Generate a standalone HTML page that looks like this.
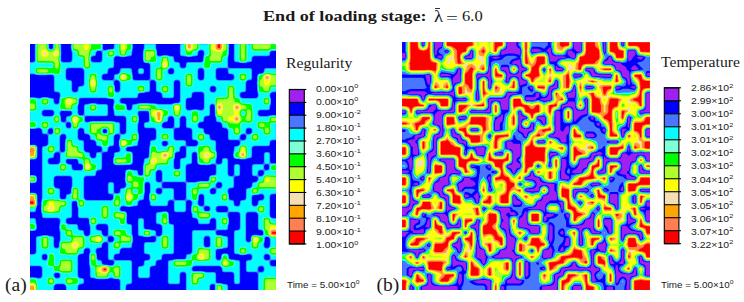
<!DOCTYPE html>
<html><head><meta charset="utf-8">
<style>
html,body{margin:0;padding:0;background:#fff;width:744px;height:302px;overflow:hidden;position:relative}
.t{position:absolute;white-space:nowrap;line-height:1}
.serif{font-family:"Liberation Serif",serif;color:#1a1a1a}
.sans{font-family:"Liberation Sans",sans-serif;color:#1a1a1a}
.lab{position:absolute;font-family:"Liberation Sans",sans-serif;font-size:8.7px;color:#1a1a1a;white-space:nowrap;line-height:1;transform:scaleX(1.2);transform-origin:0 0}
.lab sup{font-size:6px;vertical-align:0;position:relative;top:-3.5px;margin-left:0.3px}
</style></head><body>
<div class="t serif" id="title" style="left:263px;top:9px;font-size:15px;font-weight:bold;transform:scaleX(1.207);transform-origin:0 0">End of loading stage:</div>
<div class="t serif" id="lam" style="left:433.8px;top:7.6px;font-size:17px;transform:scaleX(1.1);transform-origin:0 0">λ</div>
<div style="position:absolute;left:435px;top:8px;width:5.4px;height:0.9px;background:#333"></div>
<div class="t serif" id="eq" style="left:445.5px;top:10.5px;font-size:15px;transform:scaleX(1.4);transform-origin:0 0">=</div>
<div class="t serif" id="six" style="left:461.5px;top:9px;font-size:15px;transform:scaleX(1.1);transform-origin:0 0">6.0</div>
<div class="t serif" id="reg" style="left:286px;top:57px;font-size:13.7px;transform:scaleX(1.147);transform-origin:0 0">Regularity</div>
<div class="t serif" id="tmp" style="left:661px;top:55.5px;font-size:13.7px;transform:scaleX(1.144);transform-origin:0 0">Temperature</div>
<div class="t serif" style="left:5px;top:275px;font-size:19.5px">(a)</div>
<div class="t serif" style="left:376.5px;top:274.5px;font-size:19.5px">(b)</div>
<div class="t sans" style="left:286.5px;top:279px;font-size:8.8px;transform:scaleX(1.12);transform-origin:0 0">Time = 5.00×10<sup style="font-size:6px">0</sup></div>
<div class="t sans" style="left:660.5px;top:279px;font-size:8.8px;transform:scaleX(1.12);transform-origin:0 0">Time = 5.00×10<sup style="font-size:6px">0</sup></div>
<svg style="position:absolute;left:0;top:0" width="744" height="302" viewBox="0 0 744 302">
<rect x="289.3" y="89.50" width="15" height="12.87" fill="#a020f0"/>
<rect x="289.3" y="102.37" width="15" height="12.87" fill="#0000ff"/>
<rect x="289.3" y="115.24" width="15" height="12.87" fill="#4876ff"/>
<rect x="289.3" y="128.11" width="15" height="12.87" fill="#00ffff"/>
<rect x="289.3" y="140.98" width="15" height="12.87" fill="#7fffd4"/>
<rect x="289.3" y="153.85" width="15" height="12.87" fill="#00ff00"/>
<rect x="289.3" y="166.72" width="15" height="12.87" fill="#adff2f"/>
<rect x="289.3" y="179.59" width="15" height="12.87" fill="#ffff00"/>
<rect x="289.3" y="192.46" width="15" height="12.87" fill="#f5deb3"/>
<rect x="289.3" y="205.33" width="15" height="12.87" fill="#ffa500"/>
<rect x="289.3" y="218.20" width="15" height="12.87" fill="#ff7f50"/>
<rect x="289.3" y="231.07" width="15" height="12.87" fill="#ff0000"/>
<line x1="289.3" x2="306.3" y1="89.50" y2="89.50" stroke="#000" stroke-width="1.1"/>
<line x1="289.3" x2="306.3" y1="102.37" y2="102.37" stroke="#000" stroke-width="1.1"/>
<line x1="289.3" x2="306.3" y1="115.24" y2="115.24" stroke="#000" stroke-width="1.1"/>
<line x1="289.3" x2="306.3" y1="128.11" y2="128.11" stroke="#000" stroke-width="1.1"/>
<line x1="289.3" x2="306.3" y1="140.98" y2="140.98" stroke="#000" stroke-width="1.1"/>
<line x1="289.3" x2="306.3" y1="153.85" y2="153.85" stroke="#000" stroke-width="1.1"/>
<line x1="289.3" x2="306.3" y1="166.72" y2="166.72" stroke="#000" stroke-width="1.1"/>
<line x1="289.3" x2="306.3" y1="179.59" y2="179.59" stroke="#000" stroke-width="1.1"/>
<line x1="289.3" x2="306.3" y1="192.46" y2="192.46" stroke="#000" stroke-width="1.1"/>
<line x1="289.3" x2="306.3" y1="205.33" y2="205.33" stroke="#000" stroke-width="1.1"/>
<line x1="289.3" x2="306.3" y1="218.20" y2="218.20" stroke="#000" stroke-width="1.1"/>
<line x1="289.3" x2="306.3" y1="231.07" y2="231.07" stroke="#000" stroke-width="1.1"/>
<line x1="289.3" x2="306.3" y1="243.94" y2="243.94" stroke="#000" stroke-width="1.1"/>
<rect x="289.3" y="89.5" width="15" height="154.44" fill="none" stroke="#000" stroke-width="1.1"/>
</svg>
<div class="lab" style="left:316px;top:84.80px">0.00×10<sup>0</sup></div>
<div class="lab" style="left:316px;top:97.82px">0.00×10<sup>0</sup></div>
<div class="lab" style="left:316px;top:110.84px">9.00×10<sup>&#8209;2</sup></div>
<div class="lab" style="left:316px;top:123.86px">1.80×10<sup>&#8209;1</sup></div>
<div class="lab" style="left:316px;top:136.88px">2.70×10<sup>&#8209;1</sup></div>
<div class="lab" style="left:316px;top:149.90px">3.60×10<sup>&#8209;1</sup></div>
<div class="lab" style="left:316px;top:162.92px">4.50×10<sup>&#8209;1</sup></div>
<div class="lab" style="left:316px;top:175.94px">5.40×10<sup>&#8209;1</sup></div>
<div class="lab" style="left:316px;top:188.96px">6.30×10<sup>&#8209;1</sup></div>
<div class="lab" style="left:316px;top:201.98px">7.20×10<sup>&#8209;1</sup></div>
<div class="lab" style="left:316px;top:215.00px">8.10×10<sup>&#8209;1</sup></div>
<div class="lab" style="left:316px;top:228.02px">9.00×10<sup>&#8209;1</sup></div>
<div class="lab" style="left:316px;top:241.04px">1.00×10<sup>0</sup></div>
<svg style="position:absolute;left:0;top:0" width="744" height="302" viewBox="0 0 744 302">
<rect x="664.3" y="87.80" width="14.6" height="12.99" fill="#a020f0"/>
<rect x="664.3" y="100.79" width="14.6" height="12.99" fill="#0000ff"/>
<rect x="664.3" y="113.78" width="14.6" height="12.99" fill="#4876ff"/>
<rect x="664.3" y="126.77" width="14.6" height="12.99" fill="#00ffff"/>
<rect x="664.3" y="139.76" width="14.6" height="12.99" fill="#7fffd4"/>
<rect x="664.3" y="152.75" width="14.6" height="12.99" fill="#00ff00"/>
<rect x="664.3" y="165.74" width="14.6" height="12.99" fill="#adff2f"/>
<rect x="664.3" y="178.73" width="14.6" height="12.99" fill="#ffff00"/>
<rect x="664.3" y="191.72" width="14.6" height="12.99" fill="#f5deb3"/>
<rect x="664.3" y="204.71" width="14.6" height="12.99" fill="#ffa500"/>
<rect x="664.3" y="217.70" width="14.6" height="12.99" fill="#ff7f50"/>
<rect x="664.3" y="230.69" width="14.6" height="12.99" fill="#ff0000"/>
<line x1="664.3" x2="680.9" y1="87.80" y2="87.80" stroke="#000" stroke-width="1.1"/>
<line x1="664.3" x2="680.9" y1="100.79" y2="100.79" stroke="#000" stroke-width="1.1"/>
<line x1="664.3" x2="680.9" y1="113.78" y2="113.78" stroke="#000" stroke-width="1.1"/>
<line x1="664.3" x2="680.9" y1="126.77" y2="126.77" stroke="#000" stroke-width="1.1"/>
<line x1="664.3" x2="680.9" y1="139.76" y2="139.76" stroke="#000" stroke-width="1.1"/>
<line x1="664.3" x2="680.9" y1="152.75" y2="152.75" stroke="#000" stroke-width="1.1"/>
<line x1="664.3" x2="680.9" y1="165.74" y2="165.74" stroke="#000" stroke-width="1.1"/>
<line x1="664.3" x2="680.9" y1="178.73" y2="178.73" stroke="#000" stroke-width="1.1"/>
<line x1="664.3" x2="680.9" y1="191.72" y2="191.72" stroke="#000" stroke-width="1.1"/>
<line x1="664.3" x2="680.9" y1="204.71" y2="204.71" stroke="#000" stroke-width="1.1"/>
<line x1="664.3" x2="680.9" y1="217.70" y2="217.70" stroke="#000" stroke-width="1.1"/>
<line x1="664.3" x2="680.9" y1="230.69" y2="230.69" stroke="#000" stroke-width="1.1"/>
<line x1="664.3" x2="680.9" y1="243.68" y2="243.68" stroke="#000" stroke-width="1.1"/>
<rect x="664.3" y="87.8" width="14.6" height="155.88" fill="none" stroke="#000" stroke-width="1.1"/>
</svg>
<div class="lab" style="left:690.5px;top:84.00px">2.86×10<sup>2</sup></div>
<div class="lab" style="left:690.5px;top:97.08px">2.99×10<sup>2</sup></div>
<div class="lab" style="left:690.5px;top:110.16px">3.00×10<sup>2</sup></div>
<div class="lab" style="left:690.5px;top:123.24px">3.01×10<sup>2</sup></div>
<div class="lab" style="left:690.5px;top:136.32px">3.01×10<sup>2</sup></div>
<div class="lab" style="left:690.5px;top:149.40px">3.02×10<sup>2</sup></div>
<div class="lab" style="left:690.5px;top:162.48px">3.03×10<sup>2</sup></div>
<div class="lab" style="left:690.5px;top:175.56px">3.04×10<sup>2</sup></div>
<div class="lab" style="left:690.5px;top:188.64px">3.05×10<sup>2</sup></div>
<div class="lab" style="left:690.5px;top:201.72px">3.05×10<sup>2</sup></div>
<div class="lab" style="left:690.5px;top:214.80px">3.06×10<sup>2</sup></div>
<div class="lab" style="left:690.5px;top:227.88px">3.07×10<sup>2</sup></div>
<div class="lab" style="left:690.5px;top:240.96px">3.22×10<sup>2</sup></div>
<svg style="position:absolute;left:30px;top:44px" width="246" height="246" viewBox="30 44 246 246" shape-rendering="geometricPrecision">
<rect x="30" y="44" width="246" height="246" fill="#0000ff"/>
<g transform="translate(30.125 44.125) scale(0.25)">
<path fill="#4876ff" fill-rule="evenodd" d="M0 695l0 52 15 0 1-1 4 0 5-4 1-2 0-4 1-1 0-10-1-1 0-6-1-1 0-5-1-1 0-9-1-1 0-2-3-3-2 0-1-1zM548 669l-4 0-1-1-10 0-1 1-6 0-1 1-5 0-1 1-9 0-1 1-2 0-3 3 0 2-1 1 0 35 1 1 0 2 3 3 2 0 1 1 6 0 1 1 5 1 3 3 1 2 0 4 1 1 0 23-1 1 0 4-1 2-5 4-8 1-1-1-3 0-3-3 0-3-1-1 0-9-1-1 0-2-3-3-2 0-1-1-8 0-1-1-4 0-5-2-17-1-5-4 0-3-1-1 0-29-1-1 0-2-3-3-2 0-1-1-11 0-1 1-2 0-3 3 0 2-1 1 0 59 1 1 0 2 3 3 2 0 1 1 8 0 1 1 4 0 5 2 8 0 1 1 14-1 5-2 11-1 1 1 3 0 3 3 0 3 1 1-1 9-1 2-4 3-3 0-1 1-31 0-1 1-2 0-3 3 0 2-1 1 0 35 1 1 0 2 3 3 2 0 1 1 7 0 1 1 5 1 3 4 0 4 1 2-1 1 0 4-3 4-5 1-1 1-7 0-1 1-2 0-3 3-2 14-3 4-5 1-1 1-7 0-1 1-2 0-3 3 0 2-1 1 0 35 1 1 0 2 3 3 2 0 1 1 35 0 1-1 2 0 3-3 0-2 1-1 0-31 1-1 1-5 4-3 14-2 3-3 0-2 1-1 0-7 1-1 1-5 4-3 14-2 3-3 2-14 3-4 5-1 1-1 31 0 1-1 2 0 3-3 0-2 1-1 0-107-1-1 0-2-3-3-12-2-4-5 0-11-1-1 0-21-1-1 0-4-1-2zM0 594l0 78 17 0 1-1 2 0 3-3 2-13 2-3 0-2 2-4 0-5 1-1-1-35-3-7-5-3-2 0-1-1zM0 523l0 33 13 0 1-1 5 0 1-1 2 0 4-4 0-2 1-1 0-6 1-2-1-1 0-6-1-1 0-2-4-4-2 0-1-1-5 0-1-1zM0 402l0 59 18 0 7-3 4-8 0-39-2-4-3-3-4-2zM435 96l-3 3 0 2-1 1 0 11 1 1 0 2 3 3 2 0 1 1 11 0 1-1 2 0 3-3 0-2 1-1 0-11-1-1 0-2-3-3-2 0-1-1-11 0-1 1zM815 65l1 1 0 2 3 3 2 0 1 1 8 0 1 1 4 0 5 2 8 0 1 1 14-1 1-1 8-1 1-1 8 0 1-1 2 0 3-3 0-2 1-1 0-7 1-1 0-3 1-2 4-3 3 0 1-1 55 0 1-1 2 0 3-3 2-12 4-4 2-1 16 0 0-27-168 0zM19 0l0 65-4 5-3 0-1 1-11 0 0 49 13 0 1 1 5 0 5 2 8 0 1 1 32 0 1-1 22 0 2 1 4 4 0 3 1 1 0 53 1 1 0 2 3 3 2 0 1 1 7 0 1 1 5 1 3 4 0 4 1 1-1 10-1 1 0 6-1 1 0 11-5 6-9 0-4-3-1-5-1-1 0-7-1-1 0-2-3-3-2 0-1-1-8 0-1-1-4 0-5-2-8 0-1-1-14 1-1 1-9 1-1 1-11-1-1-1-6 0-1-1-18 0 0 127 18 0 1-1 6 0 1-1 6 0 1-1 7 1 2 1 4 5 2 13 3 3 2 0 1 1 9 0 1 1 3 0 3 3 0 3 1 1 0 27-1 1 0 4-1 2-5 4-13 2-3 3 0 2-1 1 0 200-1 1 0 6-1 1 0 6-1 1 0 24-1 1 1 17 1 1 1 8 1 1 0 8 1 1 0 2 3 3 2 0 1 1 55 0 1 1 3 0 4 3 2 10-1 1 0 6-1 1 0 6-1 1 0 13 1 1 0 6 1 1 0 6 1 1 0 28-1 1 0 5-2 5 0 8-1 1 0 8-1 2-4 3-8 0-4-3-1-5-1-1 0-31-1-1 0-2-3-3-2 0-1-1-8 0-1-1-4 0-5-2-14-1-1 1-8 0-1 1-8 1-1 1-8 0-1 1-2 0-3 3 0 2-1 1 0 55-1 1-1 5-4 3-3 0-1 1-13 0 0 49 37 0 1 1 5 1 2 2 1 5 1 1 0 27-1 1 0 3-3 4-2 1-4 0-1 1-10-1-1-1-6 0-1-1-18 0 0 51 96 0 0-11 1-1 0-4 1-2 3-3 2-1 4 0 1-1 23 0 1 1 4 0 2 1 4 5 0 4 1 1 0 11 49 0 0-12 1-1 1-5 5-4 13-2 3-3 0-2 1-1 0-11-1-1 0-2-3-3-2 0-1-1-6 0-1-1-5-1-3-3-1-5-1-1 0-72 1-1 0-4 4-5 5-1 1-1 6 0 1-1 2 0 3-3 2-13 1-2 5-4 10 0 2 1 3 4 0 4 1 1 0 2-1 1 0 5-2 5-1 17 1 1 0 24 1 1 0 6 1 1 0 6 1 1 0 32 1 1 0 2 3 3 2 0 1 1 8 0 1 1 4 0 5 2 8 0 1 1 29 0 1-1 8 0 1-1 9-1 1-1 9 1 5 2 17 1 5 4 0 3 1 1 0 35 25 0 0-13 1-1 1-5 4-3 14-2 3-3 0-2 1-1 0-83-1-1 0-2-3-3-2 0-1-1-57 0-1-1-3 0-3-3-1-8 1-1 0-4 3-4 5-1 1-1 7 0 1-1 2 0 3-3 2-13 4-5 2-1 4 0 1-1 29 0 1-1 2 0 3-3 0-2 1-1 0-8 1-1 0-4 2-5 1-14-1-1 0-8-1-1-1-9-1-1 0-31-1-1 0-2-3-3-2 0-1-1-6 0-5-2-2-2 0-2-1-1 0-22 1-1 0-7-1-1 0-5-1-1 0-2-4-4-2 0-1-1-13-1-2-1-3-4 0-7 4-5 2-1 4 0 1-1 2 0 1 1 6 0 1 1 6 0 1 1 13 0 1-1 6 0 1-1 5 0 1-1 9 0 1-1 2 0 3-3 0-2 1-1 0-6 1-1 1-5 5-4 10-1 1-1 2 0 3-3 0-2 1-1 0-9 1-1 1-12 1-1 0-35 5-6 9 0 4 3 1 5 1 1 0 27-1 1 0 5-2 5-1 14 1 1 0 8 1 1 1 8 1 1 0 8 1 1 0 2 3 3 2 0 1 1 59 0 1-1 2 0 3-3 0-2 1-1 0-7 1-1 1-5 4-3 9-1 1 1 3 0 3 3 0 3 1 1 0 33 1 1 0 2 3 3 2 0 1 1 35 0 1-1 2 0 3-3 0-2 1-1 0-33 1-1 0-3 3-3 3 0 1-1 8 1 5 4 1 2 0 4 1 1-1 2 0 5-2 5-1 14 1 1 0 8 1 1 1 8 1 1 0 8 1 1 0 2 3 3 2 0 1 1 6 0 1 1 5 1 4 5 1 10 1 1 0 2 3 3 2 0 1 1 35 0 1-1 2 0 3-3 0-2 1-1 1-10 1-2 5-4 10 0 4 3 1 5 1 1 0 29-1 1 0 3-3 3-3 0-1 1-81 0-1 1-2 0-3 3 0 2-1 1 0 78-1 1 0 3-1 2-5 4-13 2-3 3-2 12-3 3-2 1-32 0-1 1-8 0-1 1-8 1-1 1-8 0-1 1-2 0-3 3 0 2-1 1 0 83 1 1 0 2 3 3 2 0 1 1 35 0 1-1 2 0 3-3 0-2 1-1 0-31 1-1 0-3 3-4 8-2 1 1 4 0 4 3 1 5 1 1 0 61 97 0 0-13 1-1 0-3 1-2 4-3 9 0 3 2 1 2 0 18 53 0 0-17-1-1 0-2-3-3-2 0-1-1-8 0-1-1-4 0-5-2-18-1-4-3 0-3-1-1 0-30-1-1 0-2-3-3-2 0-1-1-31 0-1-1-5 0-5-2-8 0-1-1-32 0-5-4 0-8 4-5 5-1 1-1 96 0 1 1 3 0 6 5 2 5 0 6 1 1 0 2 3 3 2 0 1 1 31 0 1 1 3 0 4 3 1 5 1 1 0 31 1 1 0 2 3 3 2 0 1 1 11 0 1-1 2 0 3-3 0-2 1-1 0-83-1-1 0-2-3-3-2 0-1-1-9 0-1-1-5 0-1-1-16-1-2-1-4-5 0-6-1-1 0-4-1-2-3-3-2-1-4 0-1-1-12 1-5 4-1 2 0 4-1 1 0 7-1 1 0 2-5 4-8 0-4-3-1-5-1-1 0-25 1-1 0-3 3-3 2-1 8 0 1-1 8 0 1-1 8-1 1-1 8 0 1-1 2 0 3-3 0-2 1-1 0-35-1-1 0-2-3-3-2 0-1-1-8 0-1-1-4 0-5-2-17-1-5-4 0-3-1-1 1-7 3-3 3 0 1-1 33 0 1-1 2 0 3-3 0-2 1-1 0-8 1-1 0-4 2-5 0-8 1-1-1-14-1-1-1-9-1-1 1-9 3-3 3 0 1-1 29 0 1 1 5 1 2 2 1 5 1 1 0 51-1 1 0 3-3 4-5 1-1 1-7 0-1 1-2 0-3 3 0 2-1 1 0 83 1 1 0 2 3 3 2 0 1 1 8 0 1 1 4 0 5 2 14 1 1-1 8 0 5-2 5 0 1-1 2 0 1 1 4 0 4 3 1 2 0 4 1 1-2 8-4 3-14 2-3 3 0 2-1 1 0 35 1 1 0 2 3 3 2 0 1 1 33 0 1 1 3 0 3 3 0 3 1 1 0 63 72 0 0-96-13 0-1-1-3 0-4-3-1-2 0-4-1-1 1-8 3-3 3 0 1-1 15 0 0-169-11 0-1-1-4 0-2-1-3-3-1-2 0-4-1-1 0-73 1-1 0-3 1-2 4-3 3 0 1-1 13 0 0-124-17 0-5-4 0-3-1-1 0-30-1-1 0-2-3-3-2 0-1-1-11 0-1 1-2 0-3 3 0 2-1 1 0 33-1 1 0 3-3 3-3 0-1 1-33 0-1 1-2 0-3 3 0 2-1 1 0 35 1 1 0 2 3 3 2 0 1 1 9 0 1 1 3 0 3 3 0 3 1 1-1 8-4 5-5 1-1 1-6 0-1 1-2 0-3 3-2 13-4 5-5 1-1 1-6 0-1 1-2 0-3 3 0 2-1 1 0 31-1 1-1 5-4 3-14 2-3 3-2 14-3 4-2 1-4 0-1 1-2-1-4 0-2-1-3-4-2-14-3-3-12-2-3-3-1-2 0-8-1-1 0-8-2-5 0-5-1-1 0-2 1-1 0-4 3-4 5-1 1-1 7 0 1-1 2 0 3-3 0-2 1-1 0-33 1-1 0-3 3-3 3 0 1-1 9 0 1-1 2 0 3-3 0-2 1-1 0-35-1-1 0-2-3-3-2 0-1-1-11 0-1 1-2 0-3 3 0 2-1 1 0 33-1 1 0 3-3 3-3 0-1 1-4 0-1-1-4 0-4-3-1-5-1-1 0-55-1-1 0-2-3-3-2 0-1-1-11 0-1 1-2 0-3 3-2 14-3 4-2 1-4 0-1 1-4 0-1-1-3 0-3-3-1-9 1-1 0-5 2-5 1-14-1-1 0-8-1-1-1-9-1-1 0-31-1-1 0-2-3-3-2 0-1-1-7 0-1-1-5-1-3-4-2-14-3-3-2 0-1-1-6 0-1-1-5-1-4-5-2-13-3-3-2 0-1-1-7 0-1-1-3 0-2-1-3-4 0-10 4-5 5-1 1-1 6 0 1-1 2 0 3-3 2-14 3-4 5-1 1-1 7 0 1-1 2 0 3-3 0-2 1-1 0-31 1-1 0-3 1-2 4-3 7 0 3 2 2 5 1 36 1 1 0 3 2 5 2 15 3 3 2 0 1 1 6 0 1 1 5 1 4 5 2 13 3 3 2 0 1 1 10 1 5 4 1 5 1 1 0 30 1 1 0 2 3 3 2 0 1 1 33 0 1 1 3 0 3 3 1 7-1 1-1 5-6 5-12 2-3 3 0 2-1 1 0 9-1 1-1 12-1 1 0 10 1 1 0 4 4 5 2 1 4 0 1 1 11 0 1 1 5 0 1 1 17 0 11-4 14-2 3-3 0-2 1-1 0-31 1-1 0-3 3-4 5-1 1-1 55 0 1-1 2 0 3-3 2-14 3-4 5-1 1-1 13 0 0-101-14 0-1 1-8 0-1 1-9 1-1 1-27 0-1-1-3 0-4-3-2-8 1-1 0-4 1-2 4-3 3 0 1-1 31 0 1-1 2 0 3-3 0-2 1-1 0-8 1-1 0-4 2-5 0-8 1-1-1-14-2-5 0-12 1-2 5-4 4 0 1-1 11 0 0-97-41 0-1 1-2 0-3 3 0 2-1 1 0 5-2 5-2 2-4 2-12 1-5 4-1 2 0 4-1 1 0 21-1 1 0 11 1 1 0 24 1 1 0 6 1 1 1 10-1 1 0 4-3 4-5 1-1 1-50 0-1-1-5-1-3-3-1-2 0-10 1-2 4-3 3 0 1-1 7 0 1-1 2 0 3-3 0-2 1-1 0-29 1-1 0-4 4-5 5-1 1-1 6 0 1-1 2 0 3-3 0-2 1-1 0-35-1-1 0-2-3-3-2 0-1-1-81 0-1-1-3 0-3-3 0-3-1-1 0-30 1-1 0-6 1-1 0-6 1-1 1-42-197 0 0 41 1 1 0 2 3 3 2 0 1 1 9 0 1 1 12 1 1 1 13 0 1-1 6 0 1-1 5 0 1-1 9 0 1-1 2 0 3-3 2-13 1-2 5-4 10 0 2 1 3 4 0 4 1 1-1 10-1 1 0 6-1 1 0 11-5 6-3 0-1 1-53 0-1 1-2 0-3 3 0 2-1 1 0 7-1 1-1 5-4 3-4 0-1 1-2-1-4 0-4-3-1-5-1-1 0-7-1-1 0-2-3-3-14-2-4-3-1-5-1-1 0-7-1-1 0-2-3-3-2 0-1-1-8 0-1-1-4 0-5-2-8 0-1-1-14 1-5 2-10 0-2-1-3-4-1-17-1-1-1-9-1-1 0-13-49 0 0 13-1 1 0 5-2 5 0 8-1 1 0 28 1 1 0 5 1 1 0 2 4 4 2 0 1 1 5 0 1 1 7 0 4 3 2 5 0 51-1 1 0 3-3 3-3 0-1 1-51 0-1-1-5-1-2-2 0-2-1-1 0-11-1-1 0-6-1-1 0-5-1-1 0-9-1-1 0-2-3-3-2 0-1-1-35 0-1 1-2 0-3 3 0 2-1 1 0 5-1 1-1 5-6 5-9 1-1 1-2 0-3 3 0 2-1 1 0 9-1 1 0 3-3 3-3 0-1 1-29 0-1-1-5-1-3-4 0-4-1-2 1-1 0-4 1-2 4-3 14-2 3-3 2-14 3-4 5-1 1-1 7 0 1-1 2 0 3-3 0-2 1-1 0-29 1-1 0-4 4-5 2-1 12 0 5 2 14 1 1-1 8 0 1-1 8-1 1-1 8 0 1-1 2 0 3-3 0-2 1-1 0-9 1-1 1-12 1-1 0-18-76 0 0 11-1 1 0 3-3 3-2 1-8 0-1 1-8 0-1 1-9 1-1 1-6-1-4-5 0-17-128 0 0 14 1 1 0 8 1 1 1 9 1 1 0 27-1 1-1 5-2 2-5 1-1 1-24 0-1-1-5-1-3-4 0-21 1-1 0-15-1-1 0-27-33 0 0 14-1 2-4 3-5 0-4-3-1-2 0-14zM100 916l2 0 1-1 9 0 2 1 4 4 0 9-1 2-4 3-10 0-2-1-4-5 0-8zM916 890l8-2 1 1 4 0 4 3 2 8-1 1 0 4-3 4-2 1-4 0-1 1-4 0-1-1-3 0-3-3-1-8 1-1 0-4zM940 842l2-1 10 0 5 4 2 10-1 1 0 3-3 3-8 1-1-1-4 0-4-3-2-8 1-1 0-4zM54 841l9 0 4 3 0 2 1 1 0 9-5 6-9 0-2-1-3-4 0-4-1-1 1-2 0-4 1-2zM296 793l7-1 1 1 3 0 3 3 0 3 1 1 0 57 1 1 0 2 3 3 2 0 1 1 9 0 1 1 3 0 3 3 0 3 1 1-1 7-6 5-11 0-1-1-10-1-1-1-11 0-5-4-2-10-3-3-12-2-4-5-1-17-1-1-1-9-1-1 1-7 1-2 4-3 14-2 3-3 0-2 1-1 0-5 1-1 1-5zM944 771l7 0 2 1 5 5 0 3 1 1 0 22-1 1 0 4-1 2-5 4-10 0-2-1-3-4 0-4-1-1 1-10 1-1 0-6 1-1 0-10 1-2zM702 769l4 0 1-1 2 1 4 0 2 1 3 4 0 3 1 1 0 25-1 1 0 3-5 4-11 0-2-1-3-4 0-3-1-1 0-24 1-1 1-5zM316 769l3 0 1-1 8 1 5 4 1 2 0 9-4 5-10 2-1-1-3 0-3-3 0-3-1-1 0-7 1-1 0-3zM269 722l2-1 4 0 1-1 25 0 1 1 3 0 4 3 1 5 1 1 0 29-1 1 0 3-3 3-6 1-1-1-4 0-2-1-5-6-1-9-1-1 0-2-3-3-14-2-4-3-1-2 0-10zM899 672l1 1 4 0 2 1 3 3 1 2 0 4 1 1 0 53 1 1 0 2 3 3 12 2 5 6 0 8-1 2-4 3-12 0-1-1-8 0-1-1-9 0-1 1-4 0-4 2-4 6 0 4-1 1 0 9-1 2-3 3-8 0-4-3-1-5-1-1 0-99 1-1 1-5 4-3 3 0 1-1zM745 654l3-4 5-1 1-1 27 0 1 1 3 0 4 3 1 2 0 4 1 1 0 4-1 1 0 3-3 3-3 0-1 1-29 0-1-1-3 0-4-3-1-2 0-4-1-1 1-2zM697 652l3-3 3 0 1-1 4 0 1 1 4 0 2 1 3 4 0 9-5 4-11 0-4-3-1-5-1-1 1-2zM174 628l9 0 4 4 1 15 1 1 1 9 1 1 0 31 1 1 0 2 3 3 2 0 1 1 29 0 1 1 3 0 4 5 1 17 1 1 1 9 1 1 0 25-1 1 0 4-1 2-5 4-9 0-5-4-1-5-1-1 0-6-1-1 0-2-3-3-14-2-4-3-1-5-1-1 0-7-1-1 0-2-3-3-2 0-1-1-30 0-1-1-5-1-4-5 0-10 3-4 5-1 1-1 7 0 1-1 2 0 3-3 0-2 1-1 0-53 1-1 0-3zM680 601l9 0 4 3 1 5 1 1 0 29-1 1 0 3-3 3-3 0-1 1-10-2-3-3-1-2 0-4-1-1 0-2 1-1 0-6 1-1 0-6 1-1 0-11zM931 602l3 4 0 4 1 1-2 8-4 3-14 2-3 3 0 2-1 1-1 10-4 5-2 1-10 0-4-3-1-5-1-1 0-25 1-1 0-3 5-4 17-1 1-1 9-1 1-1zM735 576l1 1 3 0 3 3 0 3 1 1-1 9-1 2-4 3-4 0-1 1-2-1-4 0-2-1-3-4 0-10 4-5zM508 578l2-1 4 0 1-1 4 0 1 1 3 0 3 3 1 8-1 1 0 4-3 4-2 1-10 0-5-4-1-2 0-10zM749 554l2-1 10 0 4 3 2 8-1 1 0 4-3 4-2 1-4 0-1 1-4 0-1-1-3 0-3-3 0-3-1-1 1-8zM529 556l3-3 3 0 1-1 79 0 1 1 3 0 3 3 0 3 1 1 0 55-1 1 0 3-3 3-3 0-1 1-31 0-1-1-3 0-3-3 0-3-1-1 0-33-1-1 0-2-3-3-2 0-1-1-33 0-1-1-3 0-3-3 0-3-1-1 0-7 1-1zM102 529l3 0 1-1 51 0 1 1 5 1 3 4 0 3 1 1 0 27-1 1 0 5-2 5-1 17-1 2-4 3-11 2-3 3-2 12-5 4-11 0-2-1-3-4 0-3-1-1 0-28-1-1 0-2-3-3-2 0-1-1-10-1-2-1-4-5 0-4-1-1 0-25 1-1 1-5zM511 505l10 0 4 3 1 5 1 1 0 29-1 1 0 3-3 3-3 0-1 1-4 0-1-1-4 0-4-3-1-5-1-1 0-25 1-1 0-4 1-2zM931 505l3 3 0 3 1 1 0 3-1 1-1 5-6 5-3 0-1 1-7-1-3-3 0-3-1-1 0-4 1-1 0-4 1-2 4-3 4 0 1-1zM940 481l8-1 1 1 3 0 3 3 1 2 0 10-1 1 0 2-2 2-5 1-1 1-3 0-1-1-3 0-3-3 0-3-1-1 0-7 1-1 0-3zM145 464l5-4 35 0 2 1 3 4 2 11 3 3 11 2 3 3 1 2 0 11-1 2-3 3-3 0-1 1-24 0-1-1-5-1-3-4-2-14-3-3-2 0-1-1-6 0-1-1-5-1-4-5zM652 434l2-1 8 0 2 1 3 4 0 11 1 1 0 21 1 1 0 4 4 5 2 1 4 0 1 1 21 0 1 1 8 0 1-1 8 0 5-2 11-1 1 1 3 0 3 3 0 3 1 1 0 27-1 1 0 3-5 4-7 0-1 1-5 0-1 1-2 0-4 4 0 2-1 1 0 5-1 1 0 5-4 4-30 0-1 1-8 0-1 1-9 1-1 1-29 0-1-1-3 0-3-3 0-3-1-1 0-53 1-1 0-3 3-4 5-1 1-1 7 0 1-1 2 0 3-3 0-2 1-1 0-31 1-1 0-3zM115 433l3 3 0 3 1 1 0 27-1 1 0 4-1 2-3 3-2 1-4 0-1 1-25 0-1-1-5-1-3-4 0-4-1-1 2-8 4-3 14-2 3-3 0-2 1-1 1-10 4-5 2-1 4 0 1-1zM619 409l3 3 0 3 1 1 0 29-1 1 0 3-1 2-4 3-3 0-1 1-7 0-1 1-2 0-3 3 0 2-1 1 0 29-1 1 0 3-5 4-11 0-5-4 0-3-1-1 0-25 1-1 0-5 2-5 1-17 3-4 5-2 5 0 1-1 2 0 3-3 2-14 3-4 2-1 4 0 1-1zM529 392l5-4 11 0 5 4 0 8-1 2-5 4-10 0-2-1-3-4zM137 361l4 3 1 2 0 4 1 1 0 2-1 1 0 5-2 5 0 8-1 1 0 32-3 4-7 2-1-1-4 0-3-3 0-3-1-1 0-51 1-1 0-4 4-5 2-1zM859 361l3 3 0 3 1 1 0 4-1 1 0 4-1 2-4 3-4 0-1 1-8-1-3-3 0-3-1-1 2-10 5-4 4 0 1-1zM294 341l2-1 6 0 4 3 1 2 0 6-4 4-7 0-4-3-1-2 0-5zM197 338l2-1 10 0 2 1 3 4 2 14 3 3 2 0 1 1 6 0 1 1 5 1 4 5 2 13 3 3 2 0 1 1 6 0 1 1 5 1 4 5 2 13 3 3 2 0 1 1 10 1 5 4 1 2 0 4 1 1-1 7-3 3-3 0-1 1-9 0-1 1-2 0-3 3-2 14-3 4-2 1-10 0-2-1-4-5-2-13-3-3-2 0-1-1-10-1-5-4-1-2 0-4-1-1 0-29-1-1 0-2-3-3-2 0-1-1-7 0-1-1-5-1-2-2-1-5-1-1 0-25 1-1 0-4zM79 337l8 0 4 5 0 11-4 5-7 1-1-1-3 0-3-3 0-3-1-1 1-8 1-2zM881 337l2 1 3 4 0 10-1 2-5 4-4 0-1 1-7-1-3-3 0-3-1-1 0-4 1-1 0-4 1-2 4-3 4 0 1-1 2 1zM148 313l4 0 1-1 1 1 4 0 4 4 1 2 0 10-4 5-9 0-4-3-1-2 0-4-1-1 0-4 1-1 0-3zM605 290l2-1 10 0 4 3 1 5 1 1 0 31 1 1 0 2 3 3 14 2 4 3 1 5 1 1 0 31 1 1 0 2 3 3 13 2 5 4 1 2 0 9-4 5-5 1-1 1-28 0-1-1-3 0-3-3 0-3-1-1 0-9-1-1 0-2-3-3-2 0-1-1-31 0-1-1-3 0-4-3-1-5-1-1 0-29 1-1 0-3 3-3 3 0 1-1 9 0 1-1 2 0 3-3 0-2 1-1 0-29 1-1 0-4zM570 290l3 3 1 2 0 4 1 1 0 27-1 1 0 3-3 3-3 0-1 1-29 0-1-1-5-1-3-4 0-9 1-2 6-5 9-1 1-1 2 0 3-3 2-13 4-5 2-1 9 0zM474 271l0 3 1 1 1 29-1 1 0 2-2 2-5 2-6 0-1 1-2 0-3 3 0 2-1 1 0 11 1 1 0 2 3 3 2 0 1 1 31 0 1 1 5 1 2 2 1 5 1 1 0 27-1 1 0 3-3 4-5 1-1 1-7 0-1 1-2 0-3 3 0 2-1 1 0 9-1 1-1 12-1 1 0 24-1 1 0 10-5 6-11 2-3 3 0 2-1 1 0 8-1 1 0 4-2 5 0 8-1 1 0 30-1 2-4 3-7 0-2-1-4-4-2-12-3-3-2 0-1-1-9 0-1-1-12-1-1-1-10 0-1 1-4 0-5 4-1 2 0 4-1 1 0 21-1 1 0 8 1 1 0 8 2 5 0 12-1 2-5 4-13 2-3 3 0 2-1 1 0 6-2 5-2 2-2 0-1 1-10 0-5-4 0-3-1-1 0-30-1-1 0-2-3-3-2 0-1-1-11 0-1 1-2 0-3 3 0 2-1 1 0 35 1 1 0 2 3 3 2 0 1 1 7 0 1 1 2 0 3 3 1 2 0 10-5 6-3 0-1 1-95 0-1-1-4 0-2-1-3-3-1-2 0-4-1-1 0-73 1-1 0-3 3-4 5-1 1-1 31 0 1-1 2 0 3-3 0-2 1-1 0-6 1-1 1-5 5-4 10-1 1-1 2 0 3-3 0-2 1-1 0-57 1-1 0-3 3-3 3 0 1-1 9 0 1-1 2 0 3-3 0-2 1-1 0-6 1-1 1-5 5-4 10-1 1-1 2 0 3-3 0-2 1-1 0-29 1-1 0-4 4-5 10-2 1 1 3 0 3 3 1 8-1 1 0 4-2 4-1 9-1 1 1 15 3 8 0 11-1 2-4 3-3 0-1 1-7 0-1 1-2 0-3 3 0 2-1 1 0 8-1 1 0 4-2 5 0 8-1 1 2 13 4 4 2 0 1 1 5 0 1 1 53-1 1-1 4 0 5-4 1-2 0-4 1-1 0-31-1-1 0-4-1-2-5-4-4 0-1-1-8 0-1-1-2 0-3-4 0-6 4-5 2 0 1-1 10 0 1-1 6 0 1-1 5 0 1-1 9 0 1-1 2 0 3-3 0-2 1-1 0-8 1-1 0-4 2-5 0-8 1-1-1-14-1-1-1-9-1-1 0-27 1-1 0-5 2-5 0-8 1-1-1-14-2-5 0-11 5-4 32 0zM163 269l3 3 0 7-1 2-6 5-9 1-1 1-2 0-3 3 0 2-1 1 0 9-1 1 0 3-3 3-3 0-1 1-7-1-4-5-1-17-2-5 0-11 3-4 2 0 1-1 22 0 1 1 11 0zM48 275l1-1 0-4 3-4 5-1 1-1 27 0 1 1 5 1 3 4 0 10-1 2-3 3-2 1-4 0-1 1-25 0-1-1-3 0-4-3zM197 220l3-3 3 0 1-1 98 0 1 1 6 0 1 1 6 0 1 1 11 0 1 1 2 0 2 2 1 5 1 1 0 2-1 1 0 6-1 1 0 6-1 1 0 13 1 1 0 6 1 1 0 5 1 1 0 9 1 1 0 2 3 3 2 0 1 1 31 0 1 1 5 1 3 4 0 3 1 1 0 51-1 1-1 5-4 3-4 0-1 1-8-1-3-3 0-3-1-1 0-33-1-1 0-2-3-3-2 0-1-1-8 0-1-1-4 0-5-2-8 0-1-1-77 0-1 1-8 0-5 2-11 0-4-3 0-2-1-1 0-10 4-5 3 0 1-1 78 0 1-1 2 0 3-3 0-2 1-1 0-35-1-1 0-2-3-3-2 0-1-1-31 0-1-1-5 0-5-2-8 0-1-1-14 1-1 1-8 1-1 1-8 0-1 1-2 0-3 3 0 2-1 1 0 30-1 1 0 3-5 4-9 0-1-1-2 0-3-3-1-5-1-1 0-24 1-1 0-5 2-5 0-8 1-1 0-8zM652 194l5-1 1-1 27 0 1 1 3 0 4 3 1 5 1 1 0 51-1 1 0 3-3 4-10 2-1-1-6 0-1-1-6 0-1-1-13 0-1 1-6 0-1 1-10 1-1-1-4 0-4-3-1-5-1-1 0-27 1-1 0-3 1-2 4-3 3 0 1-1 7 0 1-1 2 0 3-3 2-14zM724 170l8-2 1 1 4 0 4 3 2 8-1 1 0 4-3 4-8 2-1-1-4 0-4-3-2-8 1-1 0-4zM598 150l0 3 1 1 0 72-1 1 0 3-5 4-10 0-1 1-5 0-1 1-3 0-1 1-7 1-1 1-51 0-1-1-6 0-1-1-6 0-1-1-24 0-1-1-32 0-1 1-8 0-1 1-8 1-1 1-8 0-1 1-2 0-3 3 0 2-1 1 0 7-1 1-1 5-4 3-9 0-4-3 0-2-1-1 0-8-1-1 0-4-1-2-5-4-4 0-1-1-8 0-6-5 0-9 1-2 4-3 3 0 1-1 55 0 1-1 2 0 3-3 2-12 5-4 17-1 1-1 8-1 1-1 8 0 1-1 2 0 3-3 0-2 1-1 0-33 1-1 0-3 3-3 3 0 1-1 8 1 2 1 4 5 0 4 1 1 0 29 1 1 0 2 3 3 2 0 1 1 6 0 1 1 5 1 4 5 1 10 1 1 0 2 3 3 2 0 1 1 35 0 1-1 2 0 3-3 0-2 1-1 0-55 1-1 0-3 3-4 2-1 4 0 1-1 8 2zM344 144l9 2 4 4 1 5 1 1 0 25-1 1-1 5-4 3-8 0-2-1-3-4-1-17-2-5-1-11 1-1 0-3 3-3 3 0zM678 97l10 0 2 1 3 3 1 5 1 1 0 26-1 1 0 3-3 4-2 1-4 0-1 1-8-2-2-2-1-5-1-1 0-27 1-1 1-5zM558 98l2-1 9 0 4 3 2 8-1 1 0 4-3 4-8 2-1-1-4 0-4-3-1-2 0-9zM746 100l2-2 5-1 1-1 29 0 1 1 3 0 3 3 0 3 1 1 0 9 1 1 0 2 3 3 14 2 4 3 1 2 0 4 1 1-2 8-2 2-5 1-1 1-51 0-1-1-5-1-2-2-1-5-1-1 0-27 1-1zM150 97l3 0 1-1 49 0 1 1 4 0 2 1 4 5 0 4 1 1 0 49-1 1 0 3-1 2-4 3-14 2-3 3 0 2-1 1 0 7-1 1 0 3-1 2-4 3-4 0-1 1-2-1-4 0-2-1-3-4 0-3-1-1 0-31-1-1 0-2-3-3-2 0-1-1-7 0-1-1-3 0-2-1-3-4 0-3-1-1 0-27 1-1 1-5zM283 28l3 3 0 3 1 1 0 26-1 1-1 5-2 2-5 1-1 1-24 0-1-1-5-1-3-4 0-11 1-2 4-3 11-2 3-3 2-12 4-4 2-1 10 0z"/>
<path fill="#00ffff" fill-rule="evenodd" d="M554 872l0 79 1 1 0 2 2 2 2 0 1 1 31 0 1-1 2 0 2-2 0-2 1-1 0-31 1-1 1-5 3-3 5-1 1-1 7 0 1 1 3 0 5 4 1 5 1 1 0 63 91 0 0-15 1-1 0-3 4-5 5-1 1-1 9 0 4 3 0 23 48 0 0-15-1-1 0-2-2-2-2 0-1-1-6 0-11-4-5 0-1-1-16 0-3-4 0-33-1-1 0-2-2-2-2 0-1-1-30 0-11-4-5 0-1-1-36 0-1-1-2 0-2-2-2-5 1-7 6-7 5-1 1-1 98 0 1 1 3 0 3 2 6 7 0 2 1 1 0 5 1 1 0 2 2 2 2 0 1 1 31 0 1 1 5 1 3 3 1 5 1 1 0 31 1 1 0 2 2 2 2 0 1 1 7 0 1-1 2 0 2-2 0-2 1-1 0-79-1-1 0-2-2-2-15-2-4-2-15-1-4-2-3-5-1-11-2-3-3-2-4 0-1-1-10 1-3 2-2 3-2 15-4 5-5 2-8-1-2-1-4-5 0-3-1-1 0-29 2-5 2-2 2 0 1-1 12 0 1-1 5 0 11-4 6 0 1-1 2 0 2-2 0-2 1-1 0-31-1-1 0-2-2-2-2 0-1-1-6 0-11-4-5 0-1-1-12 0-1-1-2 0-2-2-2-5 0-7-1-2-3-2-81 0-1 1-2 0-2 2 0 2-1 1 0 77-1 1-1 5-7 6-12 2-2 2 0 2-1 1 0 5-1 1 0 2-4 4-2 0-1 1-35 0-1 1-5 0-7 3-13 2-2 2 0 2zM700 766l3 0 1-1 7 0 1 1 3 0 2 1 4 5 0 3 1 1 0 29-2 5-2 2-2 0-1 1-14 0-4-2-3-4 0-2-1-1 0-28 1-1 1-5zM437 699l-2 2 0 2-1 1 0 55 1 1 0 2 2 2 2 0 1 1 6 0 11 4 5 0 1 1 9 0 1-1 5 0 11-4 8 0 2-1 2-3 0-9-1-1 0-2-2-2-2 0-1-1-6 0-11-4-5 0-1-1-12 0-1-1-2 0-2-2-2-5 0-29-1-1 0-2-2-2-2 0-1-1-7 0-1 1zM0 698l0 47 14 0 1-1 4 0 3-2 2-3 0-4 1-1-1-14-2-4-2-15-2-2-2 0-1-1zM547 671l-4 0-1-1-14 1-1 1-7 1-1 1-7 0-1 1-2 0-2 2 0 2-1 1 0 31 1 1 0 2 2 2 11 2 8 7 2 5 0 27-2 5-6 6-5 2-7 0-3 2-1 2 0 9-1 1 0 3-4 5-5 1-1 1-31 0-1 1-2 0-2 2 0 2-1 1 0 31 1 1 0 2 2 2 2 0 1 1 7 0 1 1 5 1 4 5 0 3 1 1 0 7-1 1-1 5-3 3-5 1-1 1-7 0-1 1-2 0-2 2-2 14-4 5-5 1-1 1-7 0-1 1-2 0-2 2 0 2-1 1 0 31 1 1 0 2 2 2 2 0 1 1 31 0 1-1 2 0 2-2 0-2 1-1 0-31 1-1 1-5 5-4 14-2 2-2 0-2 1-1 0-7 1-1 1-5 5-4 14-2 2-2 0-2 1-1 0-7 1-1 0-3 4-5 5-1 1-1 31 0 1-1 2 0 2-2 0-2 1-1 0-103-1-1 0-2-2-2-2 0-1-1-6 0-6-4 0-2-1-1 0-15-1-1 0-18-1-1 0-4-2-3zM580 627l-2 3 0 33 1 1 0 2 2 2 2 0 1 1 31 0 1-1 2 0 2-2 0-2 1-1 0-33-1-2-3-2-35 0zM0 595l0 74 15 0 1-1 2 0 2-2 2-10 6-12 0-31-1-1 0-8-1-1 0-2-4-4-2 0-1-1zM320 554l-1 1-2 0-2 2 0 2-1 1 0 31 1 1 0 2 2 2 2 0 1 1 12 0 1-1 0-36-1-1 0-2-2-2-2 0-1-1zM0 525l0 29 14 0 1-1 4 0 2-1 3-3 1-2 0-4 1-1 0-5-1-1 0-4-1-2-5-4-4 0-1-1zM931 483l-2-1-33 0-1 1-2 0-2 2 0 2-1 1 0 31 1 1 0 2 2 2 2 0 1 1 9 0 2-1 2-3 0-9 1-1 1-5 5-4 3 0 1-1 9 0 3-2 1-2 0-11zM824 482l-1 1-2 0-2 2 0 2-1 1 0 33 1 2 3 2 9 0 1-1 2 0 2-2 0-2 1-1 0-31-1-1 0-2-2-2-2 0-1-1zM773 459l-2 2 0 2-1 1 0 7-1 1-1 5-5 4-3 0-1 1-9 0-2 1-2 3 0 31-2 5-2 2-2 0-1 1-10 0-1 1-4 0-2 1-4 5-1 12-3 4-2 1-33 0-1 1-5 0-11 4-32 0-3 2-1 2 0 59 1 2 3 2 7 0 1 1 5 1 6 7 1 8-4 11-1 15 1 1 0 5 4 11 0 6 1 1 0 2 2 2 2 0 1 1 5 0 5 2 7 8 2 11 2 2 2 0 1 1 31 0 1-1 2 0 2-2 0-2 1-1 0-5 2-5 6-6 5-2 9 1 5 4 1 5 1 1 0 33 1 2 3 2 33 0 1-1 2 0 2-2 0-2 1-1 0-6 4-11 0-5 1-1 0-9-1-1 0-5-4-11 0-8-1-2-3-2-33 0-1-1-5-1-3-3-1-5-1-1 0-7 1-1 1-5 3-3 5-1 1-1 31 0 1 1 5 1 3 3 1 5 1 1 0 9 1 2 3 2 33 0 1 1 5 1 3 3 1 5 1 1 0 55-1 1-1 5-3 3-5 1-1 1-7 0-1 1-2 0-2 2 0 2-1 1 0 79 1 1 0 2 2 2 2 0 1 1 6 0 11 4 5 0 1 1 15-1 11-4 10 1 5 4 1 5 1 1 0 7-1 1-1 5-5 4-14 2-2 2 0 2-1 1 0 31 1 1 0 2 2 2 2 0 1 1 33 0 2-1 2-3 0-9 1-1 0-3 4-5 5-1 1-1 7 0 1 1 5 1 3 3 1 5 1 1 0 7-1 1-1 5-5 4-3 0-1 1-9 0-2 1-2 3 0 65 69 0 0-93-15 0-1-1-5-1-4-5 0-3-1-1 0-9-1-2-3-2-9 0-1-1-5-1-3-3-1-5-1-1 0-7 1-1 1-5 5-4 9-1 5 2 6 6 2 5 0 7 2 3 2 1 17 0 0-163-13 0-1-1-2 0-8-7-2-5 0-77 1-1 0-3 1-2 5-4 3 0 1-1 15 0 0-119-23 0-2 2 0 19-1 2-4 4-2 0-1 1-8 0-2 1-2 3 0 6-1 1 0 3-2 3-7 6-10 1-2 1-2 3 0 7-2 5-8 7-11 2-2 2 0 2-1 1 0 5-2 5-6 6-5 2-5 0-1 1-2 0-2 2 0 2-1 1 0 31-1 1-1 5-5 4-14 2-2 2 0 2-1 1 0 7-1 1-1 5-5 4-3 0-1 1-7 0-1-1-5-1-3-3-1-5-1-1 0-7-1-1 0-2-2-2-2 0-1-1-6 0-4-2-2-2 0-2-1-1 0-12-1-1 0-5-4-11 0-6 1-1 1-5 3-3 5-1 1-1 7 0 1-1 2 0 2-2 0-2 1-1 0-33-1-2-3-2-9 0-1-1-3 0-5-4-1-5-1-1 0-55-1-1 0-2-2-2-2 0-1-1-7 0-1 1zM941 769l10 0 1 1 2 0 6 5 2 5 0 25-1 1 0 2-7 8-5 2-5 0-1-1-5-1-3-3-1-5-1-1 0-7 1-1 0-4 2-4 0-6 1-1 0-11zM901 669l5 2 6 6 2 5 0 53 1 1 0 2 2 2 2 0 1 1 5 0 4 2 3 3 2 4 0 12-4 4-15 0-1-1-5 0-1-1-14 0-5 2-3 3-2 5 0 11-2 5-3 3-7 1-1-1-5-1-3-3-1-5-1-1 0-103 1-1 1-5 5-4 3 0 1-1zM933 599l3 3 1 5 1 1 0 7-1 1-1 5-5 4-14 2-2 2 0 2-1 1 0 5-2 5-6 6-5 2-5 0-1-1-5-1-3-3-1-5-1-1 0-29 2-5 2-2 2 0 1-1 12 0 1-1 5 0 11-4 6 0 1 1zM678 599l5-2 4 0 1 1 5 1 3 3 1 5 1 1 0 33 1 2 3 2 9 0 1 1 3 0 5 4 1 5 1 1 0 5-2 5-2 2-2 0-1 1-14 0-4-2-3-4 0-2-1-1 0-6-2-3-2-1-7 0-1-1-2 0-8-7-2-5 0-5 1-1 0-4 2-4 1-17 2-4zM765 551l3 3 1 5 1 1 0 7-1 1-1 5-5 4-3 0-1 1-9 0-2 1-2 3 0 9-1 1 0 3-4 5-5 1-1 1-7 0-1-1-5-1-3-3-1-5-1-1 0-5 2-5 8-7 2 0 1-1 7 0 2-1 2-3 0-7 1-1 0-2 7-8 5-2 5 0 1 1zM944 434l-1 1-2 0-2 2 0 2-1 1 0 33 1 2 3 2 14 0 1-1 0-36-1-1 0-2-2-2-2 0-1-1zM0 403l0 57 19-1 1-1 2 0 4-4 0-2 1-1 0-9 1-1 0-27-1-1 0-2-3-5-7-3zM219 245l0 2-1 1 0 36 1 1 84 0 1-1 2 0 2-2 0-2 1-1 0-31-1-1 0-2-2-2-2 0-1-1-30 0-11-4-15-1-1 1-5 0-11 4-6 0-1 1-2 0zM437 99l-2 2 0 2-1 1 0 7 1 1 0 2 2 2 2 0 1 1 7 0 1-1 2 0 2-2 0-2 1-1 0-7-1-1 0-2-2-2-2 0-1-1-7 0-1 1zM818 63l1 1 0 2 2 2 2 0 1 1 6 0 11 4 5 0 1 1 9 0 1-1 5 0 11-4 6 0 1-1 2 0 2-2 0-2 1-1 0-7 1-1 0-3 1-2 5-4 3 0 1-1 55 0 1-1 2 0 2-2 0-2 1-1 0-5 2-4 3-3 4-2 17 0 0-25-165 0zM983 98l-39 0-1 1-2 0-2 2-1 7-2 4-4 4-4 2-12 1-3 2-2 3 0 4-1 1 0 18-1 1 0 15 1 1 0 20 1 1 0 6 1 1 1 7 1 1 0 7-1 1-1 5-3 3-5 1-1 1-53 0-1-1-5-1-5-5-1-5-1-1 1-9 1-2 5-4 3 0 1-1 7 0 1-1 2 0 2-2 0-2 1-1 0-29 1-1 0-2 7-8 5-2 5 0 1-1 2 0 2-2 0-2 1-1 0-31-1-1 0-2-2-2-2 0-1-1-81 0-2 1-2 3 0 9 1 1 0 2 2 2 2 0 1 1 7 0 1 1 3 0 2 1 4 5 0 3 1 1 0 7-1 1 0 3-1 2-5 4-3 0-1 1-55 0-1-1-5-1-4-5 0-3-1-1 0-31 1-1 1-5 3-3 5-1 1-1 33 0 2-1 2-3 0-33 1-1 0-4 2-4 0-6 1-1 1-40-192 0 0 39 1 1 0 2 2 2 2 0 1 1 7 0 1 1 4 0 4 2 6 0 1 1 9 0 1-1 6 0 1-1 7-1 1-1 7 0 1-1 2 0 2-2 0-2 1-1 0-5 2-5 6-6 5-2 5 0 1 1 5 1 3 3 1 5 1 1 0 7-1 1 0 4-2 4 0 6-1 1 0 10-1 1 0 2-5 5-2 0-1 1-53 0-1 1-2 0-2 2 0 2-1 1 0 7-1 1-1 5-3 3-5 1-1 1-7 0-1-1-3 0-5-4-1-5-1-1 0-7-1-1 0-2-2-2-14-2-5-4-1-5-1-1 0-7-1-1 0-2-2-2-2 0-1-1-6 0-11-4-5 0-1-1-15 1-1 1-2 0-4 2-4 0-1 1-7-2-3-3 0-2-1-1 0-11-1-1 0-5-4-11 0-14-43 0 0 14-4 11 0 5-1 1 0 31 1 1 0 4 1 2 5 4 4 0 1 1 9 0 1 1 2 0 4 4 0 3 1 1 0 54 1 2 3 2 7 0 5 2 6 6 2 5 0 29 1 1 0 2 2 2 2 0 1 1 5 0 5 2 6 6 2 5 0 5 1 1 0 2 2 2 2 0 1 1 31 0 1-1 2 0 2-2 0-2 1-1 0-55 1-1 0-3 1-2 5-4 3 0 1-1 7 0 1 1 3 0 5 4 1 5 1 1 0 77-1 1 0 2-4 3-2 0-1 1-13 0-1 1-4 0-5 3-2 0-4 2-53 0-1-1-4 0-4-2-6 0-1-1-20 0-1-1-36 0-1 1-5 0-7 3-13 2-2 2 0 2-1 1 0 7-1 1-1 5-5 4-10 1-1-1-2 0-5-6 0-10-1-1 0-4-2-3-3-2-4 0-1-1-8 0-1-1-2 0-5-5 0-2-1-1 0-5 1-1 1-5 3-3 5-1 1-1 55 0 1-1 2 0 2-2 0-2 1-1 0-6 4-6 2 0 1-1 12 0 1-1 5 0 7-3 13-2 2-2 0-2 1-1 0-33-1-2-3-2-56 0-1-1-2 0-5-6 0-12-1-1 0-6-1-1-1-7-1-1 0-7-1-1 0-2-2-2-2 0-1-1-31 0-1 1-2 0-2 2-1 7-4 8-7 5-10 2-2 2 0 2-1 1 0 9 1 2 3 2 6 0 1 1 2 0 5 3 4 5 2 5 0 28-1 1 0 3-4 5-5 1-1 1-4 0-5-2-3-3 0-2-1-1 0-11-1-1 0-5-4-11 0-8-1-2-3-2-33 0-1-1-3 0-2-1-4-5 0-3-1-1 0-7 1-1 1-5 3-3 5-1 1-1 7 0 1-1 2 0 2-2 2-14 4-5 5-1 1-1 7 0 1-1 2 0 2-2 0-2 1-1 0-29 2-5 6-6 5-1 1-1 3 0 11 4 15 1 1-1 5 0 11-4 6 0 1-1 2 0 2-2 0-2 1-1 0-7 1-1 0-4 2-4 0-6 1-1 0-16-71 0 0 13-2 5-2 2-2 0-1 1-12 0-1 1-5 0-11 4-11 0-1 1 0 36-1 1-1 5-3 3-5 1-1 1-28 0-5-2-4-6 0-13 4-6 5-2 7-1 2-2 2-11 5-5 2 0 1-1 17 0 2-2 0-23-124 0 0 16 1 1 0 5 4 11 0 30-1 1-1 5-3 3-5 1-1 1-28 0-5-2-2-2-2-4 0-19 1-1-1-46-29 0 0 15-1 2-5 4-7 0-5-4-1-2 0-15-53 0 0 67-1 1 0 2-4 3-2 0-1 1-13 0 0 43 14 0 11 4 5 0 1 1 36 0 1-1 21 0 1 1 2 0 5 5 0 2 1 1 0 53 1 1 0 2 2 2 2 0 1 1 7 0 1 1 5 1 3 3 1 5 1 1 0 7-1 1 0 4-2 4 0 6-1 1 0 10-1 1 0 2-5 5-2 0-1 1-9-1-5-4-1-5-1-1 0-7-1-1 0-2-2-2-2 0-1-1-6 0-11-4-5 0-1-1-15 1-11 4-6 0-1-1-4 0-4-2-6 0-1-1-16 0 0 123 16 0 1-1 6 0 1-1 7-1 1-1 5 0 1 1 2 0 8 7 2 5 0 5 1 1 0 2 2 2 2 0 1 1 9 0 2-1 2-3 0-7 2-5 8-7 3 0 1-1 5 1 4 3 0 2 1 1 0 15-1 1 0 2-2 2-5 2-7 0-2 1-2 3 0 31-2 5-8 7-11 2-2 2 0 2-1 1 0 199-1 1 0 4-2 4 0 6-1 1 0 20-1 1 0 12 1 1 0 5 4 11 0 6 1 1 0 2 2 2 2 0 1 1 55 0 1 1 5 1 3 3 1 5 1 1 0 7-1 1 0 4-2 4-1 16 1 1 0 6 1 1 1 7 1 1 0 30-4 11 0 5-1 1 0 11-1 1 0 2-5 4-7 1-1-1-5-1-4-5 0-3-1-1 0-31-1-1 0-2-2-2-2 0-1-1-6 0-11-4-15-1-1 1-5 0-11 4-6 0-1 1-2 0-2 2 0 2-1 1 0 55-1 1-1 5-5 4-3 0-1 1-15 0 0 43 39 0 1 1 5 1 3 3 1 5 1 1 0 31-1 1-1 5-3 3-5 1-1 1-7 0-1-1-4 0-4-2-6 0-1-1-16 0 0 49 93 0 0-13 1-1 0-2 7-8 5-2 27 0 5 2 7 8 0 2 1 1 0 13 43 0 0-13 1-1 1-5 7-6 12-2 2-2 0-2 1-1 0-7-1-1 0-2-2-2-2 0-1-1-6 0-5-2-5-5-1-5-1-1 0-75 2-5 6-6 5-2 5 0 1-1 2 0 2-2 0-2 1-1 0-5 2-5 6-6 5-2 5 0 1 1 5 1 3 3 1 5 1 1 0 6-4 11 0 5-1 1 0 12 1 1 0 20 1 1 0 6 1 1 1 7 1 1 0 31 1 1 0 2 2 2 2 0 1 1 6 0 11 4 5 0 1 1 33 0 1-1 5 0 11-4 5 0 11 4 5 0 1 1 12 0 1 1 2 0 2 2 2 5 0 37 19 0 0-15 1-1 1-5 5-4 14-2 2-2 0-2 1-1 0-79-1-1 0-2-2-2-2 0-1-1-57 0-3 2-1 2 0 6-1 1 0 2-4 5-4 2-11 0-1-1-3 0-5-2-13 0-1-1-4 0-5-4-2-9-2-2-11-2-4-4 0-2-1-1 0-11-1-1 0-5-4-11 1-10 1-2 5-4 14-2 2-2 2-10 5-7 8-4 6 0 2-1 2-3 0-11-1-2-3-2-6 0-8-4-5-7-1-7-1-1 0-2-2-2-14-2-5-4-1-5-1-1 0-5 2-5 6-6 5-2 29 0 1 1 5 1 3 3 1 5 1 1 0 33 1 2 3 2 7 0 5 2 6 6 1 5 1 1-2 7-6 6-5 2-7 0-2 1-2 3 0 57 1 1 0 2 2 2 2 0 1 1 9 0 2-1 2-3 0-9 1-1 1-5 5-4 14-2 2-2 0-2 1-1 0-5 2-5 6-6 5-2 29 0 1-1 2 0 2-2 0-2 1-1 0-6 4-11 0-5 1-1-1-15-4-11 0-30-1-1 0-2-2-2-2 0-1-1-6 0-1-1-2 0-5-6 0-23 1-1 0-10-1-1 0-4-1-2-5-4-4 0-1-1-9 0-4-2-3-4 0-8 1-2 6-6 5-2 5 0 1 1 4 0 4 2 6 0 1 1 9 0 1-1 6 0 1-1 7-1 1-1 7 0 1-1 2 0 2-2 0-2 1-1 0-6 2-5 7-6 2 0 1-1 6 0 1-1 2 0 2-2 0-2 1-1 0-7 1-1 0-4 2-4 0-6 1-1 0-34 1-1 0-2 5-5 2 0 1-1 5 0 1 1 5 1 3 3 1 5 1 1 0 30-4 11-1 15 1 1 0 5 4 11 0 6 1 1 0 2 2 2 2 0 1 1 55 0 1-1 2 0 2-2 2-14 4-5 5-1 1-1 9 0 2-1 2-3 0-33-1-1 0-2-2-2-2 0-1-1-33 0-2 1-2 3 0 9-1 1 0 3-1 2-5 4-3 0-1 1-5 0-1-1-2 0-8-7-2-5 0-5 1-1 1-5 5-4 3 0 1-1 9 0 2-1 2-3 0-11-1-2-3-2-9 0-1-1-5-1-3-3-1-5-1-1 0-29 2-5 6-6 5-2 5 0 1 1 5 1 3 3 1 5 1 1 0 33 1 2 3 2 83 0 2-1 2-3 0-57 1-1 0-3 1-2 5-4 3 0 1-1 7 0 1-1 2 0 2-2 0-2 1-1 0-31 1-1 1-5 3-3 5-1 1-1 4 0 5 2 3 3 0 2 1 1 0 14 1 1 0 18 1 1 0 4 2 3 3 2 4 0 1 1 31 1 1-1 5 0 11-4 8 0 3-2 1-2 0-8 4-11 0-5 1-1-1-15-4-11 0-30-1-1 0-2-2-2-2 0-1-1-7 0-1-1-5-1-4-5-2-14-2-2-2 0-1-1-5 0-5-2-7-8-2-11-2-2-2 0-1-1-7 0-1-1-5-1-3-3-1-5-1-1 0-5 1-1 0-2 7-8 5-2 5 0 1-1 2 0 2-2 2-14 4-5 5-1 1-1 7 0 1-1 2 0 2-2 0-2 1-1 0-31 1-1 1-5 5-4 3 0 1-1 6 1 3 2 2 4 0 9 1 1 0 17 1 1 0 13 4 9 2 12 2 2 2 0 1 1 5 0 5 2 6 6 2 5 0 5 1 1 0 2 2 2 12 2 7 6 1 5 1 1 0 29 1 1 0 2 2 2 2 0 1 1 33 0 2-1 2-3 0-7 2-5 6-6 5-2 7 0 3-2 1-2 0-9 1-1 0-3 4-5 5-1 1-1 7 0 1 1 5 1 4 5 1 9-2 5-8 7-2 0-1 1-7 0-3 2-1 2 0 9-1 1-1 5-5 4-3 0-1 1-9 0-2 1-2 3 0 6-1 1 0 3-2 3-7 6-2 0-1 1-5 0-1 1-2 0-2 2-2 15-2 4-1 14 1 1 0 4 2 3 3 2 4 0 1 1 10 0 5 2 21 0 10-5 11-2 2-2 0-2 1-1 0-31 1-1 1-5 3-3 5-1 1-1 55 0 1-1 2 0 2-2 2-14 4-5 5-1 1-1 15 0 0-96-16 0-1 1-5 0-11 4-30 0-1-1-5-1-3-3-1-5-1-1 0-7 1-1 0-3 1-2 5-4 3 0 1-1 31 0 1-1 2 0 2-2 0-2 1-1 0-6 4-11 0-5 1-1-1-15-4-11 1-7 1-2 8-7 2 0 1-1 13 0zM94 918l6-5 13 0 4 2 3 3 2 5 0 4-1 1-1 5-3 3-5 1-1 1-5 0-5-2-7-8 0-2-1-1zM56 837l6 0 1 1 2 0 5 6 0 13-1 1 0 2-5 5-2 0-1 1-5 0-1-1-5-1-3-3-1-5-1-1 0-7 1-1 1-5 3-3 5-1zM169 627l2 0 1-1 12 0 2 1 3 4 1 15 4 11 0 30 1 1 0 2 2 2 2 0 1 1 29 0 5 2 2 2 0 2 1 1 0 12 1 1 0 5 4 11 0 28-2 5-8 7-5 1-1-1-5-1-6-6-2-5 0-5-1-1 0-2-2-2-2 0-1-1-7 0-1-1-5-1-4-5 0-3-1-1 0-7-1-1 0-2-2-2-2 0-1-1-29 0-1-1-5-1-6-7-1-9 1-1 1-5 5-4 14-2 2-2 0-2 1-1 0-53 2-5zM100 526l3 0 1-1 55 0 1 1 5 1 4 5 0 3 1 1 0 30-4 11 0 5-1 1 0 11-4 6-5 2-7 1-2 2 0 2-1 1 0 6-4 6-2 0-1 1-14 0-6-4-2-5 0-28-1-1 0-2-2-2-2 0-1-1-5 0-5-2-7-8 0-2-1-1 0-29 1-1 1-5zM143 461l2-2 2 0 1-1 38 0 4 2 3 4 2 10 2 2 10 2 4 5 0 2 1 1 0 12-2 5-2 2-2 0-1 1-29 0-1-1-5-1-4-5-2-14-2-2-2 0-1-1-5 0-5-2-6-6-1-5-1-1zM526 391l3-4 2 0 1-1 15 0 1 1 2 0 3 4 0 2 1 1-1 6-1 2-8 7-2 0-1 1-9-1-2-1-4-5 0-3-1-1 0-5 1-1zM141 359l3 3 1 5 1 1 0 6-4 11 0 5-1 1 0 35-4 6-5 2-6 0-2 1-2 3 0 31-2 5-6 6-5 2-29 0-1-1-5-1-3-3-1-5-1-1 0-7 1-1 1-5 5-4 14-2 2-2 0-2 1-1 0-5 2-5 6-6 5-2 7 0 2-1 2-3 0-55 2-5 6-6 5-2 5 0 1 1zM293 339l2-1 8 0 5 4 1 2 0 8-3 4-2 1-9 0-5-4-1-2 0-7zM562 285l8 2 7 8 0 2 1 1 0 31 1 2 3 2 9 0 1-1 2 0 2-2 0-2 1-1 0-29 2-5 6-6 5-2 5 0 1 1 5 1 3 3 1 5 1 1 0 31 1 1 0 2 2 2 2 0 1 1 7 0 1 1 3 0 5 4 1 5 1 1 0 31 1 1 0 2 2 2 2 0 1 1 5 0 5 2 6 6 1 5 1 1-2 8-7 6-3 0-1 1-31 0-3 2-1 2 0 33-1 1 0 3-1 2-5 4-3 0-1 1-7 0-1 1-2 0-2 2 0 2-1 1 0 29-2 5-2 2-2 0-1 1-15 0-1-1-2 0-2-2-2-5 0-28 4-11 0-5 1-1 0-11 4-6 5-2 7-1 2-2 2-14 4-5 5-1 1-1 9 0 3-2 1-2 0-9-1-1 0-2-2-2-2 0-1-1-31 0-1-1-5-1-3-3-1-5-1-1 0-33-1-2-3-2-33 0-1-1-3 0-5-4-1-5-1-1 0-3 1-1 1-5 7-7 5-2 7-1 2-2 0-2 1-1 0-6 2-5 5-5 5-1zM122 266l2-1 39 1 1 1 2 0 2 2 2 6-1 1 0 3-3 5-7 5-10 2-2 2 0 2-1 1 0 9 1 2 3 2 6 0 4 2 3 3 2 4 0 13-1 1 0 2-2 2-5 2-5 0-1-1-5-1-4-5 0-3-1-1 0-9-1-2-3-2-7 0-1-1-2 0-4-3 0-2-1-1 0-12-1-1 0-5-4-11 0-5 1-1 0-2zM45 272l1-1 1-5 5-4 3 0 1-1 31 0 1 1 5 1 3 3 1 5 1 1 0 5-2 5-6 6-5 2-29 0-1-1-5-1-3-3-1-5-1-1zM202 213l101 0 1 1 4 0 4 2 6 0 1 1 12 0 6 5 0 2 1 1 0 6-1 1 0 4-2 4 0 6-1 1 0 9 1 1 0 6 1 1 1 7 1 1 0 7 1 1 0 2 2 2 2 0 1 1 31 0 1 1 5 1 3 3 1 5 1 1 0 55-1 1-1 5-3 3-5 1-1 1-9 0-2 1-2 3 0 7-1 1-1 5-3 5 0 4-1 1 0 13 1 1 0 4 4 8 1 8-1 1-1 5-3 3-5 1-1 1-7 0-1 1-2 0-2 2 0 2-1 1 0 6-4 11-1 13 1 1 0 4 1 2 5 4 4 0 1 1 34 0 1-1 18 0 1-1 4 0 3-2 2-3 0-4 1-1 0-29-1-1 0-4-2-3-3-2-4 0-1-1-10 0-2-1-4-4-1-5 1-1 0-3 6-6 2 0 1-1 16-1 1-1 7-1 1-1 7 0 1-1 2 0 2-2 0-2 1-1 0-6 4-11 0-5 1-1-1-15-4-11 0-29 4-11 0-5 1-1 0-9-1-1 0-5-4-11 0-4 2-5 2-2 2 0 1-1 35 0 4 3 1 2 0 4 1 1 1 31-5 6-2 0-1 1-6 0-1 1-2 0-2 2 0 2-1 1 0 7 1 1 0 2 2 2 2 0 1 1 31 0 1 1 5 1 4 5 0 3 1 1 0 31-1 1 0 3-1 2-5 4-3 0-1 1-7 0-1 1-2 0-2 2 0 2-1 1 0 7-1 1 0 4-2 4 0 6-1 1-1 34-2 4-4 4-7 1-1 1-2 0-2 2 0 2-1 1 0 6-4 11 0 5-1 1 0 34-1 2-4 3-10 0-1-1-2 0-5-5-2-11-2-2-2 0-1-1-7 0-1-1-4 0-4-2-6 0-1-1-7 0-1 1-4 0-3 2-2 3 0 4-1 1 0 18-1 1 0 12 1 1 0 5 4 11 0 3-1 1-1 5-8 7-11 2-2 2 0 2-1 1 0 6-1 1 0 2-4 4-2 1-19 0-2 2 0 17-2 4-3 3-5 2-98 0-5-2-7-8 0-2-1-1 0-77 1-1 0-3 4-5 5-1 1-1 31 0 1-1 2 0 2-2 0-2 1-1 0-6 2-5 7-6 2 0 1-1 6 0 1-1 2 0 2-2 0-2 1-1 0-57-1-2-3-2-9 0-1 1-2 0-2 2 0 2-1 1 0 7-1 1 0 3-4 5-5 1-1 1-5 0-5-2-7-8-2-11-2-2-2 0-1-1-5 0-5-2-7-8 0-2-1-1 0-29-1-1 0-2-2-2-2 0-1-1-7 0-1-1-3 0-5-4-1-5-1-1 0-29 2-5 8-7 2 0 1-1 5 0 1 1 5 1 4 5 2 14 2 2 2 0 1 1 5 0 5 2 7 8 2 11 2 2 2 0 1 1 5 0 5 2 6 6 2 5 0 5 1 1 0 2 2 2 12 2 7 6 1 5 1 1 0 7 2 3 2 1 9 0 1-1 2 0 2-2 2-12 6-7 5-2 6 0 1-1 2 0 2-2 0-2 1-1 0-29 2-5 6-6 5-2 7 0 2-1 2-3 0-33-1-1 0-2-2-2-2 0-1-1-6 0-11-4-5 0-1-1-81 0-1 1-5 0-11 4-5 0-1-1-2 0-5-6 0-19-2-2-16 0-1-1-2 0-6-6 0-2-1-1 0-27 4-11 0-5 1-1 0-12 1-1 0-2 2-2zM650 191l5-1 1-1 31 0 1 1 5 1 3 3 1 5 1 1 0 55-1 1-1 5-3 3-5 1-1 1-7 0-1-1-4 0-4-2-16-1-1 1-6 0-1 1-7 1-1 1-7 0-1-1-5-1-3-3-1-5-1-1 0-31 1-1 0-3 1-2 5-4 3 0 1-1 7 0 1-1 2 0 2-2 2-14zM722 167l5-1 1-1 7 0 1 1 5 1 3 3 1 5 1 1 0 7-1 1-1 5-3 3-5 1-1 1-7 0-1-1-5-1-3-3-1-5-1-1 0-7 1-1 1-5zM680 93l5 0 1 1 5 1 5 5 1 5 1 1 0 29-1 1 0 3-4 5-5 1-1 1-7 0-1-1-5-1-3-3-1-5-1-1 0-31 1-1 0-3 4-5 5-1zM560 94l2 0 1-1 8 1 2 1 4 5 0 3 1 1 0 7-1 1 0 3-1 2-5 4-3 0-1 1-7 0-1-1-3 0-2-1-4-5 0-3-1-1 1-7 3-5zM148 94l3 0 1-1 53 0 5 2 7 8 0 2 1 1 0 53-1 1 0 3-1 2-5 4-14 2-2 2 0 2-1 1 0 7-1 1 0 3-1 2-5 4-3 0-1 1-7 0-1-1-5-1-3-3-1-5-1-1 0-31-1-1 0-2-2-2-2 0-1-1-7 0-1-1-3 0-2-1-4-5 0-3-1-1 0-31 1-1 1-5z"/>
<path fill="#7fffd4" fill-rule="evenodd" d="M746 963l-1 2 0 18 28 0-1-14-5-6-4-2-14 0zM0 938l0 45 31 0 0-16-1-1 0-6-1-1-3-15-4-4-2 0-1-1-4 0-1-1zM75 931l-4 2-4 6 0 17 2 4 6 4 12 0 5-3 7-8 1-2 0-7-3-5-8-7-2-1zM935 933l-4 6 0 8-1 1 0 35 53 0 0-53-35 0-1 1-8 0zM139 939l0 12 1 2 7 8 5 3 18 0 1-1 10 0 6-3 5-5 3-7-3-8-5-5-6-3-23-1-1-1-2 1-8 0-4 2zM643 956l2 4 6 4 17 0 4-2 4-6 1-11 4-4 11-1 6-4 2-4 0-11-1-2-4-4-4-2-43 0-2 1-3 4 0 6-1 1 0 22 1 1zM773 844l-2 3-2 13-7 12 0 7 2 4 8 8 4 2 15 0 1-1 5 0 1-1 11 0 5-2 3-3 2-5 0-6-1-1 0-2-4-4-7-1-1-1-7 0-4-2-4-4-2-4 0-5-1-1 0-3-2-3-2-1-9 0zM75 841l0 5-1 1 0 13-6 14 0 7 2 5 3 3 5 2 8 0 1 1 2 0 2 2 0 2 1 1 0 5 1 1 0 2 4 3 5 0 1 1 11 0 14 7 6 0 1 1 21 0 1-1 7 0 6-4 2-4 0-8 1-1 0-23-1-1 0-8-4-6-4-2-7 0-1-1-25 0-1 1-7 0-4 2-4 6 0 6-1 1 0 5-3 4-6 1-1-1-2 0-2-2 0-2-1-1 0-32-2-5-3-3-5-2-8 0-1 1-2 0zM243 840l-2 4 0 20 1 1 0 13 1 1 0 4 1 1 0 2 4 4 5 1 4 4 0 6 1 1 0 19 1 1 0 4 1 2 4 4 4 2 39 0 4-2 4-4 2-7 4-5 6 0 3 4 0 3 2 5 4 4 4 2 19 0 4-3 1-2 0-6 1-1 0-22-1-1 0-8-4-6-4-2-12 0-14 7-10 0-1-1-5-1-3-2-4 0-1-1-16 0-1-1-4 0-5-2-9-1-4-4 0-4-4-10 0-6-1-1 0-12-2-4-6-5-5 0zM837 815l-2 4 0 11 5 6 4 2 15 0 4-2 4-4 1-2 0-11-4-6-4-2-17 0zM724 822l-1-2-4-3-14 0-1-1-6 0-11-5-12 0-4 2-4 6 0 6-1 1 0 5-1 2-4 3-3 0-6 3-5 5-3 6-1 7-2 2-11 2-7 3-6 0-1 1-36 0-4 2-5 6 0 11 4 6 4 2 8 0 1 1 25 0 1-1 23-1 6-3 5-5 3-6 1-7 2-2 2 0 1-1 7 0 1 1 4 0 5 2 21 0 1-1 20-1 4-2 4-6 0-8 1-1 0-22-1-1zM968 811l-5 3-7 8-1 2 0 7 3 5 8 7 2 1 6 0 1 1 8 0 0-35zM744 769l-4 3-1 2 0 6-1 1 0 21 1 1 0 6 1 2 4 3 19 0 4-2 5-6 0-5 1-1 0-17-1-1 0-5-5-6-4-2zM52 769l-4 2-5 6 0 5-1 1 0 20 1 1 0 8 2 4 6 4 17 0 4-2 4-6 0-8 1-1 0-20-1-1 0-5-5-6-4-2zM894 767l-1 1-2 0-3 3 0 2-1 1 0 11-1 1 0 6-3 7 0 13 2 4 6 4 17 0 4-2 4-6 0-6 1-1 0-5 1-2 4-3 5-1 4-4 0-2 1-1 0-5 1-1-1-8-2-2-12-1-1-1-3 0-5-2zM536 763l-5 3-5 5-3 5 0 6-1 1 0 20 1 1 0 8 2 4 6 4 17 0 4-2 4-6 0-8 1-1 0-23-1-1 0-8-2-4-6-4zM294 777l-3-6-7-7-6-3-14 0-1 1-15 1-5 3-7 8-1 2 0 12 2 4 6 4 20 1 1 1 14 0 6-3 7-7 3-6zM451 750l0 8 1 2 4 4 4 2 15 0 4-2 5-6 0-5-1-2-4-4-4-2-19 0-2 1zM382 742l-5-2-14 0-1-1-12 0-2-1-1 1-8 0-6 4-2 4 0 12 1 2 7 8 5 3 3 0 5 2 2 3 0 5-1 2-3 2-6 1-5 3-5 5-3 5 0 12 4 6 4 2 12 0 5-3 5-5 3-5 0-3 3-6 2-1 23 0 1-1 5 0 6-5 2-4 0-15-2-4-4-4-5-2-3 0-4-3-1-2 0-7-1-1 0-2zM128 717l-4 4-1 7-1 1 0 5 1 1 1 7 4 4 5 1 5 4 1 13 2 4 6 4 6 0 1 1 4 0 2 1 2 3 0 5-4 4-23 0-1 1-5 0-6 5-2 4 0 12-1 1 0 6-4 11 0 7 1 1 0 2 4 5 5 2 14 0 1 1 11 0 1 1 23 0 1-1 6 0 5-3 5-5 3-5 1-6 4-4 8-2 3-2 7-8 1-2 0-6 1-1 0-17-1-1 0-6-3-5-5-5-5-3-6 0-1-1-23 0-2-1-2-3-1-11-4-6-4-2-13-1-3-3-1-5-3-6-5-5-4-2zM0 716l0 25 12 0 1-1 5-1 2-3 0-4 1-1-2-10-4-4-2 0-1-1zM935 693l-4 6 0 8-1 1 0 20 1 1 0 6 7 14 0 8 1 1 0 4 2 2 10 1 6 3 8 6 2 0 1 1 15 0 0-61-14-1-2-1-3-5 0-3-3-5-5-5-5-3-12 0zM771 691l-4 2-4 6 0 17 2 4 6 4 11 0 6-5 2-4 0-15-2-4-6-5zM246 691l-2 1-3 4 0 19 2 4 4 4 2 1 6 0 5-3 7-8 1-2 0-12-2-4-6-4zM532 675l-1 1-2 0-4 4 0 2-1 1 0 9-1 1 0 18 3 5 8 7 2 1 9 0 2-1 3-4 0-24-1-1 0-11-1-1 0-3-1-2-3-2-4 0-1-1-2 1zM335 669l-4 6 0 17 2 4 6 4 6 0 1 1 5 0 2 1 3 4 0 7 1 1 0 2 4 5 5 2 8 0 1-1 2 0 3-4 0-5 1-1 0-15 1-1 0-18-1-2-4-3-15-1-11-5-12 0zM920 643l-5 3-7 8-1 2 0 7 3 5 8 7 2 1 12 0 4-2 4-6 0-17-2-4-6-4zM651 648l-2 4 0 15 2 4 4 4 7 2 3 2 3 10 2 3 8 7 2 1 6 0 1 1 17 0 1-1 6 0 5-3 7-8 1-2 0-9-3-4-2-1-14 0-1-1-6 0-8-4-6-1-5-2-2-3-1-6-3-5-5-5-5-3-6 0zM291 643l-4 2-4 6 0 8-1 1 0 23 1 1 0 8 2 4 6 4 17 0 4-2 4-6 0-7 1-1 0-24-1-1 0-8-2-4-6-4zM49 667l2 4 4 4 2 1 4 0 1 1 9 0 1 1 23 0 1-1 20-1 6-4 2-4 1-11 4-4 11-1 6-4 2-4 0-14-1-2-4-3-14 0-1-1-6 0-8-4-2 0-1-1-5 0-1-1-33 0-1 1-5 0-1 1-6 0-1 1-2 0-4 4-1 7-1 1zM358 603l-11-1-1 1-4 0-3 3 0 3-1 1 0 8-7 14 0 12 2 4 6 4 12 0 2-1 8-7 3-5-1-30-1-1 0-2zM0 598l0 57 15 0 4-2 4-4 3-8-1-34-2-5-4-3-2 0-1-1zM771 595l-4 2-4 6 0 17 2 4 6 4 14 0 2-1 3-4 0-19-2-4-6-5zM489 595l-6 5-2 4 0 15 2 4 6 5 11 0 4-2 4-6 0-12-3-5-5-5-5-3zM177 571l-6 5-2 4-1 17-5 11 0 9 1 2 4 3 14 0 1 1 5 0 2 1 2 3 0 4 1 1 0 11 2 4 6 5 11 0 4-2 4-6 0-12-3-5-5-5-5-3-7-1-3-3 0-27-1-1 0-8-2-4-6-4zM71 573l-4 6 0 17 2 4 6 4 17 0 4-2 4-6 0-12-3-5-5-5-5-3-12 0zM747 532l-4-3-17 0-2 1-3 4 0 9-1 1 0 4-2 3-2 1-5 0-1 1-34 0-4 2-4 4-2 7-2 3-2 1-4 0-1 1-6 0-4 2-4 6 0 23 1 1 0 10 3 6 5 5 4 2 7 0 4-4 1-7 1-1 0-9 7-14 0-3 2-5 3-2 23 0 1-1 6 0 5-3 7-8 1-5 1-1 0-3 3-3 3 0 1-1 5-1 8-7 3-5 0-9zM0 529l0 21 17 0 4-3 1-2 0-11-3-4-2-1zM983 522l-39 0-4 2-8 8-2 4 0 3-2 5-5 3-5 1-8 7-3 5 0 3-2 5-3 2-8 2-8 7-3 5 0 9 1 2 4 3 19 0 4-2 4-4 3-9 3-2 62 0zM572 508l-1 2 0 14 4 6 4 2 17 0 6-4 2-4 0-14-3-4-2-1-23 0zM966 483l-3 3 0 4-1 1 0 5 1 1 0 5 3 4 2 0 1 1 14 0 0-25-12 0-1 1zM128 475l-5 3-7 8-1 2 0 12 2 4 6 4 17 0 4-2 4-6 0-12-3-5-8-7-2-1zM403 437l-3-2-3 0-1-1-11 1-4 3-1 7-1 2-4 3-24 0-1 1-5 0-2 1-4 4-2 4 0 13 1 2 4 3 42 0 1-1 11 0 1-1 5-1 2-3 0-3 1-1 0-25-1-1zM0 405l0 52 16 0 1-1 2 0 4-3 2-5 0-23 1-1 0-4-1-1 0-6-1-1 0-2-3-3-2 0-1-1-6 0-1-1zM576 405l-4-2-12 0-5 3-5 5-3 5-1 5-4 3-16 1-1 1-13 0-2-1-3-4 0-7-1-1 0-2-1-2-5-4-2 0-1-1-6 0-1 1-2 0-4 4-1 7-1 1 0 13-1 1 0 14-1 1 0 5-6 11-2 9-3 3-6 2-4 4-2 4 0 36-1 1 0 5-2 3-2 1-17 0-11-5-9-2-4-5-1-6-4-4-10-2-1 1-4 0-3 2-1 5-1 1 0 11-1 1 0 20 2 4 4 4 7 2 3 2 1 2 0 5-2 3-5 2-3 0-5 3-5 5-3 5-1 15-1 1 0 21 2 5 0 4 1 1 0 5 1 1 0 2 4 4 7 1 1 1 5 0 1-1 7-1 4-4 1-5 3-5 4-2 3 0 6-3 5-5 3-6 1-7 4-3 7-1 4-4 1-7 1-1 0-35 5-11 1-7 2-3 2-1 5 0 1-1 7 0 4-2 4-6 0-6 1-1 0-4 1-2 3-2 6-1 5-3 7-8 2-8 4-4 26 0 1-1 8 0 6-4 2-4 1-11 4-4 7-2 4-4 2-4 1-17 5-11 0-12zM415 582l2-1 6 0 4 3 1 6-1 1 0 2-2 2-6 1-6-5 0-6zM80 403l-5 3-7 8-1 2 0 12 2 4 6 4 12 0 5-3 7-8 1-2 0-12-2-4-6-4zM864 404l-4-2-12 0-4 2-8 8-2 4 0 3-1 1-1 5-2 2-6 2-4 4-2 10 1 1 0 4 2 3 5 1 1 1 6 0 11 4 13 0 8-3 3-3 3-8 0-7-1-1 0-14-1-1 0-9-2-4zM720 405l-4-2-8 0-1-1-2 1-23 1-6 3-5 5-2 4-1 5 4 11 0 6 1 1 1 29 1 1 0 3 2 3 5 1 1 1 11 0 1 1 20 0 4-2 4-4 2-7 4-4 7-2 4-4 2-4 0-15-2-4-4-4-7-2-4-4-1-11zM151 380l-4 4-2 4 0 34-1 1 0 6-5 11 0 9 1 2 4 3 38 0 1 1 6 0 8 4 6 1 5 2 2 3 1 7 3 7 0 7 1 1 0 17 4 5 2 0 1 1 15 0 1-1 8-1 1-1 6 0 6-3 5-5 3-7 0-6-2-5-5-4-2 0-1-1-6 0-4-2-2-3-1-7-3-5-8-7-10-3-2-3-2-8-7-8-5-3-3 0-6-3-1-2 0-4-1-1 0-6-2-4-6-4-11-1-4-4-1-11-4-6-4-2-11 0zM896 355l-5 3-7 8-1 2 0 12 2 4 6 4 17 0 4-2 4-6 0-17-2-4-6-4zM671 357l-4 6 0 12 3 5 5 5 5 3 12 0 4-2 4-6 0-12-3-5-5-5-5-3-12 0zM525 359l-2 4 0 14 3 4 2 1 23 0 4-3 1-2 0-14-4-6-4-2-17 0zM428 360l-6-5-11 0-4 2-4 6-1 13-5 4-6 0-1-1-4 0-5-2-12 0-4 2-3 3-3 6 0 15 3 6 5 4 7 1 5-2 9-6 2 0 1-1 7 0 1-1 7-1 4-4 1-5 4-5 7-1 6-5 2-4 0-15zM102 331l-2 1-3 4 0 23 1 2 4 3 9 0 5-3 7-8 1-2 0-12-2-4-6-4zM240 315l-4 4-1 2 0 5-1 1 0 17 1 1 0 6 3 5 8 7 10 3 2 3 2 8 7 8 5 3 3 0 1 1 5 1 3 4 0 3 3 6 5 5 7 3 8-3 5-5 3-6 0-10 1-1 0-11 1-1 0-6 3-3 7-1 5-3 5-5 3-5 0-6 1-1 0-17-1-1 0-5-1-2-4-4-4-2-87 0zM290 336l2-1 6 0 1-1 1 1 6 0 5 4 1 2 1 9-1 1 0 5-2 3-2 1-5 0-1 1-10-1-6-5 0-2-1-1 0-9 1-1 0-2zM0 308l0 25 14 0 1-1 4 0 1-1 2 0 4-4 0-2 1-1 0-6-2-5-3-3-5-2zM51 307l-4 2-4 6 0 12 3 5 8 7 2 1 7 0 5-3 7-8 1-2 0-12-2-4-6-4zM983 289l-19 0-4 2-5 6-1 7-5 4-10 0-1-1-23 0-4 2-4 6 0 17 2 4 6 4 6 0 1 1 4 0 2 1 2 3 1 11 4 6 4 2 17 0 4-2 4-6 0-8 1-1-1-2-1-23 4-5 16 0zM411 283l-4 2-4 6 0 17 2 4 6 4 11 0 6-5 2-4 0-15-2-4-6-5zM104 283l-5 3-7 8-1 2 0 12 2 4 6 4 14 0 2-1 3-4 0-19-2-4-4-4-2-1zM177 281l-6 3-7 7-3 6 0 5 7 14 0 5 1 1 0 13 1 2 4 3 9 0 5-3 5-5 3-5 0-3 1-1 1-5 5-3 6-1 3-4 0-5 1-1 0-5-1-1 0-4-3-3-10-1-5-2-9-6-2 0-1-1zM670 268l-7-1-1-1-5 0-1 1-7 1-4 4 0 2-1 1 0 9-1 1 0 23 2 4 6 4 12 0 2-1 8-7 3-5 0-18-1-1 0-9-1-1 0-2zM427 249l0 8 1 2 4 3 36 0 1 1 5 0 4 4 1 2 0 7 1 1 0 9 1 1 0 4 1 1 0 12 1 1 0 5 3 4 2 0 1 1 6 0 1 1 3 0 5 2 6 0 1 1 4 0 1-1 6-1 3-2 8-9 3-12 2-2 4-2 2 0 3-2 5-5 3-7 0-6-1-1 0-2-4-5-5-2-9 0-1-1-3 0-5-2-15-1-5-4-1-4-4-4-2 0-1-1-4 0-1-1-13 0-1-1-44 0-4 2zM236 247l-1 2 0 11 2 4 6 4 17 0 4-2 4-6 0-11-5-6-4-2-15 0-4 2zM580 239l-6 3-3 3-2 4 0 14 1 1 1 15 3 5 8 7 2 1 7 0 5-3 5-5 3-5 1-15 1-1 0-17-1-1 0-2-5-4zM340 241l-1 7-1 1 0 5 1 1 1 7 4 4 2 0 1 1 27 0 1-1 2 0 3-4 0-5 1-1 0-5-1-1 0-3-2-3-5-1-1-1-9 0-15-6-1 1-3 0zM0 218l0 51 20-1 4-2 4-6 0-8 1-2-1-1 0-12-1-1 0-9-1-1 0-2-4-4-2 0-1-1-4 0-1-1zM44 223l-1 2 0 11 2 4 6 4 17 0 4-2 4-6 0-11-5-6-4-2-15 0-4 2zM939 211l-4 2-4 6 0 17 2 4 6 4 11 0 6-5 2-4 0-15-2-4-6-5zM128 213l-4 4 0 2-1 1 0 4-1 1 0 11-6 14 1 7 4 3 5 0 1 1 15 0 1 1 24 0 2-1 3-4 1-8 4-4 7-2 4-4 2-4 0-19-1-2-4-3-5 0-1-1-11 0-1-1-21 0-5 2-4 0-1 1-5 0-1 1zM795 163l-4 2-4 6 0 8-1 1 0 26-4 4-26 0-1 1-8 0-4 2-4 6 0 13 1 1 1 8 1 1 0 20 1 1 1 20 2 5 3 3 4 2 5 1 3 2 2 4 1 5 7 8 5 3 7 1 4 3 1 5 3 6 5 5 6 3 3 0 4 3 1 2 0 5 1 1 0 6 4 6 4 2 12 0 5-3 5-5 3-5 0-18-1-1 0-10 5-6 2-1 10 0 1 1 23 0 6-4 2-4 0-8 1-1 0-25-1-1 0-12-1-1 0-14-2-5-3-3-5-2-14 0-1-1-18-1-4-4-2-7-2-3-5-5-6-3-5-1-3-4 0-27-1-1 0-8-2-4-6-4zM850 269l4 0 2 1 2 3 0 6-3 4-6 0-3-4 0-6zM527 165l-4 6 0 12 3 5 5 5 5 3 12 0 4-2 4-6 0-17-2-4-6-4-17 0zM429 167l-2 4 0 14 3 4 2 1 19 0 4-2 4-4 1-2 0-11-4-6-4-2-17 0zM315 163l-4 2-4 6 0 8-1 2 1 1 0 12 1 1 0 9 1 1 0 2 4 4 2 0 1 1 4 0 1 1 13-1 4-3 0-2 1-1-1-8-3-7 0-6-1-1 0-12-2-4-6-5zM843 115l-4 2-4 6 0 17 2 4 6 4 12 0 5-3 7-8 1-2 0-12-2-4-6-4zM627 115l-4 2-4 6 0 8-1 1 0 23 1 1 0 8 2 4 6 4 17 0 4-2 4-6 0-8 1-1 0-23-1-1 0-8-2-4-6-4zM243 115l-6 4-2 4 0 7-1 1 0 12-1 1 0 23 1 1 1 20 2 4 6 4 17 0 6-4 2-4 0-7 1-1 0-12 1-1 0-23-1-1-1-20-2-4-6-4zM353 129l0 5 3 6 7 7 6 3 12 0 1-1 8-1 1-1 7 0 1-1 2 0 3-4 0-5 1-1-1-12-1-1 0-2-4-4-2 0-1-1-5 0-1-1-4 0-5-2-12 0-6 3-7 7zM983 114l-21 0-1-1-13-1-1 1-4 0-15 9-5 0-1 1-3 0-3 2-1 5-1 1 0 11-1 1 0 25 1 1 0 13 1 1 0 4 1 1 0 2 4 4 2 0 1 1 9 0 1 1 18 0 5-3 5-5 3-5 1-6 4-4 14 0zM547 49l-15 0-4 2-4 4-1 2 0 4-1 1-1 22-1 1 0 2-3 3-10 1-4 2-4 6 0 8-1 1 0 20 1 1 0 6 3 5 5 5 5 3 12 0 6-4 2-4 0-8 1-1 0-25 5-4 4 0 6-3 7-7 3-6 0-14-1-1 0-9-1-1 0-4-5-6zM316 25l-4 2-5 6 0 11 2 4 6 4 12 0 5-3 7-8 1-2 0-9-1-2-4-3zM463 20l-4 4-2 4 0 37 1 2 4 3 17 1 11 4 7 0 5-2 4-5 0-2 1-1 0-7-4-11 0-6-1-1 0-12-2-4-4-4-2-1-5 0-1-1-17 0-1 1-5 0zM882 0l1 20 2 4 6 4 8 0 1 1 44 0 1-1 6 0 14-7 18 0 0-21zM834 0l0 56 1 1 0 5 5 6 4 2 15 0 4-2 4-4 1-2 0-5 1-1 0-56zM790 0l-77 0 0 7 1 1 0 31-3 4-7 2-4 4-1 7-1 1 0 11-6 15 3 8 5 5 7 3 6 0 5-2 4-5 0-2 1-1 0-7 1-2 4-3 27 0 1-1 8 0 6-4 2-4 0-6 1-1 0-5 1-2 4-3 5-1 4-4 0-2 1-1 0-4 1-1 0-13 1-1zM616 0l0 16 1 1 0 6 1 1 0 3 2 5 0 4 1 1 0 2 4 4 2 0 1 1 10 1 1-1 7-1 4-4 1-5 5-5 7-1 5-3 5-5 3-5 1-15zM354 0l0 33 1 1 0 4 5 6 4 2 15 0 4-2 4-4 3-10 4-3 5-1 4-4 1-7 1-1 0-14zM169 0l0 19 2 4 4 4 7 2 3 2 1 2 0 4 1 1 0 6 4 6 4 2 11 1 4 4 0 23 1 1 0 6 3 5 5 5 5 3 12 0 4-2 4-6 0-12-5-11-1-12 1-1 0-6 4-8 2-10 3-4 8-2 8-4 2 0 1-1 10 0 1-1 3 0 3-3 0-4 1-1 0-12zM25 0l0 71 1 2 4 3 6 0 1 1 49 0 4 4 0 6-1 2-4 3-22-1-1-1-27 0-1 1-7 0-4 2-4 6 0 11 1 2 4 4 4 2 44 0 1-1 19 0 14 6 7 0 5-2 3-3 2-5 0-14 1-1 0-18-4-8 0-2-1-1 0-6-1-1 1-14 1-1 0-23-1-1 0-8-1-1 0-14-21 0 0 11-1 1 0 5-1 2-6 5-11 0-6-5-1-2 0-5-1-1 0-11z"/>
<path fill="#00ff00" fill-rule="evenodd" d="M747 964l-1 2 0 17 24 0 0-13-1-1 0-2-4-4-2 0-1-1-12 0zM0 940l0 43 29 0 0-15-1-1 0-6-1-1 0-2-3-7 0-4-2-4-5-3zM936 936l-2 3 0 3-1 1 0 40 50 0 0-50-40 0-1 1-3 0zM142 939l0 3-1 1 1 10 2 3 6 5 3 0 1 1 10 0 1-1 5 0 1-1 9 0 1-1 5-1 5-6 0-9-1-2-6-5-3 0-1-1-9 0-1-1-5 0-1-1-13 0-1 1-3 0-3 2zM75 934l-3 2-2 3 0 3-1 1 0 9 1 1 0 3 2 3 3 2 3 0 1 1 10-1 3-2 5-6 0-3 1-1-1-7-2-3-6-5-3 0-1-1zM693 915l-2 0-1-1-39 0-4 2-2 5 0 31 1 1 0 3 2 3 3 2 3 0 1 1 9 0 1-1 3 0 3-2 2-3 0-3 1-1 0-7 1-1 0-2 3-3 2 0 1-1 7 0 1-1 3 0 3-2 2-3 1-10-1-1 0-2zM775 845l-3 4-1 9-7 14 0 7 4 7 8 5 12 0 1-1 4 0 5-2 8 0 1-1 5-1 3-4 0-9-1-2-5-3-7 0-8-3-4-4-2-4-2-10-4-3-5 0zM77 842l0 2-1 1 0 12-1 1 0 4-3 7 0 5-1 1 1 7 1 2 4 3 3 0 1 1 11 0 3 3 0 9 3 6 2 0 1 1 10 0 1 1 3 0 10 5 3 0 1 1 31 0 1-1 3 0 3-2 2-3 0-3 1-1 0-33-1-1 0-3-2-3-3-2-3 0-1-1-33 0-1 1-3 0-3 2-2 3 0 3-1 1 0 8-2 5-5 3-11 0-3-3 0-35-1-1 0-3-3-4-2-1-4 0-1-1-5 1zM243 842l0 2-1 1 0 18 1 1 0 6 1 1 0 10 3 5 5 2 3 0 4 3 0 3 1 1 1 30 1 1 0 2 4 4 2 0 1 1 37 0 1-1 2 0 4-4 2-10 7-6 4 0 5 3 2 4 0 6 1 1 0 2 4 4 2 0 1 1 15 0 4-2 2-5 0-31-1-1 0-3-2-3-3-2-3 0-1-1-7 0-1 1-3 0-10 5-8 1-15-6-14 0-1-1-10 0-1-1-11 0-1-1-3 0-3-4 0-6-1-1 0-5-1-1 0-8-1-1 0-12-1-1 0-2-4-4-3 0-1-1-5 1zM963 816l-5 6 0 3-1 1 1 7 2 3 6 5 3 0 1 1 13 0 0-29-13 0-1 1-3 0zM840 816l-2 3 0 3-1 1 0 6 1 1 0 2 4 4 2 0 1 1 13 0 1-1 2 0 4-4 0-2 1-1-1-10-2-3-3-2-3 0-1-1-9 0-1 1-3 0zM721 822l-1-2-4-2-19-1-11-4-7 0-1 1-3 0-3 2-2 3 0 3-1 1 0 8-2 4-5 4-3 0-1 1-5 1-4 4-1 5-1 1 0 9-3 3-11 0-1 1-14 1-1 1-36 0-1 1-2 0-4 4 0 2-1 1 1 10 2 3 3 2 3 0 1 1 37 0 1-1 5 0 1-1 9 0 1-1 5-1 4-4 1-5 1-1 0-9 3-3 13 0 1 1 10 2 1 1 17 0 1-1 5 0 1-1 12 0 1-1 3 0 3-2 2-3 0-3 1-1 0-31-1-1zM747 770l-4 2-2 5 0 29 1 1 0 2 1 2 4 2 15 0 1-1 2 0 4-4 0-2 1-1 0-27-1-1 0-2-4-4-2 0-1-1zM50 771l-4 4 0 2-1 1 0 30 1 1 0 3 2 3 3 2 3 0 1 1 9 0 1-1 3 0 3-2 2-3 0-3 1-1 0-30-1-1 0-2-4-4-2 0-1-1-13 0-1 1zM929 773l-2-1-6 0-11-4-7 0-1-1-9 1-4 3-1 2 0 5-1 1 0 14-1 1 0 4-1 1 0 9 1 1 0 3 2 3 3 2 3 0 1 1 9 0 1-1 3 0 3-2 2-3 0-3 1-1 0-8 2-4 3-3 5-1 4-2 3-5 0-9zM538 765l-1 1-3 0-3 2-5 6 0 3-1 1 0 30 1 1 0 3 2 3 3 2 3 0 1 1 9 0 1-1 3 0 3-2 2-3 0-3 1-1 0-33-1-1 0-3-2-3-3-2zM292 777l-4-8-5-4-5-2-12 0-1 1-5 0-1 1-9 0-1 1-3 0-6 5-2 3 0 3-1 1 0 6 1 1 0 3 2 3 3 2 3 0 1 1 12 0 1 1 5 0 1 1 12 0 5-2 5-4 4-8zM453 753l1 7 4 4 2 0 1 1 13 0 1-1 2 0 4-4 0-3 1-1-1-5-4-4-2 0-1-1-15 0-4 2zM334 747l-1 10 1 1 0 3 2 3 6 5 9 1 2 1 4 5 0 7-1 1 0 2-2 2-12 2-3 2-5 6 0 3-1 1 1 10 2 3 3 2 10 1 1-1 3 0 3-2 5-6 1-9 1-1 0-2 2-2 2 0 1-1 29 0 1-1 2 0 4-4 0-2 1-1 0-13-1-1 0-2-4-4-2 0-1-1-6 0-5-3-2-4-1-9-3-4-5-1-1-1-11 0-1-1-5 0-1-1-13 0-1 1-3 0-3 2zM129 720l-3 2-2 4 0 11 2 4 6 3 4 0 4 3 1 2 0 11 1 1 0 3 2 3 3 2 3 0 1 1 8 0 1 1 2 0 2 2 0 2 1 1 0 6-2 4-5 3-28 0-1 1-2 0-4 4 0 2-1 1-1 21-1 1 0 6-1 1 1 8 1 2 4 3 3 0 1 1 11 0 1 1 5 0 1 1 34 0 1-1 3 0 3-2 5-6 0-2 1-1 0-5 2-4 5-3 5 0 1-1 2 0 3-2 5-6 0-3 1-1 0-27-1-1 0-3-5-6-3-2-3 0-1-1-29 0-1-1-2 0-2-2 0-2-1-1 0-8-1-1 0-3-2-3-3-2-3 0-1-1-11 0-2-1-3-4 0-5-1-1-1-5-6-5zM0 719l0 20 14 0 2-1 3-4 0-8-2-4-6-3zM939 694l-3 2-2 3 0 3-1 1 0 31 1 1 0 3 5 10 0 3 1 1 0 7 1 2 3 2 7 1 15 9 17 1 0-58-13 0-1-1-3 0-4-5 0-5-1-1 0-2-5-6-3-2-3 0-1-1zM771 694l-3 2-2 3 0 3-1 1 0 9 1 1 0 3 2 3 3 2 3 0 1 1 6 0 1-1 2 0 4-4 0-2 1-1 0-13-1-1 0-2-4-4-2 0-1-1zM249 693l-5 2-2 4 0 15 1 1 0 2 4 4 6 1 1-1 3 0 6-5 2-3 0-3 1-1 0-6-1-1 0-3-2-3-3-2-3 0-1-1zM534 676l-5 3-2 5 0 8-1 1 0 5-1 1 0 10 1 1 0 3 5 6 3 2 8 1 5-2 2-4 0-20-1-1 0-6-1-1 0-7-1-2-4-3zM336 672l-2 3 0 3-1 1 0 9 1 1 0 3 2 3 3 2 3 0 1 1 8 0 5 2 3 5 1 9 3 4 2 1 4 0 1 1 7-2 2-4 0-11 1-1 0-6 1-1 0-16-1-2-4-3-15-1-11-4-7 0-1 1-3 0zM918 646l-3 2-5 6 0 3-1 1 1 7 2 3 6 5 3 0 1 1 10-1 3-2 2-3 0-3 1-1 0-9-1-1 0-3-2-3-3-2-3 0-1-1zM651 650l0 2-1 1 0 13 1 1 0 2 4 4 2 0 1 1 5 0 1 1 2 0 2 2 2 12 2 3 6 5 3 0 1 1 27 0 1-1 3 0 3-2 5-6 1-8-2-5-4-2-19-1-7-3-13-2-2-2 0-2-1-1-1-9-2-3-6-5-3 0-1-1-6 1zM295 645l-1 1-3 0-3 2-2 3 0 3-1 1 0 33 1 1 0 3 2 3 3 2 3 0 1 1 9 0 1-1 3 0 3-2 2-3 0-3 1-1 0-33-1-1 0-3-2-3-3-2-3 0-1-1zM50 666l1 1 0 2 4 4 2 0 1 1 9 0 1 1 5 0 1 1 19 0 1-1 5 0 1-1 12 0 1-1 3 0 3-2 2-3 0-3 1-1 0-7 1-1 0-2 3-3 2 0 1-1 7 0 1-1 3 0 3-2 2-3 0-3 1-1 0-7-1-1 0-2-1-2-4-2-19-1-11-4-13 0-1-1-21 0-1 1-4 0-5 2-5 0-1 1-2 0-3 2-2 4 0 10-1 1 0 6-1 1zM354 604l-10 0-2 1-2 3 0 7-1 1 0 3-5 10 0 3-1 1 0 7 1 1 0 3 2 3 3 2 3 0 1 1 10-1 3-2 5-6 0-3 1-1 0-10-1-1 0-5-1-1 0-9-2-5zM0 599l0 55 10 0 1-1 5 0 6-4 3-6 0-25-1-1 0-11-1-1 0-2-3-3-2 0-1-1zM771 598l-3 2-2 3 0 3-1 1 0 9 1 1 0 3 2 3 3 2 3 0 1 1 7 0 5-2 2-4 0-15-1-1 0-2-4-4-2 0-1-1zM491 597l-1 1-3 0-4 4 0 2-1 1 0 13 1 1 0 2 4 4 2 0 1 1 6 0 1-1 3 0 3-2 2-3 1-10-1-1 0-3-5-6-3-2zM175 574l-4 4 0 2-1 1-1 17-4 11 0 5 1 1 0 2 1 2 4 2 14 0 1 1 5 0 2 2 0 4 1 1 0 13 1 1 0 2 4 4 2 0 1 1 10-1 3-2 2-3 0-3 1-1-1-10-2-3-6-5-3 0-1-1-7 0-2-1-2-3 0-34-1-1 0-3-2-3-3-2-3 0-1-1-6 0-1 1zM72 576l-2 3 0 3-1 1 0 9 1 1 0 3 2 3 3 2 3 0 1 1 9 0 1-1 3 0 3-2 2-3 0-3 1-1 0-6-1-1 0-3-2-3-6-5-3 0-1-1-6 0-1 1-3 0zM744 532l-4-2-13 0-2 1-3 4 0 11-1 1 0 4-2 2-5 0-1 1-36 0-1 1-2 0-4 4 0 2-1 1 0 5-1 1 0 2-2 2-2 0-1 1-8 0-1 1-3 0-3 2-2 3 0 3-1 1 0 13 1 1 0 5 1 1 0 9 1 1 1 5 6 5 7 0 3-2 2-4 0-9 1-1 0-3 5-10 1-10 1-1 0-2 2-2 2 0 1-1 29 0 1-1 3 0 3-2 5-6 0-3 1-1 0-7 1-2 3-2 7 0 1-1 3 0 3-2 5-6 1-8zM0 530l0 19 16 0 4-3 1-2 0-9-3-4-2-1zM983 525l-39-1-7 4-5 8 0 6-1 1 0 2-5 4-5 0-1 1-2 0-6 5-2 3-2 12-2 2-2 0-1 1-9 1-6 5-2 3 0 3-1 1 0 4 2 5 4 2 15 0 1-1 2 0 4-4 2-11 2-2 2 0 1-1 63 0zM393 508l-2 1-3 4 0 7-1 1 0 6-1 1 0 18 1 1 0 2 4 4 2 0 1 1 5 0 5 4 1 2 0 7-1 1 0 2-2 2-12 2-3 2-5 6 0 3-1 1 0 9-1 1 0 5-1 1 0 17 1 1 0 3 1 1 0 3 2 4 0 4 2 5 5 3 11 0 5-3 2-4 1-6 5-5 10-2 6-5 1-5 1-1 0-9 3-3 8 0 6-3 2-4 0-35 1-1 0-4 3-7 1-10-2-4-16 0-1-1-4 0-7-3-4 0-1-1-5 0-1-1-2 0-4-4-1-6-3-6-4-2zM413 579l2 0 1-1 8 0 1 1 2 0 3 3 1 2 0 12-3 3-11 0-5-4-2-4 0-7 1-1 0-2zM575 508l-2 5 0 7 1 1 0 3 2 3 3 2 3 0 1 1 9 0 1-1 3 0 3-2 2-3 0-3 1-1 0-7-2-5-4-2-17 0zM966 485l-2 3 0 10 1 1 0 2 6 3 12 0 0-20-15 0zM126 478l-3 2-5 6 0 3-1 1 1 10 2 3 3 2 3 0 1 1 9 0 1-1 3 0 3-2 2-3 0-3 1-1-1-10-2-3-6-5-3 0-1-1zM402 439l-4-3-9 0-1 1-2 0-2 3-2 9-3 3-2 0-1 1-30 0-1 1-2 0-4 4 0 2-1 1 0 11 1 2 4 3 40 0 1-1 6 0 1-1 7 0 2-1 3-4 0-29zM0 406l0 50 17 0 1-1 2 0 3-3 0-2 1-1 0-13 1-1 0-20-1-1 0-2-3-4-5-2zM677 409l-4 4-1 2 0 4-1 1 1 2 0 6 1 1 0 8 1 1 0 17 1 1 0 6 1 1 0 7 1 2 4 3 7 0 1 1 6 0 1 1 18 0 1-1 2 0 4-4 1-7 2-4 5-3 7-1 4-4 0-2 1-1 0-13-1-1 0-2-4-4-7-1-5-3-2-4 0-7-1-1 0-3-2-3-3-2-3 0-1-1-13 0-1 1-5 0-1 1-9 0-1 1zM575 408l-3-2-3 0-1-1-10 1-3 2-5 6-1 7-3 4-2 1-17 1-1 1-4 0-1 1-9 0-5-2-3-5-1-9-3-4-2-1-9 0-3 2-2 4 0 10-1 1 0 6-1 1 0 13-1 1 0 5-6 13 0 7-4 5-8 2-4 4 0 2-1 1 0 43 3 2 11 0 1-1 3 0 3-2 2-3 0-3 1-1 0-7 1-1 0-2 3-3 11-2 3-2 5-6 0-2 1-1 0-5 3-5 4-2 31 0 1-1 3 0 3-2 2-3 0-3 1-1 0-7 1-2 4-4 9-2 4-4 0-2 1-1 1-17 4-11 0-7-1-1 0-3zM92 406l-10-1-1 1-3 0-6 5-2 3 0 3-1 1 0 6 1 1 0 3 2 3 3 2 3 0 1 1 6 0 1-1 3 0 6-5 2-3 0-3 1-1 0-6-1-1 0-3-2-3zM848 404l-7 4-5 8 0 6-2 5-3 3-4 1-5 3-2 4 0 8 1 2 4 3 8 1 6 3 3 0 1 1 16 0 4-2 4-4 1-2 0-4 1-1 0-5-1-1 0-10-1-1 0-13-3-6-3-2-2 0-1-1zM151 382l-4 4 0 2-1 1 0 33-1 1 0 7-4 11 0 5 2 5 4 2 35 0 1 1 7 0 11 4 6 0 1 1 2 0 2 2 0 2 1 1 0 8 1 1 0 4 1 1 0 18 1 1 0 5 4 5 2 0 1 1 12 0 1-1 7-1 4-2 5 0 1-1 5-1 5-6 0-4 1-2-1-1 0-4-1-2-4-3-9-1-2-1-3-3-2-4 0-5-1-1 0-3-2-3-6-5-12-2-2-2-2-12-2-3-6-5-11-2-3-3 0-2-1-1 0-7-1-1 0-3-2-3-3-2-3 0-1-1-7 0-1-1-2 0-3-3 0-2-1-1 0-7-1-1 0-3-2-3-3-2-3 0-1-1-6 0-1 1zM894 358l-3 2-5 6 0 3-1 1 1 10 2 3 3 2 3 0 1 1 9 0 1-1 3 0 3-2 2-3 0-3 1-1 0-9-1-1 0-3-2-3-3-2-3 0-1-1zM672 360l-2 3 0 3-1 1 0 6 1 1 0 3 2 3 6 5 3 0 1 1 6 0 1-1 3 0 3-2 2-3 0-3 1-1 0-6-1-1 0-3-2-3-6-5-3 0-1-1-6 0-1 1-3 0zM528 360l-2 3 0 3-1 1 0 7 2 5 4 2 17 0 4-2 2-5 0-7-1-1 0-3-2-3-3-2-3 0-1-1-9 0-1 1-3 0zM428 362l-4-4-2 0-1-1-6 0-1 1-3 0-3 2-2 3 0 3-1 1 0 11-1 2-4 3-9 0-1-1-10-2-1-1-10 0-1 1-2 0-5 5 0 2-1 1-1 9 1 1 0 5 1 1 0 2 5 5 2 0 1 1 5 0 1-1 3 0 12-7 3 0 1-1 7 0 4-2 3-6 0-4 3-4 2-1 8 0 1-1 2 0 4-4 0-2 1-1 0-13-1-1zM105 333l-5 2-2 4 0 17 2 4 5 2 4 0 1-1 3 0 6-5 2-3 0-3 1-1 0-6-1-1 0-3-2-3-3-2-3 0-1-1zM242 315l-4 4 0 2-1 1 0 27 1 1 0 3 2 3 6 5 9 1 2 1 4 5 1 9 5 6 3 2 10 1 4 2 3 4 1 8 5 6 2 1 9 0 2-1 4-4 1-5 1-1 0-9 1-1 0-5 1-1 0-14 1-2 3-2 7 0 1-1 3 0 3-2 5-6 0-3 1-1 0-27-1-1 0-2-4-4-2 0-1-1-85 0-1 1zM286 338l6-4 5 0 1-1 10 2 5 6 0 4 1 1-1 13-2 2-5 0-1 1-13-1-4-2-4-5 0-3-1-1 0-5 1-1 0-3zM0 311l0 20 17 0 5-3 1-2 0-9-3-4-5-1-1-1zM51 310l-3 2-2 3 0 3-1 1 1 10 2 3 6 5 3 0 1 1 7-1 3-2 5-6 0-3 1-1-1-10-2-3-3-2-3 0-1-1-9 0-1 1zM983 290l-18 0-1 1-2 0-4 4 0 2-1 1 0 8-1 2-4 3-13 0-1-1-5 0-1-1-13 0-1 1-3 0-3 2-2 3 0 3-1 1 0 9 1 1 0 3 2 3 3 2 3 0 1 1 8 0 2 1 4 5 0 8 1 1 0 3 2 3 3 2 3 0 1 1 9 0 1-1 3 0 3-2 2-3 0-3 1-1 0-13-1-1 0-5-1-1 0-13 1-2 4-3 18 0zM411 286l-3 2-2 3 0 3-1 1 0 9 1 1 0 3 2 3 3 2 3 0 1 1 6 0 1-1 2 0 4-4 0-2 1-1 0-13-1-1 0-2-4-4-2 0-1-1zM106 285l-1 1-3 0-6 5-2 3 0 3-1 1 0 6 1 1 0 3 2 3 3 2 3 0 1 1 7 0 5-2 2-4 0-15-1-1 0-2-4-4zM177 283l-5 2-5 4-4 8 0 6 6 13 0 5 1 1 0 10 2 4 5 2 4 0 1-1 3 0 6-5 2-3 1-9 2-4 3-3 2-1 4 0 5-3 0-2 1-1 0-10-1-2-3-2-9-1-12-7zM654 268l-5 3-2 5 0 8-1 1 0 5-1 1 0 13 1 1 0 3 2 3 3 2 10 1 1-1 3 0 3-2 5-6 0-3 1-1 0-10-1-1 0-5-1-1 0-8-2-5-5-3zM429 250l0 4 2 5 4 2 34 0 1 1 4 0 2 1 4 5 0 12 1 1 0 5 1 1 1 8 1 1 0 10 1 1 0 2 3 2 7 1 10 4 10 1 1-1 7-1 4-3 4-5 3-15 4-4 3 0 5-2 5-6 0-4 1-2-1-1 0-4-3-4-5-1-1-1-6 0-10-4-16-1-5-3-3-8-5-3-10 0-1-1-6 0-1-1-42 0-1 1-2 0-4 4 0 2zM238 247l0 2-1 1 1 10 2 3 3 2 3 0 1 1 9 0 1-1 3 0 3-2 2-3 1-10-1-1 0-2-4-4-2 0-1-1-13 0-1 1-2 0zM340 246l0 11 2 4 3 2 2 0 1 1 24 0 6-3 0-2 1-1 0-9-1-2-4-3-8 0-1-1-4 0-7-3-9 0-3 2zM592 239l-6 0-1 1-5 0-1 1-2 0-5 5 0 2-1 1 0 12 1 1 0 5 1 1 0 9 1 1 0 3 5 6 3 2 3 0 1 1 7-1 3-2 5-6 0-3 1-1 0-9 1-1 0-5 1-1 0-14-1-1 0-2-5-4-5 0zM0 220l0 46 16 0 1-1 3 0 3-2 2-3 0-3 1-1 0-13-1-1-1-14-1-1 0-2-2-3-4-2zM46 223l0 2-1 1 1 10 2 3 3 2 3 0 1 1 9 0 1-1 3 0 3-2 2-3 1-10-1-1 0-2-4-4-2 0-1-1-13 0-1 1-2 0zM939 214l-3 2-2 3 0 3-1 1 0 9 1 1 0 3 2 3 3 2 3 0 1 1 6 0 1-1 2 0 4-4 0-2 1-1 0-13-1-1 0-2-4-4-2 0-1-1zM187 215l-5-2-10 0-1-1-5 0-1-1-17 0-1 1-3 0-1 1-3 0-4 2-4 0-5 2-3 5 0 11-1 1 0 4-3 7 0 10 1 2 4 2 11 0 1 1 6 0 1 1 20 0 4-2 2-4 0-6 2-4 5-3 7-1 4-4 0-2 1-1 0-15zM799 165l-1 1-3 0-3 2-2 3 0 3-1 1 0 31-1 1 0 2-3 3-2 0-1 1-31 0-1 1-3 0-3 2-2 3 0 3-1 1 0 10 1 1 0 9 1 1 1 34 1 1 1 7 4 4 11 2 3 3 2 10 5 6 3 2 12 2 4 4 1 5 1 1 0 3 5 6 5 1 1 1 4 0 5 4 0 2 1 1 0 9 1 1 0 3 2 3 3 2 3 0 1 1 6 0 1-1 3 0 3-2 5-6 0-3 1-1 0-10-1-1 0-5-1-1 0-11 2-4 3-3 4-2 11 0 1 1 5 0 1 1 13 0 1-1 3 0 3-2 2-3 0-3 1-1 0-37-1-1 0-5-1-1 0-11-1-1-1-5-4-3-3 0-1-1-11 0-1-1-5 0-1-1-11 0-5-2-4-5 0-3-1-1-1-5-6-5-8-1-3-2-2-3 0-2-1-1 0-32-1-1 0-3-2-3-3-2-3 0-1-1zM850 266l5 0 2 1 4 5 0 7-1 1 0 2-2 3-4 2-4 0-2-1-3-3-1-5-1-1 0-3 2-5zM528 168l-2 3 0 3-1 1 0 6 1 1 0 3 2 3 6 5 3 0 1 1 6 0 1-1 3 0 3-2 2-3 0-3 1-1 0-9-1-1 0-3-2-3-3-2-3 0-1-1-9 0-1 1-3 0zM432 168l-2 3 0 3-1 1 0 7 2 5 4 2 15 0 1-1 2 0 4-4 0-2 1-1-1-10-2-3-3-2-3 0-1-1-9 0-1 1-3 0zM315 166l-3 2-2 3 0 3-1 1 0 13 1 1 1 14 1 1 0 2 2 3 4 2 12 0 1-1 2 0 2-3 1-5-1-1 0-6-1-1-1-21-1-1 0-2-4-4-2 0-1-1zM843 118l-3 2-2 3 0 3-1 1 0 9 1 1 0 3 2 3 3 2 3 0 1 1 10-1 3-2 5-6 0-3 1-1-1-10-2-3-3-2-3 0-1-1-9 0-1 1zM631 117l-1 1-3 0-3 2-2 3 0 3-1 1 0 33 1 1 0 3 2 3 3 2 3 0 1 1 9 0 1-1 3 0 3-2 2-3 0-3 1-1 0-33-1-1 0-3-2-3-3-2-3 0-1-1zM247 117l-1 1-3 0-3 2-2 3 0 3-1 1 0 12-1 1 0 5-1 1 0 19 1 1 0 5 1 1 0 12 1 1 0 3 2 3 3 2 3 0 1 1 9 0 1-1 3 0 3-2 2-3 0-3 1-1 0-12 1-1 0-5 1-1 0-19-1-1 0-5-1-1 0-12-1-1 0-3-2-3-3-2-3 0-1-1zM355 129l0 5 4 8 5 4 5 2 10 0 1-1 7-1 4-2 5 0 5-2 2-4 0-12-3-5-5-2-4 0-4-2-7-1-1-1-10 0-5 2-5 4zM983 117l-17 0-1-1-4 0-1-1-12-1-1 1-5 0-6 3-5 4-2 0-4 2-4 0-4 3-1 2-1 14-1 1 0 23 1 1 0 6 1 1 0 10 3 5 5 2 8 0 1 1 5 0 1 1 10 0 1-1 3 0 3-2 5-6 2-11 3-3 2 0 1-1 14 0zM549 51l-2 0-1-1-13 0-1 1-2 0-4 4 0 2-1 1 0 9-1 1 0 5-1 1 0 13-1 1 0 2-4 3-7 0-1 1-3 0-3 2-2 3 0 3-1 1 0 30 1 1 0 3 2 3 6 5 10 1 1-1 3 0 3-2 2-3 0-3 1-1 0-31 3-4 2 0 1-1 6 0 5-2 5-4 3-5 0-2 1-1 0-12-1-1 0-5-1-1 0-9-1-1 0-2zM314 27l-4 4 0 2-1 1 0 6 1 1 0 3 2 3 3 2 3 0 1 1 6 0 1-1 3 0 6-5 2-3 0-3 1-1 0-4-2-5-4-2-15 0-1 1zM463 22l-4 4 0 2-1 1 0 35 1 2 4 3 10 0 1 1 8 0 1 1 6 0 1 1 4 0 1-1 5-1 2-2 1-5 1-1-1-11-1-1-1-21-1-1 0-2-4-4-2 0-1-1-27 0-1 1zM885 0l0 16 1 1 0 3 2 3 3 2 3 0 1 1 55 0 1-1 3 0 7-4 6-1 1-1 15 0 0-19zM837 0l0 61 1 1 0 2 4 4 2 0 1 1 13 0 1-1 2 0 4-4 0-2 1-1 0-61zM789 0l-73 0 0 24 1 1 0 14-3 6-3 2-4 0-5 3-2 4 0 11-1 1 0 4-3 7 0 11 5 6 2 1 4 0 1 1 8-2 3-4 1-10 4-5 2 0 1-1 33 0 1-1 3 0 3-2 2-3 0-3 1-1 0-8 2-5 4-3 4 0 4-2 3-5 0-10 1-1 0-6 1-1zM618 0l0 15 1 1 0 6 1 1 0 2 3 7 0 4 2 4 5 3 11 0 4-2 3-5 0-3 4-5 5-2 5 0 1-1 2 0 3-2 5-6 0-3 1-1 0-13zM356 0l0 24 1 1 0 12 1 1 0 2 4 4 2 0 1 1 13 0 1-1 2 0 4-4 2-11 4-4 5-1 5-3 2-4 0-17zM170 0l0 18 1 1 0 2 4 4 10 2 3 3 0 2 1 1 0 7 1 1 0 3 2 3 3 2 3 0 1 1 7 0 1 1 2 0 3 3 0 2 1 1 0 28 1 1 0 3 2 3 6 5 3 0 1 1 6 0 1-1 3 0 3-2 2-3 0-3 1-1 0-7-4-11-1-13 1-1 0-7 4-11 0-6 1-1 0-2 6-5 9-1 1-1 2 0 4-2 4 0 1-1 9 0 2-1 2-3 0-15zM26 0l0 68 2 4 5 2 53 0 1 1 2 0 3 3 0 2 1 1 0 7-1 1 0 2-5 4-12 0-1-1-5 0-1-1-37 0-1 1-3 0-3 2-2 3 0 3-1 1 0 6 1 1 0 2 4 4 2 0 1 1 42 0 1-1 6 0 1-1 10 0 1 1 4 0 7 3 5 0 1 1 9-2 2-2 1-5 1-1 0-11 1-1 0-5 1-1 0-11-4-11 0-7-1-1 1-13 1-1 0-7 1-1 0-9-1-1 0-7-1-1 0-7-1-1 0-14-19 0 0 12-1 1 0 4-1 2-7 6-11 0-7-6-1-2 0-4-1-1 0-12z"/>
<path fill="#adff2f" fill-rule="evenodd" d="M752 967l-2 3 0 13 13 0 0-13-1-2-3-2-5 0zM0 953l0 30 25 0 0-16-1-1-1-6-8-7zM942 941l-2 3 0 39 43 0 0-43-39 0zM148 944l0 7 1 2 3 2 11 0 6-5 0-5-6-5-11 0-2 1zM78 941l-2 3 0 7 1 2 3 2 7 0 2-1 2-3 0-7-1-2-3-2-7 0zM689 919l-2-1-31 0-4 3 0 30 1 2 3 2 7 0 2-1 2-3 1-11 1-2 7-6 11-1 3-2 1-2 0-5zM342 892l-4 2-4 4 0 6 5 10 1 12 4 3 7 0 4-3 0-30-1-2-3-2zM317 894l-6-5-7-1-1-1-12 0-1 1-10 0-1 1-9 0-2 1-3 4 0 15 1 1 0 4 1 1 1 11 4 3 31 0 4-3 0-2 3-7 8-11 0-2 1-1 0-5zM580 874l0 5 1 2 3 2 35 0 6-5 0-4-3-3-2 0-1-1-35 0-2 1zM126 869l-2 3-1 13-5 10 0 6 4 4 4 2 33 0 2-1 2-3 0-31-1-2-3-2-31 0zM780 859l-5 2-4 5-2 5 0 8 1 1 0 2 3 3 2 0 1 1 10 0 5-2 4-4 1-5-1-1 0-2-4-4 0-1-8-7-2 0zM250 844l-2 1-2 3 0 10 1 1 0 2 5 4 4-3 0-2 1-1 0-11-2-3zM965 822l-1 2 0 7 2 3 2 1 15 0 0-15-15 0zM845 822l-1 2 0 5 2 3 2 1 7 0 3-2 1-2 0-5-2-3-2-1-7 0zM678 821l-2 3-2 11-7 10 0 2-1 1 0 7 1 2 4 4 8 3 10 0 1-1 4 0 8-3 5 0 1-1 5-1 2-3 0-30-4-3-10 0-1-1-6 0-1-1-13 0zM342 797l-2 3 0 7 1 2 3 2 7 0 2-1 2-3 0-8-1-2-2-1-8 0zM752 774l-4 3 0 29 4 3 7 0 2-1 2-3 0-27-1-2-3-2zM56 774l-2 1-2 3 0 29 1 2 3 2 7 0 2-1 2-3 0-29-1-2-3-2zM536 772l-2 1-2 3 0 31 1 2 3 2 7 0 2-1 2-3 0-31-1-2-3-2zM210 774l-3-2-32 0-2 1-1 2-1 9-2 4-5 5-4 2-30 1-2 1-2 3 0 11 1 1 0 2 3 3 7 2 4 5 1 6 6 5 35 0 2-1 2-3 1-8 2-4 5-5 4-2 8-1 2-1 2-3 0-31zM895 770l-2 1-3 4 0 19 1 1 0 7 1 1 0 4 2 3 2 1 7 0 3-2 3-13 7-10 0-2 1-1 0-5-1-2-6-5-2 0-1-1zM288 778l-1-1-1-5-3-3-5-1-1-1-7 0-1 1-4 0-8 3-4 0-1 1-4 0-2 1-2 3 0 7 1 2 3 2 9 1 4 2 8 1 1 1 7 0 1-1 5-1 3-3 1-5 1-1zM364 767l0 17 1 2 2 1 30 0 2-1 2-3 0-7-3-4-12-1-10-5-4 0-1-1-3 0zM460 753l0 4 1 2 3 2 7 0 2-1 2-3-1-5-3-2-7 0zM341 750l-1 2 0 7 2 3 2 1 16 0 1-1 0-2 1-1-1-6-4-4-2-1-11 0zM151 748l-3 3 0 8 1 2 3 2 8 0 2-1 1-2 0-8-1-2-3-2zM942 701l-2 3 0 33 2 4 8 7 1 5 1 1 0 3 2 4 6 6 7 3 16 0 0-49-15 0-1-1-5 0-2-1-4-5-1-10-2-3-2-1-7 0zM776 700l-2 1-2 3 0 7 1 2 3 2 5 0 2-1 2-3 0-7-1-2-3-2zM249 700l-3 4 0 7 1 2 3 2 5 0 2-1 2-3 0-7-1-2-3-2zM537 694l-5 6 0 11 1 2 3 2 6 0 3-4 0-10-1-1 0-2-4-4zM676 679l0 8 1 2 3 2 31 0 2-1 2-3 0-6-4-3-10 0-1-1-6 0-1-1-14 0-2 1zM340 680l0 7 1 2 3 2 13 1 10 5 5 0 4-4 0-2 1-1 0-8-1-2-3-2-8 0-1-1-6 0-1-1-13 0-2 1zM918 653l-2 3 0 7 1 2 3 2 7 0 2-1 2-3 0-7-1-2-3-2-7 0zM658 652l-2 1-2 3 0 7 1 2 3 2 6 0 2-1 1-2 0-8-1-2-3-2zM296 652l-2 1-2 3 0 31 1 2 3 2 7 0 2-1 2-3 0-31-1-2-3-2zM201 628l-3 4 0 7 1 2 3 2 5 0 2-1 2-3 0-7-1-2-3-2zM54 663l3 4 8 1 4 2 8 1 1 1 11 0 1-1 8-1 4-2 9-1 2-1 2-3 1-11 1-2 7-6 6 0 1-1 4 0 2-1 2-3 0-6-4-3-10 0-1-1-6 0-1-1-18-1-1-1-4 0-1-1-16 0-1 1-2 0-6 5-3 11-2 2-6 3-2 3 0 2-1 1zM347 622l-5 4-2 4 0 9 1 2 3 2 7 0 2-1 2-3 0-11-5-6zM776 604l-2 1-2 3 0 7 1 2 3 2 6 0 3-4 0-7-1-2-3-2zM490 604l-2 1-2 3 0 7 1 2 3 2 5 0 2-1 2-3 0-7-1-2-3-2zM0 601l0 49 15 0 1-1 2 0 4-4 1-2 0-4 1-1-1-20-1-1 0-10-2-4-4-2zM893 582l-1 2 0 6 4 3 7 0 3-2 1-2 0-6-1-2-2-1-8 0zM664 580l-8 0-2 1-2 3 0 11 5 6 5-1 3-3 2-4 0-10-1-2zM392 580l-2 1-2 3-1 9-2 4-1 8-1 1 0 10 3 8 4 4 2 1 7 0 4-2 8-8 2-4 0-7-1-1 0-2-7-10-3-14-2-1zM178 580l-2 1-2 3 0 10-1 1 0 6-1 1 0 12 4 3 7 0 4-3 0-30-1-2-3-2zM78 581l-2 3 0 7 1 2 3 2 7 0 2-1 2-3 0-7-1-2-3-2-7 0zM676 562l0 6 1 2 2 1 32 0 2-1 2-3 0-6-4-3-31 0-2 1zM412 551l0 17 1 2 2 1 14 0 4-3 0-3 1-1-2-10-5-4-4 0-1-1-7 0zM730 534l-2 1-2 3 0 5 3 4 6 0 2-1 2-3 0-6-4-3zM0 534l0 11 13 0 2-1 2-3-1-5-3-2zM916 560l0 8 1 2 2 1 64 0 0-39-6 0-1-1-13 0-1-1-4 0-1-1-13 0-1 1-2 0-3 3 0 2-1 1 0 8-1 1 0 4-1 2-5 4-10 1-2 1zM395 526l-4 4 0 2-1 1 0 10 1 2 3 2 14 0 2-4 0-3-1-1-1-5-7-7-2-1zM580 513l0 6 1 2 3 2 7 0 2-1 2-3 0-6-4-3-7 0zM126 485l-2 3 0 7 1 2 3 2 7 0 2-1 2-3 0-7-1-2-3-2-7 0zM342 464l0 5 1 2 3 2 32 0 1-1 2 0 4-4 0-5-4-3-35 0-2 1zM223 460l-2 1-1 2 0 4-1 1 0 8-1 1 0 21 4 5 3 0 1 1 10-1 4-2 4-4 1-2 0-7-1-1 0-2-7-10-3-13-3-2zM700 412l-6 5-2 7-4 4-6 2-3 3 0 2-1 1 0 14 3 6 7 3 4 4 3 7 6 3 10 0 4-3 1-7 2-4 5-5 4-2 7-1 3-4 0-7-3-4-7-1-4-2-5-5-2-4-1-8-2-3-2-1zM569 413l-2-1-7 0-2 1-2 3 0 4-1 1-1 5-3 3-2 0-1 1-14 0-1 1-7 1-6 3-14 0-10-5-5 0-4 4 0 2-1 1 0 8-1 1 0 4-3 5 0 2-2 3 0 3-1 1 0 12-4 6-10 2-3 4 0 31 3 4 6 0 3-2 1-2 0-4 1-1 0-6 6-7 2-1 11-1 3-2 1-5 1-1 0-4 2-4 5-5 4-2 11 0 1-1 20 0 3-2 1-5 1-1 0-3 2-4 6-6 4-2 6-1 3-4 0-10 1-1 0-6 1-1 0-13zM78 413l-2 3 0 7 1 2 3 2 7 0 2-1 2-3 0-7-1-2-3-2-7 0zM848 409l-1 1-2 0-3 3 0 2-1 1 0 5-1 1 0 4-3 7-3 4 0 2-1 1 0 5 1 2 7 6 2 0 1 1 13 0 1-1 2 0 4-4 0-3 1-1 0-8-1-1 0-6-1-1 0-5-1-1 0-8-1-1 0-2-2-2-2 0-1-1zM0 408l0 46 16 0 4-2 2-4 0-12 1-1 0-20-1-1 0-2-3-3-2 0-1-1zM152 389l-2 3 0 34-1 1 0 6-1 1 0 12 4 3 34 0 1 1 6 0 1 1 14 0 2-1 1-2 0-8-1-2-3-2-11-1-2-1-6-7 0-6-1-1 0-4-1-2-3-2-11-1-2-1-6-7 0-6-1-1 0-4-1-2-3-2-5 0zM370 383l-5 2-3 5 0 11 3 5 5 2 4 0 8-3 6-6 1-2 0-5-5-6-4-2zM894 365l-2 3 0 7 1 2 3 2 7 0 2-1 2-3 0-7-1-2-3-2-7 0zM678 365l-2 3 0 7 1 2 3 2 7 0 2-1 2-3 0-7-1-2-3-2-7 0zM533 366l-1 2 0 6 4 3 7 0 4-3 0-6-2-3-2-1-7 0zM416 364l-2 1-2 3 0 8 3 3 6 0 2-1 2-3 0-7-1-2-3-2zM268 359l0 16 2 3 2 1 5 0 1 1 7 0 10 5 7 0 4-4 1-2 0-10-4-3-9 0-1-1-4 0-6-3-2-2-8-3zM105 340l-3 4 0 7 3 4 6 0 2-1 2-3 0-7-1-2-3-2zM823 334l-3 4 0 13 1 2 3 2 7 0 2-1 2-3 0-11-5-6zM941 334l-1 1 0 16 1 2 3 2 7 0 2-1 2-3 0-11-1-2-4-4-3 0-1-1zM244 322l0 29 1 2 3 2 16 0 2-3 0-8 4-5 5-1 14-8 4 0 1-1 10 0 1 1 4 0 2 1 6 7 0 4 1 1 0 8 3 4 6 0 2-1 2-3 0-29-1-2-3-2-79 0-2 1zM917 318l-1 2 0 7 2 3 2 1 16 0 1-1 0-2 1-1-1-6-4-4-2-1-11 0zM54 317l-2 3 0 7 1 2 3 2 7 0 2-1 2-3 0-7-1-2-3-2-7 0zM965 296l-1 2 0 6 3 3 16 0 0-13-15 0zM416 292l-2 1-2 3 0 7 1 2 3 2 5 0 2-1 2-3 0-7-1-2-3-2zM104 292l-2 1-2 3 0 7 1 2 3 2 6 0 3-4 0-7-1-2-3-2zM178 287l-1 1-5 1-3 3-1 5-1 1 0 4 1 1 0 4 5 10 1 10 3 4 6 0 3-2 3-13 7-10 0-2 1-1 0-5-7-8-4-2zM657 286l-5 6 0 11 1 2 3 2 7 0 2-1 2-3 0-11-5-6zM872 261l-4 2-1 22-5 10 0 7 6 5 11 0 2-1 2-3 0-35-5-6zM484 259l-1 2 0 19 1 1 0 3 2 4 4 4 3 1 3 3 0 3 1 1 1 5 6 6 6 1 1 1 7 0 7-3 4-8 0-10 5-13 0-7-1-2-6-6-6-1-1-1-15 0-1-1-4 0-4-2zM436 250l0 4 4 3 40 0 1-1 0-5-4-4-2 0-1-1-34 0-2 1zM245 248l-1 2 0 5 2 3 2 1 7 0 3-2 1-2 0-5-2-3-2-1-7 0zM582 242l-5 3-2 5 1 12 3 8 0 4 1 1 0 4 1 2 3 2 7 0 2-1 2-3 1-9 2-4 1-8 1-1 0-8-1-1 0-2-5-4zM0 237l0 22 15 0 2-1 2-3 0-11-1-2-4-4-3 0-1-1zM53 224l-1 2 0 5 2 3 2 1 7 0 3-2 1-2 0-5-2-3-2-1-7 0zM944 220l-2 1-2 3 0 7 1 2 3 2 5 0 2-1 2-3 0-7-1-2-3-2zM182 220l-8-1-4-2-8-1-1-1-10 0-8 3-4 4-1 2 0 5-1 1 1 2 0 7 1 1 2 10 2 4 6 3 10 0 4-3 1-7 2-4 5-5 4-2 7-1 3-4 0-7zM800 172l-2 1-2 3 0 22-1 1 0 12-6 7-2 1-12 0-1 1-22 0-3 2-1 5-1 1-1 10-1 1 0 23 1 1 0 4 1 1 0 10 1 1 0 3 3 3 2 1 7 0 1 1 4 0 2 1 4 5 1 10 1 2 3 2 10 1 14 8 14 1 1 1 16 0 8-5 5-6 2-4 0-7-2-5-4-6-1-7-1-1 2-10 8-7 16-1 1-1 1-5-1-1 0-3-6-5-6 0-1-1-7-1-8-6-6-3-9-1-3-2-2-7-5-10 0-13-1-1 0-23-1-2-3-2zM534 173l-2 3 0 7 1 2 3 2 7 0 2-1 2-3 0-7-1-2-3-2-7 0zM437 174l-1 2 0 6 4 3 7 0 3-2 1-2 0-5-2-3-2-1-7 0zM320 172l-2 1-2 3 0 11 5 6 4 0 3-3 0-2 1-1 0-11-1-2-3-2zM846 125l-2 3 0 7 1 2 3 2 7 0 2-1 2-3 0-7-1-2-3-2-7 0zM632 124l-2 1-2 3 0 31 1 2 3 2 7 0 2-1 2-3 0-31-1-2-3-2zM248 124l-3 2-1 5-1 1 0 5-2 4-1 8-1 1 0 11 1 1 0 4 3 8 0 5 1 1 1 5 3 2 7 0 3-2 1-5 1-1 0-5 2-4 1-8 1-1 0-11-1-1 0-4-3-8 0-5-1-1-1-5-3-2zM361 124l-1 5-1 1 1 7 1 2 5 4 3 0 1 1 10-1 4-2 5-6 0-7-1-2-4-4-4-2-10-1-1 1-5 1zM983 124l-4 0-1-1-11 0-9-4-4 0-1-1-8 0-8 3-5 4-3 5 0 3-1 1-1 5-6 4-2 3 0 2-1 1 0 13 3 6 8 3 3 3 2 8 4 4 2 1 11 0 2-1 2-3 1-9 2-4 4-4 4-2 11 0 1-1 5 0zM512 100l-2 1-2 3 0 31 1 2 3 2 7 0 2-1 2-3 0-33-2-2zM28 104l0 5 1 2 3 2 34 0 1-1 2 0 4-4 0-3-6-5-35 0-2 1zM536 54l-4 3-1 8-2 4-1 8-1 1 0 12 1 1 0 2 2 2 2 0 1 1 8 0 1-1 5-1 3-3 1-5 1-1 0-7-1-1-1-8-2-4-1-8-4-3zM317 32l-1 2 0 5 2 3 2 1 7 0 3-2 1-2 0-6-4-3-7 0zM495 29l-2-1-27 0-3 2-1 2 0 29 2 3 2 1 9 0 1-1 2 0 3-3 2-7 3-3 5-1 5-4 0-2 1-1 0-11zM892 0l0 15 1 2 3 2 57 0 4-2 4-4 0-3 1-1 0-9zM844 0l0 61 1 2 3 2 7 0 2-1 2-3 0-61zM721 0l0 21 1 1 0 4 1 1 0 18-5 10 0 9 4 3 37 0 2-1 2-3 1-13 5-10 0-3 2-5 5-5 6-3 2-3 0-2 1-1 0-18zM622 0l0 16 1 1 0 3 1 1 0 2 8 7 7 0 6-3 8-6 12-3 2-3 0-15zM361 0l0 21 1 1 0 4 1 1 1 11 4 3 7 0 4-3 1-9 8-14 0-15zM174 0l0 15 3 4 10 1 7 6 1 2 1 11 2 3 2 1 4 0 1 1 6 0 7 6 1 2 0 12 1 1 0 22 1 2 3 2 7 0 2-1 2-3 0-13-1-1 0-6-1-1 0-13 1-1 0-6 1-1 1-16 8-14 0-15zM30 0l0 63 3 4 45 0 1 1 12 0 2 1 6 7 0 8 1 1 0 8 3 4 7 0 5-6 0-17-1-1 0-6-1-1 0-9 1-1 0-4 3-8 0-17-1-1 0-3-1-1-1-7-1-1 0-14-11 0 0 13-3 8-6 6-8 3-7-1-4-2-6-6-3-8 0-13z"/>
<path fill="#ffff00" fill-rule="evenodd" d="M0 958l0 25 22 0 0-17-2-4-2-2-5-1-1-1zM270 898l0 7 3 5 7 2 4 3 2 0 4 2 6 0 1 1 2-1 4 0 4-2 5-5 2-5 0-9-1-2-3-3-5-2-15 0-1 1-3 0-6 3-7 1zM778 868l-3 2-1 7 1 2 3 2 5 0 3-2 1-2 0-4-3-4-2-1zM677 839l-3 4-2 5 0 5 1 1 0 2 3 3 2 1 13 0 6-4 1-2 0-10-5-6-2-1-10 0zM189 790l-2-1-10 0-1 1-2 0-8 8 0 2-1 1 0 10 5 6 2 1 10 0 1-1 2 0 8-8 0-2 1-1 0-10zM906 773l-4 0-2-1-1 1-5 1-1 2 0 2-1 1 1 10 1 2 4 3 4 0 4-2 4-6 1-7-1-1 0-2zM262 775l-1 2 0 5 3 4 4 2 11 0 2-1 3-4 0-7-1-2-4-3-11 0zM965 726l-5 4 0 3-1 1 0 3-2 5 0 17 2 4 5 4 3 0 1 1 15 0 0-42zM80 630l-4 3-1 8-6 13 0 8 3 4 4 2 15 0 4-2 3-4 0-13-1-1 0-3-2-5 0-4-1-1 0-2-5-3zM0 603l0 45 14 0 1-1 2 0 3-2 2-4 0-16-1-1 0-7-1-1 0-8-1-2-4-3zM393 597l-4 3-2 4 0 13 4 5 7 1 5-2 2-2 2-5 0-6-2-5-3-4-4-2zM944 535l-2 3 0 8 1 2 4 3 4 0 5-2 3-6 0-3-2-4-4-2-7 0zM226 477l-2 1-3 4 0 4-1 1 1 10 3 3 9 0 5-4 0-2 1-1 0-5-2-5-3-4-4-2zM499 453l-9 0-2 1-4 5 0 2-1 1 0 15 2 4 2 1 7 0 1-1 2 0 8-8 0-2 1-1 0-10-1-2zM552 434l-2 0-1-1-15 0-1 1-5 1-3 3-2 4 0 7 1 1 1 5 3 3 5 1 1 1 7 0 5-2 8-8 2-5 0-5-1-1 0-2zM703 429l-1 1-2 0-6 6 0 2-1 1 0 9 1 1 0 2 6 6 2 0 1 1 7 0 1-1 2 0 8-8 0-2 1-1 0-5-1-1 0-2-8-8-2 0-1-1zM850 414l-3 2-1 5-1 1 0 3-5 9 0 2-1 1 0 10 4 4 2 0 1 1 10 0 4-2 2-4 0-10-1-1-1-6-2-3-2-10-3-2zM0 410l0 42 15 0 2-1 3-4 0-10 1-1 0-21-1-2-4-3zM365 390l0 4-1 1 1 2 0 4 4 3 7 0 1-1 2 0 4-6-1-6-5-4-8 0zM176 291l-2 1-3 4 0 9 2 5 3 3 2 1 4 0 4-2 3-4 2-5 0-5-4-6-2 0-1-1zM490 268l-2 2 0 10 1 2 4 2 2 0 3 2 3 4 0 2 1 1 0 7 1 1 1 5 2 2 5 2 8 0 4-2 3-5 0-11 1-1 1-13 1-1-2-8-6-4-17 0-1 1-4 0-1 1-5 0-1 1zM582 245l-3 4 0 10 4 6 2 1 5 0 4-3 2-4 0-11-3-3-4 0-1-1-2 1zM823 238l-1 1-5 0-2 1-3 3 0 3-1 1 0 12 1 1 0 3 4 10-1 7-2 3-5 4-2 0-1 1-5 0-5 2-3 6 0 4 2 4 5 3 9 1 10 4 10 1 1-1 4 0 2-1 5-6 0-12-6-12 0-4-1-2 1-1 0-4 9-14 1-6-3-6-7-5-5 0-1-1zM755 235l-1 1-2 0-4 4 0 2-1 1 0 17 1 1 0 3 3 7 0 4 2 5 2 1 7 0 4-3 1-5 1-1 0-3 3-6 0-3 1-1 0-13-1-1-1-5-3-3-5-1-1-1zM148 220l-3 3 0 2-1 1 0 7 2 5 5 4 7 0 1-1 2 0 8-8 0-2 1-1 0-5-1-2-6-4-13 0zM249 141l-4 3-2 4 0 15 4 6 2 1 5 0 4-3 2-4 0-15-4-6-2-1zM366 124l-3 4 0 7 3 4 2 1 9 0 5-4 1-6-1-1 0-2-3-3-2-1-9 0zM953 121l-10 0-4 2-3 3-1 5-1 1 1 18 1 1 0 7 1 1 0 2 5 5 3 0 1 1 7-2 4-4 2-4 1-8 2-3 1-6 1-1 0-9-2-4-3-3-5-1zM537 69l-4 3-2 4 0 12 1 2 3 2 8 0 2-1 3-4 0-11-4-6-2-1zM108 21l-2 0-4 2-7 7-2 4 0 9 1 2 6 5 8 0 2-1 4-5 0-4 1-1-1-12-1-2zM50 22l-5 6 0 15 1 2 6 5 15 0 2-1 5-6 0-9-2-4-7-7-4-2-9 0zM726 0l0 17 2 4 3 2 5 1 4 3 2 0 4 2 5 0 1 1 9-1 6-3 5-6 1-7 1-1 0-12zM625 0l0 17 4 6 2 1 11 0 7-5 3-6 0-13zM366 0l0 17 2 4 2 1 4 0 3-2 2-4 0-16zM216 0l0 15 2 5 6 3 4 0 4-2 3-5 0-16z"/>
<path fill="#f5deb3" fill-rule="evenodd" d="M0 962l0 21 20 0 0-12-1-1 0-4-1-2-3-2zM283 896l0 2-1 1 1 7 4 5 4 2 4 0 1 1 9-1 3-2 3-4 0-2 1-1 0-7-2-4-3-2-3 0-1-1-9 0-1 1-4 0zM681 844l-3 3 0 2-1 1 1 4 3 2 7 0 3-3 0-5-1-2-3-2zM176 796l-4 4 0 7 1 2 3 2 7 0 4-4 0-7-1-2-3-2zM899 776l-2 1-1 2 0 4 3 4 2 0 4-3 0-6-3-2zM268 779l1 3 3 2 5 0 2-1 1-2 0-3-1-2-2-1-5 0-2 1zM964 740l-3 3-2 5 0 10 1 1 0 2 4 4 2 0 1 1 16 0 0-28-14 0zM89 650l-5-2-1 1-3 0-3 3-1 2 0 7 3 3 9 0 3-3 0-7zM0 605l0 41 15 0 5-4 0-3 1-1 0-9-1-1 0-6-1-1 0-5-1-1 0-6-1-2-3-2zM394 604l-3 3 0 7 2 3 6 0 2-2 0-2 1-1-1-5-3-3zM227 484l-3 4 0 5 1 2 5 1 3-2 1-4-1-1 0-2-2-2zM490 460l-3 4 0 8 3 3 4 0 5-4 0-7-1-2-3-2zM702 437l-2 3 0 7 1 2 3 2 7 0 4-4 0-7-4-4-7 0zM547 436l-5 0-1-1-2 0-1 1-5 0-2 1-3 5 0 5 2 5 6 3 6 0 6-3 3-6 0-5zM850 429l-4 2-3 4 0 2-1 1 0 7 1 2 4 3 8 0 4-3 0-11-4-6zM0 411l0 39 14 0 2-1 2-3 1-18 1-1 0-9-1-1 0-2-1-2-5-2zM371 391l-2 1-1 5 1 2 5 1 3-2 0-5-3-2zM178 295l-2 1-1 2 0 5 2 3 5 1 3-3 1-4-2-4-2-1zM820 286l-6 6 0 2-1 1 0 7 1 2 4 4 2 0 1 1 10 0 1-1 2 0 3-5 0-9-1-1 0-2-3-4-4-2-6 0-1 1zM507 268l-4 2-2 3 0 7 4 10 1 13 4 4 9 0 3-2 1-5 1-1 1-27-2-3-2-1-4 0-1-1zM586 248l-2 1-1 2 0 4 2 3 3 1 3-2 1-2 0-4-1-2zM822 242l-4 2-2 4 0 9 2 5 3 3 2 1 7 0 2-1 6-7 1-8-2-5-5-3zM755 240l-1 1-2 0-2 2 0 2-1 1 0 12 2 5 4 3 5 0 2-1 4-5 0-2 1-1 0-9-3-6-5-2zM151 224l-2 4 2 6 2 1 6 0 4-5 0-4-3-3-7 0zM251 148l-4 3 0 9 2 2 3 1 4-3 0-9-2-2zM368 128l-1 2 1 5 2 1 4 0 3-2 0-5-3-2-4 0zM943 124l-2 1-3 4 0 10 1 1 0 2 5 4 8 0 2-1 4-5 0-2 1-1 0-7-2-4-3-2zM539 76l-2 1-2 3 0 5 1 2 5 1 2-1 1-2 0-5-2-3zM105 28l-2 1-3 4 0 6 2 3 2 1 4 0 3-4 0-7-3-4zM54 29l-2 3 0 7 1 2 3 2 7 0 2-1 2-3 0-6-1-2-4-3-6 0zM738 0l0 14 1 1 1 5 3 3 4 2 10 1 1-1 4 0 2-1 4-4 1-2 0-4 1-1 0-13zM627 0l0 12 1 1 0 4 4 4 8 0 4-2 3-6 0-13z"/>
<path fill="#ffa500" fill-rule="evenodd" d="M0 966l0 17 16 0 0-12-1-1 0-2-3-2zM290 893l-3 4 0 8 3 4 5 2 7 0 1-1 2 0 4-4 1-7-3-6-2-1-12 0-1 1zM965 744l-3 3 0 3-1 1 0 6 1 1 0 2 4 4 5 0 1 1 11 0 0-23-12 0-1 1zM0 608l0 37 10 0 1-1 4 0 2-1 2-3 0-14-3-7-1-7-1-2-3-2zM539 439l-1 1-2 0-2 2 0 5 2 2 4 1 1-1 2 0 2-2 0-6zM850 436l-3 3 0 6 1 1 6 0 1-1 0-6-1-2zM0 413l0 34 11 0 2-1 2-3 0-5 1-1 1-10 1-1 0-7-1-1 0-2-2-2-2 0-1-1zM822 293l-2 3 0 5 1 2 4 2 6-1 2-4 0-3-2-4-2-1-5 0zM513 271l-1 1-2 0-2 2 0 10 1 1 0 5 1 1 0 9 2 3 6 0 2-4 1-24-2-3zM826 246l-4 3-1 4 2 5 2 1 5 0 3-3 1-4-1-1 0-2-2-2zM754 246l-2 4 0 4 2 4 4 1 2-1 2-4 0-4-3-4zM943 129l0 2-1 1 1 5 3 2 4 0 2-1 2-5-1-1 0-2-2-2-6 0zM742 0l0 12 1 1 0 4 3 4 5 2 8 0 1-1 2 0 4-4 0-2 1-1 0-15zM631 0l0 12 1 1 0 2 1 1 6 0 3-4 0-12z"/>
<path fill="#ff7f50" fill-rule="evenodd" d="M291 896l-1 2 0 5 3 4 2 1 7 0 5-4 0-7-3-3-10 0zM964 750l0 8 2 3 2 1 15 0 0-16-15 0zM0 620l0 22 14 0 3-3 0-11-1-1 0-2-4-4-9 0-1-1zM0 416l0 15 9 0 2-1 3-3 0-8-2-2-2 0-1-1zM746 0l0 15 1 2 4 3 8 0 2-1 3-4 0-15z"/>
<path fill="#ff0000" fill-rule="evenodd" d="M298 897l-3 2 0 3 3 2 2 0 3-2 0-3-3-2zM968 753l0 4 3 2 12 0 0-9-12 0-2 1zM0 628l0 11 11 0 2-1 1-2 0-5-3-3zM750 0l0 12 2 3 5 1 3-3 0-13z"/>
</g>
</svg>
<svg style="position:absolute;left:402px;top:42px" width="248" height="248" viewBox="402 42 248 248" shape-rendering="geometricPrecision">
<rect x="402" y="42" width="248" height="248" fill="#a020f0"/>
<g transform="translate(402.125 42.125) scale(0.25)">
<path fill="#0000ff" fill-rule="evenodd" d="M0 0l0 43 11 0 1 1 0 2 1 1 0 5 1 1 0 6 1 1-3 5-12 0 0 210 12 0 2 2 0 3-3 3-11 0 0 230 22 0 1 1 2 0 3 4-2 3-2 0-1 1-23 1 0 139 15 0 1-1 4 0 7-3 2-2 3-7 0-5 1-1 0-33 1-1 0-5 2-3 1 1 0 5 1 1 1 14 1 1 0 3 2 5 3 3 4 2 11 2 3 3-3 3-10 1-1 1-2 0-4 3-3 6-1 10-2 4-3 2-3 0-3 2-2 0-6 6-4 11-4 2-12 0 0 67 22 0 1 1 3 0 2 2-8 5-6 7-2 4-12 0 0 213 33 0 0-12 3-5 5 5 0 12 38 0 0-11 6-4 6 0 8-3 3-3 2-4 0-3 1-1 0-20-1-1 0-7-1-1 0-2 5-3 6 3 0 27 1 1 1 5 5 6 6 3 3 0 5 2 7 0 1 1 51 0 1-1 7 0 1-1 9 0 1 1 4 0 5 4 0 12 119 0 0-12-4-7-4-4-6-3-25 0-11-5-5-4 2-2 5 0 1-1 6 0 1-1 12 0 1-1 8 0 1-1 15 1 1 1 11 0 4 3-1 36 43 0 0-13 3-4 6 2 3 3 0 12 151 0 0-12 3-2 2 0 1-1 6 0 1-1 15 0 1-1 6 0 10-4 3-3 4-9 0-27 6-4 8-1 7-4 3-5 2-10 3-3 18-1 1-1 5 0 1-1 3 0 1-1 5-1 5-4 3-5 1-6 5-4 2 0 3 3 1 8 4 7 8 4 3 0 1 1 13 0 1 1 16 0 1-1 5 0 7-3 4-6 1-9 1-1 0-9-1-1 0-23-1-1 0-13-1-2 6-4 3 0 1 1 8 0 4 2-6 3-4 4-2 5 0 4-1 1 0 38 1 1 0 3 2 4 4 4 5 2 9 1 4 3-4 7-2 0-7 3-5 5-3 7 0 6 1 1 0 4 1 1 1 5 6 9-4 2-6 0-1 1-6 0-2-2 0-27-1-1 0-5-3-7-5-4-6-1-1-1-28 0-1 1-2-1-52 0-1 1-4 0-6 3-3 4-1 6-1 1 0 6-3 3-4 0-1 1-7 1-4 2-4 6-1 10-1 1 0 36 65 0 0-12 5-5 24 0 3 4 0 13 102 0 0-11 2-2 3 0 1-1 9 0 1-1 1 1 7 1 2 2 0 11 53 0 0-13 1-1 0-7 1-1 1-15-3-7-6-6-7-3-3 0-5 2-7 6-3 6-1 5-2 3-4 4-2-1 0-2-1-1 0-29-1-1 0-13-1-1 0-6-1-1 0-8 1-1 0-5 4-5 4 3 0 2 1 1 0 5 1 1 0 8 3 7 5 5 10 4 15 1 1 1 13 0 1-1 7-1 2-1 5-6 3-14 2-2 4 4 1 24-5 3-9 1-5 2-4 4-2 5 0 3-1 1 0 41 81 0 0-57-12 0-5-3 2-25-1-1 0-4-1-1-1-5-2-3-4-3-2 0-4-2-4 0-6-5 0-16-1-1 0-6 2-2 4-1 2 2 1 9 4 8 5 3 3 0 1 1 5 0 1 1 13 0 0-164-12 0-3-3 0-13-1-1 0-7-1-1 0-8 1-1 0-5 1-2 4-3 11 0 0-15-12 0-1-1 0-3-1-1 0-10-1-1 3-4 12 0 0-41-25 0-1-1-10 0-2-2 3-4 35 0 0-66-35 0-5-4 0-23 3-3 2 0 2 2 1 9 3 7 2 2 4 2 8 1 1 1 14 0 0-43-12 0-3-3 0-6-1-1-1-6-5-5-5-2-4 0-1-1-7 0-1 1-8 1-6 5-2 5-1 10-3 3-10 2-6 4-2 3 0 2-2 4 0 5-1 1 0 5-1 1-1 8-1 2-7 6-1 4 2 4 5 1 2 2 1 3 6 5 2 0 4 2 4 0 1 1 5 0 3 4-3 3-26 0-1-1-6-1-1-1 0-10-3-4-13-1-3-2-2 0-10-7 3-2 2 0 5-5 2-4 1-11 1-1-1-9-1-1-1-5-2-3-3-2-5-1-1-1-5 0-1-1-28 0-1 1-5 0-7 3-4 6-1 7-1 1 0 28-3 3-24 0-3-3 3-3 2 0 1-1 5 0 7-3 4-5 1-7 1-1 0-35 1-1 0-6 2-3 2 5 5 5 5 2 4 0 1 1 37 0 1-1 4 0 4-2 3-3 3-7 0-6 4-5 13 1 2 1 3 4 6 5 9-9 2-1 6 0 1-1 27 0 1-1 4 0 1 1 33 0 0-67-12 0-3-3 0-23 4-4 11 0 0-66-24 0-1 1-7 0-1 1-3 0-3-4 0-2 1-1 5-1 1-1 8-1 6-5 3-8 0-54 4-4 11 0 0-67-12 0-2-2 0-5 1-1 0-2 2-2 11 0 0-123-105 0 0 11-3 3-3-2 0-12-67 0 0 37-3 6-3-7-1-36-90 0 0 36-3 3-15-2-3-4-7-6-1-2 0-6-1-1 0-18-229 0 0 13 5 8 10 6 0 2 2 4-1 14-2 5-10-4-3 0-5-2-5 0-1-1-24 0-1 1-5 0-1 1-7 1-1 1-5 1-3 2-3-2 0-3-1-1 0-10 3-3 2 0 1-1 5 0 7-3 4-6 1-7 1-1 0-15-260 0 0 12-1 1 0 2-3 4-2 0-6 3-5 5-4 10 0 10-4 5-2 0-1-1 0-2-1-1 0-6-1-1 0-41-43 0 0 12-2 2-4-3 0-11zM230 924l5 2 4 5 0 25-6 12-4 4-4-5 0-4-1-1 0-9 1-1 0-7 1-1 0-13 2-5zM178 907l3-4 12 1 4 2-2 2-12 1-1 1zM559 906l4-3 5-1 2 2 1 3-4 3-1-1-6-1zM26 931l0-24 5-4 2 0 1-1 8 0 1 1 10 0 1 1 12 0 1-1 17-1 3 4 0 2-3 4-3 0-1-1-8 0-1-1-16 0-1 1-4 0-7 4-3 6-1 10-3 5zM495 878l2 0 6 3 2 2 0 48-8 9-3-2 0-2-1-1 0-54zM833 856l2 0 3 3 1 9 3 8 5 5 4 2-5 4-12 1-3-5 0-25zM205 853l5 4 1 5 3 7 5 5 4 2 7 1 1 1 23 2 2 2 0 28-1 1 0 3-2 2-4-3-5-14-6-6-6-3-7 0-1 1-7 1-3 2-2 0-7 5-2-2 0-2-1-1 0-9-1-1 0-25zM516 834l2-2 2 0 2 3-3 2zM883 829l3 4 0 39 1 1 0 7 1 1 0 2-5 5-7 0-1-1-4 0-5-4 8-6 3-6 1-9 1-1 0-27zM89 833l0 1-4 3-9 1-7 3-4 5-1 7-1 1 0 4-3 3-3-3 0-4-1-1-1-7-4-5-7-3-14-1-1-1-5 0-4-2 4-2 8 0 1-1 39 0 1-1 7 0 1-1 4 0zM640 818l2 0 3 4 0 4 1 1 0 7-4 3-8-1-3-2 5-11zM593 818l4 5 5 11-1 5-1 1 0 3-1 1-1 14-4 3-4 0-1 1-12 0-1 1-6 0-2 1-5-5 1-14 1-1 0-10 3-3 12-1 7-3zM107 807l2 0 2 2 0 2-3 4-2-1-3-4zM810 794l3 8 0 3 2 3 0 7-1 1-1 18-3 4-2 0-5-2-9-1-1-2-8-7-1-2 0-4-1-1 0-9 3-3 11-1 7-3 4-4zM302 794l1 1 1 8 1 1 1 11 3 8 4 4 4 2 9 1 3 4 0 5 1 1 1 10 3 7 2 2-1 1-1 7-1 1-1 14-6 6-5-5-2-8-3-5-8-5-6-1-5-5 0-11 1-1 0-19 1-1 0-20 1-1 0-6 1-1 0-4zM229 783l3 2 0 4 1 1 0 12 1 1 0 6 1 1 0 2-1 1-1 22-3 4-2 0-3-3-3-10-2-3-4-4-7-3-3 0-4-6 3-3 5 0 11-4 3-4 0-2 1-1 1-10zM665 781l4 5 0 24-4 5-10 0-1-1-2 0-4-4 4-8 0-3 1-1 0-3 2-5 0-4 3-3 4-2zM495 781l1 0 2 3 0 3-2 2-2 0-4-3zM251 761l3-2 2 3-3 2zM641 752l4 6 1 5-2 5-4 3-3-2-6-7 1-2zM879 737l3-3 10 0 1 1 3 0 2 1 13 14 5 3 2 0 4 2 4 0 1 1 11 1 1 1 12 0 1 1 4 0 2 2 2 25-4 3-4-3 0-6-1-1-1-6-2-3-4-3-6-1-1-1-36 0-1 1-6 1-5 4-3 8 0 6-1 1 0 2-3 2-3-4zM592 728l1 0 9 9 0 49-5 11-4 5-2-2-1-7-3-6 0-7 1-1 0-16 1-1 0-28zM302 710l5 3 0 4-1 1 0 9-1 1 0 36-1 1 0 6-1 1 0 5-1 1-1-1 0-5-1-1 0-5-1-1-1-12-3-7-6-4-10-1-4-3 0-1 4-3 9-1 1-1 2 0 4-3 3-7 1-9zM810 708l24 0 4 5 0 49-4 3-5-2-2-2-1-8-5-12-4-4 0-1-8-7 0-6-1-1-1-9zM36 708l3 0 1 1 7 0 1 1 12 0 5 2 2 2-2 4-5 5-8 4-5 6-2 5 0 3 1 1 0 7 2 2 2 0 1 1 12 0 1-1 8-1 1-1 8-2 3-2 3 4 0 5 1 1 0 6-4 4-24 0-1-1-8 0-1-1-4 0-3-2 0-4-2-2-5-1-1-1-1-5-1-1 0-35zM108 706l2 2 0 2 1 1 0 27-3 3-8 0-1-1-4 0-2-1-1-2 3-3 3-6 4-16 2-3zM906 686l4 3 1 10 4 7 6 3 10 1 3 3-3 6-5 0-1 1-3 0-1 1-5 1-5 3-4 5-3-4 0-5-1-1 0-31zM656 688l9-2 3 3 0 2-1 1 0 6-1 1 0 5-1 1-1 0-4-5-4-8 0-2-1-1zM84 686l7 3 0 1-6 6-2-1-2-5zM609 689l-6 5-8 4-2 0-1 1-10 0-2 1-2 3 0 10-8 4-2 0-2-2-1-4 1-1 1-12 3-2 3 0 2-2 0-3 3-4 15-2 1 1 4 0 1 1 4 0 1 1 4 0zM126 689l7-4 3 0 1 1 26 0 1 1 6 0 2 1 10 10 1 12 1 1 0 7 4 11 4 3 2 0 4 2 6 0 1 1 1-1 10-1 4-2 3-3 2-4 1-10 1-2 3-2 2 3 0 25-2 2-27 0-1 1-12 0-1 1-6 0-2 1-3-5-1-9-3-7-6-4-11-2-3-3-2-11-4-6-7-3-10-1-1-1-2 0zM762 684l2 1 3 4 0 2-1 1 0 7-1 1 0 44 1 1 0 3 2 4 3 3 7 3 10 1 1 1 2 0 1 2-6 3-24 0-4-3-2-10-2-4-3-3-4-2-7-1-1-1-8 1-7 3-3 3-3 6 0 4-1 1 0 12 1 1 0 12 1 1 0 25-6 3-3-3 0-54-1-1 0-3-2-5-3-3-4-2-9-1-1-1-14-1-2-2 5-2 10 0 1-1 13 0 1-1 7 0 1-1 7-1 6-3 3-3 3-6 0-3 2-4 5-3 5 0 1-1 5-1 5-4 3-7 1-7zM495 673l2 1 0 3 1 1 0 36 1 1 1 9 2 4 3 3 8 3 6 0 1 1 25 0 3 3 0 23-3 3-2 1-23 0-6-4-1-6-2-4-7-6-2 0-4-2-4 0-1-1-6 0-1-1-12 0-6-3 0-25 1-1 1-7 2-2 2 0 7-5 5-8 0-2 2-3 1-4zM952 665l3-3 9 0 1 1 4 0 3 2-4 4-3 0-1 1-9 0zM327 662l4 3-5 5-3-5zM785 660l2 1 2 4-3 5-1 0-4-4 0-2zM374 660l17 1 1 1 34 0 1 1 2 0 4 3 0 10 3 3 11 0 4 3 6 7-7 3-11 0-1-1-4 0-4-2 0-5-2-2-6 0-7 7 2 4 2 2 3 1 3 4 0 6 1 1 1 45 1 1 0 9 1 1 1 6 5 7 8 4 4 0 5 5-1 17-1 1 0 10-1 1-1 12-8 7 0 2 8 8 1 4 5 5 5 2 3 0 1 1 8 0 5 3 0 1-3 2-13 2-5 3-3 5-1 7-1 1 0 55 1 1 0 5 2 5 4 4 5 2 3 0 1 1 11 1 3 2 0 2-9 8-48 0-3-3-2-4 0-3 5-5 5-1 6-3 4-4 4-10 1-14 1-1 0-39-1-1-1-7-2-3-6-4-9-1-1-1-5 0-1 1-45 0-7-3 1-2 5-2 2-2 3 0 9-4 5-6 2-8 2-2 4-2 10-1 4-2 4-4 2-5 0-4 1-1 0-36-1-1 0-9-1-1-1-9-3-7-5-5-4-2-6-1-4-5 3-16 8-8 0-2-4-5-4-2-1-10-1-1-1-13-3-7-5-4-6-1-1-1-6 0-5-3zM712 638l2 0 3 3-4 5-5-5zM626 639l4 0 1-1 10 0 3 3 0 24-1 1 0 4-2 4-2-2-2-5 0-5-1-1-1-9-3-6-3-3-4-2zM930 614l2 0 2 2 0 25-3 3-5-3 0-24zM447 613l6 4 0 3 3 7 5 5 7 3 3 0 6 6-2 3 0 2-4 4-24 0-1-1-1-6-1-1 0-25zM760 612l2 0 2 3 0 2-2 2-2 0-3-2 0-2zM112 616l-3 3-25 0-2-2 0-1 4-3 12 0 1-1 7 0 1-1 1 0zM834 607l24 0 3 4 0 2 1 1 0 51-2 2-2 0-3-3-1-10-2-4-3-3-5-2-3 0-1-1-5 0-4-3 0-25 1-1 0-4zM251 612l1-1 0-2 3-2 10 5 5 4-2 2-2 0-4 2-3 0-1 1-3 0-1 1-3-4zM302 600l1 1 0 4 4 10-1 15-1 1 0 10-3 3-5-3-4-16-7-8 1-3zM807 592l3-5 7 3 2 2-2 2-3 0-1 1-3 0zM743 592l-1 2-5 4-1-1-5 0-1-1-11 0-1-1-7 0-1 1-5 0-1 1-2 0-6 4-3 7-1 9-3 5-3-5 0-25 3-3 36 0 1-1 8 0 1-1 3 0zM350 577l2 2 1 6 3 7-5 3-4-3 1-1 0-7 1-1 0-5zM882 576l2 3 1 12 1 1-3 4-6-1-4-3 5-11zM468 568l3-3 4 3-3 3zM791 568l-4 3-9 0-1 1-9 0-1 1-6 0-5-5 5-3 21 0 1-1 3 0zM65 567l0 1-4 3-8 0-1-1-5 0-4-2 7-5 7-1 1-1 2 0zM833 552l-1-7-1-1 3-3 7 1 3 2-7 8-2 1zM294 566l0 3-5 5-4 2-6 1-1 1-26 0-4 2-7 7-3 6-5 2-4 0-3-3 0-13-1-1 0-7-1-1 0-2 5-5 10-3 6-6 2-4 1-6 5-3 5 0 1 1 10 1 4 4 0 1 5 4 2 0 7 4 3 3zM83 539l1 0 3 4 0 2-3 4-3-1-4-4zM350 535l2 2 0 2 1 1 0 10-1 1 0 5-2 3-1-1-1-5-5-9 2-4zM519 517l4 3 0 6 3 8 6 5 15 3 3 4 0 2 3 7 4 4 10 4 14 1 1 1 13 0 1 1 7 0 1 1 4 0 1 1 0 25 8 8 0 2 1 1 0 6 1 1 0 17-1 1 0 2-2 2-24 0-9 9-3 1-4 4-3 8-2 22-3 4-2-5-5-5-2 0-4-2-4 0-1-1-36 0-1-1-6 0-4-2 4-2 20-3 8-4 3-5 2-10 4-4 7-1 8-4 4-7 1-8 5-4 6 0 8-3 3-3 2-5 0-3 1-1 0-12-3-8-4-4-5-2-4 0-1-1-8 0-1 1-4 0-5 2-5 6-1 6-1 1 0 5-3 4-23 1-1 1-1-1-6 0-1-1-11 0-1-1-5 0-2-2 0-2 4-3 16 0 1-1 7 0 1-1 3 0 6-3 4-4 2-4 1-6 1-1-1-1 0-3-2-5-5-6-11-4-8 0-1-1-15 0-3-3 0-2 2-2 9-1 7-3 2-2 3-7 1-9zM366 520l2-2 2 0 1-1 4 0 2 2-3 4-1-1-4 0zM541 495l2-2 2 0 2 3-2 2-2 0zM343 494l8-1 2 2-1 8-2 2-8-7-1-2zM275 495l2-2 7 0 1 1 5 0 3 2-3 2-12 1zM592 480l2 4 0 6 1 1 0 5-2 2-2 0-2-2 0-4 1-1 0-4 1-1 0-5zM157 468l48 0 3 3 0 28 1 1 0 4 3 7 6 4 12 2 2 2 0 2-3 4-5 0-1-1-16 0-2-1-1 1-8 1-4 2-4 4-2 5 0 3-1 1 0 18 1 1 0 9-4 3-5 0-1 1-4 0-5 2-4 4-2 4 0 4-1 1 0 11 1 1 0 3 2 5 3 3 4 2 10 1 4 4 0 28 1 1 0 4 2 5 6 5 8 1 1 1 4 0 4 3-5 3-6 0-1 1-4 0-1 1-5 1-5 5-2 5-2-3 0-5-1-1 0-35-1-1 0-4-3-7-6-4-10-1-2-1-3-3 0-3-1-1 0-3-2-5-5-5-5-2-8-1-5-4 0-2 1-1 0-13 1-1 0-7 1-2 4-4 6-1 7-5 2-3 0-2 2-4 0-3 5-3 4 0 1-1 4 0 1-1 5-1 4-4 2-5 0-4 1-1 0-32-1-1 0-4-3-7-2-2-7-3-5 0-1-1-5-1-2-2zM641 466l9 1 5 2 2 2 0 26-2 3 0 2-3 7-1 9-1 2 3 6 5 5 5 3 2 0 4 5 1 5-5 5-24-1-6-4 0-25 1-1 1-17 1-1 0-30zM36 455l2 2 0 3 1 1 0 9 1 1 0 24-1 1 0 5-1 1-1 8-3 2-4-3 0-3-1-1 0-11-1-1-1-8-7-14 1-1 5-1 6-5zM591 461l0-5-1-1 0-6-1-2 3-5 8 0 1 1 15 0 6 4-5 3-11 1-1 1-5 1-5 4-1 3-2 2zM402 447l-3 3-25 0-2-2 3-4 10 0 1-1 8 0 1-1 4 0zM802 446l-2 3-5 0-1 1-12 0-1 1-4 0-5 2-4 4-2 4-1 10-3 3-12 2-7 6 0 2-2 4 0 6-2 5-2 2-8 2-3 2-4 4-3 7 0 3-2 2-4 2-12 0-1 1-12 1-5-2-3-3 0-2 4-5 13-7 5-6 1-4 3-3 2-4 1-9 1-1 0-7 4-4 24 0 1-1 4 0 1-1 5-1 5-4 3-7 1-7 4-3 6 0 1-1 10-1 6-4 5 0 1 1 2 0 4 2zM254 432l2 5 0 11-3 2-2-2 0-7 1-1 0-5zM328 420l3 3 0 6-1 1-1 18-3 4-24-2-3-3-1-10-3-8-4-4-5-2 1-1 11-1 1-1 19 0 1-1 7 0zM907 418l3 5-1 13-2 3-2-2 0-4-1-1 0-10zM825 399l6-3 28 0 3 3-4 3-24 0-1-1-4 0zM422 396l15 1 2 1 7 8 25 0 2 4 0 5 1 1 0 34-1 1-1 5-6 3-5 4-4 7 0 3 2 4 6 6 5 2 2 2 1 5 1 1 0 4-3 4-10 3-5 5-3 7 0 3-6 6-5-5-3-10-6-6-4-2-6-1-3-5 0-1 4-3 6 0 8-3 4-5 1-7 1-1 0-34-1-1-1-6-5-6-5-2-3 0-1-1-5 0-1-1-2 0-2-2 0-24zM541 399l3-3 10 0 1-1 13 0 3 3-3 4-24 0zM350 371l3 3 0 2-2 3-4-3 0-2zM735 370l1-1 0-2 2-2 24 0 7 6 2 4-4 3-5 2-4 0-1-1-14 0-1-1-5 0-2-3zM86 348l3 2-1 24-5 4-7 0-11 4-2 2-2 4 0 2-1 1-5 1-2 2 0 3-1 1 1 1 0 2 4 4 4 2 0 6 1 1 0 5 1 1 0 12 1 1 0 9 1 1 0 4-5 4-12-1-5-3 0-26-3-4-3-1-2-2-3-8-6-5-5-1-1-2 8-6 4-1 3-2 10 0 1-1 2 0 2-3 0-10 1-1 5-2 4 0 1-1 6 0 8-3 4-5 1-6 1-1 0-5 3-3zM275 351l3-4 24 0 3 3-3 3-25 0zM205 347l3 3 1 9 4 8 3 2 2 0 4 2 6 0 4 3 2 12 3 5 5 3 12 2 2 2 0 11-2 5-2-1-1-4-3-3-7-3-11-1-2-1-3-4 0-4-1-1-1-5-2-3-6-4-8-1-6-5 0-15-1-1 0-8zM895 346l4 4-6 3-4 4-2 5 0 4-1 1 0 7-1 2-3 2-2-3 0-4-1-1 0-11-1-1 0-6-1-1 1-2 5-4zM809 345l2 1 2 4-1 6-2 4-2-1-7-8 3-4zM784 321l2 0 5 5-1 5-4 5-3-2-7-8 5-4 2 0zM752 302l3-2 7-1 4 2 1 2-2 5-4 3-2-1zM907 298l5 4 0 3-1 1-1 21-1 1-1 13-1 1-2 0-3-6 0-16 1-1 1-17zM256 301l0 2-3 3-14 0-1 1-9 0-3-5 3-3 17 0 1-1 6 0zM544 299l8 0 1-1 15-1 3 3 1 2 0 24-2 2-3 1-4-3-4-11-4-4-7-3-3 0-3-3-1-3zM399 286l2 2 2 5 1 11-2 4 0 3-1 1-1 5-2 2-3 1-4 6 0 24-5 2-12 1-3-3 0-28 1-1 0-4 1-1 1-6 4-2 3-3 2-4 7-2 6-6 1-4zM616 275l10 0 1 1 4 0 2 2 0 72 1 2 7 6 5-3 6-13 4-4 7-4 2 0 2 4 1 14-1 1-1 12-4 3-5 6 0 25-1 1-15 2-6-4-2-8-2-3-6-5-2 0-4-2-4 0-1-1-20-1-1-1-2 0-2-2 1-2 4-2 5 0 8-3 3-3 2-4 1-10 1-1-1-2 0-68 1-1 0-2zM471 275l3 2 1 9 3 7 2 2 7 3 9 1 2 2-3 4-9 1-5 2-3 3-2 4 0 2-1 1 0 5-1 1 1 10 1 1 1 5 4 4 8 3 13 0 1-1 3 0 4-2 4-4 0-2 2-4 0-5 1-1 0-2 3-3 5 3 0 6-1 1 0 15-1 1 0 2-3 3-10 2-4 2-3 3-3 7-1 7-4 5-7-6-1-5-3-5-5-4-8-3-5-6 0-3 1-1 0-7 1-1 0-62zM135 253l0 12-1 1 0 2-8 7-2 4-2 0-1 1-8 0-1 1-40 0-1 1-7 0-1 1-3 0-3-5 3-3 27 0 1-1 10-1 4-2 4-4 1-4 3-3 3-1 4-6 2 0 1-1 6 0 1-1 6 0zM205 238l2 2 0 4 1 1 0 33-3 3-30 0-1 1-6 1-3 2-3 4-1 6-1 1 0 42 1 1 0 7 1 1-1 27-5 4-6 0-8 3-3 3-2 4-1 10-1 1 0 50-3 4-3 0-7 3-5 5-2 4-1 7-1 1 0 6-1 1 0 11-1 1 0 28-2 2-3 0-3-2 0-5 1-1 0-15 1-1 0-29-1-1 0-15-1-1 0-5 5-5 8-2 6-4 4-7 0-2 1-1 0-30 1-1 0-13 1-1 0-7 5-3 6 0 1-1 5-1 5-5 1-5 1-1 0-4 1-1-1-11-3-7-6-4-7-1-1-1-4 0-5-3 1-2 0-6 1-1 0-12 1-1 0-13 1-1 0-3 4-3 6-7 5-1 1-1 36 0 1-1 5 0 7-3 3-3 2-5 0-3 1-1 0-7 1-1 0-6 1-1 0-5zM740 229l0 53-1 1 0 2-3 3-9 1-15 6-22 23-2-1 0-2-1-1 0-6-1-1 0-34-1-1 0-4-4-7-3-2-2 0-4-2-6 0-1-1-1 1-7 0-1 1-4 0-6 3-3 3-1 4-1 1-2-1 0-3-1-1 0-11 2-2 2 0 1-1 6 0 11-4 3-4 2-5 24 0 2 5 2 20 3 7 6 4 2 0 1 1 5 0 1 1 5 0 1-1 8-1 7-6 1-6 1-1 0-6 1-1-1-1 0-12-1-1 0-7-1-2 5-4 1 0zM213 229l4-2 10 0 1-1 26 0 3 4-3 2-35 0-1-1-3 0zM549 205l0 9-1 1 0 3-4 4-4 0-3 2 0 3-2 3-7 1-1 1-4 0-1 1-18 0-1-1-8 0-2-2 0-5 1-1 0-2 2-2 30 0 1-1 4 0 2-1 0-2 1-1 0-9 2-2 8-2zM463 205l-5 2-6 0-1 1-12 1-1 1-5 1-4 4-2 5 0 4-1 1 0 31-1 1 0 6-1 1 0 5-1 1-24 0-2-5 0-6-1-1-1-12-1-1 0-3-3-5-5-3-13-2-1 1-5 0-1 1-5 1-3 2-3 5-1 9-1 1 0 26-2 3-73 0-4-3 4-4 12 0 1 1 37 0 1-1 5 0 1-1 5-1 4-4 3-8 0-31 3-3 49 0 1-1 8-1 4-2 4-4 2-5 0-3 1-1 0-4 4-4 2 1 26 0 1 1 7 0zM19 205l8-6 7-3 54 0 7 3 6 6-7 3-3 3-3 8-1 11-2 2-4-3 0-5-1-1 0-3-2-5-6-5-8-1-1-1-31 0-1-1-6 0-1-1-4 0zM302 189l1 1 1 12 1 1 0 22 1 1 0 3-3 3-2 0-3-3 0-25 1-1 1-8 1-1 0-4zM208 214l-1 1 0 4-2 2-2-5-4-4-8-3-5 0-1-1-56 0-1-1-6 0-1-1-4 0-1-1 5-2 7 0 1-1 22 0 1-1 10 0 1 1 24 0 1-1 4 0 1-1 5-1 5-5 2-5 1 1 1 10 1 1zM856 184l0-4 2-2 12 1 5 2-7 4-2 0-7 3zM510 181l3-2 7-1 3 3-1 1-1 7-1 1-3-1zM735 182l0-2 3-3 5 0 1 1 18 0 3 3-3 3-20 0-1 1-3 0zM914 181l4-4 2 0 1-1 10 0 2 2 0 2 1 1-3 5-11-2zM689 176l3 4 0 18 1 1 0 8-1 1 0 5-1 1-1 7-1 1-24 0-1-1 0-3-1-1 0-3-1-1-2-8 5-3 5 0 1-1 3 0 5-2 5-6 1-6 1-1 0-5zM618 154l2 2 0 25-3 3-5 0-1 1-7 1-5 4-3 7 0 5-1 1 1 26-3 3-4 0-1 1-12 0-1 1-5 0-1 1-7-3-3 0-1-1-5-1-1-2 4-3 4 0 1-1 9 0 1-1 5-1 8-7 3-8 0-4 1-1 1-21 3-3 9-1 7-3 3-4 0-2 2-4 0-6 3-4zM96 131l13-1 3 3 0 26-1 1-1 9-2 4-8-12-3-15-2-4 0-3-3-5 1-2 2 0zM686 133l3-4 18 0 1 1 6 0 3 3-3 3-4 0-1 1-15 0-1 1-4 0zM153 132l4-6 11 0 1 1 13 0 4 2 3 0 1 1 5 1 2 2-3 2-3 0-1 1-30 0-1 1-2 0-4-4zM567 106l2 0 2 2-3 6-3-5zM230 106l3 2 0 16-1 1 0 32-3 3-6 0-1 1-4 0-1 1-5 1-4 4-3 6-1-1 0-5-1-1 0-4-2-5 1-2 0-9 1-1 0-2 1-2 2-1 6-6 0-1 6-5 4-8 2-11 2-2zM735 108l3-3 23 0 4 3 1 2 0 4 1 1 1 5 2 3 6 4 7 1 1 1 51 1 2 3-3 5-28 0-1-1-14 0-1-1-28 0-4-3-1-7-3-7-3-3-4-2-10-2zM615 94l2-1 3 5 6 4 15 3 3 4-3 3-25 0-2-3 0-11 1-1zM350 93l2 2 0 5 1 1 0 36 1 1 0 11 1 1 0 5 1 1-1 2 0 6-1 1 0 11-1 1 0 5-2 2-4-3 0-30-1-1-1-6-4-5-8-3-15 0-1 1-3 0-7 3-2 2-3 7-1-1 0-5-1-1 0-5-1-1 0-4 3-3 19 0 1 1 5 0 1-1 9-1 4-2 3-3 2-4 1-11 1-1 0-7 1-1 0-5zM915 106l6-9 8-5 2 0 2 1 13 13 1 2-4 2-6 0-1 1-15 0-1-1-3 0-2-2zM470 68l2 1 0 3 1 1 1 13 1 1 0 5 1 1 1 5 4 4 4 2 10 1 3 3-2 3-12 2-5 3-3 5-1 9-1 1 1 9 3 8 6 4 12 2 2 2 0 5-1 1 0 2-3 3-9 1-1 1-8 2-3 2-3-2-2-20-1-1-1-6-4-5-4-2-3 0-1-1-14 0-1 1-5 1-4 3-3 6-1 10-3 3-3-1-2-2 0-5 1-1 0-10 1-1 0-11-1-1-1-7-4-6-8-3-5 0-1-1-2 0-2-2 0-4 3-6 24 0 3 8 1 11 1 1 0 2 4 5 4 2 9 1 1 1 2 0 1-1 5 0 8-3 3-3 2-5 0-3 1-1 0-12-3-8-6-5-19-3-2-3 10-9 5 0 1-1 7-1 1-1 5-1zM939 61l0-1 3-2 5 0 1-1 8 0 1 1 3 0 5 2-2 3-8 7-11-4zM828 59l6-2 3 3 1 8 1 1 1 5 4 4 5 2 3 0 1 1 7 0 1 1 6 0 1 1 5 0 2 1 6 7 9 4 6 6 4 9 8 7 0 2 1 1 0 7 1 1 0 16 1 1 0 7 1 1 0 12-1 1 0 3-3 4-4-3-1-6-1-1 0-6-4-11-7-6-8-2-2-2-4-17-5-5-2 0-4-2-5 0-1-1-2 0-3-3 0-6-1-1-1-6-5-5-5-2-5 0-1-1-27 0-4-3 4-7 7-2 6-5 3-5 0-2zM358 60l5-2 7 0 1-1 11 0 1 1 5 0 3 2-2 2-6 3-6 1-1 1-4 0-1-1-6-1-4-2zM140 59l4-5 4 0 1-1 8 0 3 5 0 3-3 4-2 0-3-2-3 0-4-2-4 0zM931 33l3 3 0 7-1 1 0 5-1 2-9 9 0 2-4 7-3 3-9 5-1-1-1-7-1-1 0-32 3-3zM664 33l10 0 1 1 4 0 3 2 0 2 5 5 2 0 2 3 0 5 1 1 0 8-3 4-7-1-5-2-4 0-3-6-4-2-3-3-1-2 0-5-1-1 0-6zM281 35l0 26-4 3-23 0-3-4 3-3 9-1 6-3 4-6 2-11 3-3zM174 36l5-3 2 0 4 3-3 3-3 0zM517 37l0-4 3-7 24 0 11 5 5 4-2 2-5 0-1 1-6 0-1 1-12 0-1 1-8 0-1 1-3 0zM576 35l16-16 2 4 0 4 1 1 0 4 1 1 0 6 1 1 1 6 3 5 3 2 8 3 33 0 1 1 6 0 1 1 2 0 2 2-5 2-10 1-1 1-6 0-1 1-7 1-4 2-5 5-2 4-23 0-2-3-1-12-1-1 0-8-1-1-1-7-4-6-4-2-2 0z"/>
<path fill="#4876ff" fill-rule="evenodd" d="M622 952l0 39 57 0 0-11 10-10 24 0 2 2 3 6 0 13 89 0 0-12-1-1 0-5-1-1-1-5-3-4-3-2-6-1-1-1-30 1-4-4 0-25-1-1-1-6-2-4-4-4-3-2-6-1-1-1-11 0-1 1-64-1-1 1-3 0-6 3-3 3-3 6-1 6-5 5-8 2-4 2-5 6 0 2zM0 525l0 135 12 0 11-4 4-4 4-11 0-30-1-1 0-12-3-6 2-1 3-4 0-2 1-1 0-6 1-1 0-40-1-1-1-6-3-3-7-1-1-1zM667 505l-2 0-1 1-5 11 1 5 5 4 3-1 3-3 0-11-2-5zM0 476l0 31 12 0 6-3 4-5 0-2 1-1-4-11-8-9zM0 400l0 70 12 0 1-1 8-2 6-4 6-10 0-3 1-1 0-28-4-10-2-3-5-4-11-4zM661 259l-1 1-3 0-9 5-4 6-1 6-1 1 0 26 1 1 0 8 1 1 1 5 5 4 4 0 1 1 19 0 5-2 3-3 0-2 1-1 0-6 1-1 0-33-4-10-6-5-2 0-4-2zM0 142l0 54 12 0 2-2 8-4 3 0 5-2 4 0 1-1 53 0 8-3 3-3-4-6 0-2-3-7 0-3-1-1 0-5-3-6 0-2-4-7zM594 0l0 11 1 1 0 4 1 1 0 4 1 1 0 4 1 1 0 5 1 1 1 7 3 6 3 3 8 4 32 0 1-1 5-1 3-3 2-4 1-8 3-3 6-3 7 0 5-2 2-2 2-5 0-4 1-1 0-16zM13 0l0 37 1 1 1 12 1 1 0 7 1 2-4 8-2 2-11 0 0 59 15 0 1 1 10 0 1 1 59 0 1-1 13-1 1-1 6 0 1-1 7 6 0 26-1 1-1 8-1 1 0 4-1 1 0 4-1 1 1 13 3 5 5 2 5 0 1 1 15 0 1-1 11 0 1-1 19 1 1 1 10 0 1-1 3 0 8-3 5-5 3-7 0-8-1-1 0-4-1-1 0-4-2-5 0-4-1-1 0-5-1-1 0-2-4-6-5-2-4 0-1-1-26 1-7-7 5-11 2-2 12 1 1 1 7 0 1 1 6 0 1 1 4 0 1 1 3 0 4 2 3 0 1 1 5 1 8-7 4-8 1-5 5-4 2 0 3-2 7 5 0 7-1 1 0 16-1 1 0 24-3 4-14 4-6 5-3 6 0 2-1 1 0 5 1 1 0 6 1 1 0 6 1 1 1 15 2 5 3 3 2 0 1 1 3 0 1 1 19 0 1-1 11 0 6 6 0 1-5 4-25 0-1 1-8 0-7 3-2 3-1 10-1 1 0 26-1 2-4 3-26 0-10 4-3 3-4 10 0 31 1 1 1 11 2 5 0 8-1 1 0 7-1 1 0 8-1 2-6 5-7 1-4 2-5 5-2 4 0 3-1 1 0 52-4 8-8 4-5 5-3 6 0 2-2 4 0 3-1 1 0 6-1 1 0 31-4 5-3 1-5-2-3-3 1-12 1-1 0-9 1-1 0-27-1-1 0-9-1-1-1-12 10-10 5-2 6-6 3-6 0-28 1-1 2-20 5-4 8-2 7-4 3-4 0-2 2-3 0-4 1-1-4-11-4-4-7-3-3 0-1-1-5-1-5-4 1-5 1-1 0-3 1-1 0-5 1-1 0-16-1-1-1-5-2-2-4-2-4 0-1-1-35 0-1 1-6 0-1 1-8 1-3 2-4-6-1-5 4-4 25 0 1-1 8-1 6-3 4-4 2-4 1-5 2-3 2 0 1-1 6 0 1-1 6 0 1-1 6 0 1-1 6 6 0 6 1 1 0 4 1 2 5 4 2 0 1 1 7 0 1 1 25 0 1-1 6-1 4-2 4-4 3-6 1-9 1-1 0-6 1-1 0-6 1-1 0-9-1-1 0-2-6-8-6-3-3 0-5-2-55 0-1-1-20-2-7 3-6 6-3 8 0 4-1 2-4 4-1 0-4-3-4-12-5-5-10-4-31 0-1-1-6 0-1-1-6 0-1-1-15 0 0 66 12 0 5 5-3 7-3 3-11 0 0 61 13 0 2 2-3 8-12 0 0 31 11 0 2-2 8-4 10-2 1-1 4 0 10-9 6-1 1-1 6 0 1-1 3 0 8-3 4-4 3-6 1-6 5-5 10 5 0 2-1 1 0 6-1 1-1 14-7 6-4 0-10 4-5 5-3 7 0 7 1 1 0 6 1 1 0 6 1 1 1 15 1 1 1 9 2 4-6 5-4 2-5 0-1 1-5 1-5 6 0 2-1 1 0 6-1 1 0 29-1 1 0 5-1 1 0 4-1 1 0 4-1 1 0 10 1 1 0 9 1 1 0 3 3 7 3 3 5 2 10 1 5 2 3 4 1 7-9 5-14 1-5 2-2 2-2 5 0 8-1 1 1 1 0 5 1 1 2 20 1 1 1 5 6 7 4 2 8 2 4 4 0 1-5 5-6 1-6 3-3 3-3 6 0 3-4 10-3 3-6 3-5 5-2 5-4 4-4 2-14 0 0 63 20-1 5-2 3-3 2-5 0-6 1-1 0-28 2-5 2-2 3 0 5 2 4 0 1 1 6 0 1 1 12 1 6 4 0 6-1 1 0 5-1 2-4 3-7 1-6 6 1 3 5 4 14-6 6-5 5-1 7-9 4-10-1-1 0-8-3-2-8 0-4-6-1-7 5-5 2 0 3 2 7 2 1 1 0 7 1 1 0 2 2 1 8 0 4 5 0 2 1 1 0 5 1 1 0 23-5 7-8 1-6 3-3 5-1 9-7 5-32 0-1-1-12 0-1-1-3 0-9 6-5 5-6 9 0 4-1 1-1 23 1 1 0 6 3 6 4 2 5 0 1 1 38 0 1-1 11-1 5-2 5 0 5 4 2 5-5 4-2 0-4 2-3 0-7 3-4 4-3 6-1 6-5 5-5-5-1-6-3-6-4-4-4-2-6-1-1-1-36-1 0 153 31 0 0-13 3-6 2-2 10 10 0 11 28 0 0-11 2-2 8-4 3 0 8-3 6-7 0-2 2-4 0-9-1-1 0-5-1-1 0-4-1-1-1-6 3-3 4-2 6 1 6 4 0 25 5 8 7 5 2 0 7 3 10 1 1 1 37 0 1-1 11-1 1-1 2 0 4-2 3 0 4-2 4-4 2-4 0-3 1-1 2-10 1-1 0-6 1-1 1-12 2-4 3-3 5-1 3-2 3-8-1-2-6-7-3-2-4 0-9 4-9 8-3 0-1 1-6 0-1 1-17 2-5-5 2-4 3-3 4 0 1-1 6-1 4-4 1-5 1-1 0-29 4-7 3-3 2 0 6 4 5 12 5 5 12 5 10 1 1 1 7 0 6 6 0 24-1 1 0 4-2 4-1 6-2 3-4 2-2 4 0 28-1 1-2 10-4 8-2 2 0 11 94 0 0-12-1-2-5-4-27 0-1-1-4 0-13-5-7-5-5-6 2-2 6 0 1-1 6 0 1-1 13-1 1-1 15-1 1-1 4 0 7-3 8 3 17 2 6 5 0 6-1 1 0 16-1 1 0 12 39 0 0-13 2-5 5-4 6 0 4-2 1-5 1-1 0-6 2-3 5-5 10-5 4-4 3-5 0-2 2-4 0-3 1-1 0-4 1-1 0-6 1-1 0-30-4-10-4-4-4-2-3 0-1-1-16 0-1 1-9 0-1 1-2 0-1-1-24 0-1-1-3 0-1-1-5-1-5-3 2-2 11-5 5-4 2 0 5-3 5-6 2-5 4-3 16-5 6-6 2-5 0-3 1-1 0-27-1-1 0-7-1-1 0-5-1-1-1-6-4-8-5-5-5-2-4-4-4-6 1-7 2-5 0-4 1-1 0-4 1-1-1-12-1-1 0-6-1-1 0-7-1-1-1-6-2-4-4-4-6-3-6-1-9-5 10-10 4 2 4 0 1 1 4 0 1 1 7 0 1 1 37 0 1 1 3 0 2 2 1 3 5 5 2 0 7 3 7 7 3 7 0 2-3 3-3 0-1 1-14 0-1 1-5 0-5 2-2 2-2 4 0 5-1 1 1 27 1 1 0 9 1 1 1 13 3 7 7 7 5 2 10 10-1 1 0 3-2 5 0 4-1 1 0 7-1 1-1 15-1 1 0 5-1 1 0 6 1 1 1 5 6 7 7 3 10 2 4 2 3 3-6 4-3 0-1 1-3 0-1 1-5 1-5 4-3 5-1 6-1 1 0 50 1 1 0 3 3 6 5 5 8 3 11 0 1 1 4 0 4 3 0 3-4 8-4 4-8 4-51 0-1 1-2 0-2 3 0 14 133 0 0-11 4-4 4-2 4 0 1-1 17-1 1-1 11-1 6-3 6-6 3-6 0-24 6-5 4-2 2 0 3-2 2 0 3-2 4-5 3-8 4-4 5-2 13-1 1-1 3 0 10-4 7-7 2-5 2-2 6-3 5 1 4 4 0 2 4 8 3 3 6 3 2 0 1 1 5 0 1 1 15 0 1 1 4 0 1-1 3 0 5-2 5-4 2-3 0-2 2-4 0-20-1-1 0-11-1-1 0-8-1-1-1-10 4-3 5-2 6 0 1-1 7-1 4-5 2-12 5-5 6-1 9-4 5-6 0-2 2-3 1-7 1-1 2 4 0 4 1 1 0 3 1 1 0 3 1 1 1 5 4 7-1 1 0 3-2 5-1 12-1 1-1 5-4 4-10-2-1-1-4 0-1-1-5 0-1-1-7 1-6 3-3 3-3 5-1 6-1 1 0 30 1 1 0 3 2 4 6 6 2 0 3 2 6 1 5 4 0 5-3 6-3 3-3 1-8 9 1 6 4 8 4 4 0 1 5 1 9-4 3-3 3-6 1-6 3-2 2 0 2 2 0 32 1 1 1 5 3 3 2 1 4 0 1 1 16 0 1 1 7 0 2 1 2 3 0 12 37 0 0-13 1-1 0-3 2-5 2-14-3-5-8-6-3 1-7 7-2 3 0 3-1 1-1 5-6 7-4 2-4-2-1-2 0-7-1-1 0-37-1-1-1-10-3-7-1-6-2-3-7-4-3 0-4-5-2-5 0-11-1-1 0-13 6-5 7 6 2 8 6 9 7 4 5 0 4-2 7-7 1-4 2-3 0-3 1-1 0-27 3-5 4-3 6 8-1 32 1 1 0 5 1 1 0 4 1 1 1 6-10 10-6 1-4 3-3 5 0 3-1 1 3 7 5 5 5 3 2 0 4 2 3 0 1 1 4 0 1 1 12 1 1-1 3 0 5-2 6-6 2-5 1-6 5-6 2 1 5 6 0 8 1 1 0 7 1 1 0 5 1 2-9 5-6 1-5 2-6 6-3 8 0 38 79 0 0-55-13 0-6-3-2-2 1-12 1-1 0-8 1-1-1-6-6-9-7-4-5-1-5-5-1-2-1-17-1-1 0-6 9-5 5 5 2 8 5 7 3 2 2 0 4 2 15 0 0-159-12 0-5-5-1-13-1-1-1-7-2-4 0-3-2-4-4-4-7-2-3-3-3-7 3-4 5-1 1-1 5 0 1-1 2 0 5-4 1-2 0-4 1-1 0-6 5-7 12 0 0-35-34-1-1-1-2 0-4-5 5-5 36 0 0-62-36 0-6-5 0-25 6-5 5 5 2 8 5 7 8 4 4 0 1 1 11 0 0-39-12 0-2-1-3-4 0-3-3-7-3-4-5-3-9-2-10 4-4 4-3 6 0 3-2 5-4 4-10 4-4 4-4 10-1 11-1 1 0 4-1 1 0 4-1 1 0 3 3 6 6 6 10 4 3 0 4 4 1 3-5 5-31 0-1-1-7-1-8-9-2-1-5 0-1-1-3 0-1-1-5-1-6-3-3-3-1-2 0-7 1-1 8-2 3-2 4-4 4-10 0-8-4-9-5-4-2 0-4-2-3 0-1-1-24 0-11 4-4 4-4 10 0 26-5 5-24 1-4-4-1-3 4-4 5-1 7-3 4-4 3-6 0-3 1-1 0-30-1-1-1-7-3-4-5-2-10-1-1 1-6 1-6 4-4 7-1 6-6 6-6 1-7 4-4 7-1 6-3 7-4 4-3 1-6 5-5 9-8 4-13 1-1 1-8 1-4 2-7 0-1 1-2 0-3 5 0 8-10 10-9-1-1-1-5 0-1-1-8 0-5-2-5-5 0-25 1-1 0-3 2-5 1-14 1-1 0-27 4-6 15-3 5-5 1-6 1-1 0-9 1-1 0-21-1-1 0-4-4-5-7-1-1-1-10 0-8-4-5-9-8-6-2 0-3-2-7-1-1-1-14-1-6-5 0-1 5-4 5-1 7-3 5-5 3-7 0-16-1-1 0-9-1-1 0-8 1-1 0-25 1-1 0-14 7-6 7 0 5-2 4-5 0-2 1-1 0-7 1-2 5-5 4 0 1-1 5-1 4-2 5-5 3-7 0-5-1-1 0-4-1-1-3-11-3-5 9-5 3 0 1-1 5-1 5-3 4-6 2-9 5-9 4 6 0 2 1 1 0 6 1 1 0 15 1 1 0 5-1 1 0 9-1 1 0 5-1 1 0 12 1 1 0 17 1 1 1 5 2 4 4 4 11 4 1-1 6-1 7-4 5-10 0-10-1-1 0-6-1-1-2-10 8-6 2 0 5 7 0 50-1 1 0 10-3 4-4 1-3 2-2 0-8 4 0 1-8 8-1 0 0 1-14 14-2 1-4 0-1 1-10 0-1 1-6 1-4 6 0 6-1 1 0 11-1 1 0 6-1 1 0 6-1 1 0 23 1 1 0 11-1 1 0 78 1 1 1 7 5 5 2 4 2 1 5 0 1 1 5 0 14-13 3-6 0-3 2-5 0-4 5-5 24-1 10-4 6-7 1-5 4-5 3-2 12-2 9-5 4-6 7-1 6-3 10-11 2 1 0 5 1 1 0 29 1 1 0 2 2 4 5 5 11 4 30 0 8-3 5-5 3-7 0-3 5-6 11-1 6-4 2-5 1-11 3-6 2-2 5 9 0 6 1 1 1 7 4 4 7 1 1 1 28-1 1-1 2 1 13 0 1 1 20 0 0-62-11 0-2-1-4-5 0-23 1-2 5-4 11 0 0-62-17 0-1 1-6 0-1 1-4 0-4 2-3 0-4-4-2-4 0-2 5-4 5-1 7-3 5-5 2-4 0-3 1-1 0-51 5-5 12 0 0-62-11 0-2-1-4-5 1-10 2-5 2-2 12 0 0-115-103 0 0 12-4 4-2 0-5-5 0-11-62 0 0 40-3 7-2 2-5-12 0-8-1-1 0-14-1-1 0-13-85 0 0 36-5 5-10 1-1 1-2 0-3 3-2 5-1 10-5 6-25-5-1 1-4 0-1 1-4 0-1 1-11 1-1 1-7 1-8 4-3 3-4 7 0 4 3 6 5 5 6 3 8 2 6 6 0 1-6 6-25 0-5-7 0-10-1-1 0-4-1-2-5-4-12-1-2-3 0-5-1-1 0-6-1-1 0-7-1-1-1-9-3-7-5-5-10-4-1 1-12 1-1 1-6 0-1 1-15 1-1 1-4 0-5 2-2 0-3-3-2-4 0-6 1-1 2-10 2-3 27 0 1 1 4 0 1 1 8 2 4 2 3 3 1-2 12-12 2-1 0-12-118 0 0 12 7 7 2 5 1 7 1 1 0 11-1 1 0 6-1 1 0 5-1 1 0 6 1 1 0 5 1 1 0 6 1 1 0 7 1 1 0 3 3 7 5 5 4 2 6 1 5 4 0 2-5 5-6 1-6 3-4 5 0 2-2 4 0 8 2 5 4 5 5 3 8 2 5 5 0 4-1 1 0 8-3 4-4 1-3 2-2 0-8 4 0 24-1 1-36 5-7 3-6 7-1 6-1 1 0 32-1 1-1 14-3 6-2 0-7 3-4 6-3 21-1 1 0 3-4 11 0 24-2 2-10 1-1 1-6 0-1 1-9 0-5-4 0-19-1-1 0-5 1-1 1-10 2-5 1-8 3-2 2 0 10-4 7-8 3-8 0-5-1-1 0-6-1-1 0-6-1-1-1-11-2-3 0-2-4-5-3-2-2 0-4-2-7 0-9 4-4 5 0 2-2 4 0 3-1 1 0 25-4 5-13 0-1-1-60 0-6-5 7-7 5 0 1 1 15 0 1 1 26 0 11-4 5-5 2-4 0-3 1-1-1-27 6-6 49 0 1-1 5-1 8-7 2-4 1-5 7-7 1 1 13 0 1 1 17 0 1-1 5 0 1-1 2 0 4-4 0-3 1-1 0-7 1-2-1-1 0-6-1-1 0-5-1-1-1-13-1-1-1-5-2-3-6-5-2 0-4-2-6 0-1 1-2 0-6 3-3 3-2 4-2 8-5 6-5-2-5-4 2-5 0-3 1-1 1-12 1-1-2-10-2-4-6-5-2 0-4-2-3 0-5-5 1-12 4-7 23 0 5 4 2 20 3 6 6 5 5 1 1 1 7 0 7-3 6-7 0-2 2-4 0-5-3-8-5-5-10-4-13 0-1-1-2 0-3-4 4-9 5-5 6-3 13-4 5-3-5-3-2 0-6-3-28 0-10 4-3 2-7 8-6 3-4 0-1 1-9 0-1 1-10 0-1 1-3 0-5 2-4 4-2 4 0 48 1 1 1 14 1 1 2 10-1 1-1 7-1 1-1 13-2 4-3 3-1 0-5-6 0-27-1-1-1-5-6-7-8-3-7 0-10 4-5 5-3 7 0 32 1 1 0 6 1 1 0 6 1 1 0 12 1 1 0 13 1 2-6 5-4-1-4-4 0-24 1-1 0-4 1-1 1-8 1-1 0-4 1-1 0-32-1-1 0-6-1-1 0-6-1-1 0-6 5-7 1 1 9 0 1 1 17 0 7-3 5-5 3-8 1-16 1-1 0-6 1-1 0-27 3-4 8 0 1-1 18 0 1-1 5 0 5-2 3-4 0-3 1-1 0-7 1-2 4-4 8-2 4-2 4-4 4-11 0-12-256 0 0 14-1 1-1 6-4 4-4 2-6 7 0 4 2 4 5 4 4 1 5 5 0 2 1 1 0 6-6 9-10-5-10-2-1-1-3 0-2-2 0-2-1-1 0-5-1-1 0-6-1-1 0-7-1-1 0-36-38 0 0 12-5 5-5-5 0-12zM551 903l4-4 7-1 1-1 5 0 3 4 2 6-5 5-10-1-8-4zM18 931l0-25 6-6 2 0 3-2 8-1 8 3 5 0 1 1 7 0 1 1 2 0 1-1 13-1 1-1 3 0 5-2 2 2 3 6-1 7-4 5-7-3-11-1-1-1-7 0-8 3-3 2-5 8-1 7-3 6-2 2-2 0-7-5-4-2-2 0zM544 879l3 3 0 4-3 6-3-2-6-7 3-2 2 0zM495 873l6 3 2 2 8 3 2 2 0 50-2 5-6 7-10 4-4-5 0-8-1-1 0-52 1-1 0-3zM519 829l1 0 5 5-5 5-3-1-4-4zM107 804l2 0 4 5 0 3-3 6-2 2-5-2-4-6 0-2zM230 781l5 5 0 8 1 1 0 5 1 1 0 3 2 5 0 4-1 1 0 6-1 1-1 14-4 6-4 3-4-2-3-3-2-7-3-5-4-4-8-4-4-9 5-5 8-2 5-3 2-2 3-6 1-6 5-5zM495 777l4 3 1 5 1 1-5 6-2 0-8-6zM253 757l3 1 2 2 0 3-3 3-3 0-3-3 0-2zM639 744l4 0 2 1 4 5 0 2 1 1 1 17 1 2 3 3 10 1 7 10 0 24-7 10-3 0-6 3-3 3-2 7-3 3-6 3-7 0-1-1-3 0-1-1-5-1-2-2 1-8 5-13 13-14 2-4 0-2 2-3 1-6-2-3-7-2-6-3-6-6-3-7 0-3 4-8 4-4zM595 720l6 3 6 6 3 7 0 53-1 1 0 4-1 1-2 8-2 4-3 3 3 3 2 4 0 2 3 7 1 9-4 7 0 2-2 4 0 3-1 1 0 4-3 4-8 4-7 0-1 1-5 0-1 1-4 0-4 2-3 0-8-7 0-2-1-1 3-8 2-16 5-5 7-1 7-3 5-5 4-10-1-1 0-4-2-4-1-6-4-8 0-6 1-1 1-17 1-1 0-39 3-3zM302 708l7 3 2 2 0 3-2 5 0 5-1 1 0 6-1 1 0 34-1 1 0 8-1 1 0 5-1 1 1 8 1 1 0 4 1 1 0 4 1 1 1 10 3 6 5 5 6 3 2 0 5 5 2 4 0 5 5 12 7 6-4 7 0 2-2 4 0 3-1 1 0 3-1 1 0 3-9 9-1 0-10-10-2-5-6-6-5-2-11-11 1-2 0-5 1-1 0-7 1-1 2-37 1-1 0-6 1-1 0-6 1-1 0-8-1-1-2-20-1-1-1-6-5-7-3-2-2 0-4-2-3 0-5-5 0-1 5-5 6-1 6-3 2-2 3-5 2-8zM811 703l23 0 7 10 0 49-7 5-2-1-4 0-4-2-3-3-1-4-4-8-7-8 0-2-1-1 0-5-1-1 0-6-1-1 0-6-1-1 0-6 1-1 0-2zM906 683l1 0 4 4 2 5 0 3 3 6 3 3 6 3 6 1 5 5-1 4-4 6-11 4-3 2-7 8 2 4 5 5 7 4 2 0 7 3 7 1 1 1 14 1 5 5 0 2 1 1 1 13 1 1 0 3 2 5-9 6-1 0-4-4-2-5 0-3-3-6-3-3-9-4-30 0-1 1-5 1-3 2-5 6 0 2-2 4 0 3-5 9-4-3-3-5 0-50 6-6 2 0 1-1 5 0 6-3 2-3 1-6 1-1 0-28zM765 680l4 3 2 4 0 4-1 1-1 8-1 1 0 5-1 1 0 33 1 1 1 5 6 7 7 3 12 2 2 1 2 3-6 4-4 0-1 1-25 0-7-5 0-2-2-3-1-4-8-7-7-2-8 3-6 6-3 7 1 16 1 1 0 5 1 1 0 27-2 2-6 3-2 0-6-5 0-36 1-1 0-14-1-1-1-5-6-7-7-3-7 0-1-1-15 0-1-1-10-1-3-2 0-25-3-3-2-4 0-2-2-4 0-3-1-1 0-3-1-1 0-4 2-2 5-1 1-1 10 0 5 5-1 11-1 1 0 6-1 1 0 14 1 1 0 3 2 3 4 2 4 0 1 1 17 0 1-1 10-1 12-5 6-6 2-5 3-3 8-5 3 0 6-3 4-4 3-6 0-2 5-9 3-3 1 1zM326 660l4 1 6 4-9 9-3-2-3-6 1-3zM786 655l5 9 0 2-3 6-2 2-3 0-5-4-2-5zM710 636l4 0 6 5-6 9-1 0-9-9 2-3zM931 611l5 5 0 25-5 5-7-3-3-3 0-23 2-2zM447 610l7 4 4 4 0 2 2 3 5 5 5 2 11 11-1 10-1 1 0 2-3 3-5 2-24 0-4-4 0-4-1-1 0-34zM759 607l3 0 5 9-4 5-4 0-4-2-3-3 2-5zM115 615l0 2-7 5-23 0-6-5 0-1 5-5 13-1 1-1 4 0 5-2 2 0 5 5 0 2zM833 599l29 0 3 4 0 62-6 5-1 0-5-5 0-3-1-1-1-5-5-6-3-2-2 0-4-2-3 0-6-5 1-33 1-1 0-4zM805 590l2-4 3-3 5 0 9 4 4 6-3 3-2 0-1 1-13 0-4-4zM746 588l1 2 0 4-2 4-6 4-3 0-8-3-13-1-1-1-5 1-7 3-4 4-2 4 0 2-2 4 0 4-2 4-3 3-3-4-2-5 0-25 5-5 30 0 1-1 5 0 1-1 4 0 5-2 5 0zM471 563l3 1 4 4-6 5-1 0-5-5zM796 568l-5 4-2 0-1 1-18 2-8 3-4-1-6-7 0-2 9-5 23-1 1-1zM882 559l2 3 0 7 1 1 1 12 1 1 0 7 1 2-5 7-13 0-1-1-2 0-2-2 0-8 1-1 2-10 6-10zM849 541l3 3-3 8-7 7-7 3-4-6-1-9-1-1 1-4 4-3 8 0 1 1 4 0zM84 534l3 3 2 4 0 5-5 8-9-2-2-2-2-6zM351 526l4 5 0 24-1 1-1 15 1 1 0 2 2 4 0 3 4 10-3 4-5 2-2 0-5-5 3-26-1-1-1-5-2-3 0-2-4-8-2-2 0-5 3-7 5-5zM519 515l2 0 3 3 2 5 0 3 4 7 6 4 10 2 7 4 5 9 5 4 6 3 6 1 1 1 4 0 1 1 7 0 1 1 16 0 1 1 9 0 2 1 2 3 0 6-1 1 0 19 1 1 0 5 1 1 0 6 1 1 0 7 1 1 0 8 1 1 0 3 4 5 5 1 1 1 7 0 6 6 0 31-1 1 0 6-4 4-4-3-2-4-1-13-1-1-2-8-7-8-6-3-27 0-6 3-6 6-4 10 0 7 1 1 1 6 4 4 5 1 1 1 6 0 1 1 5 0 1 1 10 1 5 2 6 0 4 2-2 4-10 8-10 4-8 1-5 2-3 3-2 7-4 2-13 0-4-4-1-2 0-5 1-1 0-6 1-1 0-6 1-1 0-8-3-7-7-6-2 0-4-2-3 0-1-1-31 0-1 1-7 1-3 2-3 8 0 35 1 1 0 2 2 4 5 5 4 2 3 0 1 1 27 0 7 6 0 23-7 6-25 0-1-1-2 0-6-4-4-8-6-5-4-2-10-2-1-1-13-1-4-2-3-3 1-32 1-1 0-5 1-2 10-9 1-9 6-14 6-4 4 0 1-1 9-1 1-1 16-1 8-4 5-6 0-2 2-3 1-4 4-4 12-5 5-6 2-7 5-5 13-4 6-7 0-2 2-4-1-9-4-7-6-4-6-1-1-1-6 1-6 3-5 5-2 5-1 6-5 6-14 1-1 1-10 1-1-1-3 0-5-2-13-1-7-6 1-2 6-5 9 0 1-1 6 0 1-1 5 0 1-1 2 0 8-6 4-7 0-2-5-8-4-3-7-3-13-1-1-1-8 0-6-7 5-5 5-1 7-3 6-8 1-7zM357 518l5-3 13 0 4 4 0 2-5 4-7 0-1-1-5 0-4-3zM544 490l6 5 0 1-6 5-5-5 0-1zM333 495l6-3 10-1 1-1 5 5 0 13-1 1 0 2-2 2-4 0-6-3-7-7-2-5zM278 490l1 1 7 0 1 1 20 2 4 2 0 25-1 1-1 8-1 1 0 7-1 1 0 6-1 1 0 4-1 1 0 9-1 1 0 35 3 8 0 3 5 10-3 8-2 16-5 5-7-3-3-3-3-9-5-7-4-3-4-1-3 2-3 0-4 2-12 2-3-3-3-7 0-2 1-1 0-9 1-1 0-2 2-2 6 0 1 1 7 1 12 6 4-4 0-1 11-10-6-4-6-1-1-1-27 0-6 6 0 1-5 4-13 0-5-5-1-12-1-1 0-4-2-5 0-3 8-8 8-4 5-5 2-5 4-4 4-2 11 0 1 1 7 0 1 1 9 1 1-1 10-1 5-3 3-7 0-7 1-1 0-4-1-1 0-5-1-1 0-2-1-2-4-3-15-2-5-6 0-1zM156 466l49 0 5 5 0 25 4 11 8 6 7 1 5 5 0 4-4 6-6 0-1-1-6 0-1-1-9 0-2-1-1 1-5 1-3 2-5 5-3 6 0 11 1 1 0 7 1 1 0 5 1 2-9 5-6 1-5 2-6 6-3 8 0 5 4 9 6 5 2 0 4 2 3 0 5 5 0 26 4 10 4 4 4 2 6 1 3 2 2 0 6 4-9 5-3 0-1 1-3 0-1 1-5 1-6 5-3 5 0 2-1 1 0 8 1 1 2 20 1 1 1 5 2 4 3 3 9 4 6 0 8-3 5-5 3-8 0-3 2-3 4-3 4 5 0 26-5 5-31 0-1 1-5 0-1 1-4 0-1 1-5 1-2-2-3-6 0-3-4-10-4-4-4-2-8-2-4-4-2-8-2-4-4-4-10-4-6 0-1-1-2 0-5-4 13-7 2 1 13 0 1 1 12 0 1-1 5 0 6-4 2-5 0-5 1-1 0-28-4-11-6-5-11-3-5-5-1-4-5-8-7-4-6-1-4-2-4-4 3-25 4-7 3-3 5-2 7-7 2-5 2-2 6-3 3 0 10-4 4-4 3-6 0-3 1-1 0-27-4-10-4-4-7-3-6-1-6-3-2-2 2-2zM404 447l-5 5-25 0-5-5 5-5 12-1 1-1 4 0 5-2 3 0 3 3zM616 440l10 7-3 3-4 2-8 1-8 3-6 6-3 8 1 11 1 1 0 6 1 1 0 7-4 4-2 0-5-4 0-4 1-1 0-4 1-1 1-8 1-1 0-5 1-1-1-1-1-12-1-1 0-6-1-1 1-6 5-7 1 1 5 0 1 1zM817 398l5-3 4 0 1-1 33 0 3 2 2 3-6 5-29 0-1-1-6 0-1-1-2 0zM573 398l0 1-5 5-24 0-5-5 0-1 4-4 2 0 1-1 16 0 1-1 5 0zM447 371l5 3 1 6 3 6 4 4 7 3 3 0 3 2 2 4 0 5 1 1 0 46-1 1 0 3-1 1-2 8-7 7 1 2 6 5 0 2 2 4 0 3 1 1 0 3 1 1 0 5-3 6-3 3-6 3-4 4-3 7-9 9-1 0-10-10-3-6-5-5-5-2-3-3-3-6 0-2 5-5 3 0 1-1 5-1 6-5 3-6 0-3 1-1 0-28-3-8-6-6-8-3-7-1-5-4 0-24 2-2 6-3 3 0 1-1 10 0 1-1 5-1 3-4 0-3 1-1 0-8zM351 368l3 3 1 5-3 6-2 2-6-8 0-2 6-6zM733 365l4-8 27 0 6 3 6 6 3 6 0 4-5 5-8 3-8 0-1-1-6 0-1-1-9 0-1-1-3 0-3-3-2-4 1-2zM273 350l5-5 24 0 5 5 0 1-4 4-26 0-4-4zM196 350l9-5 5 5 2 8 3 5 2 2 6 3 6 1 6 6 0 3 1 1 1 5 2 3 5 4 2 0 3 2 4 0 6 6 0 10 1 1 0 4 4 5 5 1 1 1 12 0 1-1 13-1 1-1 25-1 1-1 3 0 6 3 4 4-3 9-2 16-5 9-1-1-3 0-5-2-12-1-5-2-4-6 0-4-4-9-6-5-2 0-3-2-12 0-7 3-2 4 0 4-1 1 0 10-5 5-1 0-5-5 1-1 0-7 1-1 0-6 1-1 0-5 1-1 0-3-3-8-2-3-4-3-7-3-7-1-3-2-4-4 0-3-3-6-4-4-10-4-7-7 0-9-1-1zM747 298l3 0 1-1 12 0 6 3 3 4 0 6 1 1 0 2 5 3 7 0 11 11 0 7 2 4 4 2 7 0 3 3 3 6 0 4-1 1-1 7-3 7-2 0-10-6-5-8-1-6-3-3-7-2-9-6-4-7-2-7-3-3-6-1-9-6-5-9 0-3zM907 295l10 7-3 7 0 5-1 1 0 6-1 1 0 7-1 1 0 7-1 1-1 12-2 2-5 1-6 3-3 3-4 8-1 8-2 3-4 3-3-3-2-4 0-7-1-1 0-5-1-1 0-4-1-1-1-5 7-8 3-2 6-1 5-4 2-4 1-6 3-8 1-13 1-1 0-2zM259 302l-6 7-16 1-1 1-5 0-1 1-2-2-4-8 5-5 6 0 1-1 14 0 1-1 4 1zM542 298l5-2 7 0 1-1 9-1 4-2 7 10 0 24-6 5-5-1-5-3-5-9-5-4-5-2-3-3-2-7zM470 273l2 0 4 4 2 8 2 4 4 4 4 2 8 2 5 5-5 5-6 1-6 3-4 4-2 4-1 6-1 1 1 1 0 3 3 7 5 5 8 3 5 0 8-3 5-5 3-7 0-3 5-6 5 1 5 4-1 13-1 1 0 8-1 1 0 2-6 6-2 0-3 2-4 1-5 5-2 3 0 2-3 7-5 7-3 0-5-2-4-4-3-7-6-6-7-3-4-4-2-4 0-6 1-1 1-8 1-1 0-5 1-1 0-42-1-1 0-12zM505 177l3 0 1-1 11 0 5 5-1 14-4 4-8-3-7-7-3-6 0-3zM732 181l6-7 2 0 1 1 14 0 1 1 6 0 6 5-6 5-22 1-1 1-1 0zM623 156l0 25-4 4-5 2-3 0-6 3-4 4-4 11 1 2 0 16 1 1 0 5-7 6-8 0-1 1-5 0-1 1-10 2-7-4-2 0-4-2-3 0-5-2-4 0-1 1-14 2-5 2-9 0-1-1-16 0-6-6 1-2 0-8 2-5 3-3 25 0 5-5 2-4 2-1 4 0 1-1 10 0 6 3 3 3 2 7 4 4 4 2 3 0 1 1 6-3 6-6 3-6 1-6 1-1 0-4 1-1 1-12 5-5 8-2 7-5 3-6 2-8 5-5zM684 132l5-6 8 0 1 1 15 0 5 3 2 3-6 6-25 3-2-2zM733 107l5-4 24 0 6 5 4 10 4 4 6 3 2 0 1 1 8 0 1 1 40 0 5 5 0 2-3 6-2 2-28 0-1-1-16-1-1-1-26-1-7-5 0-2-3-7-6-6-4-2-5-1-3-3zM568 103l5 5 0 2-3 6-2 2-5-9 0-1zM932 31l4 5 1 9 2 5 2 2 5 2 12 1 1 1 7 1 7 3-3 8-7 7-7 3-8 1-6 3-2 2 4 4 1 0 7 7 0 1 11 10 1 2-4 2-7 0-1 1-5 0-1 1-7 0-1 1-6 0-1 1-8 0-1 1-3 0-4 3-2 4 0 4-1 1 0 10 1 1 0 6 1 1 0 4 1 1 0 3 2 4 1 6 4 5 10 4 4 8 0 2-5 9-15-2-8-3-26 0-5 3-18 5-4-6-1-6-1-1 5-5 15 0 1 1 8 0 1 1 8-3 3-3 2-5 1-11-2-4-5-6-6-3-4-4-1-4-2-3-1-6-4-7-7-4-6-1-5-4-1-5-3-7-2-3-4-3-2 0-3-2-3 0-1-1-26 0-6-5 6-12 4-2 7-7 1-3 2-2 7-3 5 0 4 4 1 5 3 7 7 6 2 0 4 2 6 0 1 1 6 0 1 1 6 0 1 1 15 0 1-1 2 0 4-3 2-5 0-9 1-1 0-28 4-4zM284 35l0 26-7 6-23 0-6-7 5-5 6-1 6-3 4-4 3-7 0-3 5-6 2 0zM168 36l3-3 5-2 6 0 5 4 0 2-5 5-6 0-1-1-2 0z"/>
<path fill="#00ffff" fill-rule="evenodd" d="M883 953l-2 2 0 5 1 1 0 2 1 0 1-6 1-1zM787 929l-3 2 2 4 4-4zM625 954l0 37 47 0 0-11 17-17 24 0 3 3 6 13 0 12 75 0 0-12-8-9-8-4-10-1-1-1-8 0-8-7-1-2 0-25-3-6-6-6-7-3-1 1-10 0-1 1-7 0-1 1-16-1-1-1-9 0-1-1-25 0-1 1-2 0-5 3-4 4-3 5-1 4-7 7-9 4-5 5zM225 907l4 2 2-3-1-1-2 0zM810 758l-2 2 0 3 2 3 2-3 0-2zM802 773l-4-2-6 0-1-1-31 0-4-2-5-5-3-6-6-6-3-2-3 0-6 4-5 7 0 7 1 1 0 4 1 1 1 8 2 4 0 25-5 5-4 2-2 0-1 1-6 0-5-3-5-5 0-27 1-1 1-18 1-1-3-8-6-6-6-3-14 1-1 1-4 0-7 3-4 4-3 7 4 5 5 3 10 15 0 26-10 15-5 3-7 8-13 6-25-1-1 3-3 4 0 2-2 3-1 4-3 3-10 5-15 3-1 1-5 1-7 4-6 1-3 2-2 5 5 5 4 2 2 0 2 2 1 3 3 4 0 2 3 6-6 7-5 2-7 0-1 1-3 0-4 2-3 4 0 2-1 1 0 25 1 1 0 6 2 4 5 4 7 1 1 1 9 0 1-1 4 0 1-1 8-1 8-3 6-7 0-24 3-3 7-5 12-6 4-4 3-6 8-7 4-2 15-3 11-6 7-8 14-7 8 4 4 4 3 6 5 5 6 3 15 1 1 1 9 0 6-3 5-5 3-6 0-7-1-1 0-9-1-1-1-13-1-1 0-4-1-1 0-3-1-1 0-3-1-1-1-5 7-6 2 0 4-2 4 0 1-1 5-1 6-5 2-4 1-5 9-9 5-1 8-5 5-8 0-9zM84 711l-2 2 2 4 2-3zM544 673l-24 0-8 3-5 5-3 7 0 26 3 6 6 6 6 3 27 0 5 2 3 3 1 2 0 26-3 4-7 4-41 0-1-1 0-8-7-7-8-4-2 0-4-2-3 0-1-1-3 0-1-1-4 0-4-2-6-6 0-3 1-1 0-7 1-1 0-9 1-1 0-4-3-8-4-4-5-2-7 0-6 3-3 3-3 6 0 14 1 1 0 7 1 1 1 12 1 1 0 4 1 1 2 10 2 3 23 22-4 6 0 2-2 4 0 3-1 1 0 3-1 1-3 29 4 7 3 3 5 3 14 4 4 2 5 5 0 7-1 1-17 0-6 3-5 5-3 6 0 52 6 9 9 5 10-3 3-3 3-8 0-66 1-1 8 0 7 6 16 8 10-2 3-2 2 0 4-2 6-5 2 0 3-2 2-4 0-4 6-12 0-3 1-1 2-10 7-7 7-2 5-3 4-4 4-7-1-1-3-11-7-12 2-10 1-1 1-9 1-1 0-29-2-5-4-4-4-2-5-1-4-3-2-4 0-12 1-1 1-16-6-9zM518 826l4 1 6 7-1 3-7 6-8-4-3-4 0-2zM503 769l1 1 0 16-2 4-6 7-5-2-12-9 17-17zM579 665l3 6 7 6 2 0 1 1 6 0 1 1 6 0 1 1 6 0 1 1 5 0 5-2 3-3 3-7 0-6-3-6-8-8-27 0-6 5-3 4zM0 595l0 61 13 0 6-3 5-5 3-6 0-29-4-11-4-4-6-3zM0 528l0 62 11 0 10-4 5-5 2-4 1-6 1-1 0-28-3-6-4-4-4-2-6-1-1-1zM0 492l0 6 11 0 3-3-2-3zM0 404l0 62 11 0 10-5 5-5 4-8 0-26-4-8-8-7-7-3zM471 372l-2 1-1 2 4 3 1-4zM695 332l-8 0-6 3-4 4-4 11 0 9-1 1 0 7-1 1 0 12 1 1 0 4 1 1 1 6 4 6-1 3-2 2 0 2-3 7 0 4-1 1 0 58 1 1 1 5 3 5 5 4 7 3 5-2 7-7 6-15 5-5 5-1 1-1 17-1 8-3 6-6 2-5 5-5 7-4 3 0 9-4 5-4 4-6-1-16-1-1 0-3-2-5-4-4-7-3-4 0-8-3-8-1-1-1-4 0-1-1-5 0-6-6-2-4-1-12-3-7-5-3-7-1-3-4 0-5-3-7-4-3-7-1zM664 262l-9 4-6 6-3 6 0 24 4 10 5 5 7 3 5 0 5-2 5-5 3-7 0-30-3-6-5-5zM444 93l-1 1-5 1-4 4-2 5 0 7 3 5 5 5 6 3 2 0 6-3 6-6 3-7-3-6-4-5-7-4zM156 34l-1 2 2 2 2-2zM819 0l0 42 2 5 4 3 2 0 1 1 6 0 4 3 5 6 1 4 4 6 4 3 7 3 16 1 1 1 9 0 5-2 5-5 3-8 0-27 1-1 0-2 5-5 2 0 1-1 24 0 4 3 5 6 0 3 3 6 3 3 6 3 8 1 1 1 4 0 1 1 7 1 4 2 14 0 0-57-100 0 0 13-1 2-6 5-2 0-8-8 0-12zM600 0l0 13 1 1 0 5 1 1 1 15 3 6 5 5 5 3 25 0 6-3 4-4 3-7 7-6 4-2 5-1 5-3 2-2 3-6 0-15zM17 0l0 37 1 1 0 6 1 1 1 16-6 13-3 3-11 0 0 41 12 0 3 3 6 3 6 1 1 1 5 0 1 1 52 0 1-1 7 0 1-1 14-1 5 3 6 6 0 24-1 1 0 3-1 1 0 3-2 5 0 4-2 5 0 3 3 7 4 4 4 2 7 1 1 1 1-1 15-1 1-1 4 0 1-1 9 1 1 1 6 0 1 1 8 0 1 1 12-6 6-8 0-6-1-1 0-4-1-1-3-15-3-6-3-3-6-3-22 0-1 1-2 0-3-2-8-9 0-3 7-15 4-5 3 0 4 2 4 0 1 1 4 0 1 1 4 0 1 1 7 0 1 1 7 0 1 1 11 1 4-5 2-5 4-4 8-4 6-1 7 4 4 5-1 1-1 16-1 1 0 30-6 7-4 2-2 0-10 6-5 8 3 28 3 6 4 4 4 2 7 1 1-1 9 0 1-1 7 0 1-1 3 0 3 2 8 9-3 4-8 5-26 0-7 3-5 5-2 5 0 27-2 4-5 4-26 0-8 4-6 7-2 5 0 25 1 1 0 4 1 1 0 3 1 1 2 8 3 4 0 4-3 8-2 14-7 6-11 5-6 6-3 6 0 65-1 1-8 0-4 3-6 9 0 2-3 6-1 8-1 1 0 27-1 2-7 6-16 0-1-1 0-9 1-1 0-3 1-1 0-3 2-5 0-5 1-1 0-31-1-1 0-5-1-1 0-3-1-1-2-10 18-18 1 0 5-6 0-26 2-4 4-20 7-6 7-2 5-3 5-6 2-4 0-3-3-6-5-5-6-3-12-3-5-4-1-2 4-7 0-2 2-4 0-3 1-1 0-4 1-1-1-7-5-7-9-4-25 0-1 1-9 1-1 1-5 1-7 4-2 0-5-6 0-2-2-4 0-3-1-1 2-3 7-6 26 0 1-1 2 0 9-6 3-4 1-4 4-5 5-2 16-1 1-1 5 0 8 8 1 5 2 4 4 4 4 2 2 0 1 1 27 0 1-1 2 0 9-8 2-4 0-2 1-1 0-8 1-1 0-7 1-1 0-8-2-4-7-7-7-3-52 0-1-1-8 0-1-1-14-1-5 3-5 5-6 14-4 4-3 1-4-3-5-6 0-2-4-7-9-6-28 0-1-1-8 0-1-1-7 0-1-1-16 0 0 58 12 0 8 8 0 4-1 1-1 5-6 7-12 0 0 51 14 0 8 3 3 3 3 10 7 6 5 0 1-1 20 0 6-3 6-6 2-4 0-2 2-3 7-6 7 1 6 3 4 4-2 5-1 7-1 1-1 11-2 3-6 5-8 2-7 4-4 4-3 5 0 7 1 1 0 8 1 1 1 14 1 1 0 3 1 1 2 8 4 6-9 8-14 6-6 7 0 2-1 1 0 29-1 1 0 6-1 1 0 6-1 1 0 8 1 1 1 6 4 8 9 8 1 0 12-11 12-8 8 0 1 1 0 16-1 1 0 3-2 3-1 4-5 6-3 1-3 3-2 4-13 7-10 2-4 2-6 7 0 2-1 1 0 9 1 1 0 8 1 1 0 7 1 1 0 2 2 4 6 6 3 2 7 2 4 4 1 5-7 7-6 2-7 6-3 5-1 5-2 3 0 2-2 4-12 13 0 8-1 1-27 0 0 55 13 0 7-3 4-4 3-6 0-42 1-1 9 0 2 2 2 0 3 2 2 0 4 2 3 0 1 1 4 0 1 1 8-1 6-3 2-5 0-5 1-1 0-2 7-7 4 0 1 1 3 0 1 1 5 1 12 7 4-4 18-9 15 1 1 1 13 0 6-3 3-3 3-6 0-29-3-6-5-5-14-6-3-3-5-9-8-6-8 0-4 2-2 4 0 6-1 2-4 4-6 3-26 0-2-1-5-6 1-4 7-6 11-2 19-8 2-4 0-3 3-8 0-4 1-1 0-4 1-1 0-5 9-14 4-4 1 0 7-8 3-1 4-3 2 0 3-2 2 0 7-3 7-7 2-4 0-28-1-1 0-2-7-8-6-3-5-1-11-6-2-2 0-7 1-1 65 0 8 8 0 26 3 6 5 5 9 4 7 8 0 15-1 1-10 0-4-2-8-1-1-1-5 0-1-1-4 0-6 4-6 9 1 2 1 10 1 1 1 7 2 4-4 3-10 5-5 1-7 4-4 5-3 6 3 7 6 6 9 4 7 8 0 26 2 4 7 7 4 2 5 1 3 2 2 0 9 6-5 4-6 3-6 1-9 4-3 2-4 5-2 4 0 7 1 1 0 7 1 1 0 8 1 1 1 5 6 7 5 3 4 1 6-3 6-6 3-6 0-2 4-6 4-4 1 0 6 6 2 5 0 25-4 6-4 2-27 0-1 1-4 0-1 1-3 0-1 1-5 1-7 4-4-5-3-6-3-10-2-3-5-5-9-4-6-6-4-9-5-5-6-3-7 0-1 1-5 1-3 5 0 3-1 1 0 29-2 4-4 5-11 6-3 4-1 4-7 7-4 2-28 0-1 1-8 0-1 1-8 1-4 2-10 10-4 7 0 2-2 4 0 4-1 1 0 5-1 2 1 1 1 5 2 3 5 4 5 2 3 0 1 1 25 0 1-1 5 0 1-1 3 0 1-1 5-1 12-6 2-2 1-3 4-4 13-8 1 0 6 6 2 4 0 2-7 14-2 2-3 1-3 3-1 3-6 6-2 0-3 2-4 0-1 1-5 1-3 2-6 6-3 8-8 7-8-7-3-8-9-8-2 0-1-1-9 0-1 1-10 1-4 2-13 0 0 28 11 0 12 12 5 2 3 0 1 1 4 0 4 3 2 0 6 3 7 1 1 1 8 0 1-1 7-1 6-3 2 0 4-3 4 5 5 12 0 15-1 1-9 0-7-4-2 0-4-2-9-1-1-1-8 4-6 7-3 10-3 6-4 5-9-6-3-1-2-2-4-2-2 0-3-2-13 0 0 57 27 0 0-12 6-13 3-3 16 16 0 12 16 0 0-12 12-7 5-1 6-3 6-6 3-6-2-11-1-1-2-8-3-4 0-9 1-1 15 0 6 3 2 0 4 3 3 1 2 2 0 24 6 7 9 5 2 0 4 2 3 0 1 1 4 0 1 1 27 0 1-1 4 0 1-1 7-1 12-6 5-5 6-12 0-3 2-5 0-4 1-1 0-7-1-1 0-6-3-4-2 0-1-1-16 0-1 1-7 0-1 1-9 0-7-7 0-3 7-9 7-3 6-7 0-2 1-1 0-26 5-9 7-7 2 0 4-4 0-2 1-1-7-7-1 0-4-5-4-9 0-4 7-7 9-4 6-7 2-6 7-7 4 0 5 5 2 10 1 1 0 3 6 14-3 8 0 4-1 1 0 4-1 1 0 5-8 13-4 4-3 1-3 3-1 4 7 7 5 3 2 0 6 3 12 2 3 2 5 6 0 28-1 1 0 4-1 1-1 7-3 8 1 7 2 5 4 4 6 1 1 1 15 0 1-1 16-1 1-1 9-1 1-1 5-1 7-4 2 0 10 5 15 3 4 2 5 5 0 9-1 1 0 8-1 1 0 18 31 0 0-12 1-1 0-3 2-3 0-2 2-3 10-9 5-11 5-5 6-3 2 0 7-7 4-7 0-2 2-3 1-7 1-1 0-4 1-1 0-24-1-1 0-2-2-4-6-6-6-3-13 1-1 1-6 0-1 1-31 0-1-1-10 0-1-1-5 0-5-2-1 3-3 4 0 2-2 3-1 4-17 17-18-18 0-1-23-22 2-4 0-3 2-5 0-4 1-1 0-5 1-1 1-15 1-1 0-10 1-1 0-8 1-1 0-7 1-1 0-10-1-1 0-7-1-1 0-9-4-9-5-5-10-4-5-5-1-3 8-8 6-2 7-6 5-11 4-4 2-1 8 1 6 3 3 3 0 2-3 5 0 2-3 7 0 4-1 1-1 56 1 1 2 20 5 8 4 3 3 1 7 7 3 5 1 6 4 8 8 7 2 1 1-1 2 0 12-6 11-8 11-12 8-3 4 0 9-5 6-9 0-30-1-1 0-4-1-1-2-8-3-6-12-12-7-11 0-5 1-1 1-8 1-1 1-8 1-1-3-27-3-6-6-6-4-2-5-1-12-6-2-2 16-16 2 0 5 3 2 0 7 3 4 0 1 1 31 0 1-1 5-1 4-4 2-5 0-4 1-1 0-25 4-6 4-4 13 8 6 6 0 1 2 1 20 20 3 7 3 3 2 1 5 0 1 1 14 0 1 1 2 0 6-3 5-5 5-10 5-5 9-4 5-5 3-5 1-4 3-3 5-2 3 0 6-3 6-6 3-7-4-8-3-3-7-4-4 0-9 6-4 7-1 6-4 6-4 2-11 1-1 1-3 0-1 1-3 0-5 2-7-4-2 0-4-2-3 0-5-2-4 0-3-2-5-6 1-6 3-4 8-3 5 0 1-1 4 0 1-1 7-1 4-2 6-6 0-2-8-7-10-2-1-1-4 0-1-1-5 0-1-1-5-1-3-3-2-5 0-3 2-3 5-4 9-4 5-5 4-9 8-7 6 4 6 13 3 3 7 4 7 1 7 3 11 12 7 4 2 0 7 3 3 0 1 1 16 0 1-1 8-1 4-2 4 0 3 2 1 2 0 16-1 1 0 11-1 1 0 6 1 1 0 7 1 1 1 15 3 7 4 4 4 2 5 1 8 8 0 26 1 1 1 6 3 4 4 2 8 2 7 7 0 9-1 1 0 8-1 1 0 9 3 6 5 4 5 2 7 1 1-1 4 0 1-1 3 0 1-1 5-1 9-5 8-9 10-7 9-4 6-6 8-16 6-6 3-1 3-3 1-3 17-17 4 5 3 6 0 2 1 1 0 7-1 1-1 5-5 6-5 2-2 2-6 12 0 2-2 4 0 3-1 1 0 4-1 1 0 26 5 9 5 4 5 2 10 0 1-1 3 0 4-3 0-2 1-1 0-14-1-1 0-8-1-1 0-13 1-1 1-5 5-6 25 0 5 5 6 10 0 50-6 6-4 2-6 0-1 1-6 0-1 1-2 0-3 6 0 10 1 1 2 8 4 8 4 5-2 2-4 10-3 16-2 4-4 3-5 0-5-2-4 0-5-2-8-1-9 6-6 12 0 25 4 8 6 5 4 2 2 0 5 3 6 6 2 11 5 4 6 1 4 4 2 4 0 26 4 8 4 3 5 2 3 0 1 1 7-1 4-2 3-3 3-8 0-28-1-1-2-11-6-12-10-9-3-5 0-2-2-4 0-4-1-1 0-9-1-1-1-13 4-5 5-2 3 0 4 2 7 7 0 2 2 4 7 8 5 1 6-5 5-9 0-26 1-1 1-5 2-4 5-5 3-1 5 6 6 10 0 2-1 1 0 7-1 1-1 15 1 1 0 4 1 1 0 3 1 1 1 5 4 8-17 17-1 0-6 7 4 5 12 7 10 2 1 1 7 0 9-6 4-7 0-2 3-6 5-5 5 0 1 1 2 0 3 3 0 2 1 1 0 5 1 1 0 5 1 1 0 4 1 1 1 7 2 4-4 3-10 5-2 0-7 3-3 2-4 5-3 6 0 36 76 0 0-51-11 0-12-5-5-4 0-2 2-4 0-3 1-1 2-15-3-5-4-4-5-3-6-1-5-4 0-2-1-1 0-6-1-1 0-5-2-5 0-4-2-4 0-3 3-3 8-4 6-1 7 7 4 9 5 5 6 3 13 0 0-152-12 0-8-8-2-11-4-11-4-6-8-7-6-12 0-4 4-5 4-2 3 0 6-3 4-4 4-11 8-9 11 0 0-25-11 0-1-1-7 0-1-1-16-1-4-2-4-5 1-4 7-6 36 0 0-56-39 0-4-2-4-5 0-27 4-5 5-2 5 1 5 5 4 10 5 5 6 3 13 0 0-31-12 0-4-2-4-5-1-5-3-5-6-5-4-2-4 0-4 2-7 7-5 14-2 2-9 4-5 5-3 5-1 13-1 1 0 5-1 1 0 6 3 4 5 4 13 6 3 5 0 3 1 1-8 8-25 0-1 1-5 0-8 3-3 4-2 9 1 1 0 7 1 1 0 7 1 1 0 8-3 5-4 4-8 3-4 4-2 4 0 51-8 7-5 1-7-7 0-2-3-6-6-6-8-3-6-4-4-4 1-12 1-1 0-9 1-1-2-9-5-6-2 0-4-2-3 0-3-2-6-7 0-15 1-1 9 0 1-1 7-1 4-2 4-4-1-2 0-24 4-5 4-2 5 0 1-1 6-1 4-4 2-4 1-6 5-5 5-2 6-5 5-10 0-3-4-7-3-3-7-4-27 0-6 3-5 5-3 6 0 25-1 1 0 2-7 6-25 3-6-6-1-3-2-2 7-8 9-4 6-6 2-4 0-30-3-6-3-3-7-3-4 0-7 4-3 3-3 5-1 4-8 8-2 0-4 2-6 5-3 5-1 5-2 3 0 2-2 4-15 16-9 5-15 3-16 7-22 25-6-3-3 0-1-1-7-1-1-1-4 0-1-1-13 0-2-1-3-4 0-31 4-6 0-2 2-4 0-3 1-1 0-4 1-1 0-42 1-1 8 0 6-3 5-5 3-5 0-2 2-4 1-8 1-1 0-6-2-5-5-5-7-3-10-2-9-5-8-9-9-5-2 0-4-2-3 0-1-1-9-1-5-2-4-6 1-2 6-5 14-7 6-10-1-12-1-1 0-6-1-1 0-4-1-1 1-2 0-23 1-1 0-7 1-1 1-15 7-7 10-4 4-4 2-4 1-5 8-8 2 0 7-3 7-6 3-6-1-6-5-12-5-7 5-4 6-3 6-1 8-4 5-6 2-4 0-2 2-3 0-2 7-12 6 8 0 2 3 7 0 9 1 1 1 18 1 1 0 13 1 1 0 6-2 4-1 9-1 1 0 11 3 6 5 5 6 3 3 0 4-2 6-5 3-5 1-5-1-1 0-4-1-1 0-3-1-1-1-5-4-8 5-5 6-4 2 0 3-2 6 6 3 5 0 51 1 1 0 3 4 6 7 3 4 0 14 7 7 8 1 0 24 25 4 3 6 12 0 8-1 1 0 3-1 1 0 3-1 1 0 3-2 5 0 6 2 5 3 3 4 2 5 0 1 1 32 0 5 2 4 4 0 3-6 6-4 2-26 0-1 1-5 0-5 2-4 4-2 5 0 29 6 9 12 6 25 0 6-3 6-6 2-3 1-4 5-6 4-3 3 0 6-3 3-3 3-7 0-3 1-1 1-5 4-7 3-3 4 5 3 6 1 6 3 8 7 6 2 0 4 2 1-1 10 0 1-1 7 0 1-1 8 0 1 1 18 1 1 1 12 0 0-56-12 0-3-2-5-6 0-25 2-3 6-5 12 0 0-56-12 0-1 1-4 0-1 1-10 2-7 4-2 0-5-4-4-7 0-3-1-1 0-2 5-5 3-2 5-1 7-4 3-3 4-8 0-49 1-2 7-6 12 0 0-56-12 0-4-3-4-5-1-8-2-5-3-3-4-2-8-1-1 1-16 1-1 1-6 0-1 1-2 0-7 5-4 10 1 1 0 4 1 1 1 7 2 3 0 2 4 7 8 7 8 16-9 17-17 1-5 2-29 0-1 1-21 1-4-4-3-7-1-12 2-3 7-5 9 0 1-1 5 0 1-1 3 0 5-2 5-6 2-4 0-2-12-13-1-4-2-3 0-2-2-3 0-2-3-5-6-5-10-4-4-5-2-7-5-6-7-4-26 0-7-4-4-4 0-2 3-5 0-2 3-6 2-2 2-5 3-3 0-1-3-2-3-6-1-5-2-3-1-7-1-1 0-9-1-1 0-8-1-1 0-16-77 0 0 36-8 8-7 2-6 5-3 6 0 3-2 4-7 8-9-1-1-1-5 0-1-1-4 0-1-1-6 0-1 1-6 0-1 1-7 0-1 1-6 0-6 3-8 7-2 3 1 2 7 7 12 6 8 9-1 2-9 9-2 1-23 0-4-3-5-8-1-6-2-5-6-6-7-2-5-5-1-2 0-6-1-1-1-16-1-1-1-5-3-5-7-6-2-1-9 0-1 1-7 0-1 1-14 1-1 1-3 0-1 1-5 1-8 4-5-6-4-10 1-7 1-1 0-3 2-5 0-3 2-4 0-13-43 0 0 13 2 4 0 3 1 1 0 3 2 5 0 4 1 1-1 14-1 1 0 7-1 1 0 6 1 1 0 7 1 1 0 8 1 1 0 4 2 5 4 5 12 6 6 7 0 1-8 8-2 0-7 4-5 6-2 4 0 3 3 6 5 5 9 4 7 7 0 3 1 1 1 5 3 4 7 3 3 0 4 2 5 6 2 9 3 4 3 2 7 1 12 5 13 12 6-5 4-6 0-2 2-3 0-2 2-4 1-8 3-6 3-3 11-5 4-4 3-5 0-2 3-6 6-6 2 0 4 3 6 8 0 24-7 7-11 4-6 6-3 6 0 8 1 1 1 17-4 4-6 4-12 2-1 1-5 1-7 4-9-6-2 0-3-2-2 0-7-3-3 0-5 2-4 0-1 1-3 0-1 1-3 0-5 2-2-1-6 0-1-1-16-1-8-8 0-4-1-1 0-3-2-5-4-4-5-1-1-1-7 0-1 1-7 0-1 1-8 0-1 1-4 0-4 2-7 7-3 7 0 48-3 4-2 5-8 9-3 6 0 7-1 1 0 6-1 1 0 5-1 1 0 27-2 2-2 0-8 4-27 3-5-2-5-6 0-31 1-1 0-5 1-1 0-5 1-1 0-4 1-2 3-3 4-2 2 0 10-6 4-5 3-6-3-27-4-7-3-3-7-4-3 0-7 4-3 3-4 7 0 27-2 5-6 5-12-1-1-1-9 0-1-1-53 0-1-1-2 0-5-5 0-3 2-3 8-7 8 0 1 1 8 0 1 1 33 0 7-4 4-5 3-6-3-25 4-4 0-1 7-6 49 0 8-5 7-12 8-7 13 1 1 1 10 0 1 1 1-1 3 0 1-1 5-1 3-2 3-4 3-7-1-1 0-7-1-1-1-15-3-7-6-6-6-3-8 3-5 5-5 11-7 8-6-2-6-4-5-5 6-12 0-3 2-5 0-6-3-6-5-5-9-4-6-6-1-2 0-11-1-1 0-5-1-1 0-2-5-4-9-2-4 3-3 1-3 3-3 6-1 8-1 1 0 31 1 1 0 4 1 1 0 3 1 1 1 5 4 7-4 7 0 2-3 7-1 8-3 6-5 5-1 0-5-5-3-5 0-25-3-7-6-6-6-3-2 0-3 2-4 1-7 6-3 5 0 32 1 1 0 7 1 1 0 9 1 1 0 9 1 1 1 14-7 6-4 2-6-3-5-5 0-28 1-1 0-3 1-1 0-3 2-5 0-4 1-1 0-32-1-1-1-17-1-1 3-6 5-6 6 0 1 1 5 0 1 1 13 1 6-3 6-6 3-6 0-49 2-2 5-10 2-1 4 2 9 1 1 1 12 0 8-4 4-6 2-7 6-6 9-4 7-8 0-2 1-1 0-13-249 0 0 13 1 1 0 5 1 1 0 2 5 4 9 1 5 3 6 6 0 1-6 7-5 3-5 1-5 3-3 7 0 3-4 8-6 7-2 0-12-7-11-3-6-6 0-2-1-1 0-7-1-1 0-8-1-1 0-40-31 0 0 11-8 9-3-1-6-7 0-12zM253 753l5 2 4 6-2 4-6 5-4-1-5-6 0-2 2-4zM906 678l1 0 5 5 7 14 7 6 4 1 5 3 4 5 0 4-6 12-13 9 5 5 13 7 19 5 7 8 1 8 1 1 2 8 4 7-6 5-10 6-1 0-5-5-7-14-5-5-7-3-25 0-6 3-6 6-3 6-1 5-5 10-2 2-2 0-6-6-3-6 0-3-1-1 0-48 3-5 4-4 10-5 7-8 0-2 1-1 0-25 2-3zM326 656l10 4 7 5-16 16-1 0-4-5-4-9 0-4 1-2 3-3zM698 632l16 0 9 6 1 5-3 6-7 8-1 0-16-16 0-8zM930 608l4 1 5 5 0 2 1 1 0 23-1 1 0 2-7 6-3 0-1-1-5-1-5-3-4-4 0-23 3-3zM463 567l2-3 5-4 5 0 4 2 4 6-4 6-7 3-9-8zM802 568l0 8-1 1-19 0-1 1-4 0-1 1-8 2-10 5-2 2-2 4 1 3 4 4 4 2 7 14-1 4-7 6-10-3-8-7-2-4-5-2-2-2-10-4-8-1-1-1-4 0-6 3-7 8 0 2-1 1 0 17-1 1-8 0-6-9 0-2-3-6 0-23 3-5 5-4 26 0 1-1 4 0 1-1 7-1 3-2 2 0 4-2 2-2 2 0 4-4 2-4 16-8 10 0 1-1 14-1 2 2 9 5zM544 487l7 4 4 4 0 1-6 6-4 2-4-1-6-7 1-2zM351 487l8 8 1 7 3 5 5 3 7 1 8 8-2 4-3 3-5 3-4 0-4 2-4 4 0 2-2 4 0 29 8 22-1 2-5 4-5 2-3 0-1 1-2 0-7-6-1-2 0-27-7-14-7-8 0-3-1-1-1-5-3 6 0 2-7 7-4 8-1 6-1 1 0 5-1 1-1 24 1 1 1 5 2 3 0 2 6 10 0 2-5 10-3 15-5 5-5 1-1-1-5-1-5-3-5-5-1-3-5-6-11 1-1 1-6 0-1 1-5 0-3-3-4-7 0-2-2-4 0-3-1-1-1-5-2-3-5-3-7-1-8-8-2-11-1-1-1-5-4-7 0-2 11-12 11-8 2-3 0-8 1-1 41 1 10-6 5-9 0-2-2-4-5-5-4-2-5-1-6-6-1-3-2-2 8-9 15 1 1 1 6 0 1 1 24-1 1-1 5 0 1-1zM595 431l1 1 3 0 5 2 10 1 7 3 12 9 0 8-1 1-18 0-8 4-5 5-3 6 3 25-5 6-3 2-2 0-4-2-6-6 0-2 1-1 0-3 1-1 0-3 2-5 0-4 1-1 0-4 1-1-1-1 0-6-1-1-1-18 6-12 2-2zM407 431l0 17-9 8-23 0-2-1-7-8 1-2 8-7 9-1 1-1 8-2 6-4 7 0zM577 398l-2 4-6 5-26 0-7-7 0-3 8-7 16-1 1-1 6 0 1-1 6 4zM351 363l6 5 2 7-6 13-3 3-5-5-4-6-2-6 10-10zM269 350l3-4 5-4 25 0 8 7-1 4-7 6-24 0-2-1zM189 350l2-2 10-5 2 0 1-1 4 1 6 7 0 2 3 6 7 6 6 2 8 8 0 2 4 7 6 5 4 2 2 0 8 8 1 6 2 5 8 7 2 0 1 1 6 0 1-1 8 0 1-1 8 0 1-1 10 0 1-1 7 0 1-1 9 0 7 3 7 8-2 2-1 4-2 3-2 10-1 1 0 4-3 6 0 2-3 4-1 3-2 2-6-4-2 0-4-2-3 0-1-1-3 0-1-1-4 0-4-3-5-6 0-2-3-7-7-7-4-2-4 0-6 3-5 7-1 6-2 4-6 6-3 0-7-8 0-4 1-1 0-8 1-1 0-7 1-1-1-5-8-9-6-3-5-1-6-4-4-4-3-6-5-5-5-2-8-7-3-4zM908 291l5 2 6 4 4 4 0 2-4 7-2 10-1 1 0 4-1 1 0 8-1 1 0 7-1 1 0 7-6 6-5 2-4 3-6 10 0 2-3 7-6 6-3-1-5-6-3-16-3-6 0-2-3-4 0-2 3-6 6-6 9-4 6-6 1-3 2-2 0-2 3-6 0-3 2-5 0-4 6-9 2-2zM260 295l2 5 0 3-4 6-4 4-2 0-1 1-5 0-1 1-4 0-1 1-3 0-5 2-3 0-2-2-6-13 1-4 7-6 9 0 1-1 16-1zM568 285l9 12 2 4 0 6 1 1 0 18-5 5-7 4-1-1-3 0-3-2-2 0-6-4-8-9-9 0-1-1 0-16 3-4 6-5 9-1 1-1 8-2zM471 269l8 7 4 9 8 7 2 0 4 2 7 8-1 3-4 4-10 4-6 6-3 6 0 2 2 5 4 5 9 5 7-3 3-2 4-5 4-10 5-4 17 0 1 1 0 9-1 1 0 3-2 5 0 4-1 1 0 4-1 1-1 5-9 9-6 3-6 6-2 3 0 2-10 15-3 2-5 1-4 4-2 4-1 7-1 1 0 6-1 1 0 33-1 1 0 4-1 1-2 11-2 4 1 6 3 8 0 4 1 1 1 7-6 13-27 27-19-19 0-1-7-6-6-12 0-4 6-6 9-4 5-5 3-5 0-2 1-1 0-24-5-9-5-4-7-3-15 0-1-1 0-31 5-4 6-3 2 0 3-2 4 0 9-4 3-3 3-6 0-3 1-1 0-3 2-3 0-2 3-4 3-1 2-2 2-4 0-2 6-12 0-3 2-5 0-4 1-1 0-27-1-1 0-9-1-1 0-8-1-1 0-2 6-6zM729 182l0-2 2-4 6-6 14 1 1 1 9 0 6 3 6 6-4 5-5 3-2 0-1 1-9 0-1 1-8 0-1 1-5 0-5-5zM681 131l3-5 5-5 1 0 1 1 7 0 1 1 8 0 1 1 7 0 1 1 2 0 5 4 1 5-6 7-5 3-14 2-1 1-3 0-1 1-5 1-6-9 0-2-2-3zM729 108l3-4 5-4 26 0 5 3 5 5 2 5 6 6 4 2 2 0 1 1 6 0 1 1 9 0 1 1 30 0 7 6 1 3-6 13-3 3-26 0-4-2-8-1-1-1-4 0-1-1-6 0-1-1-7 0-1-1-9 0-1-1-4 0-8-5-3-4-1-3-8-8-4-2-2 0-5-5zM569 100l2 1 6 7-4 11-5 6-3-4-5-10 0-4 6-6zM284 30l5 5 0 25-3 5-7 6-26 0-6-7-2-4 1-2 5-5 10-5 5-5 4-9 6-6 2-1z"/>
<path fill="#7fffd4" fill-rule="evenodd" d="M626 955l0 36 44 0 0-12 19-19 24 0 4 5 6 13 0 13 70 0 0-12-5-6-6-4-2 0-4-2-9-1-1-1-5 0-9-9 0-25-3-6-6-6-4-2-10 0-1 1-7 0-1 1-5 0-1 1-2-1-6 0-1-1-7 0-1-1-34 0-5 3-4 4-4 8-5 6-4 3-2 0-5 3-5 5zM89 929l-2-2-13-7-2 0-4-2-3 0-1-1-6 0-5 3-4 4-3 5-3 10-3 6-4 5-9-7-13-7-2 0-1-1-11 0 0 56 26 0 0-13 6-13 3-4 1 0 19 19 0 11 10 0 0-11 4-4 10-5 5-1 6-3 6-6 3-6-1-1 0-3-1-1 0-3-1-1-1-5-4-8-2-2zM955 895l-1 1-8 0-2 3 0 11 1 1 0 4 1 1 1 7 3 8-5 4-8 4-5 1-9 5-6 9 0 37 74 0 0-50-12 0-12-5-7-5 4-10 1-8 1-1 0-4 1-1-4-6zM471 868l-6 3-5 5-3 6 0 50 6 9 7 4 4 0 5-2 4-4 3-8 0-50-1-1 0-5-2-4-4-2zM800 776l-4-3-2 0-1-1-6 0-1-1-27 0-4-2-6-6-2-5-6-6-2-1-5 1-8 9 3 16 3 7 0 27-3 4-5 3-11 2-8-5-5-5 0-24 1-1 1-14 1-1 0-10-2-4-6-6-6-3-14 2-9 4-4 4-2 3 0 2 1 2 7 6 7 10 3 6 0 24-3 6-7 10-13 12-13 6-12 0-1 1-8 0-1 1-2 0-3 3-4 10-4 3-10 5-20 5-6 3-3 3-4 1-3 3 3 4 3 1 4 4 1 3 3 4 0 2 2 3 1 4-3 5-5 4-14 3-5 4-3 7 0 5 1 1 0 12 1 1 0 6 2 4 4 4 4 2 7 1 1 1 1-1 4 0 1-1 8-1 11-4 4-4 0-25 12-9 3-1 2-2 5-2 4-3 4-5 1-3 10-8 5-1 1-1 3 0 1-1 3 0 11-5 11-10 9-5 2 0 4-2 4 1 8 6 5 8 3 3 5 3 10 1 1 1 8 0 1 1 5 0 6-3 5-5 3-6 0-4-1-1 0-7-1-1-1-13-1-1 0-4-1-1-2-11-2-4 0-3 5-5 4-2 9-1 10-5 3-4 3-8 7-7 10-4 7-7 2-4 0-2zM0 699l0 53 12 0 7-3 4-4 3-6 0-30-1-1-1-5-4-3-2 0-1-1zM546 675l-28 0-5 2-5 5-3 7 0 24 3 6 9 8 2 0 1 1 29 0 1 1 2 0 4 4 0 2 1 1 0 26-5 6-6 3-27 0-1 1-5 0-1 1-2 0-4 5 0 5-1 1-1 5-8 9-2 0-9-5-8-7 0-1 18-18 3-1 3-4-7-7-8-4-2 0-7-3-8-1-4-2-6-6 0-8 1-1 0-7 1-1 0-12-3-6-2-2-7-3-6 1-6 4-4 7 1 18 1 1 0 5 1 1 1 10 1 1 0 3 1 1 0 3 1 1 2 7 24 24-5 8 0 2-3 7 0 4-1 1-1 15-1 1 0 8-1 1 2 5 4 5 6 4 2 0 3 2 7 1 8 4 5 5 0 2 1 1 3 1 13 10 10 5 8-1 14-7 8-8 0-2 7-12 0-2 2-4 0-3 1-1 0-4 3-4 6-5 4-2 2 0 6-4 6-8 0-3-3-6 0-2-4-8-5-6 3-7 0-3 2-5 0-4 1-1 0-30-2-4-4-4-4-2-4 0-5-4-2-10 1-1 0-9 1-1 0-8 1-1 0-3-2-4-7-7zM518 825l3 0 8 8 0 3-5 6-4 2-2 0-6-3-5-6 1-3 3-3zM581 664l1 4 9 8 4 0 1 1 8 0 1 1 7 0 1 1 5 0 2-1 5-5 3-7-1-4-4-6-6-5-26 0-6 6zM0 597l0 58 13 0 5-3 5-5 3-6 0-27-4-10-5-5-4-2zM0 529l0 59 12 0 7-3 5-5 4-8 0-3 1-1 0-24-4-8-5-4-2 0-3-2-3 0-1-1zM133 466l-5 4-4 6-4 10 0 3-2 5 0 27-2 3-6 5-2 0-1 1-6 0-5 3-1 5-1 1-1 10-4 9-6 6-1 0-5 6-13 7-6 1-7 3-4 3-4 7 1 14 1 1 0 9 3 7 9 8 7 2 5 5 0 2 1 1-5 7-4 3-7 3-5 5-3 5-1 5-2 3 0 2-6 10-6 5 0 3 3 3 2 0 2 2 8 4 2 0 4 2 3 0 1 1 8 0 5-2 4-5 1-7 3-4 7-6 14 4 11 5 6-4 8-4 2 0 7-4 2 0 1 1 6 0 1 1 7 0 1 1 9 0 7-4 4-6 0-2 1-1 0-27-1-2-7-8-6-3-5-1-3-2-4-4-3-6-9-8-7 2-3 3-1 5-2 4-5 5-5 2-28 0-2-1-5-6 0-4 8-8 16-4 11-6 3-3 4-11 3-16 8-13 16-15 18-7 7-7 2-4 0-27-3-5-5-5-21-9-5-5 0-1zM956 457l-2 0-4 2-7 7-2 4 0 4-1 1-1 5-3 3-5 1-5 3-5 6-2 5 0 8-1 1-1 13 1 2 8 7 4 2 6 1 4 5 1 7-2 3-8 7-28 0-7 3-4 4-2 5 0 8 1 1 0 8 1 1 0 11-2 4-5 5-7 3-5 5-2 4 0 50-5 5-5 3-4 0-2-1-5-5-4-9-6-6-11-5-6-5-2-3 1-1 1-13 1-1 0-12-2-4-5-5-2 0-7-3-7-7-1-2-1-9-4-4-3 0-1-1-8 0-1 1-3 0-15 6-7 6 1 4 2 1 6 7 5 11 0 4-1 2-7 6-4 0-12-5-8-9-6-4-4-1-3-2-10-2-1-1-5 1-3 2-5 5-3 5 0 7 2 5 4 3 10 1 6 3 5 6 0 2-3 7-9 10-1 0-19-19 0-1-8-7-4-7 0-2-3-6 0-25 8-9 26 0 1-1 11-2 3-2 2 0 10-6 6-7 10-5 2 0 4-2 15-1 1-1 6 0 1-1 5 2 2 2 6 3 4 4 1 0 2 2 1 3 3 2 3 0 9-4 1-1 1-7 1-1 0-16 2-5 3-3 4-2 4 0 8-3 4-4 2-7 2-3 6-5 3-1 4-3 6-9 1-4-4-7-3-3-7-4-25 0-6 3-5 5-3 5 0 26-2 5-5 4-3 0-1 1-8 0-1 1-7 0-1 1-5 0-1 1-6-6-4-7 9-10 4-1 3-2 6-6 2-4 0-28-2-4-6-6-7-2-7 4-3 3-3 5 0 2-7 8-8 4-6 5-4 7-3 10-3 4-1 3-10 10-14 7-11 2-14 6-6 5 0 1-20 21-4-1-3-2-2 0-4-2-3 0-1-1-3 0-1-1-9 0-1 1-2 0-2 1-3 4-1 11-1 1 0 7-1 1 0 16 1 1 1 17 2 5 4 5 5 3 2 0 4 2 7 8 0 25 1 1 1 5 4 5 6 3 3 0 4 3 6 7-1 2 0 9-1 1 0 8-1 1 0 4 3 6 4 4 10 4 1-1 4 0 1-1 3 0 1-1 5-1 9-5 14-13 15-8 6-7 1-4 6-11 6-6 4-2 0-1 21-21 6 7 3 8 0 3 1 1-1 1-1 9-2 4-4 4-3 1-6 7-4 8 0 2-2 4 0 3-1 1 0 3-1 1 0 24 5 9 9 6 9-1 4-2 3-3 0-2 2-4 0-5-1-1 0-8-1-1 0-9-1-1 0-3 1-1 0-5 1-1 0-2 2-4 4-4 2-1 24 0 4 4 6 9 3 6 0 49-7 7-4 2-2 0-1 1-5 0-1 1-5 1-4 6 0 3-1 1 1 6 7 15 4 5-5 8 0 2-3 7-2 14-1 2-5 4-5 0-1-1-3 0-1-1-3 0-1-1-3 0-5-2-4 0-1-1-4 2-7 7-4 9 0 23 2 5 5 6 15 8 6 6 0 3 3 7 4 3 4 1 5 5 2 4 0 26 3 6 3 3 5 3 2 0 4 2 8-3 4-4 2-4 0-3 1-1 0-24-1-1-1-8-5-12-2-3-8-7-6-10 0-3-2-5-1-16-1-1 0-5-1-1 1-5 4-4 2 0 1-1 7 0 4 2 7 7 4 8 6 6 3 0 6-6 4-7 0-28 4-10 4-4 4-2 8 9 5 9 0 7-1 1 0 7-1 1 0 8-1 1 1 1 0 4 1 1 0 3 1 1 1 5 3 6 2 2 0 2-23 23 0 2 3 3 12 7 10 2 1 1 4 0 8-5 5-8 0-2 2-3 0-2 7-7 8 0 1-1 2 0 1-2 0-12-1-1 0-4-1-1-1-7-3-7 2-3 8-5 2 0 4-2 4 0 7 6 5 10 5 5 6 3 12 0 0-150-12 0-7-6-3-5-1-7-6-14-2-3-6-5-4-6-5-12 2-5 3-3 4-2 3 0 9-6 2-3 2-7 4-6 5-5 12 0 0-23-15 0-1-1-6 0-1-1-14-1-1-1-2 0-5-6 0-4 8-8 37 0 0-54-42 0-6-5 0-3-1-1 0-25 1-1 0-3 4-4 2 0 1-1 7 0 4 2 2 2 5 12 5 5 6 3 12 0 0-29-13 0-4-2-3-3-1-5-4-7-3-3zM907 676l5 5 4 6 1 4 3 5 7 6 6 2 8 9-1 4-3 5 0 2-2 2-1 3-4 4-4 2-2 3 10 7 6 3 2 0 7 3 7 1 9 9 0 3 1 1 0 3 1 1 2 8 5 9-7 6-12 7-7-8-6-12-5-5-6-3-24 0-6 3-6 6-3 6-1 5-5 10-4 4-4-2-6-7-1-6-1-1 0-52 2-4 6-6 10-5 6-8 0-26 9-10zM929 607l4 0 4 2 3 4 0 2 1 1 0 25-2 5-5 4-10-1-6-3-6-5 0-24 4-4zM0 406l0 58 13 0 8-5 3-3 5-9 0-24-6-10-10-7zM690 333l-6 2-6 6-2 4-1 6-1 1 0 9-1 1 0 8-1 1 1 11 1 1 2 8 5 7-6 11-1 6-1 1 0 4-1 1 0 52 6 12 5 4 5 2 2 0 3-2 5-5 4-7 2-7 8-8 2-1 8 0 1-1 7 0 1-1 6 0 2-1 7-6 4-7 4-4 5-3 2 0 10-4 3-2 7-8 0-8-1-1 0-4-1-1-1-5-4-6-9-5-3 0-1-1-2 0-7-3-3 0-1-1-4 0-1-1-7-1-6-6-2-4-2-13-3-5-7-4-4-1-3-3-1-6-2-4-4-4-4-2-7-1zM665 263l-10 5-5 5-2 4 0 27 6 10 10 5 2 0 7-4 2-2 4-9 0-28-3-5-5-5zM185 216l-2 0-1-1-53 0-1-1-9 0-1-1-8 0-2-1-5 3-5 5-6 14-4 4-4 1-9-8-5-10-9-6-29 0-1-1-9 0-1-1-7 0-1-1-13 0 0 56 12 0 3 2 6 7-1 10-3 6-5 4-12 0 0 46 12 0 1 1 3 0 1 1 5 1 6 4 3 7 5 5 5 1 1 1 10 0 1 1 7 0 6-3 6-6 3-7 8-8 7 0 1 1 3 0 4 2 5 5 0 3-3 7 0 3-1 1-1 8-1 1-1 5-7 6-8 2-7 4-7 9 0 3 1 1 0 8 1 1 1 15 1 1 0 3 1 1 2 8 5 8-5 6-10 6-5 1-5 3-5 7 0 27-1 1 0 8-1 1-1 15 5 12 2 3 7 6 11-10 9-6 7-3 3-5 0-2 2-4 0-3 1-1 0-3 1-1 1-9 1-1 0-23-1-1 0-5-1-1-2-11-3-7 19-19 1 0 5-6 0-25 1-1 0-3 3-8 1-9 2-4 5-5 7-2 7-4 5-6 2-5-3-6-8-7-14-3-4-2-3-3-1-4 2-2 3-6 0-2 2-4 0-3 1-1 0-3 1-1 0-2-3-6-5-5-4-2-31 0-1 1-3 0-1 1-5 1-8 4-2 2-6-5-3-7 0-5-1-2 1-2 9-8 25 0 1-1 2 0 5-3 6-6 2-3 0-2 4-5 4-2 16-1 1-1 7 0 2 1 6 6 5 11 7 5 2 0 1 1 26 0 4-2 7-7 2-4 0-2 1-1 0-9 1-1 0-8 1-1 0-4-2-4-6-6zM445 94l-5 2-5 5-2 5 0 4 2 4 6 6 6 3 6-3 6-6 2-4 0-4-6-8-7-4zM820 0l0 39 2 5 4 4 10 3 7 7 3 7 7 7 7 3 9 0 1 1 14 1 4-2 6-6 3-7 0-27 1-1 0-2 5-5 2 0 1-1 25 0 9 8 3 8 6 6 8 3 5 0 1 1 4 0 1 1 7 1 4 2 12 0 0-56-99 0 0 14-1 2-6 5-5-1-6-6-1-2 0-12zM602 0l0 13 1 1 0 7 1 1 1 14 4 6 7 5 26 0 8-7 1-3 8-8 5-3 5-1 3-2 5-5 2-5 0-13zM0 870l11 0 8 9 8 6 7 2 6 4 4 1 3 2 10 2 1 1 4 0 1-1 10-2 3-2 4-1 4-3 3 3 5 9 4 17 3 3 10 1 6 3 2 0 4 3 3 1 3 3 0 24 6 6 9 5 2 0 4 2 3 0 1 1 4 0 1 1 24 0 1-1 4 0 1-1 6-1 3-2 2 0 8-5 4-4 5-8 0-2 2-3 0-3 2-4 0-4 1-1-1-1 0-6-1-1 0-2-4-5-5-1-1-1-16 1-1 1-9 0-1 1-3-2-7-8 3-6 8-8 3-1 6-6 1-2 0-26 6-12 12-11 0-1-11-12-3-8 0-3-1-1 6-7 4-3 4-1 3-2 4-4 6-11 4-4 4-2 1 1 2 0 5 5 1 5 1 1 0 4 1 1 2 8 3 6 2 2 0 3-4 11-1 9-4 9-8 11-7 6 3 4 7 5 10 4 10 2 4 2 5 6 0 30-1 1 0 4-1 1-1 8-2 4 0 4 3 8 3 3 6 3 12 1 1-1 18-1 1-1 8-1 1-1 5-1 8-4 2-2 10 6 2 0 4 2 3 0 1 1 7 1 4 2 6 6-1 12-1 1 0 8-1 1 0 15 29 0 0-14 5-12 9-8 4-11 7-7 9-3 6-6 4-7 0-2 2-3 1-7 1-1 0-29-2-4-6-6-6-3-2 0-1 1-6 0-1 1-6 0-1 1-4 0-1 1-50-1-2 2-4 10-19 19-19-19 0-1-24-23 0-2 3-7 0-3 2-5 0-4 1-1 0-5 1-1 0-6 1-1 0-7 1-1 0-9 1-1 0-9 1-1 1-12-1-1-1-17-1-1-1-7-7-8-6-3-2 0-6-4-2-4 0-2 2-3 4-4 11-6 4-4 6-12 7-5 1 1 9 1 4 2 4 4 1 2-5 8 0 2-3 7 0 3-1 1 0 56 1 1 0 7 1 1 1 12 8 9 3 1 6 6 4 7 1 5 3 6 5 6 5 3 8-3 2-2 5-2 7-5 13-14 8-3 5 0 6-3 5-4 4-7 0-28-1-1 0-3-1-1-2-8-3-6-3-4-7-6-7-10-3-6 2-10 1-1 0-4 2-5 0-4 1-1-1-1 0-7-1-1-1-16-3-5-6-6-6-3-5-1-10-5-3-4 18-18 9 5 2 0 7 3 3 0 1 1 29 0 5-2 5-5 2-5 0-26 3-6 7-7 7 3 11 8 2 3 23 22 1 3 4 5 5 1 1 1 4 0 1 1 7 0 1 1 6 0 5-3 5-6 2-4 0-2 5-6 5-3 4-1 6-5 3-5 1-5 4-4 2 0 1-1 5 0 6-3 6-6 2-4 0-4-6-8-7-4-2 0-4 2-5 4-4 7-1 8-4 5-2 1-10 1-1 1-11 2-4 2-2 0-2-2-6-3-2 0-7-3-7-1-5-3-4-6 0-6 1-1 0-2 3-3 5-2 5 0 1-1 4 0 8-3 3 0 4-2 5-5-7-6-2 0-4-2-3 0-1-1-3 0-1-1-4 0-1-1-5 0-1-1-2 0-4-4 0-2-1-1 0-6 1-2 6-6 4-1 5-3 5-5 3-7 9-9 5 1 4 4 3 9 5 6 7 4 8 1 1 1 5 1 12 13 7 4 2 0 7 3 3 0 1 1 9 0 1-1 5 0 1-1 6-1 9-6 2-5 0-25 5-8 0-2 2-4 0-3 1-1 0-3 1-1 0-29-1-1 0-4-1-2-4-3-10-1-9 5-4 4-2 4 0 10 1 1 1 15-4 6-5 3-3 0-4-2-6-6 0-5 1-1 0-3 2-5 0-4 2-5-1-16-1-1 0-12 4-10 4-6 2-1 7 3 16 3 14 8 9 10 3 0 3-2 8-9 0-2 3-6 2-10-4-8-5-4-20-6-13-12-9-5-2 0-4-2-3 0-1-1-3 0-1-1-6 0-1-1-2 0-3-3-2-5 7-7 7-4 4-1 4-3 5-7 0-2 1-1-1-2 0-6-1-1 0-6-1-1 0-4-1-1 0-23 1-1 0-8 1-1 0-7 1-1 0-8 1-1 0-2 6-7 5-3 2 0 4-2 4-4 4-10 6-6 10-4 6-5 4-7-1-1-2-8-4-8-5-7 7-6 8-3 3 0 8-4 5-6 3-6 1-5 4-8 4-5 5 5 4 9 0 3 1 1 0 7 1 1 0 7 1 1 0 6 1 1 1 16 1 1 0 5 2 4-3 4 0 2-2 3-1 9-1 1 0 7 3 5 5 5 6 3 5-2 6-5 4-8-1-1 0-3-1-1 0-3-1-1-1-5-5-9 0-2 8-7 8-4 3 0 6 6 1 3 2 2 0 50 1 1 0 3 2 4 3 3 4 2 11 3 12 7 1 2 4 4 1 0 19 19 0 1 6 5 3 4 6 14-1 7-1 1 0 4-1 1 0 3-1 1 0 3-2 5 3 7 4 4 2 0 4 2 3 0 1 1 32 0 5 2 3 5 0 3-6 6-5 3-25 0-1 1-7 1-4 2-3 3-3 7 0 25 5 8 4 3 9 4 23 0 6-3 6-6 4-8 7-7 8-3 6-6 4-14 3-6 5-5 4 4 3 5 0 2 2 4 0 3 4 9 3 3 6 3 10 0 1-1 6 0 1-1 6 0 1-1 2 0 1 1 6 0 1 1 7 0 1 1 19 0 0-53-13 0-8-8 0-27 8-8 13 0 0-53-16 0-1 1-3 0-1 1-5 1-10 6-4-2-5-5-2-4-1-7-1-1 7-8 7-2 7-4 6-8 0-2 1-1 0-49 10-9 11 0 0-53-12 0-2-1-6-6-5-14-5-4-2 0-1-1-10 0-1 1-17 1-6 3-5 5-2 4 0 6 1 1 1 7 2 3 0 2 2 4 12 14 6 14-1 1-1 5-6 11-2 2-17 3-6 3-51 0-5-4-2-4 0-4-1-1 0-13 1-2 8-7 12-1 11-4 4-4 3-5-7-7-4-6-1-4-2-3-1-5-4-7-6-5-4-2-5-1-4-4-1-5-2-4-5-6-7-4-26 0-7-4-4-4-1-2 2-3 0-2 8-16 2-2 0-2-5-9 0-2-2-4 0-3-1-1 0-3-1-1-1-15-1-1 0-6-1-1 0-13-74 0 0 36-7 8-3 2-2 0-8 5-4 7 0 2-3 6-7 8-2-1-12-1-1-1-5 0-1-1-7 0-1 1-6 0-1 1-8 0-1 1-4 0-6 3-7 7 1 4 4 4 12 6 9 10-1 4-9 9-2 1-25 0-7-7-2-4-2-8-3-5-5-4-4-1-5-3-3-4-1-14-1-1 0-10-2-3 0-2-4-6-8-6-5 0-1 1-8 0-1 1-9 0-1 1-4 0-1 1-3 0-1 1-5 1-8 4-2 2-6-8-4-10 2-14 1-1 0-3 2-5 0-14-39 0 0 14 1 1 0 3 2 5 0 4 1 1 0 4 1 1-1 18-1 1 0 7-1 1 1 1 0 7 1 1 1 16 6 9 6 4 4 1 8 8 0 2-6 7-11 6-5 6-2 5 3 6 5 5 7 3 7 6 3 5 0 3 2 4 3 3 6 3 5 1 7 7 2 8 4 5 3 2 6 1 12 5 6 4 5 6 2 0 6-7 4-8 4-16 7-7 4-2 2 0 7-6 4-7 0-2 2-4 7-7 6 3 4 4 3 5 0 26-2 3-5 4-11 4-8 9-1 7 1 1 0 8 1 1 1 11-8 7-7 3-3 0-1 1-3 0-1 1-5 1-6 3-2 2-2 0-6-5-14-6-7 0-1 1-4 0-1 1-3 0-1 1-3 0-5 2-6 0-1-1-7 0-1-1-12-1-3-2-6-7-1-2 0-4-2-5-4-4-7-3-2 0-1 1-7 0-1 1-9 0-1 1-5 0-4 2-7 7-2 4 0 50-5 9-2 2-1 3-4 4-3 5 0 4-1 1 0 10-1 1 0 8-1 1 0 24-2 2-6 3-2 0-7 3-17 1-1 1-10 0-5-2-3-4 0-8-1-1 0-24 1-1 2-17 2-4 2-2 4-2 3 0 7-4 6-6 3-5 0-11-1-1-1-15-3-6-4-4-8-4-7 4-3 3-4 7 0 28-2 5-3 3-5 2-1-1-13-1-1-1-57 0-1-1-5 0-1-1-2 0-3-3-1-6 3-4 9-8 11 1 1 1 8 0 1 1 29 0 7-4 6-8 0-2 1-1-1-1 0-8-1-1-1-15 11-11 2-1 49 0 8-7 4-8 7-7 4-2 2 1 5 0 1 1 7 0 1 1 11 0 8-4 5-6 0-2 1-1 0-6-1-1 0-8-1-1 0-9-3-6-6-6-6-3-6 3-5 5-3 5-1 4-4 6-5 5-8-3-6-4-4-4-1-3 2-2 4-8 2-10 1-1-1-6-7-8-7-3-4-3-5-6-1-11-3-8-6-4-5-1-4 2-5 5-3 6 0 3-2 5 0 28 1 1 0 3 1 1 0 3 1 1 1 5 5 9-6 11 0 3-2 4-1 7-4 7-6 5-4-4-5-8 0-25-3-6-6-6-6-3-7 3-7 6-3 5 0 28 1 1 0 8 1 1 0 8 1 1 0 9 1 1 0 7 1 1 0 6 1 2-7 7-5 3-2 0-6-3-6-7 0-25 1-1 0-3 1-1 0-3 2-5 0-4 2-5 0-27-1-1 0-8-1-1 0-8-1-1 0-4 2-4 8-9 24 4 6-3 6-6 3-6 0-12-1-1 0-35 3-4 5-10 3-2 5 3 6 1 1 1 5 0 1 1 7 0 6-3 4-4 3-6 0-2 9-9 4-1 3-2 7-8 1-2 0-13-246 0 0 16 3 6 5 3 3 0 9 4 7 7-3 5-5 5-5 3-2 0-4 2-3 3-6 15-9 10-7-5-8-4-10-3-7-7-1-16-1-1 0-43-29 0 0 12-2 3-7 6-2 0-8-8-1-2 0-11-55 0 0 42 1 1 0 8 1 1 0 10-6 13-3 4-12 0 0 35 11 0 7 6 6 3 3 0 5 2 59 0 1-1 9 0 1-1 7 0 4 2 8 7 0 27-1 1 0 3-1 1 0 3-2 5-1 11 2 4 5 5 4 2 2 0 1 1 9 0 1-1 6 0 1-1 4 0 1-1 4 0 1-1 5 2 5 0 1 1 5 0 1 1 9 0 9-5 6-8-1-8-1-1-3-15-3-6-4-4-5-3-2 1-23 0-10-9-2-4 1-4 9-18 3-4 7 3 3 0 1 1 3 0 5 2 4 0 1 1 11 0 1 1 8 0 1 1 3 0 6-9 5-4 6-3 9-1 8 5 3 4-1 12-1 1 0 7-1 1 0 28-8 9-10 4-7 7-2 4 1 2 0 8 1 1 1 14 2 5 4 5 9 4 1-1 8 0 1-1 15-1 10 9 1 4-7 7-4 2-26 0-7 3-4 4-3 6 0 27-2 4-3 3-5 2-26 0-5 3-6 7-1 2 0 30 1 1 0 3 1 1 1 5 2 3 0 2 4 6-4 10 0 4-2 5 0 4-7 7-12 6-6 6-3 6 0 49 1 1 0 5 1 1 0 2 3 3 2 0 1 1 6 0 1 1 49 0 3 2 6 7 0 25 3 6 5 5 7 3 6 5 3 4 1 9 1 2 4 3 3 0 1 1 29 0 6-3 5-5 3-6-1-3-8-7-2 0-4-2-5-5-4-7 2-4 7-6 8 0 1 1 8 0 1 1 16 0 1-1 9-1 5-3 5 1 1 1 19 1 7 6 2 3 0 2 3 7 3 3 4 2 5 1 3 2 4 4 2 4-8 9-5 1-4 2-5 5 0 2-2 4 1 26 1 1 5 17 2 3 0 3-4 5-11 4-4 0-4-2-5-6-1-28-5-10-9-11-2 1-7 8-5 12-1 11-1 1-1 15 1 1 2 8 4 8 5 7-2 2-4 8 0 2-2 4 0 3-1 1-1 7-3 4-4 2-9-1-8-4-4-4-5-8-3 0-1 1-8 0-1 1-12 0-6-9-5-16-2-3-6-4-5-1-8-7-2-4 0-3-1-1 0-3-1-1-1-5-4-8-2-2 5-7 7-7 8-5 4-4 0-3-3-3-2 0-10-4-4 0-5-2-6 0-2 1-8 9 1 9 1 1 1 7 3 8-5 4-10 5-5 1-7 4-4 5-2 4 0 3 2 4 6 6 7 3 8 8 1 2 0 25 2 4 7 7 4 2 5 1 3 2 2 0 7 4 3 3-4 4-5 3-2 0-4 2-3 0-9 4-7 7-2 4 0 3 1 1 0 7 1 1 0 9 1 1 0 4 3 5 5 5 6 3 6-3 6-6 5-11 7-7 2 0 6 6 2 5 0 27-2 4-6 4-27 0-1 1-3 0-1 1-3 0-1 1-5 1-9 5-5-6-2-4 0-2-2-3-1-5-3-5-5-5-3-2-4-1-9-9-1-4-7-8-5-3-4 0-1 1-5 1-3 3-3 8 0 27-2 4-7 7-6 3-3 3-3 6-7 7-4 2-26 0-1 1-12 1-10 4-13 14-1 4-2 3 0 3-2 5 0 6 2 4 5 5 4 2 2 0 1 1 31 0 1-1 3 0 1-1 5-1 8-4 13-12 9-6 5-2 5 4 4 7 0 4-7 14-8 8-1 3-3 3-7 3-9 1-5 3-6 6-2 4 0 2-2 3-7 6-4-1-5-5-2-3 0-2-2-4-6-6-5-3-5 0-1 1-5 0-1 1-7 1-6 4-12 0zM252 752l3 0 4 2 4 5-1 5-8 7-5-1-5-6 0-4 2-4zM325 655l10 3 7 4 3 3-19 19-5-7-5-12 2-5 3-3zM463 565l8-7 7 1 5 4 1 2 0 6-4 5-5 1-1 1-3 0-8-7-1-2zM543 486l2 0 5 3 7 7-4 5-7 4-4 0-4-2-2-2-2-6zM578 396l-1 5-2 3-5 4-27 0-3-2-6-7 3-5 6-5 13-1 1-1 7 0 1-1 6 0 2 1 3 3 1 5zM354 362l2 1 3 4 0 2 1 1 0 6-6 13-3 4-2 0-7-8-4-8 0-3 1-2 9-9 2-1zM268 351l1-3 8-7 26 0 9 9-3 5-6 5-26 0zM186 351l4-4 10-5 7-1 3 2 4 5 4 9 4 4 11 6 4 4 6 11 4 4 7 3 7 6 3 5 0 2 3 7 4 4 6 3 2 0 1-1 8 0 1-1 9 0 1-1 17-1 1-1 6 0 1-1 8 1 7 3 4 4 2 5-4 6 0 2-3 6 0 3-1 1-2 10-6 12-3 3-8-5-18-5-7-7-2-4 0-2-3-5-6-6-4-2-7 3-4 4-3 6-1 5-5 6-5 3-9-9 0-8 1-1 0-8 1-1 0-8-2-4-8-7-12-5-8-8-6-8-6-3-7-6-5-7-3-16zM918 294l8 8-2 2-4 8 0 2-2 4 0 3-1 1-3 29-6 6-6 3-6 6-6 15-6 6-5 0-2-1-3-4-3-17-3-6 0-2-4-6 0-4 3-6 4-5 5-3 7-2 6-6 5-10 2-10 1-1 0-3 2-2 1-3 7-7zM261 292l2 5 0 6-2 4-6 7-5 1-1 1-4 0-1 1-7 1-7 3-2-1-3-6-2-2 0-2-3-6 0-5 4-5 5-2 15-1 1-1 5 0 1-1 4 0zM568 283l7 8 6 11 0 15 1 1 0 8-5 5-6 4-4 1-1-1-6-1-6-3-10-10-3 1-3 5 0 2-2 4 0 3-2 5 0 4-1 1 0 4-2 3-9 9-6 3-6 6-3 7-8 12-4 4-6 3-3 4-3 8 0 3-1 1 0 6-1 1 0 30-1 1-1 9-1 1 0 3-2 5 0 5 2 4 0 4 2 5 1 10-8 16-4 4-1 0 0 1-21 21-19-19 0-1-6-5-4-6-5-13 9-9 7-3 5-5 3-5 0-27-4-7-9-6-7 0-5 2-3 5 0 7-3 4-7 6-25 0-9-9 0-2 6-7 4-2 3 0 1-1 3 0 1-1 8-2 9-5 4-5 0-24 3-3 9-5 16-5 6-6 2-5 0-3 1-1 0-4 3-6 7-7 3-7 2-2 1-4 2-3 0-3 1-1 0-3 2-5 0-24-1-1-1-16-1-1 0-5-1-1 6-6 8-4 9 9 3 7 5 5 5 3 2 0 9 9-1 5-5 5-2 0-7 3-6 6-3 6 2 5 3 4 8 5 3 0 8-5 5-8 1-5 4-4 5-2 6 0 5-2 2-3 1-9 1-2 7-7 18-5zM728 179l3-5 6-6 2 0 1 1 6 0 1 1 15 1 6 3 6 6 0 2-5 6-7 3-7 0-1 1-7 0-1 1-6 0-1 1-2 0-8-9-1-2zM679 133l4-8 5-5 6 0 1 1 6 0 1 1 8 0 1 1 7 0 5 2 3 5 0 3-3 5-8 7-16 3-10 4-5-7zM728 108l1-2 8-7 26 0 6 3 5 5 3 6 4 4 5 3 12 1 1 1 8 0 1 1 28 0 6 4 2 4 0 3-6 13-4 5-24 0-10-4-8-1-1-1-4 0-1-1-6 0-1-1-6 0-1-1-8 0-8-3-8-8-1-3-6-6-4-2-5-1-3-3 0-2-1-1zM567 99l5 1 5 5 0 2 1 1-2 8-3 6-4 5-4-3-6-13 0-4zM282 27l3 2 6 7 0 24-1 2-7 8-5 3-24 0-3-2-7-10 0-2 8-8 7-3 6-6 2-3 1-4 9-9z"/>
<path fill="#00ff00" fill-rule="evenodd" d="M627 955l0 36 41 0 0-11 21-21 24 0 4 4 5 10 0 2 2 4 0 12 67 0 0-12-6-6-10-5-8-1-1-1-4 0-10-9-1-2 0-25-3-5-5-5-6-3-1 1-8 0-1 1-6 0-1 1-5 0-1 1-2 0-1-1-5 0-1-1-6 0-1-1-7 0-1-1-25 0-7 4-3 3-7 12-6 5-8 4-3 3zM91 935l-7-8-6-4-4-1-3-2-10-2-1-1-7 4-3 3-4 7-2 8-3 6-5 6-11-8-5-2-4-3-2 0-3-2-11 0 0 55 25 0 0-12 1-1 1-5 5-10 4-4 20 20 0 12 8 0 0-12 5-4 21-9 5-5 3-6-4-14zM951 897l-4 2-2 5 0 5 1 1 0 4 3 8 0 3 3 6-5 4-10 5-5 1-6 3-8 9-1 2 0 36 74 0 0-49-11 0-1-1-3 0-11-5-6-5 3-8 0-3 2-4 1-10-7-8-2-1zM471 869l-7 4-6 8 0 51 2 4 6 6 3 2 5 0 1-1 2 0 6-6 2-5 0-52-1-1-1-5-3-3-5-1-1-1zM800 779l-4-4-4-2-4 0-1-1-28 0-6-3-4-4-2-5-4-5-4-3-3 0-6 5-3 5 2 10 2 4 0 3 3 6 0 26-5 6-4 2-10 1-2 1-4-3-3-1-7-7 0-25 1-1 1-12 1-1 0-7 1-1-3-7-5-5-5-3-14 2-10 5-4 5 0 3 2 1 7 8 8 14 0 24-4 8-9 12-9 8-16 7-9 0-1 1-6 0-1 1-5 1-3 3-2 4 0 2-5 5-10 5-2 0-7 3-10 2-8 4-9 6 1 2 6 4 4 6 5 13-2 4-4 4-6 3-4 0-1 1-5 1-4 3-3 5-1 5 1 1 1 18 1 1 0 3 2 3 5 4 2 0 4 2 12-1 1-1 3 0 11-4 4-4 0-24 4-4 10-7 9-4 6-6 2-4 8-7 6-3 6-1 13-5 11-10 11-6 2 0 4-2 4 1 6 4 5 5 1 3 9 8 10 1 1 1 6 0 1 1 8 0 8-6 4-7-1-13-1-1 0-6-1-1-1-9-1-1-1-7-4-10 1-4 6-5 6-1 1-1 7 0 6-3 5-5 2-4 0-2 2-3 6-6 3-2 2 0 4-2 7-6 3-5zM0 700l0 51 13 0 4-2 6-6 2-4 0-29-1-1 0-3-3-4-5-2zM544 675l-24 0-5 2-5 4-4 7 0 26 3 5 5 5 5 3 34 0 4 3 0 2 1 1 0 29-7 8-5 2-28 0-8 3-3 5 0 3-1 1-1 5-5 7-5 4-12-7-8-7 24-24-1-2-12-8-2 0-7-3-10-2-4-2-4-4-2-4 1-1 0-5 1-1 0-6 1-1 0-7 1-1 0-2-3-7-4-4-5-2-4 0-4 2-5 5-2 4 0 11 1 1 1 12 1 1 0 4 1 1 1 8 1 1 1 6 2 3 0 2 25 25-3 3-4 8 0 2-2 4 0 3-1 1-1 15-1 1 0 8-1 1 0 2 2 4 9 8 5 2 7 1 7 3 16 15 9 5 2 2 7 3 3 0 12-5 6-4 5-5 8-13 0-2 3-6 1-7 3-5 7-6 4-1 5-3 8-9 0-3-4-8 0-2-8-12 0-2 4-10 1-8 1-1 0-29-6-7-4-2-6 0-3-2-1-2 0-20 1-1 0-8 1-1 0-4-2-4-6-6zM518 824l3 0 9 9 0 3-2 3-4 4-4 2-8-3-6-7 1-3 5-5zM582 664l2 5 4 4 4 2 4 0 1 1 9 0 1 1 7 0 1 1 2 0 7-6 3-7-4-7-6-6-25 0-7 7zM0 598l0 56 13 0 5-3 4-4 3-5 0-28-3-8-3-4-6-4zM0 530l0 57 12 0 6-3 6-6 2-4 0-2 2-4 0-24-3-6-4-4-9-4zM133 468l-1 0-4 4-7 14 0 3-2 5 0 26-2 4-5 5-12 3-3 3-2 5-1 9-3 8-12 13-6 3-2 2-2 0-3 2-2 0-13 5-4 4-3 5 1 16 1 1 0 8 3 6 8 7 5 1 4 2 4 5 0 5-3 4-6 5-8 4-3 3-4 7-2 8-3 6-9 10 5 5 9 5 2 0 7 3 4 0 1 1 8-3 3-3 2-4 0-3 3-5 7-6 9 1 1 1 8 2 8 4 2-2 21-10 2 0 1 1 5 0 1 1 7 0 1 1 10 0 4-2 5-5 2-4 0-28-3-5-6-5-4-2-5-1-5-3-6-10-8-7-4 1-3 2-6 12-5 4-5 2-28 0-1-1-2 0-5-6 0-4 1-2 7-7 14-4 3-2 2 0 10-7 3-6 1-6 2-4 1-9 4-8 7-10 10-10 9-5 8-2 6-3 6-6 2-4 0-27-3-5-7-6-10-3-8-4zM957 458l-3 0-4 2-6 6-2 4 0 4-1 1 0 7-4 3-6 0-2 1-7 7-1 5-1 1 0 9-1 1 0 7-1 1 0 3 7 7 6 3 6 0 4 3 0 7 1 1 0 3-2 3-8 7-25 0-1 1-3 0-5 2-5 5-2 4 1 18 1 1 0 9-3 7-6 5-2 0-5 3-5 8 0 49-9 8-2 0-1 1-5-1-6-6-4-9-5-5-11-5-8-7-1-2 1-1 1-12 1-1 0-8 1-1-1-4-5-7-10-4-7-7-2-3 0-4-2-5-2-2-5-2-7 0-1 1-3 0-1 1-5 1-8 4-7 6 8 9 6 14-1 5-8 7-4 0-11-4-14-13-14-6-8-1-5 3-4 4-3 5 0 6 3 6 7 3 4 0 1 1 5 1 7 8-1 5-4 8-8 8-1 0-21-21 0-1-6-5-5-9 0-2-3-7 0-23 1-1 0-2 5-6 4-2 26 0 1-1 3 0 1-1 8-2 9-5 7-7 6-4 4-1 3-2 2 0 4-2 8 0 1-1 6 0 1-1 5 0 1-1 2 0 11 6 13 12 7-3 3-3 2-5 0-4 1-1 0-9 1-1 0-5 2-4 4-3 7-1 7-3 4-4 2-4 0-2 2-3 4-4 6-3 6-6 3-5 1-4-4-7-9-6-26 0-5 3-4 4-3 5 0 26-1 1 0 3-2 3-5 3-20 2-1 1-5 0-1 1-7-7-4-7 9-10 8-4 4-4 3-5 0-28-6-8-5-3-3 0-8 5-7 12-5 5-12 7-5 8-1 5-2 3 0 2-6 10-3 2-3 4-12 7-2 0-7 3-7 1-10 4-6 4-24 26-14-6-3 0-5-2-5 0-1 1-3 0-4 3-3 8-1 13-1 1 0 16 1 1 0 9 1 1 0 6 1 1 0 2 7 8 6 2 9 8 1 2 0 25 1 1 0 2 2 4 4 4 4 2 2 0 5 3 6 7 0 11-1 1-1 14 2 4 6 6 7 3 13-3 10-5 13-12 16-9 7-7 2-7 6-10 4-4 1 0 26-26 5 5 3 6 0 2 2 4 0 11-1 1-1 6-2 3-4 3-2 0-7 8-6 15 0 3-1 1 0 26 3 5 6 6 4 2 8-1 6-4 3-7-1-14-1-1 0-10-1-1 1-1 0-7 1-1 1-5 2-3 4-3 27 0 5 6 5 9 3 4 0 50-1 2-7 6-4 2-8 1-4 2-4 4-1 5-1 1 1 5 5 11 7 9-3 3-6 14 0 3-1 1 0 7-1 1 0 6-4 3-8 0-1-1-3 0-1-1-3 0-1-1-3 0-5-2-4 0-1-1-5 3-5 5-4 8 0 25 2 4 7 7 12 6 7 7 2 7 4 4 5 2 4 4 3 6 0 26 2 4 5 5 3 2 2 0 4 2 4-1 5-3 4-6 0-2 1-1 0-26-1-1-2-10-4-8-12-13-4-8-1-8-1-1-1-15-1-1 0-5-1-1 1-8 4-3 11 0 4 2 7 6 2 5 4 6 6 4 7-7 3-6 0-29 1-1 1-6 5-6 4-2 3 0 6 7 7 12 0 7-1 1 0 6-1 1 0 7-1 1 0 3 1 1 1 7 3 6 0 2 5 8-24 24 4 4 8 5 2 0 3 2 3 0 4 2 5 0 4-2 6-6 3-6 2-7 5-5 5-1 1-1 3 0 3-3 1-2 0-8-1-1 0-3-1-1 0-3-1-1 0-3-1-1-2-8 5-5 6-3 10-2 7 6 3 4 0 2 6 8 7 4 12 0 0-148-12 0-8-7-2-3-1-6-6-15-12-14-5-12 0-5 2-4 4-3 3 0 7-3 7-8 0-2 5-9 6-6 12 0 0-21-15 0-1-1-6 0-1-1-14-1-5-2-3-3 0-2-1-1 0-4 9-9 37 0 0-52-45 0-4-3 0-3-1-1 0-31 1-1 0-3 4-3 11 0 1 1 2 0 5 5 1 6 6 8 7 4 12 0 0-27-13 0-5-2-4-6 0-3-2-4-4-5zM906 675l1 0 6 6 8 15 6 5 9 4 5 6 0 5-4 10-4 6-3 3-4 2 0 1 12 8 2 0 3 2 14 4 8 8 5 17 6 9-7 6-14 8-6-6-8-15-3-3-7-4-24 0-6 3-5 5-3 6-1 5-5 10-4 5-3 0-4-2-5-6-1-6-1-1 0-55 6-8 4-3 7-3 7-8 0-26 3-5 4-4zM930 606l6 1 4 4 2 5 0 25-2 5-6 5-6 0-1-1-6-1-7-4-4-5 0-23 6-5zM0 407l0 56 13 0 5-3 6-6 4-7 0-24-4-7-9-8-2-1zM690 334l-7 3-4 4-3 6 0 3-1 1 0 9-1 1 0 8-1 1 0 7 1 1 0 3 1 1 1 5 4 8 3 3 0 2-4 4-3 6 0 2-2 4 0 4-1 1 0 52 5 10 3 3 7 4 3-1 5-4 5-8 2-7 9-9 3 0 1-1 7 0 1-1 6 0 1-1 5 0 4-2 7-7 1-3 6-6 3-2 2 0 3-2 2 0 7-3 4-3 5-6 0-6-1-1-1-7-3-6-6-6-4-2-5-1-6-3-3 0-1-1-3 0-5-2-4 0-4-2-4-4-2-4-1-6-1-1 0-4-2-5-5-5-4-2-2 0-5-5-1-5-2-4-4-4zM664 264l-9 5-6 8 0 27 4 7 3 3 5 3 5 1 4-2 5-5 3-6 0-29-6-8zM185 217l-2 0-1-1-52 0-1-1-9 0-1-1-8 0-1-1-2 0-6 4-4 5-3 6-1 5-4 5-6 2-9-8-4-8-6-6-4-2-27 0-1-1-10 0-1-1-8 0-1-1-13 0 0 54 12 0 3 2 7 8 0 6-1 1-1 7-5 6-2 1-13 0 0 44 12 0 1 1 4 0 1 1 5 1 5 3 3 3 3 6 5 4 6 1 1 1 7 0 1 1 7 0 5-3 5-5 3-7 9-9 7 0 1 1 7 1 5 4 2 4-4 10 0 3-2 5 0 4-4 8-6 4-10 3-3 2-8 9 3 29 1 1 2 8 4 8 3 3-3 4-6 5-16 7-6 7 0 28-1 1 0 8-1 1 0 8-1 1 0 4 4 10 9 10 11-10 9-5 2-2 3-1 3-3 0-2 4-10 1-7 1-1 0-33-1-1-2-11-3-6 0-2 24-24 0-25 4-10 3-15 5-6 4-2 5-1 8-5 5-8 0-2-3-5-7-6-5-1-1-1-10-1-7-6-1-3 5-7 0-2 2-3 0-2 2-4 0-3 1-1 0-3-3-6-3-3-8-4-24 0-1 1-10 2-3 2-4 1-5 4-3 0-4-3-3-5 0-3-1-1 0-7-1-1 2-3 9-8 25 0 5-2 8-7 2-3 1-4 5-5 2 0 1-1 7 0 1-1 9 0 1-1 6 0 3 2 5 5 5 10 5 5 4 2 27 0 4-2 6-6 3-6 0-9 1-1 0-8 1-1 0-5-3-5-4-4zM445 95l-6 3-2 2-3 6 0 4 3 5 4 4 5 3 2 0 5-3 5-5 3-6-3-5-6-6-4-2zM821 0l0 39 3 6 7 4 3 0 3 2 7 7 3 7 6 6 6 3 9 0 1 1 15 1 8-6 4-8 0-27 2-5 3-3 5-2 25 0 9 8 2 3 0 2 2 4 5 5 7 3 5 0 1 1 9 1 1 1 3 0 5 2 11 0 0-55-98 0 0 14-1 1 0 2-4 4-2 0-1 1-3 0-3-2-7-8 0-12zM604 0l0 19 1 1 1 16 2 3 8 7 25 0 7-5 4-7 7-6 13-6 6-8 0-14zM0 867l12 0 3 5 7 7 6 4 6 3 2 0 3 3 8 4 2 0 4 2 3 0 1 1 6 0 1-1 3 0 1-1 5-1 6-3 5-4 3 3 5 9 0 2 3 6 0 5 2 5 4 3 7 1 1 1 8 2 12 8 0 24 6 6 10 5 10 2 1 1 26 0 1-1 7-1 11-5 9-8 5-9 0-2 3-7 0-3 1-1-1-7-1-1 0-2-3-4-7-3-16 1-1 1-10 0-2-1-8-9 3-6 9-9 3-1 6-7 0-26 1-1 0-2 2-3 0-2 4-6 10-9 0-2-3-2-6-7-4-10 0-5 6-7 12-7 4-5 4-8 4-4 5-3 5 2 4 4 1 7 1 1 0 3 1 1 1 5 2 3 0 2 2 2 3 6-3 6 0 3-1 1 0 3-2 5 0 4-7 13-11 12 0 1 7 6 8 4 10 2 7 3 4 4 2 4 0 28-1 1-1 10-1 1 0 3-2 5 2 8 3 4 5 3 2 0 4 2 8 0 1-1 18-1 1-1 7-1 10-4 5-4 2 0 2 2 10 5 17 4 3 2 5 6-1 12-1 1 0 7-1 1 0 16 27 0 0-13 1-1 0-3 1-1 1-5 3-5 8-7 1-6 3-7 5-5 13-4 5-6 4-8 0-2 3-7 0-4 1-1 0-23-4-7-4-4-5-3-17 2-5 2-23 0-1-1-7 0-1 1-14 0-1 1-4 0-4 8-21 21-45-45 2-3 0-2 2-4 0-3 1-1 0-3 1-1 0-4 1-1 0-4 1-1 0-5 1-1 0-7 1-1 1-19 1-1 0-8 1-1-1-14-1-1 0-9-1-1 0-3-3-5-6-5-4-2-5-1-5-5-1-5 7-8 8-4 5-4 3-4 2-6 5-6 4-2 7 0 1 1 7 1 4 3 3 5-4 5-3 6 0 2-2 4 0 3-1 1 0 54 1 1 0 7 1 1 1 14 6 7 4 2 7 7 4 7 0 2 3 7 8 9 3 1 10-5 9-6 9-9 1-3 3-3 5-2 3 0 1-1 7 0 5-3 6-6 2-4 0-28-1-1 0-3-1-1-1-5-4-8-14-16-6-11 0-3 1-1 0-3 1-1 0-3 1-1 0-3 2-5 0-4 1-1-1-1 0-8-1-1-1-15-3-5-5-5-6-3-10-3-10-7 20-20 2 0 2 2 8 4 2 0 4 2 3 0 1 1 29 0 6-3 4-5 0-2 2-4 0-25 2-4 7-8 3 0 2 2 5 2 7 5 30 30 0 1 4 4 6 1 1 1 4 0 1 1 6 0 1 1 4 0 2-1 7-7 4-10 6-5 5-1 3-2 6-6 1-2 0-5 1-1 0-2 4-3 9 0 6-3 5-5 3-6-2-4-7-7-4-2-2 0-4 2-6 6-3 6 0 9-2 3-2 1-12 1-1 1-7 1-10 4-12-7-2 0-4-2-3 0-1-1-3 0-4-2-4-4-2-4 0-9 1-1 0-2 2-2 11-1 1-1 8-1 11-4 4-4-4-4-8-3-3 0-5-2-4 0-1-1-7 0-1-1-2 0-3-4 0-10 3-5 5-4 2 0 7-4 4-4 7-12 7-5 4 1 4 3 4 11 7 7 7 3 6 0 8 3 3 3 3 6 1 0 4 4 8 4 2 0 7 3 11 0 1-1 7-1 6-3 6-5 1-2 0-25 7-12 0-2 2-4 0-3 1-1 0-30-1-1 0-2-2-4-6-3-6 0-6 3-7 7-2 4 1 1 0 8 1 1 0 9 1 1 0 4-2 4-4 4-4 2-5-1-4-2-4-4-2-4 2-4 0-3 2-5 0-4 2-5-1-18-1-1 0-10 3-6 0-2 3-4 1-3 3-3 2 0 7 3 16 3 16 10 6 7 3 0 8-7 4-8 3-12-3-6-4-4-6-3-7-1-12-5-14-13-13-5-3 0-1-1-11 0-4-3-1-7 8-8 11-5 6-6 3-5-1-10-1-1 0-5-2-5 0-27 1-1 0-5 1-1 0-6 1-1 1-12 6-7 4-3 2 0 4-2 6-6 3-8 7-7 4-2 2 0 5-3 6-6 2-4-1-1-1-5-6-12-5-6 5-5 12-5 4 0 5-3 8-9 2-8 5-10 4-5 7 8 3 8 1 12 1 1 0 7 1 1 1 12 1 1 0 6 1 1 1 8 2 4-5 8 0 2-2 4 0 4-1 1 0 7 3 5 7 6 4 1 4-2 7-7 2-4-1-6-1-1-2-8-6-9 2-4 7-6 9-4 3 0 7 7 3 6 0 50 1 1 0 2 6 7 4 2 3 0 1 1 5 1 11 6 34 34 5 9 0 2 3 6-1 2 0 4-1 1 0 5-1 1 0 3-2 5 0 6 2 4 3 3 10 4 35 0 1 1 2 0 3 3 0 7-10 9-2 1-26 0-1 1-3 0-5 2-4 4-3 6 0 25 2 4 6 6 8 4 24 0 6-3 5-5 4-8 7-7 3-2 2 0 4-2 4-4 2-3 4-15 2-4 6-6 5 5 3 6 0 2 2 4 0 4 3 6 5 5 6 3 1-1 15-1 1-1 5 0 1-1 9 1 1 1 6 0 1 1 8 0 1 1 11 0 0-52-12 0-5-3-5-7 0-25 1-2 9-8 12 0 0-52-12 0-1 1-7 1-6 3-2 0-7 5-3 0-4-2-4-4-3-7 0-5-1-1 2-5 4-4 13-5 7-7 2-4 0-49 1-2 8-8 13 0 0-52-12 0-2-1-7-7-2-4-1-6-5-6-4-2-2 0-1-1-1 1-7 0-1 1-16 1-6 3-3 3-4 8 1 1 0 3 1 1 2 8 4 8 10 11 7 16-1 1-1 5-5 10-4 5-9 1-13 5-43 0-1-1-10 0-1-1-3 0-2-2 0-3-1-1 0-20 3-5 5-4 2 0 1-1 5 0 1-1 4 0 10-4 4-3 3-5-9-11-2-4 0-2-2-3-1-5-5-8-8-5-7-2-2-2-2-4 0-3-5-8-8-5-25 0-8-4-5-5-1-2 1-1 0-2 5-9 0-2 2-2 4-8-3-5 0-2-2-3-1-6-2-4-1-12-1-1 0-6-1-1 0-6-1-1 0-13-72 0 0 36-8 9-9 4-5 5-5 12-8 9-26-4-1 1-7 0-1 1-14 1-7 4-4 4-1 3 6 6 12 6 6 6 2 4 0 3-4 4 0 1-9 7-25 0-6-5-4-7 0-3-4-8-4-4-3-2-2 0-4-2-4-4-1-2 0-6-1-1 0-9-1-1 0-8-1-1 0-2-3-5-9-8-15 1-1 1-9 0-1 1-3 0-1 1-3 0-1 1-5 1-11 6-5-7-5-12 2-14 1-1 0-3 2-5 0-14-37 0 0 14 1 1 0 3 2 5 0 4 1 1 0 5 1 1-1 16-1 1 0 8-1 1 1 1 0 8 1 1 1 15 2 4 6 6 11 6 5 7-2 4-5 5-11 6-4 5-2 5 4 7 8 6 2 0 7 6 3 4 2 7 5 5 4 2 5 1 6 5 5 12 4 4 4 2 11 3 6 3 10 9 5-5 5-9 0-2 3-7 0-4 3-6 3-3 5-3 4-1 6-5 5-9 1-4 2-3 6-5 5 2 9 10 0 27-6 7-4 2-3 0-6 3-7 8-1 2 0 6 1 1 0 7 1 1 1 11-9 8-4 2-3 0-1 1-3 0-1 1-5 1-12 7-6-5-18-8-1 1-8 1-1 1-3 0-1 1-3 0-5 2-6 0-1-1-20-2-3-2-7-8-1-6-2-4-4-4-6-3-2 0-1 1-8 0-1 1-10 0-8 3-6 6-3 6 1 49-2 2-3 7-4 5-1 3-5 6 0 14-1 1 0 33-6 4-2 0-3 2-2 0-7 3-18 1-1 1-12 0-1-1-2 0-3-3 0-8-1-1 0-28 1-1 0-6 1-1 1-10 1-1 0-2 4-4 7-1 8-5 3-3 5-8-1-2 0-8-1-1 0-9-1-1 0-4-6-9-8-4-7 4-4 5-2 4 0 28-1 1-1 5-4 4-5 1-1-1-12-1-1-1-8 0-1-1-59 0-2-1-2-3 0-7 2-3 11-10 11 1 1 1 6 0 1 1 31 0 4-2 6-6 3-5 0-2-1-1-1-15-1-1 0-7 8-9 6-4 49 0 6-5 6-11 5-5 6-3 2 1 5 0 1 1 6 0 1 1 8 0 1 1 1-1 5-1 8-7 2-4-1-16-1-1 0-8-3-6-5-5-6-3-7 4-3 3-6 12-8 9-1-1-3 0-3-2-2 0-6-4-4-4-2-3 4-5 2-4 0-2 2-3 1-6 1-1 0-5-3-5-4-4-7-3-7-6-3-5-1-9-3-7-4-4-5-2-4 2-5 5-2 3 0 2-2 4 0 3-1 1 0 29 1 1 0 3 1 1 1 5 7 12-6 9 0 2-3 7-1 7-3 6-8 7-6-6-4-7 0-25-3-6-5-5-6-3-5 2-3 2-8 9 0 28 1 1 0 9 1 1 0 9 1 1 1 16 1 1 0 5 1 2-4 5-10 6-7-3-7-7 0-26 1-1 0-3 1-1 0-3 1-1 0-3 2-5 0-4 1-1 0-28-1-1-1-18-1-1 1-4 9-12 4 0 1 1 4 0 1 1 4 0 1 1 11 1 5-3 5-5 3-6 0-11-1-1 0-36 7-13 4-5 10 5 8 1 1 1 7 0 6-3 3-3 4-9 8-8 8-4 6-7 1-2 0-13-245 0 0 12 1 1 1 5 2 3 7 4 3 0 6 3 8 8-2 4-8 8-8 3-5 5-5 14-9 10-2 0-12-8-2 0-3-2-7-2-8-8-1-18-1-1 0-41-27 0 0 12-3 4-7 6-3-1-8-8 0-13-54 0 0 42 1 1 1 19-4 8 0 2-2 2-1 3-4 4-11 0 0 31 12 0 1 2 6 5 6 3 6 1 1 1 60 0 1-1 9 0 1-1 6 0 4 2 9 8 0 27-1 1 0 3-1 1 0 3-2 5 0 4-2 5 4 7 7 5 2 0 4 2 1-1 12-1 1-1 4 0 1-1 5-1 1 1 4 0 1 1 4 0 1 1 5 0 1 1 6 0 1 1 8-4 8-9-1-8-1-1-3-15-2-4-6-6-2-1-27 0-9-8-3-5 0-3 4-7 0-2 8-14 0-3 2-5 2 3 6 5 5 1 1 1 3 0 1 1 4 0 1 1 11 0 1 1 11 0 2 1 3-5 7-7 11-4 5 0 7 4 5 6-1 11-1 1 0 7-1 1 0 29-5 7-15 8-6 7-1 4 1 1 0 8 1 1 0 9 1 1 0 4 2 4 5 5 6 3 2 0 1-1 15-1 1-1 7 0 5 3 4 4 3 5 0 2-5 6-8 4-26 0-7 4-5 8 0 27-2 5-6 4-27 0-7 4-5 6-2 4 0 24 1 1 0 4 1 1 2 8 3 6 2 2 1 4-1 1 0 2-2 4 0 3-2 4-1 8-2 3-9 7-4 1-5 3-5 5-3 5 0 51 3 8 5 3 4 0 1 1 50 0 3 2 7 8 0 26 1 2 6 7 8 4 6 5 3 4 0 4 2 5 4 4 2 0 1 1 29 0 5-3 7-8 1-2-1-2-6-6-4-2-2 0-7-7-4-7 3-5 7-6 16 1 1 1 15 0 1-1 8-1 6-3 2-2 6 3 3 0 1 1 7 0 1 1 7 0 3 2 7 8 2 7 5 5 7 2 3 2 5 5 2 4-8 9-4 2-2 0-5 3-2 2-3 6 1 25 1 1 0 3 1 1 1 5 2 3 2 8 2 3-1 4-5 5-5 2-5 0-1 1-4 0-4-2-6-7-1-27-4-8-9-12-7 7-1 3-2 2 0 2-2 3 0 3-1 1-1 10-1 1-1 14 1 1 1 5 10 18-6 10 0 2-2 4 0 3-1 1 0 3-1 1 0 3-1 2-6 5-6 0-11-4-6-5-2-4-3-3-1 1-22 1-4-4-4-7 0-2-3-6 0-3-3-6-6-5-5-1-3-2-5-5-3-5 0-4-1-1-2-8-6-9 0-2 5-7 8-8 7-4 4-4-1-2-5-3-2 0-4-2-3 0-1-1-3 0-1-1-3 0-1-1-5 0-3 2-6 7 0 3 1 1 0 4 1 1 1 7 1 1 1 5 2 3-5 4-10 5-5 1-6 3-6 6-3 5 3 6 5 5 8 4 8 8 1 2 0 25 2 4 6 6 6 3 8 2 12 8-5 5-8 4-7 1-9 4-6 6-2 4 0 3 1 1 0 9 1 1 0 9 1 1 0 2 6 8 8 4 5-3 5-5 4-9 4-6 4-4 5 1 4 4 3 7 0 27-2 5-2 2-5 2-27 0-1 1-10 2-12 7-5-6-5-11 0-3-4-7-4-4-8-4-8-8-2-5-6-7-5-3-4 0-5 2-4 4-2 5 0 27-4 8-4 4-6 3-5 5-3 6-4 4-7 4-28 0-1 1-9 1-8 3-12 11-6 11 0 3-2 5 0 5 4 6 6 4 2 0 4 2 24 0 1-1 3 0 1-1 3 0 1-1 5-1 6-3 13-12 9-6 7-3 7 6 3 7-2 8-6 11-6 6-1 3-5 5-5 1-1 1-10 1-5 3-5 5-4 9-8 7-4-1-6-6-5-10-4-4-5-3-6 0-1 1-8 1-3 2-2 0-5 4-12 0zM252 751l3 0 5 2 4 6-1 5-9 8-6-1-3-3-2-4 0-4 2-5 2-2zM325 654l10 3 12 8-20 20-1 0-5-6-5-12 0-6 1-2 3-3zM464 562l6-4 12 0 3 4 0 12-3 4-5 0-1 1-5 0-3-2-7-8 0-2zM543 485l2 0 8 5 5 6-7 8-2 0-3 2-7-1-4-4-2-5 4-6zM578 388l1 11-3 5-3 3-4 2-26 0-3-2-7-8 3-5 4-4 4-2 13-1 1-1 5 0 1-1 10 0zM357 361l3 3 0 2 1 1 0 8-1 1-1 5-2 3 0 2-2 2-1 3-4 4-3-2-6-7-4-9 0-4 3-4 9-8zM267 350l1-2 9-8 26 0 6 5 3 4 0 3-5 6-5 3-24 0-6-4zM185 350l8-6 10-4 3 0 4 2 4 4 2 4 0 2 4 6 5 4 8 4 5 5 6 11 5 4 8 4 7 8 0 2 2 3 1 4 6 6 4 2 3 0 1-1 8 0 1-1 19-1 1-1 6 0 1-1 6 0 1-1 6 0 11 4 5 6 1 4-4 5-3 6-6 22-6 10-2 2-3-3-8-4-2 0-4-2-3 0-1-1-3 0-3-2-6-6-6-12-4-4-5-3-5 2-6 6-2 4-1 5-3 4-6 5-3 0-9-10 1-15 1-1 0-9-6-8-7-4-2 0-10-6-4-4-2-4-6-6-7-4-7-7-3-5 0-3-1-1 0-3-1-1 0-3-1-1 0-3-1-1zM911 289l8 4 8 8 0 2-5 7 0 2-3 6-1 7-1 1 0 9-1 1-1 15-4 5-9 5-4 4-5 9 0 3-3 6-4 4-2 1-8 0-3-2 0-2-1-1 0-10-1-1-2-10-7-12 2-9 7-8 8-3 3 0 3-2 8-13 0-2 2-4 0-3 1-1 0-3 3-6 4-4 0-1 4-3zM263 291l1 2 0 10-5 8-5 5-12 2-4 2-3 0-3 2-3 0-3-3-1-3-3-4 0-2-3-6 0-5 3-5 3-2 3 0 1-1 15-1 1-1 5 0 1-1 8 0zM858 276l3 2 0 24-1 1 0 4-1 1-2-1 0-4-1-1 0-24zM568 281l6 7 8 13 1 25-7 7-9 4-1-1-3 0-8-3-11-10-1 0-3 3 0 2-4 10 0 3-1 1-2 10-6 7-14 10-3 4-6 12-6 8-6 4-4 4-3 6-1 6-1 1 0 4-1 1 0 30-1 1-1 10-1 1 0 3-2 5 0 4 2 5 0 4 1 1 0 4 1 1 0 5 1 1 0 2-7 16-28 28-27-27-5-9 0-2-3-6 5-7 1 0 4-4 7-3 4-4 4-7 0-23-3-6-9-8-7 0-1 1-2 0-4 4-1 6-3 6-8 7-24 0-7-5 0-1-4-4 0-2 7-8 4-2 4 0 1-1 8-2 6-3 8-6 0-25 3-3 11-6 2 0 4-2 3 0 8-4 3-3 3-6 0-4 1-1 1-7 2-4 5-4 6-9 6-15 0-3 1-1 0-27-1-1 0-7-1-1 0-6-1-1 0-5-1-1 7-7 7-4 2 1 8 8 4 8 4 4 8 4 9 9-1 6-4 4-5 1-6 3-5 5-3 5 0 2 2 4 6 6 5 3 6-3 6-6 2-4 1-5 4-5 2-1 4 0 1-1 4 0 6-4 2-5 0-4 8-9 3-2 3 0 1-1 3 0 1-1 5-1 8-4zM881 252l2-1 2 3-1 1-2 0-1-1zM727 182l1-5 9-10 27 4 7 4 5 6-7 8-4 2-3 0-1 1-7 0-1 1-7 0-1 1-5 0-1 1-2 0-7-7zM679 130l2-4 7-7 6 0 1 1 13 1 1 1 13 0 5 4 0 8-10 11-4 2-4 0-1 1-4 0-4 2-3 0-7 3-4-3-5-9 0-2-2-4zM727 108l1-2 9-8 26 0 6 3 6 6 2 4 9 8 11 1 1 1 7 0 1 1 30 0 1 1 2 0 5 5 1 5-7 16-4 4-25 0-1-1-2 0-7-3-3 0-1-1-4 0-1-1-4 0-1-1-5 0-1-1-5 0-1-1-8 0-1-1-4 0-7-4-4-4-4-7-3-3-5-3-6 0-3-2 0-2-1-1zM570 98l4 2 3 3 2 6-1 1 0 3-4 10-6 6-7-10 0-2-3-6 0-4 9-9zM287 29l3 3 2 4 0 24-4 7-3 3-7 4-24 0-2-1-4-4-5-8 1-3 8-8 8-4 4-4 4-8 8-8 2-1 1 1 3 0z"/>
<path fill="#adff2f" fill-rule="evenodd" d="M629 954l0 37 36 0 0-11 24-24 25 0 6 8 5 12 0 15 61 0 0-12-6-6-6-3-6-1-1-1-4 0-7-4-6-7-1-2 0-25-3-5-8-6-17 2-1 1-4 0-1 1-8-1-1-1-6 0-1-1-6 0-1-1-28 0-9 8-5 9-4 4-9 5zM90 938l-2-3-11-10-6-3-11-3-4 2-6 6-2 3-2 9-5 10-5 6-12-10-11-6-13 0 0 52 24 0 0-14 5-13 6-8 1 0 24 24 0 11 0-11 5-5 7-4 2 0 3-2 6-1 7-4 5-6 1-5zM953 899l-4 3-2 4 0 2 1 1 0 3 1 1 0 3 1 1 2 8 3 6-9 7-17 6-8 7-2 4 0 36 72 0 0-48-14 0-1-1-5-1-10-5-5-5 0-2 2-3 0-2 2-3 0-3 2-4 1-8-7-7zM474 871l-4 0-2 1-7 7-2 4 0 48 3 5 4 4 5 3 8-4 4-6 0-53-2-4-3-3zM786 844l-9 8-3 5 0 26 2 4 5 5 7 4 2 0 6 4 5 5 3 7 4 4 3 1 6 5 3 7 0 27 7 8 6 3 3 0 5-3 5-7 0-28-1-1-1-6-5-10-3-4-9-8-3-6-1-8-1-1 0-6-1-1-1-12-1-1 0-4-1-1 0-4-4-5-3 0-4-2-3 0-1-1-3 0-1-1-3 0-1-1-3 0-1-1zM797 779l-4-3-5-2-28 0-1-1-6-1-5-4-2-4 0-2-6-7-2-1-3 1-6 7 1 1 1 7 1 1 3 11 2 3 0 30-1 1 0 2-2 2-5 1-1 1-16 0-10-6-5-6 0-25 1-1 1-10 1-1 0-6 1-1 0-5-6-8-5-3-9 1-10 4-6 6 0 1 8 9 8 14 0 26-2 4-10 15-7 7-6 4-12 5-11 1-1 1-6 1-4 2-5 5-1 3-8 6-12 5-3 0-1 1-3 0-1 1-5 1-10 5-5 4 6 8 3 6 0 2 3 6 0 5-2 4-6 5-2 0-4 2-3 0-6 3-5 6 0 10 1 1 0 6 1 1 1 8 5 5 6 3 5 0 1-1 7-1 13-5 1-1 0-24 6-6 7-5 11-5 7-7 0-1 11-10 10-4 3 0 3-2 2 0 10-6 6-6 11-6 2 0 7-3 9 5 15 16 4 0 1 1 4 0 1 1 5 0 1 1 7 0 1 1 4-2 8-9 0-8-1-1 0-6-1-1 0-4-1-1 0-4-1-1-1-8-6-15 0-6 1-1 0-2 4-3 5 0 1-1 13 0 4-2 6-6 3-7 7-7 10-5 7-7 1-3zM447 701l-4 2-6 6-2 4 1 10 1 1 0 5 1 1 0 5 1 1 2 11 1 1 2 8 2 3 0 2 25 25-5 6-6 14-3 28 3 5 6 5 4 2 12 2 8 4 11 12 12 8 6 3 7-2 13-8 6-7 8-13 0-2 2-4 0-3 4-7 7-6 10-5 6-7 0-3-5-11-4-6-4-4 0-3 2-3 0-2 3-7 1-7 1-1 0-27-6-7-2-1-1 1-3 0-3 3 0 2-1 1 0 27-2 4-4 4-4 2-4 0-1 1-27 0-5 2-3 3-2 4 0 3-5 9-7 7-9-4-9-6-6-6 0-1 23-23 0-1-3-3-9-5-2 0-7-3-11-2-5-4-2-3-1-4 1-1 0-5 1-1 0-5 1-1 0-5 1-1 0-6-2-4-4-4zM519 822l3 1 4 3 5 6 1 3-1 1 0 2-5 6-4 2-7 0-5-2-5-5-1-2 0-4 6-7zM0 701l0 48 13 0 4-2 4-4 3-6 0-24-3-7-2-2-7-3zM514 680l-4 4-2 4 0 26 3 5 8 6 29 0 5-2 2-3 0-3 1-1 0-10 1-1 0-10 1-1 0-5-1-2-7-7-6-3-25 0zM584 665l2 3 6 5 18 1 1 1 6 0 6-6 2-4-3-5-5-5-25 0-6 6zM0 600l0 53 11 0 8-5 5-8 0-23-4-10-6-6-2-1zM568 580l-5 3-4 4-3 5 0 3 1 1 1 5 5 3 6 0 7-5 4-6-2-5-5-5zM487 568l1 1 0 3 5 4 5 0 1-1 7-1 1-1 5-1 3-2 2 0 3-2-6-3-2 0-7-3-7-1-1-1-6 1-2 2zM0 532l0 53 11 0 7-4 3-3 4-7 0-2 1-1 0-24-2-4-5-5-6-3zM931 487l-4 3-4 5-2 25 5 5 6 3 1-1 2 0 4-5 0-29-3-4zM133 471l-5 5-7 16 0 27-3 7-4 4-10 3-6 5 0 2-2 4 0 5-1 1-1 6-3 6-5 5-1 0-8 7-6 3-16 5-3 2-6 7 1 19 1 1 0 6 3 5 6 5 4 2 7 0 3 2 0 2 1 1 0 7-1 2-6 7-9 5-6 6-2 3-1 6-2 3 0 2-3 6-6 8 0 1 1 0 4 4 8 4 2 0 7 3 6-1 5-4 6-12 5-5 4-2 11 2 1 1 8 2 3 2 2 0 13-7 2 0 8-4 25 4 4-2 6-6 2-4 0-24-2-4-7-7-13-4-5-5-2-6-6-6-5 1-3 3-3 8-5 5-4 2-4 0-1 1-28 0-1-1-4 0-2-1-2-4 0-7 1-2 8-8 3-2 3 0 1-1 8-2 10-6 3-3 6-16 2-10 10-16 13-12 8-4 11-3 6-5 4-6 0-25-5-7-8-5-8-2-3-2-2 0-2-2-3-1zM949 463l-6 8 2 9 5 3 9 0 1 1 4 0 3 4 0 7 2 4 7 7 4 2 11 0 0-25-20 0-3-3-1-10-8-9-4-2zM786 459l-5 3-5 5-4 8-6 6-9 5-5 5-2 3-3 11-4 8-9 10-13 7-10 2-15 6-3 2-28 29-10-5-2 0-7-3-3 0-1-1-7 2-4 4-1 2 0 4-1 1 0 4-1 1-1 13-1 1 1 1 0 9 1 1 0 11 1 1 0 3 5 7 10 5 9 10 0 26 2 4 5 5 4 2 2 0 9 8 2 4-2 25 4 6 8 5 5 0 13-5 6-4 12-11 19-11 4-5 0-3 1-1 1-5 4-7 6-6 3-1 25-25 7 6 4 10 0 4 1 1 0 16-1 1 0 5-4 4-7 1-4 4-5 9 0 2-3 7 0 27 3 5 4 4 4 2 4 0 6-3 3-3 2-4-1-17-1-1 0-22 1-1 0-4 4-4 5 0 1-1 25 0 4 4 8 11 4 8 0 51-2 3-6 5-7 3-6 1-5 3-4 7 0 2 6 13 4 6 4 4-5 6-4 8 0 2-2 4 0 3-1 1 1 6 2 4 5 2 5 0 1 1 2 0 7 4 3 3 4 8 4 4 0 1 3 1 5-5 3-5 0-39 1-1 0-2 3-4 11-2 7 7 6 9 4 8-1 2 0 4-1 1 0 5-1 1-1 14 6 15 5 6 0 1-24 24 12 8 13 4 5-3 6-7 1-5 1-1 0-3 2-4 3-3 4-2 5-1 5-6 0-4-3-8 0-3-4-8 0-4 6-6 7-3 10-2 5 3 5 5 4 8 7 7 2 1 13 0 0-145-13 0-9-8-2-4-3-11-3-6-12-15-6-15 0-7 1-1 0-2 4-3 7 0 7-4 4-5 4-10 7-8 2-1 12 0 0-17-15 0-1-1-5 0-1-1-5 0-1-1-16-1-3-3 0-2-1-1 0-6 6-8 6-4 36 0 0-48-40 0-1 1-2 0-3 3-1 5-1 1 0 3-2 3-9 8-26 0-7 3-4 4-2 3 1 22 1 1-1 9-1 1 0 2-6 6-6 2-6 6 0 49-2 4-6 6-4 2-6 1-4-2-5-5-3-8-4-5-4-3-11-5-8-8 1-7 1-1 0-5 1-1 0-6 1-1-1-7-5-6-9-4-8-8-2-7-4-5-7-3-10 3-3 2-2 0-2 2-3 1-4 4 7 10 0 2 3 5 1 6 1 1-2 6-7 6-4 1-1-1-5 0-1-1-5-1-6-3-4-4 0-1-8-7-14-6-5 0-6 4-5 7 3 8 6 4 8 1 5 2 5 5 0 2 1 1-1 8-4 8-5 6-4 3-2 0-28-28-5-9 0-2-2-3 0-3-1-1 0-27 3-6 2-2 6-3 27 0 1-1 3 0 13-6 10-9 9-5 2 0 7-3 11-1 1-1 6 0 1-1 4 0 1-1 5 1 2 2 5 2 15 11 2-1 6-7 1-6 1-1 0-4 1-1 0-10 1-1 0-2 4-3 7 0 1-1 5-1 6-5 4-8 6-6 7-4 5-6 2-4 0-3-2-3-5-5-5-3-23 0-8 5-5 7 0 32-3 4-3 0-1 1-9 0-1 1-6 0-1 1-5 0-1 1-4 0-2 1-6-5-6-10 0-2 3-5 3-3 12-7 6-8 0-25-2-4-6-6zM907 673l3 2 6 7 5 11 9 8 2 0 6 3 4 5 0 2 1 1-1 7-5 11-6 8 8 6 13 5 3 0 6 4 5 6 2 4 1 6 2 3 0 2 8 12-9 8-6 3-2 2-7 3-8-8-6-12-7-7-2-1-26 0-6 4-4 5-3 10-2 3 0 2-4 7-5 5-2 0-1-1-6 0-4-3-2-5 0-66 3-5 5-5 5-3 4-1 6-6 1-2 0-25 1-1 0-2 8-9zM931 604l9 1 3 4 0 39-3 4-3 0-1 1-7 0-1-1-8-1-9-5-4-5 0-24 8-7zM0 409l0 52 13 0 11-10 2-4 0-24-2-4-11-10zM690 336l-5 2-4 4-3 5 0 2-1 1 0 7-1 1 0 10-1 1 0 8 1 1 1 5 2 3 0 2 4 6 5 5-7 7-4 8-1 6-1 1 0 52 3 6 7 7 4 2 6-5 3-4 4-10 3-4 8-6 5 0 1-1 5 0 1-1 5 0 1-1 5 0 7-5 3-4 1-3 5-5 5-3 2 0 10-4 3-2 6-7 0-3-1-1-2-8-3-5-5-5-10-5-2 0-10-4-7-1-7-3-4-5-1-6-1-1 0-4-5-10-4-3-3-1-8-8-1-4-5-6zM664 266l-6 3-7 8 0 26 6 9 7 4 2 0 8-7 3-7 0-24-2-4-7-7zM376 242l-3 0-3 2-7 8 0 36 2 3 2 0 1 1 7 0 2-1 9-8 3-5 0-2-1-1 0-9-1-1 0-11-2-4zM181 217l-58 0-1-1-10 0-1-1-3 0-3 2-7 8-2 5 0 4-2 4-5 3-6 0-9-8-5-9-4-4-5-3-34 0-1-1-10 0-1-1-14 0 0 51 13 0 9 8 2 4 0 9-1 1 0 8-1 2-4 3-4 0-1 1-13 0 0 38 12 0 1 1 5 0 1 1 6 1 6 3 5 5 1 3 6 5 2 0 4 2 4 0 1 1 7 0 6-4 4-5 2-5 3-4 8-6 11 0 1 1 6 0 5 4 0 2 1 1 0 5-2 3 0 2-4 10 0 3-1 1 0 3-1 1-1 5-5 5-4 2-4 0-7 3-3 2-6 7 0 5 1 1 0 10 1 1 0 9 1 1 2 8 2 3 0 2 2 2 1 3 4 4-3 5-4 4-9 5-10 3-6 7 0 29-1 1-1 20 3 7 7 8 13-10 10-5 4-6 0-2 3-7 1-7 1-1 0-30-1-1 0-3-1-1-3-11-2-3 0-2 24-24 0-26 3-5 0-2 2-4 0-3 1-1 0-3 1-1 0-3 2-5 5-5 4-2 7-1 3-2 7-8 0-3-8-9-4-2-15 0-1-1-3 0-3-3-1-2 0-6 6-8 5-13 0-5-7-8-4-2-27 0-15 6-7 6-2-1-5 0-4-4 0-3-1-1 0-16 1-2 10-9 25 0 6-3 8-8 2-7 5-4 3 0 1-1 10 0 1-1 10 0 1-1 5 2 7 7 3 7 3 4 8 5 24 0 6-4 6-8 1-18 1-1 0-6-1-2-6-6zM447 96l-6 3-3 3-3 6 5 8 6 4 2 0 5-3 6-8-2-5-5-5zM822 0l0 36 1 1 0 2 6 7 8 3 8 8 4 8 4 4 5 3 17 1 1 1 8 0 7-6 4-8 0-32 1-2 3-2 33 0 10 9 3 7 6 6 4 2 11 1 1 1 4 0 5 2 15 0 0-52-96 0 0 16-1 1 0 3-3 3-3 0-1 1-4 0-4-2-7-7-2-4 0-11zM608 35l8 9 25 0 6-5 2-4 7-7 7-4 2 0 4-2 6-6 2-4 0-12-71 0 0 14 1 1 0 9 1 1zM0 860l12 0 5 9 8 8 6 4 5 2 6 5 14 6 3 0 1 1 1-1 3 0 1-1 5-1 8-4 6-5 4 4 6 11 0 2 2 4 0 3 3 7 6 4 2 0 4 2 3 0 11 5 7 6 0 24 9 7 10 4 3 0 1 1 28 0 1-1 6-1 10-5 4-3 6-7 6-13 0-3 1-1-1-7-2-4-3-3-4-2-27 2-8-6-3-5 0-2 4-8 7-7 4-2 4-4 1-2 0-26 1-1 1-5 4-8 7-7 3-1 0-1-6-5-3-5 0-2-2-4 0-4-1-1 0-3 2-4 6-6 8-4 6-6 5-9 5-5 3-2 9 0 2 1 2 3 0 6 1 1 0 4 1 1 2 8 8 13-2 3 0 2-4 10-1 7-4 9-6 9-7 7 5 5 10 5 2 0 4 2 3 0 7 3 3 3 3 6 0 26-1 1 0 6-1 1-1 9-2 5 2 6 6 6 4 2 2 0 1 1 8 0 1-1 10 0 1-1 7 0 1-1 3 0 12-5 7-6 4 4 3 1 4 3 2 0 6 3 12 2 4 2 3 3 2 4 0 6-1 1 0 5-1 1 0 5-1 1 0 19 24 0 0-17 1-1 0-3 4-9 7-6 0-8 1-1 0-6 1-1 0-2 3-3 5-2 9 0 1-1 4 0 4-4 1-3 3-4 0-2 2-3 1-6 1-1 0-26-4-6-7-5-12 1-1 1-8 1-4 2-2 0-1-1-29 0-1 1-5 0-8 3-3 4-23 23-1 0-48-48 4-8 1-6 2-4 0-4 1-1 1-9 1-1 0-5 1-1 0-6 1-1 0-11 1-1 0-9 1-1-1-19-1-1 0-8-2-4-7-7-2-1-4 0-1-1-5 0-3-4 0-9 7-8 9-5 6-6 3-8 2-3 5-4 2 0 1-1 13 0 1 1 5 0 5 4 1 7-5 6-4 8 0 2-3 7 0 33 1 1 0 12 1 1 0 8 1 1 1 18 6 7 5 3 4 4 10 20 7 7 5-2 2-2 9-5 9-8 0-5 3-5 2-1 5 0 1-1 13 0 4-2 5-5 3-5 0-25-1-1-2-8-2-3 0-2-2-2-1-3-7-7 0-1-7-8-6-11 0-4 1-1 0-3 1-1 0-3 1-1 0-3 1-1 0-3 2-5 0-2-1-1 0-10-1-1 0-10-4-7-3-3-5-3-11-3-6-3-7-6 24-24 4 4 3 1 2 2 11 4 3 0 1 1 24 0 6-3 3-3 3-6 0-25 1-1 0-2 3-5 8-8 13 7 9 8 1 0 25 25 1 2 12 5 4 0 1 1 7 1 8-8 0-4 3-7 6-4 7-1 8-8-1-5-2-2-5-2-1 1-4 0-4 2-3 0-1 1-5 1-5 3-2 0-4-4-3-1-2-2-2 0-3-2-2 0-4-2-6-1-7-5-3-7 0-4-2-5-4-2-3 0-1-1-5-1-6-5-3-5 0-2 2-4 5-5 4-2 8-1 3-2 2-4 0-5 2-5 6-6 2 0 6-3 7-7 2-5 3-4 7-6 10 0 3 3 0 2 1 1 0 6 2 4 8 7 2 1 16 0 5 2 2 3 1 7 6 5 8 4 2 0 7 3 8-1 12-5 6-6 0-25 4-4 7-16 0-31-4-6-7-3-8 4-7 8 0 2 1 1 0 9 1 1 0 14-5 7-7 3-1-1-7-1-6-5-2-5 1-5 2-4 1-7 1-1 0-4 1-1 0-10-1-1-1-17 1-1 2-8 5-9 4-4 3 0 3 2 2 0 7 3 10 2 8 4 16 12 6-5 6-11 1-6 1-1-2-5-5-5-6-3-9-1-10-4-10-11-9-5-2 0-7-3-7 0-5 2-2 4-2 10-4 5-6 3-25 0-4-2-6-6-2-3 0-3 2-3 8-7 2 0 1-1 6 0 1-1 6 0 1-1 4 0 1-1 8-1 3-3 2-6 6-6 15-8 6-8 0-5-1-1-1-10-1-1 0-3-2-5 0-4 1-1 0-19 1-1 0-4 1-1 2-18 3-5 5-5 10-5 3-3 5-10 4-5 15-8 6-8-5-12-9-12 1-2 5-5 4-2 2 0 4-2 8-1 4-2 6-6 7-19 7-9 2 1 5 5 4 9 1 10 1 1 0 7 1 1 0 5 1 1 0 4 1 1 0 5 1 1 1 9 1 1 1 5 3 5 0 2-5 5-3 6-3 13 5 7 4 3 5 1 3-2 7-8 0-4-1-1-2-8-3-6-5-6 0-2 7-8 12-6 3 0 1-1 8 7 5 9 0 50 2 4 5 5 4 2 3 0 1 1 5 1 10 5 4 3 28 28 3 4 7 16 0 7-1 1 0 5-1 1-2 14 6 7 7 3 3 0 1 1 23 0 1-1 5 0 4-2 2-4 0-9-7-16-4-4 0-12 1-1 0-4 1-2 5-4 2 0 1-1 11 0 1-1 2 0 3-3 6-11 0-2 2-4 0-3 3-7 9-10 3 0 1 1 5 1 6 3 6 5 4 6-6 7-5 12 0 3-1 1 0 7-1 1-1 18-7 8-5 2-7 7-3 5-1 7-3 6-2 2-6 3-5 1-2 2-2 6-9 8-6 3-26 0-8 4-5 7 0 25 4 6 9 6 26 0 8-6 5-9 8-8 7-3 6-6 2-4 0-5 1-1 0-3 1-1 1-5 8-9 3 1 6 7 3 8 1 9 3 5 9 6 10-1 1-1 5 0 1-1 4 0 1-1 4 0 1 1 4 0 1 1 5 0 1 1 7 0 1 1 14 0 0-48-12 0-5-3-4-4-3-5 0-25 2-3 10-9 12 0 0-48-13 0-1 1-3 0-10 4-2 2-3 1-4 4-2 0-1-1-6 0-5-4-1-2 0-7-1-1 0-10 3-6 6-4 7-1 5-3 5-5 2-4 0-49 6-8 6-4 12 0 0-48-12 0-3-2-9-10-1-5-3-5-8-5-2 1-9 0-1 1-11 0-1 1-2 0-8 7-2 4 0 2 1 1 1 6 3 5 0 2 14 18 5 13 0 4-1 1-2 8-6 10-3 3-6 1-4 2-3 0-11 5-25 0-1-1-5 0-1-1-18-1-1-1-5 0-1-1-4 0-1-1-7-1-1-1 1-1 2 0 4-5 0-2 1-1 0-5 1-1 0-9 2-5 6-6 17-4 6-3 6-6-6-7-4-8 0-2-2-4 0-3-3-5-8-7-10-1-3-3-1-10-7-8-5-3-26 0-7-3-7-8 2-7 9-17-1-5-2-3 0-2-2-4-1-7-1-1-1-13-1-1 0-5-1-1 0-4-1-1 0-14-69 0 0 37-8 9-11 6-3 4-4 10-4 6-4 4-2 1-5 0-1-1-7 0-1-1-6 0-1-1-28 2-9 7 0 2 4 4 12 6 7 7 3 6-3 5-12 11-27 0-6-5-4-7-1-5-3-6-5-5-4-2-5-1-3-3-2-5 0-8-1-1-1-17-4-7-7-6-27 2-1 1-8 2-8 4-3 3-3 1-5-6-6-14 0-9 1-1 0-5 1-1 0-4 1-1 0-4 1-1 0-13-33 0 0 13 1 1 0 4 1 1 0 4 1 1 0 5 1 1 0 17-1 1 0 10-1 1 0 2 1 1 0 10 1 1 0 11 3 5 5 5 10 5 4 4 3 5-3 5-5 5-9 5-5 5-2 3 1 5 7 7 8 4 5 5 5 10 5 5 4 2 5 1 5 4 5 12 5 5 7 3 6 1 10 5 6 5 1 0 0-1 4-4 4-8 0-2 3-7 0-3 3-6 5-4 8-3 6-6 2-3 0-2 3-7 2-3 6-5 3 0 7 4 3 3 5 9 0 24-2 5-4 4-7 3-4 0-6 4-5 7 0 8 1 1 0 6 1 1 1 10-8 8-8 4-3 0-1 1-5 1-3 2-2 0-10 7-12-9-4-1-8-4-1 1-4 0-1 1-11 2-4 2-7 0-1-1-5 0-1-1-13-1-5-3-5-5-3-5 0-2-3-6-8-6-4 0-1 1-9 0-1 1-10 0-5 3-4 4-3 5 0 32 1 1 0 12 1 1 0 3-10 18-4 5 0 10-1 1 0 38-3 3-14 6-8 1-1 1-21 1-1 1-5 0-4 2-2 4 0 5-1 1 0 3-3 6 0 2-6 10-2 2-2 0-3-2-7-8-3-6-1-6-1-1 2-4 10-10 5-3 4-1 3-4 0-23-1-1 0-4 1-1 0-7 1-1 0-6 1-1 0-6 1-1-2-7-2 0-1-1-7 0-1-1-10-1-1-1-6 0-1-1-56 0-6 3-2 4 0 5-4 8-8 8-10 2-1 1-8 2-5 3-5-5-5-9 0-2-3-7 0-6 1-1 0-3 4-3 9 0 1-1 6 0 1-1 5 0 1-1 5 0 1-1 7-1 2-2 1-4 5-8 5-5 6-4 10 1 1 1 5 0 1 1 7 0 1 1 24 0 2-1 7-6 3-5-1-12-1-1 0-5-1-1 0-4-1-2 5-7 11-9 49 0 7-6 3-8 7-7 6-3 2 0 1 1 5 0 1 1 5 0 1 1 11 1 6-3 6-6 1-2 0-9-1-1 0-10-1-1 0-5-4-6-7-5-4 1-7 7-6 12-8 8-5-1-10-4-7-7-2-4 5-6 4-8 0-2 2-4 0-3 1-1-2-4-7-7-8-4-5-5-3-5-1-8-3-6-3-3-5-2-5 4-6 12 0 31 1 1 1 5 2 3 0 2 7 10-3 3-5 9 0 2-2 3-1 7-4 9-6 6-3 1-8-8-4-8 0-25-4-6-5-4-4-1-7 4-6 7 0 30 1 1 1 21 1 1 0 6 1 1 0 5 1 1 1 8-7 7-9 5-9-4-7-8 0-27 2-4 0-3 1-1 0-3 2-5 0-4 1-1 0-29-1-1-1-21 3-6 9-10 1 1 3 0 1 1 3 0 5 2 12 1 8-6 3-5 0-12-1-1 0-10-1-1 0-25 12-21 3-2 5 5 6 3 10 2 1 1 4-1 7-6 2-3 0-2 7-9 9-5 5-4 4-6 0-12-242 0 0 13 2 4 5 5 7 2 7 4 6 6 1 3-4 7-4 4-7 4-2 0-5 4-2 3-4 13-2 3-10 9-10-8-8-4-7-2-6-5-4-6-1-21-1-1 0-37-24 0 0 13-7 8-5 3-6-4-6-8 0-12-50 0 0 44 1 1 0 11 1 1 0 4-6 15-7 8-11 0 0 12 11 0 1 1 0 5 1 1 0 6 3 4 5 4 8 4 6 1 1 1 48 0 1-1 10 0 1-1 10 0 2-1 8 4 4 3 4 5 0 28-2 4 0 3-1 1 0 3-2 5 0 4-1 1 3 5 8 6 6 1 1-1 5 0 1-1 4 0 1-1 4 0 4-2 3 0 1 1 3 0 5 2 15 2 8-5 5-6 0-4-1-1 0-3-1-1 0-3-1-1 0-3-1-1 0-3-1-1-1-5-7-7-19 0-1 1-5 0-5-2-4-3-6-8-1-6 11-22 1-8 1-1 0-4 1-1 0-4 2-4 4 7 10 10 10 5 24 0 2-4 4-4 10-4 5 0 1-1 3 0 9 4 6 7 0 6-1 1-1 11-1 1 0 30-3 6-5 5-11 5-7 7-1 5 1 1 0 9 1 1 0 10 4 7 7 5 13-1 1-1 5 0 1-1 4 0 2-1 6 3 7 7 3 6-3 5-8 6-2 0-4 2-25 0-4 2-4 4-3 6 0 31-3 4-2 0-1 1-31 0-3 2-8 9 0 27 1 1 2 8 4 8 3 3 1 4-4 9 0 3-2 4-1 7-7 7-15 8-6 8 0 51 2 5 5 4 2 0 1 1 50 0 4 2 8 9 0 25 2 4 7 7 8 4 5 5 3 5 0 3 4 6 7 3 25-2 2-1 8-9-4-5-6-3-6-5-6-10 0-3 7-8 5-3 2 0 1 1 10 0 1 1 9 0 1 1 1-1 4 0 1-1 6-1 6-3 6-7 6 6 4 2 8 1 1 1 5 0 5 3 5 5 5 10 4 4 10 5 5 5 3 5-9 10-10 5-3 3-2 4 0 13 1 1 1 12 1 1 1 5 2 3 2 8 3 6 0 6-1 1 0 2-3 3-2 0-1 1-19 0-4-2-3-3-3-6-1-23-5-11-6-8-7 9-4 10-1 10-1 1 0 6-1 1 0 5 5 12 7 9 1 3-4 5-4 8 0 2-2 4 0 3-1 1 0 8-3 4-3 0-1 1-7 0-1-1-4 0-1-1-3 0-3-2-2 0-6-5-2-4-25 0-2-2-7-12 0-2-5-13-4-4-10-5-6-6-2-4-3-11-3-6-5-6 0-2 4-7 11-11 9-5-8-4-6-1-4-2-3 0-1-1-5 1-5 5-1 3 1 1 0 4 2 4 0 3 5 11-9 7-4 2-11 3-5 3-5 5-2 5 5 7 13 8 6 8 0 25 3 5 7 6 11 3 8 4 7 6-6 7-10 4-8 1-6 3-7 7-1 2 0 5 1 1 1 18 2 4 7 7 4 1 8-6 7-14 8-8 4 1 3 2 4 6 1 6 1 1 0 25-1 1 0 7-3 3-5 0-1 1-30 0-1 1-5 1-3 2-2 0-10 7-6-7-4-8 0-2-2-4 0-3-4-6-5-4-9-5-3-3-8-13-8-5-6 3-3 3-2 4 0 26-4 10-5 5-5 2-6 6-1 3-5 6-10 5-28 0-1 1-3 0-1 1-3 0-3 2-2 0-16 15-6 14 0 4 3 5 7 5 2 0 1 1 27 0 15-6 7-5 11-10 13-7 2 0 4 2 4 4 2 5 0 4 1 1-1 1-2 8-2 3 0 2-2 2-1 3-5 5 0 5-1 1 0 2-3 3-2 0-1 1-16 0-7 4-5 6-3 8-5 5-5 2-5-2-5-5-2-4 0-2-4-6-7-5-6 0-1 1-3 0-1 1-5 1-5 3-5 5-11 0zM375 905l2 2 0 2-1 1 0 6-1 1-1-1 0-5-1-1 0-3zM349 786l1-1 1 1-1 1zM147 786l1-1 9 0 1 1-1 1-9 0zM262 750l3 3 0 4 1 1 0 4-2 3-10 9-9-1-3-3 0-5-1-1 1-11 3-3 7 0 1-1 2 1zM318 653l11 0 1 1 5 1 8 4 7 6-24 24-5-6-5-10-1-6-1-1 0-8zM399 567l1 1 0 7-2 3-1-1 0-9zM560 495l0 2-2 4-4 4-5 2-3 0-1 1-10-1-3-4 0-8 1-2 6-7 5-3 9 5zM930 374l1-1 1 2-1 1zM266 349l2-4 4-4 5-3 25 0 5 3 4 4 3 6-2 4-8 7-2 0-1 1-23 0-9-7-3-4zM182 350l7-6 15-6 2 0 6 3 4 5 3 8 6 6 9 5 5 5 5 9 6 6 8 4 5 5 6 12 8 7 4 0 1-1 10 0 1-1 10 0 1-1 7 0 1-1 5 0 1-1 4 0 1-1 16 0 1 1 4 0 2 1 3 4 1 10-5 6-4 8-5 19-6 11-4 4-6-5-8-4-2 0-4-2-3 0-4-2-8-8-4-9-9-8-3 1-7 7-3 8-6 7-4 3-2 0-5-3-7-9 1-2 1-21 1-1-8-9-15-7-15-16-4-2-8-7-5-7-1-7-1-1-3-11-2-3zM858 273l1 0 4 4 0 36-1 1 0 5-3 4-2-2 0-4-1-1 0-4-1-1 0-4-1-1 0-29zM568 278l8 9 8 14 0 8 1 1 0 17-9 8-6 3-6 0-1-1-7-1-6-3-6-7-3 5 0 2-3 7-1 7-4 8-9 9-7 4-4 4-10 18-14 15-3 6-1 6-1 1 0 4-1 1 0 30-1 1 0 5-1 1 0 4-1 1 0 4-1 1 0 3 2 5 0 4 1 1 0 5 1 1 0 10-3 6 0 2-6 10-26 26-1 0-29-29-7-16 0-3 3-5 4-4 8-4 9-10 0-25-2-4-6-6-4-2-4 1-6 5-4 10-9 8-26 0-5-3-4-4-3-5 1-1 0-2 6-7 4-2 3 0 1-1 8-2 11-6 3-3 0-24 7-6 8-4 2 0 13-5 3-2 5-7 0-11 1-1 0-6 4-5 5-1 5-6 4-8 0-2 3-7 0-30-1-1 0-6-1-1 0-5-1-1 0-4-1-2 6-7 6-4 6-1 7 6 3 4 2 5 7 7 9 5 6 7 1 5-1 1 0 4-1 2-4 2-7 0-8 6-3 5 0 3 2 3 4 4 5 3 6-3 4-4 3-5 0-8 3-3 2-1 8 0 5-2 4-4 0-2 3-7 8-8 4-2 3 0 1-1 5-1 8-4zM883 246l7 7-1 2-5 3-2 0-4-4 2-5zM725 181l3-8 9-8 8 1 1 1 6 0 1 1 11 1 9 5 5 7-2 5-5 5-2 0-4 2-13 1-1 1-5 0-1 1-4 0-1 1-5-1-7-7zM677 131l3-7 8-7 6 0 1 1 11 1 1 1 11 0 1-1 2 0 3-3 0-2 1-1 0-5 2-3 10-9 25 0 1 1 5 1 8 7 4 7 6 5 10 1 1 1 6 0 1 1 33 0 1 1 5 0 3 4 0 10-1 1 0 3-2 3 0 2-2 4-6 8-27 0-5-3-2 0-4-2-3 0-1-1-3 0-1-1-3 0-1-1-5 0-1-1-11-1-1-1-6 0-10-5-3-3-4-7-6-5-4 0-3 2-2 7-3 6-8 7-5 2-7 1-4 2-3 0-3 2-7 2-4-4-5-9 0-2-2-3zM568 96l8 2 4 6 0 9-1 1 0 3-1 1-1 5-8 9-1 0-6-7-6-15 0-2 3-5zM290 28l3 4 0 2 1 1 0 26-3 6-6 6-6 3-26 0-8-8-4-8 4-6 6-5 9-5 4-5 5-9 8-6 5 0z"/>
<path fill="#ffff00" fill-rule="evenodd" d="M0 941l0 50 22 0 0-13 1-1 0-3 6-14 4-5-10-8-11-6zM921 954l0 37 70 0 0-46-12 0-1-1-7-1-11-5-5-4-5 4-8 4-12 3-3 2zM630 955l0 36 32 0 0-12 27-27 11 0 1-1 8 0 1-1 3 0 2 2 9 16 0 2 2 4 0 3 1 1 0 13 56 0 0-12-2-2-8-5-14-4-3-2-7-8-1-2 0-25-1-2-9-8-12 1-1 1-4 0-1 1-4 0-1 1-4 0-1-1-8-1-1-1-5 0-1-1-31 0-8 7-4 8-6 6-8 4zM59 921l-8 7-2 4 0 3-1 1-2 8-3 6-4 5 21 21 1 0 3-3 10-5 12-3 9-10-1-1-1-5-2-3 0-2-3-4-1-3-8-8-11-6-2 0-4-2zM956 901l-2 0-5 6 1 1 2 10 2 3 1 4 3-6 0-2 2-4 0-3 1-1 0-3zM471 872l-3 2-7 8 0 50 6 7 3 2 3 0 7-6 2-4 0-48-2-5-4-4zM425 873l-2-1-2 1-5 0-1 1-11 2-4 2-9 0-1-1-20 0-1 1-3 0-1 1-5 1-4 3-5 2-22 22 0 24 5 4 8 4 2 0 4 2 3 0 1 1 7 0 1 1 2 0 4 3 2 4 0 4 1 1-2 5-1 10-1 1 0 5-1 1 0 14 21 0 0-17 1-1 0-5 4-10 3-3-1-6-4-7-4-3-10-3-2-3 0-3-1-1 0-17-1-1 0-4 2-5 3-3 3 2 6 6 0 3 3 7 5 5 4 2 10 2 1 1 16 1 4-5 6-14 0-27zM786 846l-7 6-4 7 0 23 6 8 4 3 2 0 8 4 9 9 1 3 4 5 5 1 5 4 2 4 0 4 1 1 0 28 4 5 8 5 4-2 5-5 2-4 0-24-1-1-2-8-5-9-4-4-3-1-5-5-2-4-1-7-1-1 0-7-1-1-1-12-1-1-1-9-2-5-5-4-3 0-4-2-3 0-1-1-3 0-1-1-3 0-1-1zM834 813l-5 7-2 4 0 2-2 3 0 2-1 1 1 7 6 5 10 2 5 3 4 4 3 7 5 6 6-7 0-33-1-1-1-6-4-4-4 0-1-1-9 0-1-1zM991 789l-12 0-11 9-13 6-9-8-1-3-2-2 0-2-3-6-9-8-24 0-9 8-2 3-2 10-5 10-3 3 0 2 5 5 4 6 6 12-1 2 0 4-1 1 0 4-1 1-1 11-1 1 1 1 0 3 8 16 7 5-3 2-2 0-21 21 2 3 11 6 2 0 4 2 3 0 6-5 3-4 1-11 2-4 6-4 5 0 3-2 3-4-3-12-6-13 2-4 5-5 4-2 8-1 1-1 9 0 10 9 4 8 5 5 3 2 12 0zM737 756l-5 5 0 4 1 1 0 3 1 1 1 5 5 9 0 26 1 1 0 2 1 2 5 4 4 0 1 1 11 0 7-6 6-11 6-5 10-5 5-5 1-3-6-7-7-3-31 0-1-1-3 0-4-3-2-4 0-4-1-2-5-5zM691 752l-3-1-1 1-6 1-3 2-2 0-8 6 9 12 6 12 0 26-5 10-7 10-11 10-14 6-8 1-1 1-3 0-1 1-5 1-5 3-3 4-8 7-8 4-21 6-6 3-6 5 3 3 4 7 4 15-1 1-1 5-5 5-6 1-8 3-4 3-3 4 0 6 1 1 0 5 1 1 1 8 2 5 8 5 3 0 1-1 3 0 13-5 0-2 1-1 0-8 1-1 0-12 4-4 1 0 8-7 16-8 4-4 2-4 9-8 4-2 11-3 10-5 10-9 9-5 2 0 4-2 3 0 1-1 6 1 7 4 6 6 2 4 4 4 5 1 1 1 9 1 1 1 5 0 1 1 4 0 3-2 7-8-5-28-1-1-3-11-5-9-1-5-6-4-14-1-1-1-2 0-7-4-8-9 0-26 1-1 1-8 1-1 1-13zM276 751l-1 1-3 0-3 2-2 9-6 8-8 5-5 0-2 1-2 3-1 7 1 1 1 5 5 10 6 7 0 2-4 7 0 2-4 10 0 3-6 12-4 6-4 4-1 3 5 4 6 3 17 5 4 4 2 4 0 34-1 1 0 6-1 1 0 4-1 1 0 4-1 1 3 5 4 4 6 3 24-1 1-1 4 0 3-2 2 0 8-4 5-4 0-24-48-48 0-2 3-4 0-2 2-3 0-2 2-4 0-3 2-4 0-4 1-1 1-9 1-1 0-5 1-1 1-21 1-1 0-12-1-1 0-12-1-1 0-5-7-8-3-2zM569 732l-3 0-4 5 0 28-2 5-3 3-5 2-32 0-6 3-4 5-1 5-5 9-8 7-4-1-15-9-5-5-2 1-6 10 0 2-2 3-1 10-1 1 0 12-1 1 0 5 7 8 6 3 12 1 9 4 5 6 0 2 4 4 10 7 8 4 3-2 2 0 10-6 6-6 9-12 4-13 3-5 6-6 10-5 7-7 0-3-6-12-9-10 5-10 0-2 3-7 0-3 1-1 0-26zM509 824l7-3 5 0 4 2 5 5 3 5 0 5-2 4-4 4-5 2-8 0-1-1-4 0-2-1-4-4 0-2-1-1 0-7zM446 703l-3 2-6 7 0 6 1 1 0 5 1 1 0 4 1 1 0 4 1 1 1 7 1 1 3 11 3 4 1 4 21 21 21-21 0-1-9-6-2 0-3-2-2 0-4-2-8 0-1-1-3 0-5-4-1-5-1-1 0-4 1-1 1-9 1-1 0-4 1-1 0-8-7-8zM132 703l-4 2-4 4-2 4 0 27-1 1 0 3-5 8-5 3-2 0-4 3-3 4-2 5-5 5-4 2-2 0-1 1-28 0-1 1-3 0-1 1-5 1-9 5-12 13-6 14 6 7 5 3 29 0 6-3 2 0 4-3 3-1 8-8 11-8 10-5 5 0 1 1 2 0 2 1 4 5 0 4 1 1 0 8-1 1 0 3-1 1-1 5-4 8-4 5 3 13 4 4 8 3 6 0 1 1 26 0 2 3-3 2-50 0-3-3 0-3-3-4-5-2-13-1-9 8-4 11-5 4-2 0-1 1-6 0-6-3-4-6-2-7-9-8-9 2-8 4-4 4 0 2 4 6 10 10 6 3 5 5 6 4 13 5 11-3 15-10 7 9 5 12 1 7 2 4 3 3 7 3 3 0 1 1 8 2 7 4 3 3 6 3 0 2-1 1 0 6-1 1 0 15 12 7 2 0 7 3 24 0 1-1 8-2 9-5 11-12 6-15-4-8-6-4-23 1-1 1-4-1-9-8-2-5 6-12 4-4 4-2 6-6 0-27 1-1 0-3 4-10 2-3 6-5-3-2-3-5 0-3-2-5 0-7-1-2 3-5 7-7 8-4 5-5 4-8 7-7 4-2 7-1 2-2 1-5 1-1 0-3-1-1-1-5-3-2-3 0-1-1-26 0-15 6-9 8-4-4-6-10 0-2-2-3-1-7-2-4-7-7-8-4-5-5-4-8-7-7zM127 786l6-7 1 1 5 0 1 1 15 0 4 2 2 3-4 4-25-1zM0 703l0 45 12 0 2-1 8-9 0-26-3-5-6-4zM787 692l-3 2-4 6-4 10 0 3-1 1 0 23 4 6 7 5 8-4 4-6-1-20-1-1 0-12-1-1 0-4-2-5zM514 682l-5 7 0 24 4 6 7 5 24 0 7-3 3-5 0-5 1-1 0-13 1-1 0-7-1-2-5-5-5-3-26 0zM350 668l-21 21 0 24-4 4-4 6-5 12 0 35 1 1 0 8 1 1 0 5 1 1 1 24 16 15 4 8 0 2 6 10 3 3 3 0 9-5 11-9 0-24 2-2 4 3 1 4 3 3 2 1 4 0 1 1 11 0 7-6 2-3 0-27-6-14-13-15-9-16 0-5 2-4 0-3 1-1 0-3 1-1 0-3 2-5 0-4-1-1 0-11-1-1 0-8-1-2-7-7-4-2-3 0-1-1-5-1-3-2-2 0zM343 786l6-4 2 0 3 3 0 2-3 3-2 0zM586 665l6 6 11 0 1 1 13 0 5-6-1-4-5-5-23 0zM167 640l-1-2-9-8-7 0-1-1-5-1-4-4-1-7-2-3-4-3-3 1-2 2-2 4 0 4-2 4-5 3-3 0-1 1-32 0-1 1-3 0-4 3-1 7-3 5-6 6-8 4-6 6-2 4 0 3-1 1-2 8-7 11 3 3 3 1 4 3 2 0 6 3 5 0 6-5 5-10 6-6 5-3 15 3 1 1 5 1 3 2 11-6 2 0 10-5 4 0 1 1 4 0 1 1 4 0 1 1 5 0 1 1 6 0 3-2 6-7zM132 636l3 2 0 4-2 3-1 0-2-3 0-3zM991 611l-11 0-1-1-4 0-1-1-9-1-1-1-5 0-1-1-9 1-3 3 0 2-1 1 0 32 2 4 5 2 4 0 2-1 6-6 3-6 0-2 3-5 8-8 2-1 11 0zM0 602l0 49 12 0 2-1 8-9 0-25-3-7-7-7zM569 582l-6 3-5 6 0 4 2 4 8 4 2-1 8-9 0-2-2-3zM205 571l-3 3-10 5-12 3-7 6-2 3 0 2 7 8 9 5 7 8 1 2 0 25 4 6 6 4 14 4 7 4 3 3 6 3-9 9-7 3-15 2-5 3-5 5-1 2 0 7 1 1 0 12 1 1 0 4 1 2 9 8 10-9 4-10 7-8 3-2 3 0 1 1 5 1 3 3 1 6 1 1 0 33 1 1 0 2 1 2 3 2 2 0 1 1 5 0 5-2 2-2 1-7 2-4 7-7 8-4 5-5 2-3 2-8 4-4 8-3 10 0 1-1 6-1 3-3 1-5-4-5-3-6 0-2-3-7 0-3-1-1 0-5-3-4-2-1-4 0-1-1-8 0-1-1-4 0-7-3-3-2-1-2-24 0-10-15 0-2-3-6 0-3-1-1-1-5-3-4-4-3-7-3-7-7-3-5 0-3-3-6 0-2zM248 689l5-5 25 0 3 5-3 3-26 0zM490 570l3 3 4 1 1-1 3 0 13-5-10-4-3 0-1-1-5-1-4 3zM326 556l-6 8-2 5 0 3-2 5 0 4-1 1 0 5-1 1 0 6 6 12 9 10 0 1-6 6-1 3-2 2 0 2-2 3 0 2-2 4 0 6 2 4 5 2 5 0 1 1 11 3 7 4 3 3 22-22 0-24-2-5-4-3-2 0-1-1-6 0-1-1-8 0-5-2-4-4-2-4 0-4-1-1 0-10-1-1-1-12zM224 544l-13-5-6-1-6 6 2 5 0 3 4 10 4-6 8-8zM0 534l0 48 13 0 6-5 5-8 0-25-7-8-4-2zM933 490l-3 0-5 5 0 10-1 1 0 14 7 6 2-1 4-5 0-25zM970 489l-1 7 7 8 3 2 12 0 0-21-14 0-1 1-3 0zM862 487l-3-2-25 0-9 8-1 2 0 28 2 5 5 2 4 0 6-3 4-4 5-9 6-5 4-2 6-6 3-6zM159 486l-14-4-8-4-3-3-2 0-2 2-5 9 0 2-3 7 0 27-1 1 0 2-6 7-9 2-6 5-2 4 0 5-1 1-1 10-3 6-4 4-5 2-8 6-2 0-3 2-2 0-4 2-3 0-7 3-7 7 1 24 1 1 0 2 8 8 2 1 6-1 4-5 0-4 2-4 6-7 7-4 3 0 3-2 2 0 8-4 5-4 0-2 3-4 1-5 2-3 2-10 6-12 12-15 11-7 16-5 7-7 1-2 0-25zM955 461l-9 8-1 4 1 1 0 2 4 4 6 2 1-1 4 0 2-1 2-3 0-4 1-1-3-5-4-4zM633 568l-1 6-1 1 0 4-1 1 0 4-1 1 0 6-1 1 1 2 1 22 2 4 5 5 8 4 8 8 1 2 0 25 3 6 2 2 10 5 9 10 1 4-1 1-1 22 2 3 6 5 4 2 15-6 7-5 8-8 6-4 13-6 5-5 4-15 4-6 6-5 5-2 21-21 2-3 2 0 4 2 6 8 1 7 1 1 0 7 1 1 0 10 1 1 0 4 2 4 5 3 26 0 10 11 3 6 2 2 3 7 0 52-7 8-17 6-6 7 0 2 2 3 0 2 2 4 8 11 10 0 1-1 8 0 1-1 4 0 2-1 2-3 1-6 1-1 0-56 1-1 0-3 4-7 4-4 10-4 6-6 0-26 1-1 0-2 2-4 5-5 8-4 4 1 7 7 3 5 0 2 3 6 6 6 11 4 4 4 0 2 2 4-1 6-5 13-5 6 6 5 8 4 6 1 7 4 7 8 3 10 5 10 4 4 11 0 0-56-12 0-4-2-7-7-2-3 0-2-5-13-2-2-1-3-7-7-6-10 0-2-3-7 0-3-1-1 0-5-3-4-2-1-4 0-1-1-8 0-1-1-7-1-4-2-10-10 0-23 2-2 5-2 3-3 8-4 2 0 7-3 4 0 1-1 5-1 3-4 0-4 3-6 6-6 6-3 35 0 0-44-39 0-6 5 0 2-3 7-8 8-4 2-26 0-4 2-5 5-1 2 0 12 1 1 0 20-1 1 0 3-3 4-4 2-5 0-3 2-3 4 0 49-2 4-7 7-2 0-3 2-3 0-1 1-5-1-4-2-4-5-2-8-7-7-11-5-8-7-2-3 0-2 1-1 0-4 1-1 0-4 1-1 1-13-6-7-7-3-4-3-5-6-4-9-3-3-4-2-3 0-1 1-5 1-8 4-5 4 7 12 0 2 3 7 0 7-1 1 0 2-5 5-4 2-10 0-1-1-8-1-6-3-5-6 0-2-2-2-10-6-2 0-7-3-3 1-7 7-1 4 4 6 6 3 11 1 6 5 0 2 1 1 0 9-1 1-1 6-3 6-10 9-2 0-1 1-27-27-7-11 0-2-3-7 0-3-1-1 0-26 1-1 1-5 5-5 6-1 1-1 27 0 12-5 7-5 6-6 3-1 2-2 2 0 3-2 2 0 4-2 3 0 1-1 12-1 1-1 4 0 1-1 4 0 1-1 3 0 10 5 13 10 1 0 4-4 3-6 1-6 1-1 0-9-3-4-2-1-11 0-1 1-5 0-1 1-4 0-1 1-4 0-2 1-10-9-4-8 0-2 3-5 5-5 8-4 8-9 0-26-6-7-4-2-4 2-4 4-5 9-7 7-5 2-7 6-3 5-1 6-5 12-10 11-9 5-2 0-7 3-10 2-13 7-18 18 0 1-10 11-2 0-11-6-2 0-3-2-6-1-1-1-3 1zM84 453l-7 7-9 4-8 1-6 6 0 33-1 1 0 13-1 1 2 5 6 8 6-5 9-5 8-7 1 0 0-2 2-3 0-2 4-10 0-29-2-4-1-6zM0 411l0 48 13 0 8-7 3-5 0-24-3-5-8-7zM181 356l-5 13-1 6-2 3-8 7-6 3-2 0-6 4-5 7 0 48 3 6 6 4 50 0 2 1 10 9 2 4 0 25 1 2 6 6 8 4 7 7 4 9 5 5 2 1 8 0 1-1 15-1 4-2 4-4 1-3-3-3-6-3-8-8-4-8 0-2 2-4 7-7 4-2 11 0 1 1 11 0 2 1 1-1 3 0 1-1 5-1 8-5 3-5-7-5-4-2-2 0-3-2-3 0-9-5-5-6-2-5-4-6-6-5-4 2-3 3-6 12-6 6-5 3-6-3-6-6-2-4 0-11 1-1 0-11 1-2-2-3-7-6-4-2-2 0-9-5-12-14-6-3-7-6-6-9 0-2-2-4 0-3zM133 340l-8 0-1 1-5 0-4 2-2 2-2 7-5 9 0 2-2 4 0 3-1 1 0 3-1 1-1 7-6 5-2 0-1 1-8 0-2 1-10 9 2 27 6 14 4 5 21-21 0-24 5-9 0-2 3-7 1-7 1-1 0-4 2-4 8-4 7 0 4-2 7-8-1-3zM690 338l-3 1-6 6-2 4 0 3-1 1 0 13-1 1 0 10 2 3 0 2 5 9 5 5 26 0 3 2 0 2-4 5-3 0-5-2-6 0-1-1-10 0-3 2-7 11 0 2-2 4 0 52 3 5 9 8 6-6 6-12 6-7 7-4 6 0 1-1 10-1 1-1 6-1 5-5 2-5 6-6 6-3 3 0 7-3 9-8-2-7-3-6-8-8-16-7-3 0-4-2-4 0-1-1-6-1-4-5 0-3-1-1 0-7-3-8-16-14-3-6-6-6zM500 316l-5 0-2 1-8 9 3 5 6 5 3 0 4-3 5-7-1-6zM991 292l-14 0-1 1-5 1-11 6-5 5-24 0-4 5-6 14 0 3-1 1 0 13-1 1 0 9-1 1 0 2-5 6-8 3-5 5-4 7 0 7-1 1-1 5-5 4-8 1-4 4-1 3-5 6-10 6-2 0-1 1-26 0-5 3-5 6 0 25 1 2 6 6 4 2 27 0 5-4 7-12 4-4 8-4 7-6 2-4 2-15 3-6 7-6 3 0 4 2 3 3 3 5 0 3 2 5 0 7 1 1 0 2 1 2 8 7 12-1 1-1 4 0 1-1 4 0 1-1 4 0 1 1 4 0 1 1 4 0 1 1 5 0 1 1 17 0 0-45-13 0-1-1-2 0-6-5-3-5 0-28 1-2 6-7 5-3 13 0zM931 370l4 4 0 2-4 6-4-6 0-2zM172 299l-1 2 0 28 3 6 0 2 4 7 4 3 8-6 2 0 6-3 3 0 1-1 7 0 4 2 4 4 2 8 2 3 5 5 8 4 7 7 4 8 5 5 8 4 7 7 2 3 0 2 5 8 5 4 6 0 1-1 12 0 1-1 9 0 1-1 5 0 1-1 4 0 1-1 4 0 1-1 13-1 1-1 5-1 3-3-3-2-5-6-4-10-1-7 3-5 10-10 3-1 2-2 2 0 4-4-1-30 1-1 0-8 1-1 0-7 1-1 0-3-4-4-5-1-1-1-9-1-1-1-5 0-1-1-57 0-5 3-6 15-8 9-4 2-3 0-1 1-11 3-7 4-1 0-4-4-4-6-4-10 0-3-2-5 0-4-3-4-2-1-30 0zM264 349l2-4 7-7 2 0 1-1 27 0 4 2 6 6 3 6-3 6-7 6-2 0-1 1-26 0-5-3-5-5-3-5zM119 302l-3-5-6-5-29 0-13 6-8 7-10 0-1 1-8 0-1 1-18-1-1-1-21 0 0 33 21 1 1 1 4 0 1 1 5 1 5 4 2 5 5 5 10 4 4 0 2 1 9-8 4-8 6-6 6-3 10 0 1-1 5-1 3-3 1-4 7-8 4-8 0-2 2-3 0-3zM665 267l-8 5-4 5 0 26 3 5 8 6 2 0 7-7 2-4 0-26-1-2zM375 243l-4 2-7 8 0 27 3 7 6 3 4-1 10-11 0-3-1-1-1-21-2-3zM713 232l-5 6-2 4 0 2-3 7 0 3 8 9 3 1 3-2 6-7 0-5-6-13zM565 253l-8-6-13-6-5 1-1 1-3 0-1 1-3 0-4 2-3 0-4 2-1-1-4 0-1-1-4 0-1-1-14-2-4-2-7-7-5-11-7-6-5 0-1 1-12 0-1 1-6 0-6 4-4 6 0 33 1 1 1 16-6 12-7 10 0 30 4 11 4 3 2 0 1 1 10 1 3-3 5-9 0-2 2-4 0-33-1-1 0-5-1-1 0-4-1-1 0-4-1-2 9-10 8-4 2 0 5 3 5 5 4 8 7 7 8 4 6 6 2 4 2 8 4 3 6 0 4-2 3-3 4-9 5-6 7-4 10-3 11-7zM98 229l0 9 2 3 10 1 1-1 23-1 11 10 3 7 8 7 25 0 6-4 0-1 4-4 0-3 1-1 1-22-5-6-6-4-56 0-1-1-11 0-1-1-5 0-8 8zM0 217l0 47 12 0 4 2 7 7 2 3 0 3 1 1 0 9 1 1 0 3 3 4 4 2 6-1 4-4 1-7 1-1 0-8 4-7 7-6 2-1 26 0 2-2 3-1 6-7 0-9-1-1-3 0-1-1-8 0-2-1-7-6-7-12-7-5-30 0-1-1-12 0-1-1zM955 120l-2 0-1 1-21 1-5 3-5 6 0 4 1 1 1 5 4 8 11 13 4 8 3 12-1 1 0 3-1 1-1 5-4 8-7 8-5 2-6 1-13 6-25 0-1-1-8-1-1-1-5 0-1-1-6 0-1-1-6 0-1-1-11-1-1-1-6-1-3-3 3-3 3-1 4-4 2-5 0-3 1-1 1-10 2-5 3-3 7-3 4 0 1-1 8-2 4-2 6-5-3-3-1-3-3-4 0-2-2-3-1-6-3-7-5-5-4-2-5 1-4 3-1 8-1 1 0 3-1 1-1 5-6 11-5 5-24 0-9-5-2 0-7-3-3 0-1-1-3 0-5-2-5 0-1-1-11-1-1-1-7-1-4-2-6-6-1-4-6-6-2 0-4 4-3 9-5 6-7 4-10 2-12 5 3 3 3 7 1 10 1 1 0 7 1 1 0 5 1 1 2 14 1 1 1 7 4 10 2-3 6-5 4-2 10-2 1-1 2 0 7 6 4 6 2 5 0 50 3 5 5 4 14 4 11 6 31 31 6 11 1 6 2 4-1 11-1 1 0 5-1 1-1 8 1 2 7 6 2 0 3 2 27 0 4-2 3-3 2-5-3-10-3-6-7-8 0-24-1-1 0-4-1-1 0-4-1-1 0-5-1-1 0-5-1-1 0-26 5-6 4-1 6 7 0 31 1 1 1 6 3 4 4 2 8 1 7-11 5-16 4-6 4-4 3-2 4 0 1 1 3 0 1 1 5 1 4 2 7 7 0 1 3-3 2-5 1-14 1-1 1-5 6-4 4 0 1-1 5 0 8-6 3-5 0-49 3-5 5-5 6-3 11 0 0-45-13 0-6-4-5-6-2-4 0-2-3-5zM930 251l4 3-1 3-2 2-5-5zM883 242l8 6 3 4 0 2-6 5-6 2-5-4-1-5 3-6zM810 226l3 3-3 6-3-5zM786 200l3 5-3 3-3-3 1-3zM724 178l1-1 1-5 6-7 4-2 4 0 1 1 4 0 1 1 4 0 1 1 6 0 1 1 5 0 1 1 5 1 4 2 4 4 3 5 0 3-1 1-1 5-4 4-2 0-1 1-5 0-1 1-8 0-1 1-5 0-1 1-14 2-8-6-4-9zM448 98l-2 0-3 2-6 7 1 4 9 8 10-9 0-3-2-3zM374 92l-3 2-3 4-4 10 0 25 1 1 0 3 2 3 0 2 3 6 5 6 24 0 6-9 4-13-7-8-8-4-7-7-6-16-5-5zM896 0l0 12 1 1 0 4 2 3 5 2 28 0 9 7 6 11 7 6 17 2 1 1 4 0 1 1 14 0 0-50zM824 0l0 37 4 6 13 7 6 7 2 5 3 4 5 4 3 0 1 1 12 0 1 1 9 0 2-1 5-5 3-5 0-28-3-6-9-2-10-9-2-3 0-13zM610 35l1 2 6 5 24 0 12-14 4-3 12-5 4-4 2-3 0-13-66 0zM792 0l-65 0 0 36-2 4-8 8-7 3-5 5-2 3 0 2-2 3-1 4-6 8-4 3-10 0-1-1-7 0-1-1-30 1-8 6 7 6 7 2 3 2 5 5 4 8 0 2-2 2-1 3-9 9-7 4-23 0-5-2-6-6-2-4-1-7-6-9-4-3-7 0-1 1-2 0-1 2 0 13-1 1 0 6-1 1 0 3-2 3 0 2-5 5-1 15-1 1 0 8-3 3-24 0-3-3 3-3 2 0 1-1 5 0 7-3 4-5 1-7 1-1 0-5-6-8-5-16 3-5 6-6 4-2 11-1 2-2-1-31-3-6-7-7-23 1-1 1-7 1-12 6-4 4-2 4-8-11-6-16 0-7 1-1 1-11 1-1 0-4 1-1 0-13-29 0 0 13 1 1 1 10 1 1 0 5 1 1 0 13-1 1 0 11-1 1 2 27 6 8 12 6 3 3 3 6 0 3-2 3-7 7-8 4-5 5-2 3 2 4 5 5 8 4 7 7 3 7 4 5 5 3 8 2 4 4 2 4 1 6 5 6 6 3 3 0 1 1 8 2 6 3 5 4 3-3 1-3 3-4 0-2 3-6 1-7 2-4 4-4 8-2 3-2 7-8 0-3 1-1 1-5 2-3 4-4 4-2 4 0 8 4 3 3 4 7 0 2 1 1 0 26-1 1 0 4-1 2-4 4-2 0-1 1-5 0-1 1-4 0-9 8-1 5 1 1 1 11 2 5 0 5-1 2-9 8-6 3-6 1-3 2-2 0-6 3-6 5 0 24 5 5 9 15 1 7 1 1 0 18 1 2-2 3-8 7-9 4-5 0-1-1-9-1-7-3-3-3-5 13-1 6-2 2-1 3-9 9-6 3-6 6-5 11-6 9-13 14-4 10 0 3-1 1 0 29-1 1 0 6-1 1 0 5-1 1 0 4-1 1 1 7 1 1 0 5 1 1 1 14-1 1-2 8-6 11-29 29-28-28-6-10 0-2-2-3 0-3-2-4 0-2 3-5 6-6 8-4 7-8 0-26-2-3-7-6-5 1-5 5-1 4-3 5-7 7-4 2-25 0-5-3-6-6-2-4 1-7 4-5 4-2 7-1 6-3 2 0 11-7 0-25 2-2 13-8 2 0 4-2 3 0 9-4 5-5 1-2 0-8-1-1-1-7-2-3-8-3-9 5-2 0-7 3-9 1-1 1-21 1-5 2-3 3-5 17-2 3 0 2-6 8 0 24-4 4-4 6-6 16 0 3-1 1-2 8-4 7-3 3 1 2 6 5 5 2 3 0 1 1 4 0 6 3 7 7 5 10 5 4 7 3 9 10 0 3-4 6-6 5-7 3-5 5-2 4 1 10 1 1 0 5 1 1 1 7 7 18 5-2 5-4 3-5 1-6 2-2 6-3 2 0 4 4-1 24-3 3-2 0-1 1-5 0-1 1-5 1-5 5 0 2-1 1-1 9-1 1 0 24 6 5 14 6 27 0 3-2 6-7 0-26 6-11 8-7 14 7 8 6 27 27 3 1 4 3 2 0 3 2 6 1 1 1 6 0 4-4 1-2 0-11 1-1 0-2 4-3 10 0 1-1 3 0 4-4 1-2-3-4-2-1-4 0-1 1-3 0-11 4-1 2-5 4-2-2-1-3-6-5-11-5-3 0-1-1-3 0-5-2-5-6-1-6-2-5-4-4-10-3-6-6-2-4 0-6 2-4 3-3 4-2 7-1 4-2 3-5 1-6 2-5 3-3 11-4 6-6 5-9 5-5 5-3 7-1 3-3 1-7 3-5 6-6 4-2 3 0 9 5 7 8 0 4-2 5-3 3-5 1-1 1-8 0-1 1-4 0-3 3-1 2 0 6 6 7 3 2 8 0 1-1 5 0 1-1 2 0 3-2 2-4 0-3 3-5 2 2 0 2 1 1 0 25 5 4 14 6 5 0 1-1 6-1 6-3 5-4 1-2 0-24 7-8 6-15 0-25-1-1 0-2-3-4-3-2-4-1-4 2-8 8 0 3 1 1 0 12 1 1 0 10-2 5-4 4-5 2-10 0-1-1-5-1-3-3-1-5-1-1 0-4 2-4 0-3 1-1 2-10 1-1 0-13-1-1 0-13-1-1 1-1 0-3 5-13 4-6 4-4 13 6 10 2 3 2 2 0 6 3 15 11 5-5 5-9 0-2 2-4-1-3-6-6-6-3-7 0-1-1-4 0-1-1-5-1-6-5-2-3 0-2-2-2-13-7-6-1-1-1-5 2-4 4-3 12-4 4-8 3-24 0-5-3-7-7-2-5 3-6 7-6 30-6 10-13 4-3 10-4 4-3 5-7-1-1 0-5-1-1-1-8-3-8 1-26 1-1 1-8 1-1 1-12 3-6 7-7 7-3 7-7 3-8 6-6 8-3 10-9-1-4-5-10-9-11 0-2 5-6 5-3 7-1 1-1 7 0 1-1 2 0 3-2 6-7 3-12 4-8 4-5-7-11 0-2-3-7 0-3-1-1 2-8 5-7 7-4 1 1 4 0 1 1 4 0 1 1 4 0 1 1 6 0 1 1 5-1 5-4 2-7 4-6 8-6 29 0 1 1 2 0 4 2 6 6 2 5 5 5 5 1 1 1 4 0 1 1 12 1 1 1 27 0 1-1 3 0 3-2 1-2 0-4 1-1-3-5-7-6-27 0-8-3-6-6-2-4 3-10 8-15-4-10 0-3-2-5 0-4-1-1-1-12-1-1 0-4-1-1 0-4-1-1zM353 36l3 3 9 5 6 1 1 1 5-1 5-4 6-11 5-5 8-4 7-7 1-2 0-12-56 0zM171 0l0 13 3 5 4 3 4 1 3 2 2 0 6 4 6 7 0 3-3 6-4 5-7 4-2 0-4 2-3 3-2 5-1 7-4 8-6 6-1 0 7 10 12 9 24-1 4-4 5-2 5 0 1-1 13 0 7 3 6 6 1 2 0 7-1 1 0 4-1 1 0 4-1 1 0 6-1 1 0 27-3 6-3 3-5 3-2 0-4 2-8 7-1 2 0 5 1 1 1 19 2 3 7 6 8 0 1-1 5 0 1-1 4 0 5-2 8 2 8 7 4 9-2 5-8 7-2 0-4 2-27 0-9 8-1 2 0 28 1 1 0 2 3 3 2 0 1 1 7 0 1-1 5 0 1-1 5 0 1-1 8-1 4-3 2-5 5-7 11-9 6 0 5 2 5 0 1 1 5 0 1 1 27 0 5-3 5-6 0-8-1-1 0-5-1-1 0-4-1-1-1-6 7-10 11-8 49 0 6-6 0-3 4-8 3-3 6-3 7-1 1 1 4 0 1 1 4 0 1 1 13 1 6-4 4-5-1-25-2-3-9-8-9 8-2 4 0 2-4 7-9 8-15-3-5-3-3-4-4-3-11-1-1-1-10 0-3 4-5 10 0 2-2 4 0 3-1 1 0 3-2 4-7 7-4 1-9-8-4-8 0-26-2-3-9-8-5 3-7 7 0 32 1 1 0 12 1 1 0 8 1 1 0 5 1 1 0 4 1 1 1 8-6 7-8 5-6 1-8-3-5-4-3-5 0-28 1-1 0-3 2-4 0-3 1-1 0-3 2-5 0-32-1-1 0-12-1-1 0-5 6-12 8-7 5 2 3 0 1 1 15 3 6-4 0-1 4-4 0-13-1-1 0-7-1-1 0-29 6-12 7-10 0-14-1-1 0-7-1-1 0-14-38 0 0 12-5 5-3-4 0-13zM292 25l2 2 1 5 1 1 0 29-3 7-6 6-7 3-27 0-2-1-6-6-5-9 0-3 3-5 5-5 8-4 7-7 4-8 8-7 2-1 6 0 1 1 4 0zM23 0l0 35 1 1 0 11 1 1 0 15-1 1 0 3-3 6 0 2-6 9 0 17 1 1 0 7 8 7 12 5 50 0 1-1 23-1 8 4 9 10 0 24-2 4 0 3-2 4 0 3-1 1 0 3-2 5 2 4 4 4 5 3 11-1 1-1 3 0 1-1 3 0 5-2 4 0 4 2 8 1 1 1 4 0 1 1 5 0 5-3 6-6 0-4-1-1-2-11-2-4 0-3-2-4-5-4-26 1-9-5-6-9-1-7 3-6 0-2 8-15 0-6 1-1 0-5 1-1 0-4 1-1 0-4 1-2-8-6-17-8-8-9 0-3-1-1 0-11-1-1 0-45-21 0 0 12-2 4-10 9-3 0-5-3-6-7-2-4 0-11z"/>
<path fill="#f5deb3" fill-rule="evenodd" d="M375 955l-3 7 0 3-2 5 0 4-1 1 0 16 11 0 0-23-1-1 0-5-1-1 0-2zM0 947l0 44 18 0 0-17 1-1 1-8 4-10-12-8zM925 955l0 36 66 0 0-42-16 0-1-1-9-1-1-1-5-1-3-2-2 0-3 2-2 0-4 2-8 1-1 1-5 0zM635 955l0 36 18 0 0-12 1-2 8-8 1 0 23-24 3-2 3 0 1-1 3 0 3-2 2 0 8-4 4-4 6 7 3 6 3 11 3 5 0 3 1 1 1 7 1 1 0 18 43 0 0-12-3-1-4-3-8-2-6-3-7-7-3-8 0-25-5-5-7 1-1 1-4 0-1 1-3 0-8 3-2 0-4-2-3 0-1-1-3 0-1-1-3 0-1-1-4 0-1-1-26 0-3 2-3 4-1 4-4 7-5 4-11 5zM571 925l-3 0-4 2-4 4 1 7 1 1 3 11 3 5 1 0 4-4 5-10 1-6 1-1 0-4-1-2zM60 925l-6 6-1 9-1 1-1 7-2 3-1 5 12 12 8-4 17-3 5-5-2-7-3-5-3-2-11-12zM833 919l-3 3-3 8 0 25 5 5 3 1 5-5 0-26-4-9zM908 895l-2 0-11 11 1 2 11 5 6-6-2-8zM350 895l-12 12 0 24 9 5 5 1 8-3 3-3 0-6-1-1 0-19-1-1 0-2-5-6zM930 882l1 1 0-1zM472 877l-4 2-3 4 0 48 6 6 6-5 0-50zM420 877l-1 1-7 1-10 4 0 24 6 6 3 1 2 2 10 3 6-12 0-24-4-5zM48 881l0 2 12 6 12-6 0-2-2-2-5-2-10 0-5 2zM278 870l-4 3-2 5 0 32-1 1 0 10-1 1 0 8-1 1 8 7 26-1 11-6 0-25-12-12-3-1-7-7-2-4zM508 857l0 2 12 8 8-5 4-4-2-3-5-2-9 0zM33 853l-8 4-1 2 1 2 11 10 3-2 2-4 0-4 1-2-5-6zM786 851l-6 7 0 25 6 6 7 1 8 4 6 6 3 7 1 0 3-5 0-3 1-1 0-7 1-1 0-9-1-1 0-4-1-1 0-4-3-8 0-3-1-2-2 0-4-2-3 0-4-2-3 0-4-2-3 0zM834 822l-6 12 1 2 5 4 10 0 1 1 7 0 2 1 3 3 0 2 1 1 0 10 0-25-3-3-9-5zM902 784l-2 5 0 5-1 1-1 7-4 8 6 8 7 16-3 8-1 8-1 1 0 4-1 1 0 4 6 11 8-3 3-4 0-2 1-1 0-8 1-1 0-8 1-1 0-2 5-5 3 0 1-1 3 2 2 0 4 2 17 1 1 1 2 0 7 4 3 3 3 5 1 5 6 6 12 0 0-66-12 0-7 5-8 4-10 3-7-4-4-4-5-10-1-6-4-5-2-1-24 0zM788 781l-2-1-27 0-1 1-5 1-4 4 0 24 2 2 6 3 5 1 6-6 0-2 3-7 5-5 5-3 5-1 7-6zM575 809l-5-9-12-11-4-6-8-3-27 0-5 5-1 6-4 9-10 9-4 1-1-1-5-1-18-10-6 12 0 18-1 1 0 5 7 6 9 0 1-1 10-1 4-2 1-2 0-11 1-1 0-2 4-3 5 0 1-1 14 0 7 3 7 7 3 7 1 9 3 4 2 0 6-11 0-3 5-9 5-4 10-4 5-5zM115 762l-7 0 0 10-1 1 0 2-5 4-5 0-1 1-37 0-9 4-3 2-1 3-13 12-4 8 1 3 5 4 26 0 10-5 10-11 9-6 3-1 2-2 15-6 0-10 1-1 0-4zM690 756l-3 0-8 4-2 2 5 7 7 16 0 26-3 6 0 2-6 11-7 10-6 5-8 4-3 0-1 1-7 1-1 1-6 0-6 3-2 0-3 2-11 12-11 5-8 1-1 1-5 0-12 5-2 2 3 6 0 3 2 5 2 16 1 1 0 2 3 3 2 0 12-8 2 0 5-3 4-1 5-9 6-5 10-4 6-1 10-5 2-4 9-8 4-2 2 0 4-2 3 0 1-1 3 0 1-1 6 0 1-1 1 1 7 1 6 3 5 4 3 4 2 5 3 2 3 0 1 1 3 0 1 1 3 0 5 2 6 0 3-2 2-3 0-5-1-1 0-3-1-1 0-3-1-1-2-10-7-10-2-4 0-2-2-3-1-5-6-5-2 0-4-2-4 0-10-4-7-6-4-7 0-26 2-4 0-3 1-1 0-3 2-5 0-4 1-1 0-3zM468 756l-7 3-2 3 12 12 12-12 0-1-10-5zM278 756l-3 1-2 2-5 12-5 5-3 2-2 0-7 3-3 4 0 3 4 8 4 4 1 0 8 9 0 13-1 1 0 3-3 5-7 2-1 4-2 3 0 2-4 8-6 8 4 3 7 3 7 0 1-1 2 0 4-4 0-10 1-1 0-5 4-6 7-2 0-3 2-4 0-3 1-1 0-3 2-5 0-4 1-1 0-18 1-1-1-30-2-3zM131 708l-4 4 0 40 1 1 0 2 2 3 2 0 9 9 3 1 2 2 2 0 3 2 3 0 1 1 11 1 3 4 0 9-1 2-10 9-26 0-4 5-1 7-1 1-1 11-1 1-2 8-2 3 2 4 7 7 4 2 36 0 1 1 3 0 6 5 1 7-2 5-3 3-2 1-4 0-1 1-65 0-5-4-1-2 0-5-3-3-7-3-4 0-5 6 1 2 0 4 3 5 10 2 3 3 1 8 2 3 0 2 2 4 0 3 1 1 1 10 6 7 5 0 1 1 4 0 1 1 7 1 8 4 8 2 8 4 6 5-4 4-5 10 0 2-2 4 0 3-1 1 12 6 26 0 9-4 11-12 3-1 6-12 0-2-3-4-3-2-11 0-1 1-17 0-1-1-3 0-4-2-3-3 0-2-2-4 0-9 1-1 0-3 2-3 0-2 9-10 4-2 2 0 0-42 1-1 0-6 3-5 0-3 1-1 1-16 4-9 4-4 8-4 2 0 6-6 1-4 4-7 6-5 9-3 4-4 0-2-1-2-4-3-26 0-9 4-11 12-2 1-9 0-3-3-1-9-2-3 0-2-2-4 0-4-1-1 0-4-1-1 0-4-1-2-4-4-10-4-6-6-4-10-4-4zM447 707l-6 6 1 7 1 1 0 3 1 1 0 3 1 1 0 3 1 1 1 5 2-5 2-11 1-1 0-4 1-1 0-3zM0 707l0 36 12 0 2-1 4-5 0-23-1-2-6-5zM954 701l-3 3 0 2-1 1-2 16-1 1-1 7-3 6 2 2 8 4 10 3 7 7 3 6 1 5 4 8 2 2 11 0 0-43-14 0-8-4-5-6-6-16-2-3zM786 701l-6 11 0 26 5 5 2 0 6-5 0-8-1-1 0-16-1-1 0-3-3-6zM279 701l-26 0-2 2-3 7 0 29 4 4 3 0 4-4 3-9 5-6 7-4 4-1 6-6-2-9zM518 684l-4 5 0 25 5 5 26 0 5-6 1-24-7-6-24 0zM227 686l-6-1-1-1-15-1-7 6 0 8 1 1 0 15 3 4 4 2 5-5 1-6 4-9 7-7 3-2 4-1zM350 677l-12 12 0 25-8 9-4 2-6 12 0 26 1 1 0 5 1 1 1 8 3 7 0 25 7 3 6 6 4 8 0 3 1 1 1 5 5 6 2 0 11-8 0-31 3-4 8-1 4 2 6 6 3 5 7 4 5 1 6-6 0-24-5-11-12-11-6-9-7-15 0-5 3-7 0-3 1-1 2-10 1-1-1-2 0-21-1-2-5-5-10-1-1-1-3 0-1-1-5-1-3-2zM363 786l0 6-1 1 0 2-3 3-22 0-1-1-3 0-5-5 0-3-1-1 0-2 8-7 15-6 4 2 7 7zM314 689l-3-7 0-3-2-5 0-4-1-1 0-4-5-6-17 1-1 1-5 1-2 2-25 0 1 2 24 0 5 6 4 8 0 2 4 10 4 2 3 0 1 1 8-1 4-2zM48 689l4 3 4 1 3 2 3-1 3-3 2-4 0-2 4-7 5-4 6-3 15 1 1 1 5 0 5 2 3-2 2 0 5-3 2 0 11-5 3 0 4 2 3 0 1 1 15 3 6-6 0-24-2-3-4-3-4 0-5 2-4 4-2 8-6 11-4 3-5-6-4-8-2-8-4-4-5-2-29 0-4 4-1 4-5 9-5 4-4 2-2 0-5 3-3 4-1 9-1 1 0 3zM884 617l-1 0 0 50-1 1 0 8-1 1 0 2-4 3-4 0-1 1-16 0-1 1-4 0-2 1-3 4 5 7 7 15 0 61-1 1 0 2-5 4-5 0-1 1-12 0-7 6 7 12 3 0 1-1 8-2 6-3 6-5 0-51 1-1 0-13 2-5 5-3 17-1 0-38 1-1 0-3 3-4 2-1 5 0 1-1 13 0 7 4 4 4 4 7 2 9 6 6 7-1 4-2 1-2 0-2-4-10 0-3-1-1-1-10-5-5-16 1-1 1-6 1-2 2-3 0-1-1-10-1-6-5-2-4 0-4-1-1zM949 641l2 3 4 3 6-6 4-13 7-8 5-3 14 0 0-1-14 0-1-1-3 0-4-2-4 0-5-2-6 0-5 5zM708 615l0 3 4 4 5 0 1-1 2 0 5-4 0-1-3-2-7-3-3 0zM483 616l13 13 6-2 4-4 2-5-2-3-8-4-8 0-1 1-2 0zM345 611l-5 2-4 7-7 7-3 1-6 13 2 3 4 3 11 1 1 1 6 1 6 3 13-13 0-23-3-3-4-2-2 0-1-1zM0 608l0 39 11 0 2-1 5-6 0-23-2-4-5-5zM775 591l-1 1 0 2 3 6 0 3 2 5 0 5 1 1 0 6 1 1 1 5 3 3 3 0 1 1 5 1 8 4 7 6-2 2 0 2-1 1 0 3-1 1 0 8-1 1 0 7 1 1 1 5 4 5 25 0 2-1 2-3 1-9-5-5-9-2-9-5-6-8-1-4 2-4 4-20-5-5-10-4-6-6-2-4-1-5-6-6zM568 586l-6 6 5 6 2 0 5-6zM181 586l-6 6 1 2 6 5 7 2 7 7 3 7 0 26 6 6 11 1 1 1 6 1 6 3 7-2 4-4 1-5 1-1-2-3 0-2-2-4 0-3-2-5 0-6-7-8-7-2-7-6-3-6-1-5-5-10-2-1-3 2-2 0-4 2-8 1-1 1zM91 582l-5-2-3 0-5 3-3 0-5 2-4 0-1 1-5 0-7 6 1 25 5 5 2 0 3-2 2-3 0-2 3-7 6-6 3-2 8-2 11-6-1-1-1-5zM641 568l-2 3 0 2-3 7-1 7-1 1 0 23 1 1 0 5 6 6 3 0 6 3 5 5 4 9 0 25 3 4 13 6 4 4 4 8-1 26 6 6 5-1 9-5 1-3 7-7 3-1 8-6 8-4 7-2 2-2 0-22 1-1 0-4 1-2 4-4 2 0 1-1 6 0 1-1 8 0 12-12 0-1-4-4-3 0-1-1-14 0-1 1-6 0-7 3-1 2 0 22-1 1 0 5-1 2-3 3-5 2-9 0-1 1-4 0-10-9-1-3-13-13-3-1-7-7-3-5 0-2-2-3-1-7-1-1 0-4-1-1 0-30-1-1 0-4-1-2-5-4-6-1-10-5zM326 568l-3 7 0 3-2 4-1 8-1 1 0 2 7 12 4-3 1-5 1-1-1-13-1-1-1-7zM206 544l-1 0 0 1zM991 538l-36 0-5 4-2 7-3 5-7 6-2 0-3 2-26 0-2 1-5 5 1 27 3 7 3 3 8-4 17-3 5-5 0-2 3-7 7-7 7-3 37 0zM112 538l-4 0-6 6 1 2 0 10 1 1 0 5 2 5 2 2 7-17 6-8-3-4-5-1zM0 538l0 38 12 0 7-8 0-24-7-6zM473 532l-2 0-12 12 3 4 9 2 6-5 0-6-2-5zM597 514l-8 0-7 3-2 2 0 25 12 6 4-2 2 0 7-4 0-24-3-4zM538 519l0 1 6 6 1-1 5-1 6-4-2-3-7-3-4 0-3 2zM974 494l1 4 4 3 12 0 0-11-13 0zM859 490l-26 0-4 4-1 2 0 24 3 4 3 2 2-1 6-6 0-2 4-7 6-5 4-2 2 0 5-5 1-3zM158 490l-2-1-5 0-1-1-8-1-1-1-5-1-3-2-6 11 0 31 3 6 3 1 3-2 2 0 4-2 14-2 6-5 1-2 0-23zM84 470l-2 0-1 1-21 0 0 49 1 0 1-11 4-8 3-2 6-1 1-1 8 0zM954 466l-5 5 5 6 2 0 4-3 1-3-5-5zM618 466l-3 0-6 6 1 2 0 20 1 1 0 6 1 1 0 2 4 4 2-2 4-9 0-27zM792 471l-6-6-6 6-4 10-7 6-4 2-3 0-6 6-1 2 0 6-1 1 0 3-1 1 0 3-1 1-1 5-2 4-6 7-8 5-2 0-3 2-3 0-5 2-10 1-10 5-2 3-22 21 1 4 7 3 28 0 12-6 2-4 6-6 8-4 2 0 4-2 3 0 1-1 5 0 1-1 10-1 1-1 3 0 1-1 3 0 1-1 3 0 5-2 10 3 15 9 2-2 4-9 0-2-5-5-8 1-1 1-4 0-1 1-3 0-1 1-8 2-7-4-5-5-4-8 0-3-1-1 0-6 3-6 6-6 10-4 5-6zM350 435l-6 12-1 11-1 1-1 6-3 6 2 2 8 4 6 1 7 4 5 6 2 7 2 3 5 4 5 1 5 3 5 6 3 7-4 10-5 5-3 2-7 2-5 5 0 5 1 1 0 3 1 1 0 3 1 1 1 5 2 3 2-2 8-4 2 0 4-2 3 0 1-1 5 0 2 1 9 10 0 25-6 8-13 8-4 5-2 4 0 23 2 2 11 5 24 0 6-6 0-27 1-1 0-3 2-3 0-2 5-7 10-6 18 8 5 4 3 0 2-2 2-5 0-6-4-4-2-1-6 0-1-1-5-1-3-3-2-4 0-4-1-1 0-8-3-7-6-3-7-7 0-1-25-24-5-12-1-8-1-1 0-8 3-6 7-7 7-2 3-2 4-5 0-24-6-6-2 1-3 3-5 12-4 4-8 4-29 0-6-3-7-7-3-8 0-5-1-1 0-2-2-3zM616 422l0 1 7 2 12 6 5 4 2-1 6-11-7-6-16 1-1 1-3 0zM0 416l0 38 12 0 7-7 0-24-7-7zM885 400l-1-1-2 0 0 2-2 4-7 7-6 3-6 1-1 1-26 0-2 1-5 5 0 24 7 6 25 0 5-5 4-10 6-6 4-2 5-1 6-6-1-2 0-10-1-1 0-5zM766 415l-5-5-12 0-1-1-5-1-4-5 0-4-3 0 0 10-1 1-1 8-5 6-2 0-1 1-13 1-10-10-8-4-6-1-4 5-3 6 0 50 2 3 5 5 6-8 0-2 3-7 7-7 7-3 9-1 1-1 3 0 1-1 10-2 2-2 0-10 1-1 0-2 2-2 5-1 1-1 15 0 8-6zM592 393l-5 4-1 3 1 1 0 4 2 4 2 2 3 0 5-2 4-4 1-5 1-1-11-6zM87 393l-5 1-5 5 0 7 1 1 0 16 6 12 1 0 12-12 0-24-4-4-2 0zM156 393l-5 5 0 50 5 5 50 0 9 4 4 4 4 8 0 26 4 5 3 2 7 2 5 4 4 6 2 7 4 4 2 1 1-1 5 0 1-1 4 0 1-1 3 0 1-1 3 0 5-2-8-4-5-5-4-8-1-10 2-5 5-6 10-5 6 0 1 1 20 0 10-6 0-1-7-4-2 0-3-2-2 0-7-3-6-6-2-4-1-5-6-7-6 6-1 5-6 9-9 5-5 0-6-3-7-7-3-8 0-4 1-1 0-20-6-5-6-1-9-4-7-7-2-5-2-2-6-2-10-8-3-4-4-10-3 7-7 7-6 3zM907 367l-6 7 0 3 1 1 1 5 4 4 6-2 3-3 2-4 0-5-2-3-4-2-4 0zM423 362l-8 3-4 0-1 1-4 0-1 1-7 0-1 1-20 0-1 1-3 0-4 4-3 17-4 8 0 25 3 4 10 2 12-6 0-25 8-9 7-4 2 0 4-2 8-1 1-1 5 0 8-6-2-7zM120 350l4 4 5 2 4 0 5-5-1-3-3-3-5 0-1 1-2 0zM689 343l-6 7-1 25 4 8 3 4 24 0 2-1 4-8 0-4-2-4-4-4-8-4-6-7-1-4zM592 330l-3 5-8 6-2 0-7 3-17 1-1 1-4 0-5 2-3 6 0 2-2 2-1 3-8 8-12 6-1 5-7 14-6 9-5 5-4 2-3 4-3 7 0 26-1 1 0 11-1 1 0 8-1 1 0 4 1 1 0 8 1 1 0 11 1 1-1 1 0 6-1 1-1 8-4 8 2 4 4 2 5 0 1 1 3-2 4-5 1-5 4-6 5-4 9-3 4-4 1-4 5-9 9-6 5-1 1 1 6 1 6 3 8 8 2 6 3-8 0-3 2-4 1-7 1-1-1-29 1-1 1-9 1-1 3-11-1-2-7-3-29 0-9-4-4-4-3-5 0-2-1-1 0-8 1-1 1-5 4-4 5-2 6 0 1-1 9-1 1-1 3 0 1-1 10-2 3-7 7-7 4-2 11-3 5-5 0-3-1-1-1-7zM496 320l-6 5 0 2 5 5 1 0 5-5 0-2-2-3zM991 296l-12 0-1 1-2 0-8 4-4 6-4 4-5 3-24 0-6 11 0 14-1 1 0 14 1 1 0 2 3 4 4 1 3 2 7 7 2 4 0 2-1 1 0 10-1 1 0 3-5 5-6 1-3 3-1 6-1 1-1 15 6 6 2-1 4 0 1-1 4 0 5-2 3 0 4-2 6 1 4 2 8 1 1 1 4 0 1 1 13 0 0-36-14 0-1-1-5 0-4-2-3-3-2-4 0-5-1-1 0-27 1-1 1-5 2-3 8-7 2 0 3-2 13 0zM226 340l-2 4 0 5-1 1 6 6 4 1 7 4 5 6 2 7 7 7 7 2 6 5 4 7 0 2 2 4 5 5 5 0 1-1 18 0 1-1 4 0 1-1 4 0 1-1 7-1 7-3-1-24 2-3 1-4 11-12 10-5 0-9-1-1 0-5-1-1 0-5-1-1 1-10 1-1 0-5 1-1 0-9-8-3-8-1-1-1-4 0-1-1-51 0-5 5-2 9-3 6-4 5-4 3-8 3-4 4-10 5-6 1zM261 340l4-5 4-2 4 0 1-1 29 0 1 1 2 0 8 5 5 8 0 2 1 1 0 7-1 1 0 3-5 6-5 2-6 0-1 1-24 0-1-1-7-2-9-10 0-2-1-1 0-10 1-1zM177 299l-2 3 0 25 6 12 5-3 2 0 4-2 21-3 4-3 0-4-2-3 0-2-2-4-2-14-5-5-25 0zM114 301l-5-5-26 0-10 5-11 12-14 4-6 3-6 5-5-4-13-6-3 0-1-1-14 0 0 19 19 0 1-1 5 0 1-1 6-1 4-3 6 8 3 6 0 2 2 4 0 3 8 5 6 1 4-4 4-10 7-7 7-3 6-1 6-3 4-6 6-6 3-1 6-11zM664 272l-6 5 0 25 1 2 6 5 6-7 0-24-3-4zM375 248l-1 0-5 5 0 26 5 6 2-1 6-7-1-2 0-20zM713 241l-6 12 5 6 2 0 5-5 0-2zM556 253l-10-6-6 0-1 1-6 1-4 2-3 0-4 2-5 0-8-3-4 0-5-2-8-1-7-4-3-3-4-7 0-2-2-4-5-5-4 0-1 1-19 0-6 6 0 26 1 1 0 5 1 1 1 8 3 8-9 19-3 4 0 26 1 2 6 7 4 2 3-2 3-6 0-2 1-1 0-28-1-1-1-8-1-1 0-3-1-1-2-8 3-6 9-8 2 0 6-3 7 0 6 3 7 7 2 7 5 6 10 4 7 7 3 9 5 5 1 0 6-6 0-2 3-7 6-6 4-2 5-1 3-2 2 0 7-4zM103 228l0 3 4 5 20 0 1-1 5 0 9 4 5 5 4 10 6 6 23 0 7-6 1-25-7-6-68 0-1-1-3 0zM0 222l0 38 14 0 8 4 5 6 3 7 1 6 2 4 3 3 2-2 3-6 0-3 4-10 6-6 6-3 27 0 7-6-1-3-4-3-5-1-6-3-7-8-2-7-6-6-43 0-1-1zM622 200l-5-1-6 5 0 6 1 1 1 8 3 8 0 4-4 7-6 5-6 3-10 2-8 4-2 2 0 24 4 5 6 12 0 2 2 3 0 5 0-3 2-4 0-3 1-1 0-3 2-5 1-9 5-10 6-5 7-2 5-4 2-4 0-6 1-1 0-2 4-5 5-2 5 0 1-1 2 0 7-6-7-12-4-1-3-2-4-5-1-4-3-3zM541 170l-3 7 0 4 4 5 5 1 1 1 5 0 1 1 7 1 6 3 2-1 5-10 0-5-3-7-2-1-26 0zM173 157l-5 2-4 4-3 8-1 10 2 0 6 3 3 0 1 1 3 0 1 1 5 1 7-6 0-2-2-4 0-3-1-1-1-6-3-8zM452 155l-4-4-4 2-3 4-2 9-4 7-4 4-7 4-8 0 8 0 4 2 3 0 1 1 3 0 5 2 4 0 1 1 4-1 5-5 0-13-1-1 0-10zM857 127l-5 6-1 10-1 1-1 7-3 6 2 3 4 2 7 1 12-6-4-9-1-8-1-1 0-5-6-7zM955 125l-1 1-20 0-1 1-3 0-5 5 1 4 5 9 5 3 4 4 5 9 0 2 2 4 0 3 1 1 0 4 1 1 0 10-1 1 0 4-1 1 0 3-1 1-1 5-5 9-7 6-4 2-2 0-7 4-2 0-4 3-5 2-2 2-24 0-9-5-2 0-3-2-3 0-4-2-3 0-1-1-10 0-1-1-8 0-1-1-8 0-1-1-2 0-4-4 0-8 1-2 13-12 3-7-1-10-3-4-27 0-1-1-11 0-1-1-5-1-3-4-1-5-2-1-3 0-4-2-3 0-5-2-4 0-1-1-13 0-1-1-7 0-2-1-4-5 0-11-1 0 0 14-1 1 0 3-4 4-2 1-18 1-2 3-1 7-1 1 0 9-1 1 0 4 1 1 0 4 1 1 2 11 2 4 0 3 25-1 6 3 7 7 4 10 0 3 1 1 0 49 1 2 5 4 5 0 1 1 8 1 15 6 4 4 2 3 0 2 24 23 5 12 1 9 1 1 0 14-1 1-1 14 7 5 27 0 4-5-1-5-4-7-3-2-9-10 0-25-1-1-1-18-1-1 0-29 3-5 6-6 6-3 3 0 5-4 1-2 0-4 5-13 9-10 9 0 1 1 4 0 5 2 4 6 0 4 1 1 0 15-1 1 0 2-4 4-2 1-6 0-1 1-12 0-1 1-2 0-3 3 0 2-1 1 0 28 4 7 5 4 1 0 1-3 3-4 0-2 2-3 0-4 4-10 7-7 5-3 22 0 1 1 3 0 0-2-2-1-7 0-1-1-3 0-4-2-3-3-2-5 0-5-1-1 0-8 1-1 0-2 4-4 2-1 4 0 1-1 12 0 9 8 2 4 3 3 5 2 5 0 5-5 0-50 3-7 7-7 7-3 13 0 0-36-12 0-9-4-5-5-2-3 0-2-3-7zM804 218l12 0 5 4 0 3 1 1 0 4-1 1-2 8-5 9-4 4-6-7-6-15 1-8zM721 161l3-3 3 0 1-1 11 0 8 3 8 1 1 1 4 0 1 1 16 0 1 1 3 0 4 5 1 13 5 6 4 8 0 2 3 7-1 2 0 5-4 4-7 1-4-2-6-6-1-3-4-4-8-3-7 1-1 1-4 0-1 1-7 1-4 2-11 0-1-1-3 0-4-5 0-7-1-1 0-20 1-1 0-7zM447 102l-6 6 4 5 3 1 5-5 0-1zM374 99l-5 8 0 27 4 9 2 2 24 0 6-12-4-5-3-2-7-2-5-4-4-6-1-5-4-8zM901 0l0 12 4 5 2 1 27 0 6 3 6 6 2 4 1 5 6 6 9 0 1 1 9 0 1 1 16 0 0-44zM828 0l0 36 6 6 2 0 7 3 6 6 3 6 0 3 6 6 25 1 6-7 0-24-4-5-12-5-5-5-4-9 0-12zM840 108l-6-6-40 0-6-3-1-5-1-1 0-10 1-1 1-5 2-3 0-2 2-3 0-2 4-7-1-1 0-4-1-1 0-4-1-1 0-6-1-1 0-7-1-1-1-9-1-1-1-7-2-4 0-13-55 0 0 39-3 6-5 5-3 2-7 2-6 6-1 7-4 9-10 9-2 15-1 1-8-4-5-5-3-5 0-2-2 0-1-1-29 0 16 1 1 1 2 0 3 3 0 2 1 1 0 7 1 1 0 9-5 10-9 9-11 5-24 0-1-1-10 0-2-1-4-5-1-18-6-7-6 7 0 3 1 1 0 9 1 1 0 4 3 7-3 3-4 7 0 2-3 6-1 7 3 3 9 2 6-6 1-18 4-5 2 0 1-1 25 0 1 1 3 0 4 4 0 2 1 1 0 10 1 1 0 30 2 2 6 1 1 1 15 1 6-6 2-14 1-1 1-5 2-3-1-5-2-3 0-3-2-5 0-4-1-1 0-19 1-1 1-5 4-3 9 0 1-1 2 0 11 4 4 0 5 2 5 0 2-1 3-4 4-10 8-7 2 0 4-2 36 0 1 1 6 0 2 1 3 4 1 12 1 1 2 0 4 2 3 0 1 1 3 0 1 1 4 0 1 1 29 0 4-3zM616 35l1 1 24 0 0-2 2-4 8-8 10-4 3 0 7-6 0-12-55 0zM487 0l0 13 1 1 1 21 1 1-1 1 0 21-1 1 0 2 1 1 0 20 1 1 0 2 5 5 4 0 1 1 7 1 4 4 2 4 0 5 1 1-1 6-4 7-6 5-4 2-3 0-6 6 0 1 2 3 4 3 7 2 6 5 4 7 0 2 2 4 5 4 2-1 4 0 1-1 2 0 3-3 2-5 6-6 8-4 8-9 0-3-2-3 0-2-2-4 0-3-1-1-1-11 3-7 7-7 11-4 4-4-1-25-6-7-25 1-3 2-2 0-4 3-3 1 0 3-1 1-1 5-3 6-6 8-4-4-6-11-2-8-2-3 0-2-2-4-1-8-1-1 0-5-1-1 1-1 0-11 1-1 0-9 1-1 0-13zM362 36l12 6 2-1 4-4 4-10 6-6 10-4 4-4 1-2 0-11-43 0zM327 0l-2 0 0 12-23 23 0 33 2 0 7 4 3 3 5 9-8 4-2 3-3 8-1 9 4 2 6 1 8 3 4 0 5-5-2-14-4-11 0-24 8-17 4-6 0-5-1-1-1-5-2-3 0-2-7-10zM175 0l0 12 6 6 4 0 1 1 5 1 5 3 6 6 3 6 0 13-1 1 0 4-1 2-5 4-17 1 0 16-1 1 0 7 1 1 8-1 0-2 4-7 6-5 4-2 2 0 2 5 1 11 4 3 2 0 4 2 5 0 1 1 16 0 1 1 7 0 3 2 2 4 0 14-1 1 0 3-2 4 0 4-2 5 0 29-1 1 0 6-2 5-4 4-6 1-1 1-5 0-7 6 0 4 1 1 0 19 6 6 8-1 1-1 11-2 4-2 17 1 1 1 2 0 3 3 0 2 1 1 1 21-1 1 0 6-4 5-2 1-12 0-1 1-29 0-4 3-2 3 0 23 3 5 4 2 1-1 9-1 1-1 3 0 1-1 8-2 2-3 1-4 4-6 5-5 6-4 5-2 4 0 8 3 4 0 1 1 8 1 1 1 24 0 6-6-1-8-1-1 0-3-1-1 0-3-1-1 0-3-2-5 3-7 7-9 7-5 7-3 49 0-1-9-2-5 0-10-8-7-11-5-3 0-5 10 0 5-1 1 0 13-1 1 0 2-2 2-5 2-11 0-7-4-6-7-3-8 0-3-1-1 0-26-5-5-1 0-7 6 0 32 1 1 0 16 1 1 0 4 1 1 0 4 1 1 1 7 2 4-1 5-9 10-10 4-8 1-1-1-12 0-1-1-2 0-3-3 0-3-1-1 0-36 1-1 0-2 3-7 0-3 2-4 0-3 1-1-1-53 1-1 2-8 3-5 5-5 4-2-2-12-2-5-7-6-4 0-1-1-31 0-8-5-4-5-3-6-1-7-1-1 3-8 7-7 10-4 4-4 4-10 6-6 6-3 10-2 5-4 0-12zM29 0l0 51 1 1 0 10-1 1 0 5-1 1-1 7-4 8 0 3 1 1 0 20 3 3 7 4 70 0 1-1 4 0 1 1 3 0 8 3 8 7 4 8 0 23-1 1-1 6-3 7 0 3-2 5 0 4 6 5 2 0 1-1 7-1 11-4 0-8-4-11-2-2-10-4-2-2-1-5-1-1 0-18 2-3 1-5 7-15 0-10 1-1 0-8 1-1 0-3-6-4-14-6-6-6-4-8 0-20-1-1 0-39-12 0 0 14-2 5-5 6-10 5-2 0-3-2-4-1-7-7-3-7 0-13z"/>
<path fill="#ffa500" fill-rule="evenodd" d="M375 959l-2 4 0 3-1 1 0 3-2 5 0 16 9 0 0-20-1-1 0-4zM0 948l0 43 17 0 0-18 1-1 1-9 3-8-11-7zM926 955l0 36 65 0 0-41-17 0-1-1-5 0-1-1-3 0-1-1-3 0-1-1-5-1-7 3-10 1-1 1-5 0zM716 931l3 3 1 3 3 4 0 2 2 3 0 3 2 4 0 3 2 3 0 3 2 5 0 4 1 1 1 19 39 0 0-11-2-2-6-3-2 0-10-4-6-6-3-6 0-3-1-1 0-25-3-3-3-1-1 1-4 0-1 1-3 0-1 1zM710 931l-2 0-4-2-3 0-1-1-8-1-1-1-26 0-5 5-1 5-4 7-5 4-4 2-5 1-5 5 0 36 15 0 0-12 2-4 7-7 3-1 13-13 2-4 6-6 5-3 3 0 6-3 2 0 4-3 3-1zM570 926l-4 1-5 4 1 5 6 16 5-6 5-12 0-4zM60 926l-5 5-1 10-1 1 0 4-1 1 0 3-1 1-1 5 10 10 6-3 8-1 1-1 6 0 5-2 2-2 1-3-4-8-2-2-3-1-7-7-4-6zM834 921l-3 3-3 7 0 24 4 4 3 1 4-4 0-26-2-3 0-2zM906 897l-9 9 0 1 10 5 5-5-3-8zM350 897l-10 10 0 24 7 4 5 1 7-3 2-2 0-7-1-1 0-17-2-4-4-4zM472 878l-1 0-5 5 0 48 5 5 5-4 0-50zM420 878l-1 1-3 0-11 4 0 24 6 5 10 5 2 0 5-10 0-24-3-4zM50 882l0 1 10 5 10-5-2-3-5-2-6 0-5 2zM278 872l-3 3-2 5 0 31-1 1 0 12-1 1 0 6 7 6 25-1 9-5 0-25-10-10-5-2-6-6-3-6zM99 876l-1 7 3 7 0 4 1 1 0 4 1 1 0 6 5 6 12 1 1 1 7 1 3 2 15 4 10 6 4 4-6 6-4 7 0 2-2 3 0 2-2 4 3 2 7 3 26 0 8-4 4-6 6-6 6-4 4-9-5-6-8 0-1 1-24 0-1-1-4 0-4-4 0-3-1-1 0-14 1-1 1-6 4-7 3-3 7-4-1-4-3-3-5-2-7 0-1-1-54 0-1 1-3 0zM510 859l7 5 4 1 2-2 3-1 4-4-6-4-8 0-4 2zM83 854l-4 5 3 8 2 2 8-2 2-3 0-4 1-1-2-2-6-3zM34 854l-5 2-3 2 1 3 9 8 2-2 3-8-4-5zM785 853l-4 5 0 25 5 5 8 1 7 3 7 7 2 3 0 2 3-6 1-10 1-1 0-6-1-1 0-4-1-1 0-3-1-1-2-10-2-2-5-2-3 0-11-4zM908 837l-1 0 0 2-2 4 0 3-2 5 0 4-1 1 1 6 4 7 6-3 4-6 0-10-1-1-1-7-4-4-2 0zM254 837l-7 16-4 5 9 5 5 0 1-1 2 0 4-3 0-6-1-1 0-6-2-5-2-2zM829 834l2 3 3 2 12 0 1-1 5 0 3-2 0-2-5-4-14-6-2 0zM738 863l-9-12-4-10-1-6-5-4-2 0-3-2-8-1-9-4-6-6-2-5-2 7-10 18-4 5-7 5-2 0-3 2-7 1-1 1-15 2-6 3-4 6-10 9-2 0-3 2-6 1-1 1-12 1-1 1-5 1-5 3-1 2 2 3 0 3 2 5 0 5 1 1 1 10 1 1 0 2 4 3 5-4 8-4 7-2 4-4 0-2 2-3 5-5 6-3 2 0 4-2 4 0 9-4 3-3 2-4 8-7 10-4 8-1 1-1 6 0 2-1 1 1 8 1 8 4 5 5 2 5 4 4 3 0 4 2 8 1 1 1 5 0 4-4 0-4-1-1 0-4-1-1zM471 800l-5 10 0 22-1 2 6 5 6 0 1-1 5 0 1-1 6-1 3-2 0-23-10-5-2 0-2-2zM335 802l-5 4-1 4 5 2 7 7 1 4 2 3 1 8 4 6 2 1 10-7 0-25-1-1 0-3-3-3-5-1-1-1zM903 784l-2 5 0 6-1 1-1 8-3 6 4 5 6 12 1 4 24 0 4 4 4 2 9 1 1 1 7 0 1 1 5 1 8 6 4 8 0 3 5 5 12 0 0-63-12 0-4 3-12 6-5 1-3 3-3-3-5-2-6-6-3-6-2-10-5-5-24 0zM828 786l6 10 2 0 16-7 3-4-4-3-4 0-1-1-12 0zM788 782l-2-1-26 0-7 3-2 2 0 24 7 4 4 1 5-5 0-3 3-7 5-5 3-2 8-2 6-5zM519 781l-4 4-2 10-4 8-4 4-6 3 0 1 4 3 5 0 1 1 12 0 8 3 7 7 3 8 1 7 1 2 3 2 5-9 1-6 4-7 5-4 11-4 4-4-4-8-3-3-4-2-6-6-2-4-4-4-5-2zM30 810l6 5 25 0 8-4 4-6 6-6 6-3 5-4 8-4 7-2 0-1-4-3-4 0-1-1-37 0-7 3-3 3-2 4-6 6-4 2-3 3zM687 757l-6 3-2 2 3 4 6 12 1 5 1-6 2-4 0-4 1-1 1-6-4-5zM473 757l-7 1-5 4 10 10 10-10 0-1zM278 757l-1 0-4 4-1 5-3 6-5 5-6 3-5 1-4 4 0 3 3 6 3 3 4 2 7 8 1 5 1 1 0 8 1 1 0 3 1 2 5 4 3 0 0-3 3-8 0-4 1-1 0-4 1-1 0-20 1-1 0-6-1-1 0-20zM234 761l-4-4-26 0-1 1-2 0-5 3-4 6-6 6-6 3-3 0-4 3-3 10-8 9-4 2-26 0-4 7-2 16-4 11 3 5 8 6 25 0 1-1 9 0 1-1 5-1 2-2 2-4 0-2 5-6 1-6 1-1 1-13 4-9 4-4 6-3 5-1 5-5 1-5 4-7 6-5 10-3 2-2zM132 709l-2 1-2 3 0 33 1 1 0 3 2 4 2 1 6 6 0 1 5 4 11 5 6 0 2-1 4-5 0-4-1-1-2-10-1-1-1-11-1-2-5-4-3 0-6-3-6-6-2-4-1-5-4-5zM447 708l-5 5 5 21 1-5 1-1 0-3 1-1 0-3 1-1 0-3 1-1 0-3zM0 708l0 34 12 0 5-5 0-23-1-2-5-4zM955 703l-3 3 0 2-2 4-1 13-1 1-1 7-2 4 6 4 2 0 3 2 3 0 6 3 6 6 2 4 2 8 3 6 2 2 11 0 0-39-11 0-1-1-6-1-5-3-4-4-3-6-1-6zM786 703l-5 9 0 26 4 4 2 0 5-5 0-5-1-1 0-18zM278 703l-25 0-4 7 0 28 2 3 3 1 4-3 2-8 6-8 5-3 7-2 5-5-1-1-1-6zM848 689l6 9 1 4 4 8 5 0 1-1 3 0 5-2 3-3 3-7 0-6 1-2-5-4-18-1-1 1-5 1zM518 685l-3 4 0 25 4 4 25 0 2-1 3-4 0-17 1-1 0-6-6-5-24 0zM225 688l-5-2-3 0-1-1-11-1-6 5 0 5 1 1 0 18 5 5 1 0 4-4 1-7 3-8 6-7 6-3zM350 679l-10 10 0 25-3 5-5 5-6 3-5 10 0 26 1 1 1 9 1 1 0 3 1 1 1 5 6-5 8-4 2 0 4-2 3 0 1-1 6 3 6 6 3 6 1 6 3 3 8 2 8 7 4 7 10 4 5-5 0-24-5-10-5-3-7-7-1-3-4-5-6-12 0-2-2-4-2-2 3-5 0-2 2-4 0-3 2-4 0-3 1-1 0-26-5-6-11-1-1-1-4 0-1-1zM911 664l-1 1 5 2 6 6 4 9 1 7 5 5 5-1 5-3 0-3-3-7-2-15-3-4-2-1-5 0-1 1-6 0zM281 665l7 11 0 2 3 7 0 3 2 3 7 3 3 0 7-3 2-2-2-5 0-3-1-1-2-15-3-4-2-1-5 0-1 1-10 1zM810 644l-3 6-1 10-1 1 0 5 3 7 2 2 25 0 2-2 2-5-1-5-4-3-12-3-5-3-4-4zM740 641l2 5 4 3 2 0 1 1 5 0 1 1 7 0 10-10 0-1-4-3-2 0-1-1-10 0-1 1-5 0-1 1-5 1zM157 636l-3 0-6 3-2 2 0 3-1 1-2 8-7 12 10 2 1 1 3 0 1 1 4 0 1 1 1 0 5-5 0-24zM119 641l-3-3-5-2-28 0-3 3-2 7-4 7-5 4-9 3-5 5-2 15-1 1-2 8 10 5 5-5 1-5 4-7 3-3 9-4 9 0 1 1 7 0 1 1 9 1 10-5 10-3-7-12zM975 616l-10-2-1-1-4 0-1-1-5 0-3 3-1 2 0 24 4 4 2 0 4-4 2-10 3-6 7-7 3-1zM709 616l0 2 3 3 7-1 4-3 0-1-8-4-4 1zM487 614l-2 2 11 11 4-2 4-4 2-4-4-3-5-2-5 0zM361 617l-2-2-6-3-7 0-4 2-2 2-3 6-6 6-5 2-5 11 5 5 12 1 1 1 7 1 4 2 11-11zM0 610l0 36 11 0 3-2 3-4 0-23-5-7zM776 592l0 2 2 4 0 3 1 1 0 4 1 1 1 12 2 5 3 3 6 1 12 5 6 5 5-22-4-4-11-4-6-6-3-7 0-3-5-5zM568 587l-5 5 4 5 3-1 3-4zM181 587l-5 5 1 2 6 4 7 2 7 7 2 4 0 2 1 1 0 27 6 5 11 1 1 1 7 1 4 2 4-1 5-5 2-4-4-11-2-14-5-5-3 0-5-2-7-6-3-6-1-6-5-9-8 3-3 0-1 1zM89 584l-4-2-2 0-11 4-12 1-6 5 1 25 4 4 2 0 4-4 3-10 6-6 6-3 3 0 3-2 2 0 6-4-1-4zM641 571l-2 4 0 3-1 1 0 2-2 4 0 4-1 1 0 20 1 1 0 6 4 4 11 4 5 5 4 9 0 26 5 5 5 1 6 3 4 4 4 9 0 18-1 1 0 7 5 5 5-1 7-4 2-5 6-6 5-2 5-4 12-6 5-1-1-1 0-2-4-5-6-1-1-1-10 0-5-3-6-6-2-5-11-11-5-2-6-6-5-10-1-8-1-1 0-5-1-1 0-30-1-1 0-2-3-5-14-4-7-4zM326 571l0 2-4 10-1 8-1 1 4 8 3 2 2-2 2-5 0-6-1-1 0-4-1-1 0-3-1-1 0-3zM991 539l-36 0-3 2-2 3-2 8-6 7-9 4-26 0-2 1-4 4 1 26 3 7 2 2 3-2 6-1 1-1 15-2 4-4 1-6 2-4 7-7 8-3 37 0zM815 545l-1-3-4-3-7 1-1 1-3 0-1 1-3 0-1 1-5 1 7 2 8 4 5 4 2-1zM111 539l-3 0-5 5 1 1 0 8 1 1 0 4 3 7 7-16 4-5-3-3zM0 539l0 36 12 0 6-7 0-24-6-5zM472 534l-1 0-10 10 3 3 7 2 5-4-1-7zM590 515l-5 2-3 3 0 24 5 3 2 0 4 2 10-5 0-24-5-4-2 0-1-1zM539 519l0 1 5 5 10-5 0-1-3-2-5-2-3 0zM975 494l0 2 4 4 12 0 0-9-13 0zM859 491l-25 0-3 2-2 3 0 24 5 5 6-5 4-10 5-5 6-3 3 0 4-4 1-3zM133 485l-5 9 0 29 2 5 3 2 1-1 10-2 1-1 5 0 1-1 5 0 2-1 4-5 0-23-2-3-4-3-12-1zM954 467l-3 3 0 3 2 2 3 1 4-4 0-1-4-4zM618 467l-3 0-4 4 0 23 1 1 1 7 3 4 3-4 0-2 2-3 0-26zM791 471l-5-5-5 5-1 5-3 6-7 6-5 2-3 0-5 5-2 14-1 1 0 3-1 1-1 5-2 4-5 6-10 6-6 1-1 1-4 0-1 1-11 1-8 4-2 2-1 3-8 8-3 1-11 11 3 3 5 2 27 0 10-5 3-6 5-5 3-1 2-2 2 0 7-3 10-1 1-1 6 0 1-1 4 0 1-1 7-1 4-2 3 0-5-2-8-9 0-2-2-3 0-3-1-1 0-7 3-7 6-6 6-3 3 0 5-4 1-2zM350 437l-5 10-1 12-1 1-1 7-2 4 6 4 11 3 5 3 5 6 2 5 0 3 6 6 6 1 5 3 5 6 3 8-1 5-3 6-8 7-8 2-4 4 0 5 1 1 0 3 1 1 2 7 2 1 5-3 2 0 4-2 3 0 5-2 5 0 4 2 6 6 3 5 0 25-2 4-8 8-5 2-4 3-6 8 0 23 4 3 4 1 3 2 24 0 5-5 0-27 1-1 1-7 4-7 4-4 6-3 3-3 3 3 4 1 14 7 2 2 2 0 2-2 2-5-1-5-4-3-10 0-1-1-3 0-3-3-1-2 0-4-1-1 0-10-3-7-7-4-6-6-2-4-12-12-4-2-7-7-5-12-1-10-1-1 0-8 1-1 0-2 5-8 6-4 7-2 3-2 2-3 0-24-5-5-5 5-1 5-3 6-4 4-8 4-30 0-7-3-4-3-4-6-3-13-1-2zM647 423l-6-5-12 1-1 1-3 0-5 3 4 1 3 2 2 0 4 3 5 2 2 2 2-1zM0 417l0 36 12 0 6-6 0-24-6-6zM740 423l5 4 17 1 6-5 0-2-6-8-11 0-1 1-5 1-3 3zM691 413l-2 0-2 2-4 8 0 48 6 7 5-6 3-10 7-7 8-3 4 0 1-1 3 0 1-1 3 0 1-1 10-2-1-1-1-8-4-5-8-3-7 0-14-13zM930 403l-2 5 0 3-1 1-1 11 5 5 21-5-1-10-1-1 0-2-3-4-3-2-6-1-1-1-6 0zM883 402l-6 9-9 5-7 1-1 1-26 0-2 1-4 4 0 24 6 5 25 0 4-4 1-5 3-6 6-6 10-3 5-5-1-1 0-8-1-1 0-4zM594 394l-4 1-3 4 1 1 1 6 3 3 4-1 5-5 2-4zM87 394l-5 1-4 4 0 4 1 1 0 19 5 10 11-11 0-23-2-2zM156 394l-4 4 0 50 4 4 50 0 10 4 4 4 4 8 0 27 6 6 3 0 3 2 2 0 6 5 3 5 1 6 4 5 2 1 1-1 9-1 1-1 3 0 1-1 5-1-4-2-6-6-2-3 0-2-2-3 0-3-1-1 0-8 1-1 0-2 6-8 5-3 2 0 4-2 7 0 1 1 18 0 9-5 0-1-10-5-3 0-7-3-6-6-3-7 0-3-5-6-4 4-2 4-1 5-3 5-5 4-7 3-5 0-7-3-7-7-2-5 0-3-1-1 0-5 1-1 0-18-5-5-7-1-1-1-5-1-5-3-6-7-1-4-13-7-6-6-5-10-3 6-4 4-8 4zM910 369l-4 0-4 5 0 3 3 6 2 2 4-2 5-6 0-4zM423 364l-5 1-1 1-3 0-1 1-13 1-1 1-22 0-6 3-2 4 0 6-1 1-1 9-3 6 0 25 3 3 8 2 10-5 0-25 1-2 7-8 7-4 2 0 4-2 3 0 1-1 5 0 1-1 6 0 2-1 5-5-2-3 0-2zM123 350l2 3 5 2 3 0 4-4-1-3-3-2-6 1zM689 344l-5 6 0 16-1 1 0 8 3 6 3 4 24 0 3-3 2-5-1-5-3-4-4-2-2 0-3-2-6-6-3-8zM592 333l0 1-6 6-6 3-3 0-5 2-5 0-1 1-12 1-7 3-3 3 0 2-6 10-7 6-9 4 0 1-2 1-1 4-2 3 0 2-9 16-6 7-7 4-4 8 0 27-1 1 0 12-1 1 0 18 1 1 0 13 1 1-1 1-1 12-1 1-1 7-2 3 2 3 8 3 6-6 0-3 2-3 0-2 3-4 5-4 10-3 3-3 2-7 4-7 7-5 8-2 1 1 3 0 1 1 3 0 3 2 2 0 7 6 3 6 2-5 0-3 2-4 0-3 2-4-1-29 1-1 0-6 1-1 1-7 2-4 0-3-2-2-5-1-1-1-28 0-9-4-4-4-4-8 0-14 2-5 2-2 2 0 1-1 10 0 1-1 5 0 1-1 4 0 8-3 3 0 4-3 1-4 5-6 9-5 10-2 4-4 0-3-1-1 0-3zM496 321l-5 4 0 2 4 4 1 0 4-4 0-2zM0 316l0 16 15 0 1-1 5 0 1-1 6-1 5-3-7-5-12-5zM979 297l-10 5-4 7-6 5-4 2-24 0-1 1-4 9-1 26 2 5 2 2 8 4 7 8 2 4 0 10 1 1 1 6 2 2 4 2 2 0 2 2 0 25 3 0 4 2 3 0 5 2 4 0 1 1 13 0 0-34-17 0-1-1-6 0-5-4-1-2 0-5-1-1 0-32 4-9 8-7 2 0 4-2 13 0 0-34zM277 297l-4 4-1 7-1 1-1 5-3 5-5 5-5 2-4 4-10 6-2 0-3 2-9 2-2 2-3 8 5 5 7 2 5 3 5 6 2 5 0 3 6 6 6 1 8 6 3 5 0 2 3 7 4 4 2 0 1-1 21 0 1-1 4 0 1-1 3 0 1-1 10-2 1-1 0-23 1-2 2-1 0-2 6-10 4-4 6-4 5-2-1-11-1-1 0-6-1-1 0-10 1-1 0-6 1-1 1-11-2 0-4-2-3 0-1-1-3 0-1-1-4 0-1-1zM260 336l3-3 2-1 4 0 1-1 33 0 1 1 5 1 7 5 4 7 0 2 1 1 0 12-1 1 0 3-2 3-4 2-9 0-1 1-26 0-1-1-3 0-9-5-6-10 0-15 1-1zM176 302l0 25 5 10 3-2 6-1 1-1 10-1 1-1 6 0 5-2 2-2 0-3-2-4-1-8-1-1-1-10-4-4-25 0zM109 297l-26 0-8 4-2 2-1 3-8 8-4 2-8 2-11 6-2 3 6 8 0 2 2 3 0 2 2 4 0 3 3 3 6 3 2 0 4-3 4-11 7-7 8-3 3 0 8-4 4-7 5-5 3-1 4-4 2-4 1-5zM447 281l-2 4 0 2-5 10-3 4 0 26 2 3 7 6 2-1 4-8 0-27-1-1 0-4-1-1 0-3-1-1 0-3-1-1zM664 273l-5 5 0 24 6 6 5-6 0-24-5-5zM898 271l-3 0-1-1-14 0-3 2-2 3 0 2-1 1 0 24 3 5 5 5 1 0 5-10 1-8 3-7 5-6 7-4-2-4zM374 249l-4 4 0 26 2 3 3 1 2-1 3-4 0-23-1-2-4-4zM224 277l1 2 5 4 1-1 4 0 1-1 3 0 1-1 10-2 4-4 0-2 4-7 7-7 10-5-2-2-5-1-1-1-38 0-5 5zM713 244l-4 7 0 3 2 3 3 1 4-4 0-2-4-8zM331 251l-1-1-1-8-1-1-2-8-3 6-3 3-7 4-2 0-4 2-4 0-1 1-14 0-1 1-5 1-1 2 4 2 3 0 5 2 4 0 1 1 29 0 4-4zM442 229l0 26 1 1 1 9 1 1 0 3 1 1 1 5 2-5 7-7 11-4 8 0 6 3 6 6 3 6 0 3 3 4 3 2 2 0 7 3 7 7 3 10 5 4 5-5 0-3 3-7 6-6 7-3 3 0 10-5 0-25-9-5-4 0-4 2-10 2-8 4-4-3-10-2-1-1-4 0-5-2-3 0-8-4-5-6-4-11-4-4-1 1-23 0zM104 228l0 3 4 4 18 0 1-1 6 0 10 4 5 5 3 6 1 5 4 4 26 0 4-4 0-16 1-1 0-8-6-5-71 0-1-1zM0 223l0 35 11 0 1 1 6 1 5 3 4 4 3 6 0 3 1 1 1 5 4 6 4-7 1-6 3-7 6-6 10-4 25 0 5-4-3-4-13-5-5-5-2-3-2-8-5-5-47 0-1-1zM741 205l9 6 4 7 0 2 2 4 0 4 1 1 0 49 5 5 5 0 1 1 10 1 1 1 14 4 5 5 1 6 12 12 3 1 8 8 5 12 1 10 1 1 0 16-1 1 0 10-1 2 4 4 2 1 26 0 2-1 2-3 0-2-4-8-2-2-3-1-9-10 0-26-1-1-1-22-1-1 0-24 3-6 5-6 7-4 2 0 4-2 2-2 2-4 0-4 1-1 1-5 4-8 6-6 0-1-10-5-2 0-4-2-3 0-1-1-19-1-1-1-8 0-1 1-2 0-3 3-1 7-1 1 0 3-1 1-2 8-4 7-3 3 0 25-3 3-3-3 0-25-6-8 0-2-2-3 0-2-2-4-1-9-2-4-5-2-4 0-5-3-5-5-3-6-6-4-5-1-1 1-4 0-1 1-3 0-1 1zM617 200l-5 4 0 5 1 1 0 4 1 1 1 7 2 5 2 2-3 4 0 2-2 3-8 7-2 0-3 2-3 0-1 1-4 0-3 2-2 0-4 2-2 2 0 24 6 9 1 4 3 5 0 2 3-8 0-4 2-5 0-4 3-8 5-6 5-3 6-1 5-5 2-15 5-4 13-1 5-4 0-2-5-9-2 0-7-3-4-5-1-6-4-3-2 0zM835 171l-35 0-1 1-6 1-3 3-1 5 4 5 3 6 0 2 3 7 0 3 1 1 0 5 3 4 2 1 4 0 1 1 1-1 4 0 4-3 1-2 0-5 3-5 6-6 4-2 3-3 3-6 0-5-2-5zM540 175l-1 6 5 5 15 2 8 3 2-1 4-8-1-6-3-5-26 0zM374 171l-4 8 0 16 1 1 1 5 2 1 5 0 1-1 5-1 4-4 2-5 0-3 1-1 0-6-7-6-8-4zM713 160l-4 11 0 7-1 1 0 2 1 1 0 4 1 1 1 8 3 7 3-4 0-4 1-1 0-25-1-1-1-5zM181 160l-2 0-6 3-5 5-2 3 0 2-2 4 0 3-1 1 2 0 7 3 7 1 1 1 4-2 3-3zM133 160l-4 11-2 10 5 5 6-1 1-1 11-3 0-3-1-1-1-5-3-5-6-5-4-2zM741 155l0 2 10 2 1 1 3 0 1 1 4 0 1 1 16-1 5-2 1-2-2 0-4-2-3 0-1-1-3 0-1-1-3 0-1-1-16 0-1 1-4 0zM449 153l-2-1-5 5-1 7-4 9-6 6-5 2 10 2 1 1 3 0 1 1 4 0 1 1 3-1 4-4-1-24zM326 152l-6 5 0 30 1 1 0 18 1 1 0 4 1 1 0 3 1 1 2 10 5-10 6-6 10-5-5-2-6-6-2-4 0-2-2-4 0-3-1-1 0-26-1-2zM594 136l-2 0-4 5-6 14 0 2 3 3 6 1 1 1 5-5 0-13-1-1 0-4zM856 129l-3 4-1 12-1 1-1 7-2 4 6 4 5 1 9-5 0-3-3-8-1-12-1-2-4-4zM935 127l-1 1-4 0-4 5 5 10 3 1 7 6 5 9 0 2 2 4 0 4 1 1 0 5 1 1 0 10-1 1-1 10-5 12-5 6-6 4-7 2-15 8 0 3 1 2 5 4 2 0 1 1 7 0 1 1 5 0 2 1 8 7 4 7 6 3 4 0 4-4 0-50 3-8 7-7 8-3 13 0 0-34-12 0-10-4-5-5-3-6-1-5-4-5zM665 111l0 2-6 10-4 4-6 4-2 0-3 2 0 48 6 3 10 1 1 1 4 0 5-5 0-5 1-1 1-10 3-7 0-3-2-3 0-3-2-5 0-5-1-1 0-13-1-1 0-7-1-1 0-2zM446 104l-4 4 3 4 3 1 4-4 0-1-4-4zM789 107l0 1 2 1 10 2 1 1 3 0 1 1 29 0 4-4 0-1-5-5-26 0-1 1-12 0zM591 103l-2 2-2 5 1 1 0 7 1 1 1 7 2 3 2 0 2-3 0-4 1-1 0-13-4-5zM374 101l-4 6 0 27 2 5 3 4 24 0 4-8 0-3-5-5-6-1-7-5-3-4 0-2-2-3 0-3-3-6zM326 87l-7 3-5 4-3 5 0 2-2 4 0 3 1 1 2 0 7 3 3 0 1 1 4 0 4-4-1-9-1-1 0-3-1-1zM279 87l-4 0-1 1-5 0-1 1-2 0-7 6-1 6-1 1 0 6-4 5-2 10-1 1 0 4-1 1 0 30-1 1 0 9-1 2-4 4-4 0-1 1-9 0-6 5 1 2 0 22 5 5 3 0 5-2 4 0 4-2 6-1 0-25 2-2 1 0 3 4 1 10 4 6 3 2 7 1 1 1 4 0 1-1 0-2 3-7 0-3 2-4 0-3 1-1-1-52 1-1 1-7 3-6 7-7 0-3-1-1-1-5-4-6zM326 15l-21 21 1 9 2 5 4 4 5 2 4 0 1 1 4 0 3-6 0-2 7-12 0-4-1-1-1-5-3-6zM902 0l0 12 2 3 3 2 27 0 7 3 6 6 3 7 0 3 5 5 11 0 1 1 10 0 1 1 13 0 0-43zM829 0l0 36 5 5 3 0 7 3 6 6 3 7 0 3 5 5 25 1 5-6 0-24-3-4-4-2-3 0-6-3-5-5-4-10 0-12zM783 0l-50 0 0 35-1 1-1 6-2 4-5 5-6 3-5 1-5 5 0 4-1 1 0 3-1 1-1 5-3 5-4 4-1 0-2 3 0 6-1 1 0 6-1 1 0 5-1 1 0 2 5 2 7 1 1 1 9 1 4-4 1-5 3-6 5-5 6-3 2 0 1-1 37 0 1-1 5 0 4-3 3-4 1-5 2-3 2-7 3-5-1-9-1-1 0-7-1-1 0-8-1-1 0-4-1-1 0-3-1-1-2-10-3-3zM619 0l0 12 1 1 0 6 1 1 1 5 2 3 8 4 5 0 1 1 2 0 4-7 3-3 7-4 10-2 6-5 0-12zM489 0l0 21 1 1 0 12 1 1 0 2-1 1 0 44 1 1 0 2 4 4 7 0 1 1 5 0 2 1 4 5 0 6 1 1 0 6-1 1-1 5-3 5-6 5-9 3-4 4 0 1 5 5 3 0 8 4 5 6 3 9 5 5 1-1 6-1 3-3 3-6 5-5 8-4 7-7 1-4-3-7-1-10-1-1 0-7 3-7 7-7 10-3 4-3 1-2-1-24-5-6-25 1-10 5 0 4-5 13-4 6-4 4-1 0-5-6-5-9 0-2-2-4 0-3-1-1 0-2-3-7 0-3-1-1-1-12-1-1 1-2 0-12 1-1 0-21zM404 0l-40 0 0 36 10 5 2-1 3-3 1-5 3-6 6-6 4-2 5-1 5-4 1-2zM176 0l0 12 5 5 8 1 10 5 3 3 4 8 2 2 0 26 1 1 0 5 1 1 0 6 1 1 0 6 1 2 5 3 7 1 1 1 16 0 1-1 7-1 1-1 0-2-5-2-7-8 0-2-2-3-1-7-1-1 1-5 3-6 6-6 4-2 5-1 5-4 4-11 6-6 10-4 6-1 4-3 0-12zM30 0l0 50 1 1 0 11-1 1 0 6-1 1-1 8-3 6 0 3 1 1 0 20 9 6 68 0 1-1 5 0 1 1 4 0 10 4 7 7 1 3 1 0 2-7 6-13 0-8 1-1 0-10 1-1 0-4-10-6-3 0-6-3-8-9 0-2-2-4 0-19-1-1 0-40-10 0 0 15-2 3 0 2-5 6-5 3-2 0-4 2-10-3-7-7-3-8 0-13z"/>
<path fill="#ff7f50" fill-rule="evenodd" d="M375 965l-2 4-1 8-1 1 0 13 7 0 0-15-1-1 0-4-1-1zM0 950l0 41 15 0 0-15 1-1 0-7 1-1 0-5 1-1 1-6-7-5zM927 956l0 35 64 0 0-39-13 0-1-1-8 0-1-1-5 0-5-2-5 0-1 1-10 1-1 1-7 0-1 1-2 0zM722 931l5 10 0 3 1 1 0 3 2 5 0 4 2 5 1 12 1 1 0 16 35 0 0-12-6-3-3 0-1-1-3 0-5-2-5-4-3-5-1-6-1-1 0-26-3-3-5 0-1 1zM571 928l-4 0-4 3 1 5 4 10 2-2 6-13zM705 931l-3 0-1-1-3 0-1-1-3 0-5-2-24 0-4 4 0 4-4 9-6 5-5 2-4 0-5 4 0 36 11 0 0-12 3-6 5-6 7-4 2 0 8-8 0-2 2-4 5-6 7-4 5-1zM209 931l-4-4-24 0-1 1-9 0-1 1-2 0-2 1-8 9-1 0-3 6-2 2 0 2-3 6 8 4 24 0 8-4 0-2 4-7 6-5 4-2 2 0zM60 927l-4 4 0 9-1 1-1 10-2 4 8 8 1-1 8-1 1-1 14-1 4-4-3-6-2-2-7-3-4-4-4-7 0-2zM834 924l-4 6 0 25 4 4 4-4 0-24zM350 900l-7 7 0 24 5 3 5 0 5-3 0-18-1-1 0-6-1-2-4-4zM907 899l-7 7 1 2 4 2 2 0 3-3 0-2zM471 879l-3 3 0 49 4 3 3-3 0-48zM423 879l-13 4 0 24 11 7 2 0 3-6 0-26zM53 882l0 1 6 3 2 0 6-3-1-2-5-2-5 1zM278 875l-2 2-2 5 0 38-1 1 0 10 4 4 25 0 8-4 0-24-8-8-2 0-7-4-5-6-3-7zM103 878l-2 3 0 3 1 1 0 4 1 1 0 4 1 1 1 12 3 3 2 0 1 1 8 0 1 1 5 0 1 1 3 0 5 2 4 0 1 1 7 1 10 5 3-2 0-3 1-1 0-10 1-1 0-5 1-1 1-6 2-4 6-6 1 0-3-4-10-4-51 0zM513 858l1 2 5 3 2 0 6-4-1-2-5-2-3 0zM84 855l-3 3 0 3 2 4 2 1 2-1 5-6-2-2zM35 855l-6 3 1 3 6 5 3-5 0-3zM786 854l-4 5 0 23 4 4 11 2 7 3 6 6 0 1 2-5 0-3 1-1 0-5 1-1-1-1 0-4-1-1-2-10-2-1-6-7zM907 843l0 2-2 4 0 3-1 1 0 4-1 1 4 8 7-6-1-9-2-4zM254 843l-6 13-2 2 7 4 2 0 6-4-2-9zM831 833l0 2 3 3 9-1 1-1 3 0 3-2-14-7-2 0zM740 876l-1-1-2-8-6-4-2-3 0-2-3-4 0-2-3-6-2-12-6-3-9-1-1-1-6-1-5-3-5-6-1 4-8 14 0 2-2 3-8 7-8 3-3 0-1 1-4 0-1 1-8 0-1 1-7 1-4 3-4 8-7 6-11 4-12 1-1 1-6 0-7 4 0 2 2 5 2 19 2 4 2 1 6-4 8-3 8-8 1 0 2-4 6-5 2 0 3-2 3 0 1-1 9-1 6-3 3-7 7-7 9-4 8-1 1-1 7 0 1-1 8 0 1 1 8 1 8 4 4 6 3 1 7 8 3 0 1 1 3 0 5 2 3 0 3-3zM471 803l-3 6-1 25 4 4 2 0 1-1 5 0 8-3 0-24-2 0zM348 803l-1 1-3 0-5 2-3 2-1 2 7 6 3 7 2 12 2 3 2 1 7-5 0-24-3-5-4-2zM903 786l-1 14-1 1 0 4-2 5 2 2 5 10 1 4 26 0 4 3 2 3 0 2 2 1 6 1 1 1 5 0 1 1 8 1 6 3 4 4 3 7 1 6 3 3 12 0 0-60-11 0-4 3-8 4-4 1-2 3-7 6-5-3-3-4 0-2-3-1-4-4-4-9-1-10-4-4-24 0zM830 786l4 7 5-1 11-6-7-3-6 0-1-1-2 0zM790 786l-4-4-24 0-7 3-1 1 0 24 5 3 3 0 4-5 0-3 3-7 5-5 7-3 4 0zM520 782l-4 4-1 9-3 8-7 7-1 0 8 3 12 1 9 4 6 9 1 7 4 8 3-6 3-12 2-3 6-5 2 0 4-2 4 0 4-4 0-1-4-7-2 0-4-2-6-5-4-7 0-2-3-2-5-2zM99 785l-2 0-4-2-6 0-1-1-26 0-8 4 0 2-4 7-6 5-4 2-2 0-4 8 4 4 24 0 8-4 0-2 2-4 5-6 12-6 2-2 10-4zM689 758l-5 2-2 2 6 11 1 4 2-10 1-1 0-3 1-1zM471 758l-5 2-2 2 7 7 1 0 7-7zM278 758l-2 1-2 3 0 3-3 8-6 6-4 2-7 1-2 1-2 3 4 8 2 0 4 2 7 7 2 3 0 2 2 4 0 4 3 6 3 3 1 0 0-3 1-1 0-3 2-5 0-11 1-1 0-30-1-1 0-9zM232 760l-3-2-24 0-8 4 0 2-2 4-4 5-4 3-8 3-4 4-4 10-7 7-6 3-24 0-1-1-4 7-1 14-1 1 0 4-2 5 1 3 7 6 25 0 11-4 4-4 0-1 7-7 1 0 0-2 2-4 0-3 1-1 1-10 3-8 5-5 7-3 4 0 2-1 3-3 0-4 1-1 1-5 2-3 4-4 4-2 9-2 3-3zM448 710l-4 3 0 4 1 1 2 11 2-10 1-1 0-6zM132 710l-3 3 0 27 1 1 1 7 2 3 4 2 4 4 3 5 4 3 9 4 4-2 3-4 0-4-1-1-1-9-1-1 0-8-1-1 0-2-3-3-9-2-5-3-5-7-2-9zM0 710l0 31 12 0 3-3 0-25-3-3zM955 706l-3 5 0 4-1 1 0 8-1 1 0 5-1 1-1 6 4 3 12 3 7 5 3 5 2 10 3 6 12 0 0-35-13 0-11-4-6-7 0-2-2-4 0-4zM786 706l-4 7 0 24 4 4 4-3 0-19-1-1 0-7zM278 706l-25 0-3 6 0 26 3 3 4-3 2-9 2-4 4-4 6-3 7-1 3-3 0-3zM874 689l-8-3-10 0-4 2-1 2 2 2 5 10 0 2 3 0 4-2 6-6zM519 686l-3 3 0 24 4 4 24 0 3-3 0-3 1-1 0-21-3-3zM221 689l-2 0-4-2-3 0-1-1-7 0-3 3 0 19 1 1 0 5 3 3 4-4 0-5 1-1 0-3 3-8 4-5zM350 682l-7 7 0 25-3 6-7 7-7 3-3 6 0 30 1 1 2 10 7-4 2 0 7-3 10-1 6 3 6 6 2 3 2 7 3 4 10 4 7 7 2 3 1 4 5 3 3 0 3-3 0-25-1-1 0-2-3-4-5-2-7-6-3-5-1-4-2-2-5-10 0-2-9-9 0-1 8-8 3-8 0-3 2-4 0-8-1-1 0-16-4-4-9 0-1-1-5 0-1-1zM917 664l-1 1 6 5 3 6 1 6 1 1 0 6 4 4 7-3 1-1-1-1-1-7-1-1-1-15-4-4zM286 665l4 6 0 2 3 7 1 9 8 4 7-4 0-3-2-5-1-15-1-2-4-3-1 1-5 0-1 1-3 0zM810 649l0 2-2 4 0 3-1 1 0 8 3 5 25 0 3-7-4-4-5 0-1-1-7-1-7-4zM769 641l-2-2-5-2-8 1-8 3 6 5 2 0 4 2 4 0zM157 637l-8 4-1 8-1 1-2 8-3 5 0 2 10 2 1 1 4 0 3-3 0-25zM116 641l-2-2-5-2-25 0-4 5 0 4-4 8-3 3-6 3-7 1-4 4 0 9-1 1-1 10-2 4 8 4 4-4 0-4 1-1 1-5 2-3 4-4 4-2 9-2 1 1 12 0 1 1 7 0 1 1 2 0 5-3 10-3-4-7 0-2-2-4 0-3-1-1zM957 613l-2 0-3 3 0 25 3 3 1 0 3-4 1-9 4-9 5-5 1 0-4-2-8-1zM710 616l3 4 4-1 3-2 0-1-6-3zM488 616l0 1 7 7 3-1 5-6-7-4-2 0zM358 617l-2-2-5-2-5 1-3 2-5 10-6 5-6 2-3 6 0 2 3 3 3 0 1 1 7 0 1 1 5 0 1 1 7 1 7-7zM0 611l0 33 12 0 3-3 0-25-4-5zM779 592l0 4 1 1 0 4 1 1 0 6 1 1 0 8 2 5 2 2 2 0 1 1 4 0 1 1 3 0 1 1 5 1 7 4 2-10 1-1 0-5-3-3-6-1-5-2-6-6-3-7 0-3-4-5-4 1zM568 589l-3 3 3 4 3-3-1-3zM456 592l13 6 2 2 2-2 2-5-3-4-10 0zM181 589l-3 3 3 4 7 1 7 4 4 5 0 2 2 4 0 3 1 1 0 25 3 3 3 0 1 1 7 0 1 1 5 0 5 2 5-1 5-6-1-5-1-1 0-4-1-1-1-14-3-3-7-1-6-3-5-5-3-8 0-4-4-7-6 1-1 1-14 1-1 1zM87 586l-5-1-1 1-9 1-1 1-8 0-1 1-3 0-3 3 0 24 4 4 4-4 0-4 3-7 6-6 8-3 6-1 5-3zM641 577l-4 11 0 3-1 1 0 2 1 1 0 21 2 3 5 2 3 0 6 3 5 5 3 8 0 28 5 4 4 0 7 3 5 5 2 4 0 3 2 5-1 2 0 22 4 4 8-4 0-2 2-4 8-8 4-2 2 0 4-3 10-5 2 0-4-4-4-2-7-1-7-3-5-4-5-8 0-2-8-8-2 0-4-2-6-5-4-7 0-2-2-4 0-3-1-1-1-15-1-1 0-27-3-5-4 0-1-1-7-1zM326 577l0 2-3 7 0 3-1 1 0 3 4 7 4-8-1-1 0-4-1-1 0-3-1-1zM111 541l-4 0-2 3 0 4 1 1 0 4 1 1 1 5 5-11 3-4zM991 540l-35 0-4 3-2 9-2 4-5 5-4 2-7 1-1 1-25 0-3 3 0 24 3 7 1 1 1-1 8-1 1-1 14-1 4-4 0-4 4-9 3-3 9-4 40 0zM814 544l-4-4-1 1-4 0-1 1-3 0-1 1-5 1 4 1 10 6 2-1zM0 540l0 33 12 0 4-5 0-24-5-4zM472 537l-1 0-7 7 5 3 3 0 3-3-1-4zM592 516l-5 2-2 2 0 24 6 3 3 0 6-3 0-24-2-2zM541 519l1 3 2 1 4-1 3-2 0-1-7-3zM976 495l3 4 12 0 0-7-12 0zM859 492l-25 0-3 3 0 25 3 3 1 0 4-4 0-3 3-7 6-6 4-2 6-1 4-4zM133 488l-4 7 0 26 3 6 3 0 5-2 5 0 1-1 7 0 1-1 3 0 3-3 0-25-3-3-13-1-1-1-4 0-1-1zM956 468l-4 3 3 4 3-3 0-2zM789 471l-4-3-3 4 0 3-3 8-5 5-6 3-6 1-3 2-1 2 0 5-1 1 0 7-1 1 0 4-1 1-1 6-3 6-6 6-12 5-11 1-1 1-8 0-6 3-2 2 0 2-3 5-5 5-7 3-8 8 2 2 5 2 24 0 8-4 1-4 2-3 7-7 4-2 2 0 4-2 4 0 1-1 14-1 1-1 4 0 1-1 4 0 4-2 3 0-7-6-2-4-1-6-1-1 0-4-1-1 0-4 1-1 1-6 5-7 5-3 9-2 3-3zM617 468l-1 0-4 4 0 7 1 1 0 17 3 6 4-7 0-25zM350 440l-3 6-1 12-1 1 0 5-1 1-1 6 7 4 7 1 6 3 4 4 3 6 1 7 3 3 3 0 10 4 4 4 4 10 0 6-3 8-6 6-4 2-7 1-4 4 0 2 2 4 0 3 2 4 3-2 3 0 4-2 4 0 1-1 4 0 1-1 5 0 6 3 7 7 3 7 0 17-1 1 0 8-3 6-8 7-6 2-7 7 0 24 2 2 5 2 25 0 3-3 0-24 1-1 0-6 1-1 1-6 4-7 6-4 0-1 10-9 0-2 1-1 0-8 1-1-1-5-3-5-2 0-7-4-5-6-2-4 0-2-8-8-2 0-4-2-7-6-5-11-1-10-1-1 0-7-1-1 1-8 2-5 5-6 6-3 7-1 3-3 0-25-1-2-3-1-3 3 0 4-1 1-1 5-2 3-4 4-4 2-6 1-1 1-27 0-1-1-3 0-5-2-6-5-3-6-1-8-3-6zM645 423l-5-4-1 1-5 0-1 1-3 0-5 2 2 0 13 7 2-1zM0 419l0 32 12 0 4-4 0-24-4-4zM767 423l-6-8-11 4-4 4 8 3 9 0zM689 415l-4 7 0 50 4 4 3-3 2-9 5-8 7-4 3 0 1-1 8-1 1-1 10-2-2-4-6-6-10-4-11-12zM883 408l-1 0 0 1-6 6-8 3-3 0-1 1-29 0-2 1-3 3 0 24 5 4 23 0 4-4 1-6 2-5 6-6 7-3 4 0 4-4 0-4-1-1 0-4-1-1zM931 407l0 2-2 4 0 3-1 1 0 7 2 2 5 0 1-1 10-2 0-3-3-5-4-4zM964 398l0 25 3 0 1 1 7 1 1 1 15 0 0-31-17 0-1 1-5 0zM592 395l-3 3 0 3 2 4 2 1 2-1 5-6zM84 395l-4 4 0 18 1 1 0 6 3 6 1 0 7-7 0-24zM520 383l-2 4 0 2-4 6-5 11-6 6-3 2-4 1-4 7 0 34-1 1 0 29 1 1 0 13-1 1 0 7-1 1 0 4-1 1-1 6 6 3 2 0 3-3 2-9 2-4 4-4 7-3 6-1 3-3 2-9 6-8 10-4 12 1 8 3 5 4 2 4 0-2 2-4 0-3 2-4 0-35 1-1 1-11 2-4-8-4-28 0-1-1-5-1-3-2-4-4-2-4-1-6-1-1 0-10-1-1 0-3zM157 395l-4 4 0 48 4 4 52 0 1 1 5 1 3 2 4 4 4 11 0 26 3 3 6 1 7 3 4 4 4 10 0 3 3 3 4 0 1-1 10-2 0-1-1 0-6-7-2-5 0-3-1-1 0-4-1-1 0-4 1-1 1-6 2-4 4-4 10-4 25 0 2 1 4-3 3-1 0-1-6-3-6-1-7-3-5-5-3-7 0-3-4-6-4 4-1 7-3 6-6 5-5 2-3 0-1 1-7-1-5-2-6-5-3-6 0-3-1-1 0-24 1-1 0-2-5-4-5 0-1-1-7-1-4-2-7-7 0-1-8-7 0-1-5-2-9-9-2-5 0 1-7 7-8 3zM907 370l-4 5 4 7 2-1 5-6-3-3zM423 367l-2 0-1 1-5 0-1 1-6 0-1 1-33 1-3 3-2 19-2 4 0 26 5 3 4 0 6-3 0-25 3-6 7-7 6-3 6-1 1-1 5 0 1-1 12-1 4-3 0-2zM125 350l2 2 5 2 4-3-3-4-2 0zM689 346l-3 3 0 2-1 1 0 23 4 7 24 0 3-4 0-2 1-1-4-6-6-1-5-3-4-4-3-6-1-5zM593 339l-1-1-3 3-9 4-9 1-1 1-6 0-1 1-4 0-1 1-5 1-2 4-3 3-4 2-3 6-7 7-5 2 0 1 3 2 3 0 1 1 10 0 1-1 3 0 1-1 3 0 1-1 5-1 1-3 4-4 3-1 0-1 6-6 3-2 2 0 4-2 9-1 4-4-3-8zM228 344l-2 7 3 3 7 1 6 3 4 4 3 6 1 7 3 3 6 1 7 3 6 7 2 10 4 4 27-1 1-1 3 0 1-1 3 0 5-2 0-23-4-3-4 0-1-1-33 0-11-4-6-8-1-6-1-1 0-9-1-1 0-4-2-3-8 4-10 2-1 1-4 0zM495 323l-3 3 4 3 3-3zM0 319l0 11 16 0 11-4-6-4-4-1-3-2zM991 298l-11 0-7 3-2 2 0 2-2 4-6 6-5 3-2 0-1 1-24 0-3 5 0 2-1 1 0 25 3 5 8 3 7 7 3 6 2 10 2 4 3 3 1 0 2-4 0-7 1-1 0-31 1-1 0-3 2-4 6-6 4-2 3 0 1-1 15 0zM278 298l-4 4-1 9-3 8-4 5-4 2 2 2 2 0 1 1 7 0 1 1 31 0 9 4 5 6 0 2 2 4 0 3 1 1 0 10 3 6 3-6 7-7 6-3-1-2 0-7-1-1 0-9-1-1 0-8 1-1 0-8 1-1 0-8 1-2-10-2-1-1-4 0-1-1zM177 302l0 24 4 8 1-1 8-1 1-1 14-1 8-4-1-1-1-8-1-1-1-14-4-4-24 0zM112 302l-4-4-24 0-6 3-2 2-3 7-5 5-21 9-2 3 3 5 0 2 2 4 0 3 2 5 0 4 8 4 4-4 0-4 4-9 3-3 6-3 7-1 7-3 2-3 1-4 8-8 4-2 2 0zM447 287l-7 14 0 26 7 7 4-8 0-24-1-1 0-4-1-1 0-3-1-1zM665 274l-4 3 0 25 1 2 3 2 3-3 0-26zM886 272l-4 0-2 1-3 4 0 26 5 6 1 0 3-6 1-9 4-10 6-6 1 0 0-1-3-2-5-2-3 0zM374 250l-3 3 0 25 2 3 2 1 4-4 0-8-1-1 0-16zM226 278l3 3 15-3 8-8 1 0 2-5 3-4 7-6 3-1 0-1-5-2-4 0-1-1-29 0-3 3zM713 246l-3 6 0 2 3 3 2-1 2-3zM617 238l-2 3-6 5-8 3-9 1-5 2-2 2 0 24 7 13 0 2 1-5 1-1 0-3 1-1 0-3 1-1 1-8 3-6 4-4 7-3 6-1 3-3-1-13zM330 253l-1-1 0-3-1-1-2-10 0 1-6 6-6 3-8 1-1 1-13 1-5 2 4 2 8 1 1 1 26 0zM444 229l0 29 1 1 2 10 6-7 10-4 10-1 1 1 6 1 7 5 3 5 2 9 3 3 9 2 8 6 3 6 1 7 3 3 4-3 1-5 3-7 5-5 7-3 6-1 6-3 0-25-3-1-4-3-1 1-3 0-1 1-6 1-5 2-5 6-4 2-10-9-20-4-6-3-4-4-3-6-1-7-4-4-24 1zM105 229l0 1 4 4 2 0 1-1 23 0 1 1 3 0 5 2 6 6 3 8 0 3 1 2 3 2 24 0 4-4 0-24-4-3-60 0-1-1-12 0zM0 225l0 32 13 0 11 4 6 7 0 2 2 4 0 4 2 3 0 2 2 2 2-3 0-2 2-4 0-3 3-7 6-6 5-2 3 0 1-1 26 0 4-3-3-4-3 0-1-1-3 0-5-2-6-6-3-7 0-4-4-4zM747 205l6 6 3 6 1 8 1 1 0 52 3 3 3 0 1 1 7 0 1 1 5 0 1 1 4 0 1 1 17 0 1 1 0 15 9 9 7 3 5 5 5 11 1 10 1 1 0 8 1 1 0 5-1 1 0 16-1 1 0 2 5 4 25 0 3-3-3-7-2-2-2 0-5-3-4-4-4-7 0-29-1-1 0-14-1-1 0-30 3-7 5-6 5-3 7-2 4-4 1-7 1-1 0-3 1-1 1-5 2-4 3-3 0-2-15-6-14 0-1-1-10 0-2 1-4 5-2 11-1 1-2 8-3 5 0 24-8 9-9 0-1-1 0-33-3-4 0-2-3-7 0-3-1-1 0-5-2-4-3-3-10-4-7-7-2-4 0-2-6-4-6 0-1 1zM616 202l-3 3 0 2 1 1 0 4 1 1 0 3 2 5 7 0 1 1 0 7 4 3 5 0 1 1 6 0 4-4-4-7-16 0-1-1 0-16-5-3zM243 179l-2 0-1-1-9 0-1-1-5 4 1 24 1 2 3 2 1-1 3 0 1-1 10-2 0-24zM374 174l-3 6 0 5 1 1 0 5 1 1 0 2 1 2 2 0 4-2 3-3 4-7 0-3-6-5-4-2zM834 173l-24 0-1 1-7 1-4 2-4 4 4 6 0 2 3 7 0 3 1 1 0 5 4 6 4 2 4-2 2-2 2-4 0-2 5-8 5-4 4-2 2 0 4-8zM540 181l4 4 9 0 1 1 10 1 4 2 4-8-4-8-24 0zM714 166l-1 0-1 2 0 3-2 5 0 8 1 1 2 11 3-6 0-6 1-1-1-11-1-1zM133 166l-1 1-1 6-3 8 4 3 4 0 1-1 8-2 0-2-4-7-5-5zM181 165l-10 9-3 7 2 0 4 2 3 0 1 1 4 0 3-3-1-6-3-7zM747 156l0 1 10 2 1 1 10 0 1-1 4 0 4-2-5-1-1-1-3 0-1-1-4 0-1-1-9 1-1 1zM447 153l-4 5-1 9-4 9-6 5 10 2 1 1 5 0 3-3 0-24zM326 153l-4 4 0 44 1 1 0 7 1 1 2 10 2-4 9-9 4-2-6-5-4-9 0-4-1-1 0-29zM593 142l-3 2-5 11 0 2 5 3 3 0 3-3-1-9-1-1zM858 129l-3 3 0 4-1 1 0 8-1 1 0 4-2 5 0 2 5 3 4 0 6-3-1-5-1-1-2-18-1-2zM931 129l-3 3 0 2 3 6 7 3 7 7 4 10 1 10 1 1 0 7 1 1 0 3-1 1 0 8-1 1-1 10-1 1-1 5-3 5-6 6-4 2-2 0-5 3-2 0-9 5 0 1 6 5 10 2 6 3 7 7 2 4 0 2 4 3 4 1 4-4 0-51 1-1 0-3 4-7 8-5 7-1 1-1 11 0 0-31-15 0-8-3-6-6-3-8 0-3-4-5-4 0-1 1zM665 117l-3 6-7 7-6 3 0 48 2 0 4 2 3 0 1 1 7 0 3-5 0-8 1-1 0-5 1-1 0-4 1-1 0-5-1-1-1-10-1-1-1-16-1-1 0-4zM795 108l5 2 3 0 1 1 4 0 1 1 25 0 3-2 0-3-3-2-29 0-1 1-4 0zM447 105l-3 3 3 4 3-3zM592 104l-3 4 0 5 1 1 1 7 1 2 1 0 1-5 1-1 1-9zM374 103l-3 5 0 25 4 7 24 0 3-6 0-2-3-3-3 0-10-4-4-4-3-7-1-6-2-4zM326 93l-4 2-4 4-5 9 8 3 3 0 1 1 1 0 4-4-1-1 0-4-1-1 0-3-1-1zM276 93l-7 4-3 3-3 5-1 4-9 10-1 6-1 1 0 4-1 1 0 33 1 1 0 4 1 2 9 8 4 9 8 7 5 1 1-6 3-8 0-40-1-1 0-10 1-1 0-5 1-1 0-3 1-1 1-5 6-7-5-9-7-6zM568 56l-24 0-8 4 0 4-1 1-1 7-4 10-2 3-10 9 0 2-1 1 0 5-1 1 0 8-1 1-1 6-6 7-6 3-7 1-3 3 3 4 9 2 4 2 4 4 3 6 1 7 3 3 3 0 4-2 2-2 0-2 2-4 7-7 9-4 5-6-1-8-1-1 0-5-1-1 0-8-1-1 3-11 5-6 6-3 7-1 4-3 0-25zM326 20l-15 15 0 3 4 7 9 6 2 0 6-13 2-2-1-1-1-5zM903 0l0 11 3 4 27 0 1 1 3 0 3 2 2 0 6 6 3 7 0 3 4 5 3 0 1 1 16 0 1 1 15 0 0-41zM831 0l0 36 5 4 3 0 7 3 6 6 2 5 1 6 4 4 24 0 3-4 0-25-4-3-3 0-8-3-5-5-4-10 0-14zM777 0l-43 0 0 38-1 1 0 3-3 6-5 5-4 2-7 1-3 2-2 4 0 6-1 1-1 6-4 7-3 3 0 7-1 1-1 15 5 2 10 2 4-4 0-3 3-8 6-6 8-3 29 0 1-1 10-1 2-1 10-10 0-2 6-13-1-2 0-8-1-1 0-11-1-1 0-5-1-1-2-10-9-10zM625 0l0 12 2 5 5 6 7 4 2 0 0-1 6-6 6-3 12-2 3-3 0-12zM491 0l0 26 1 1 0 25-1 1 0 14 1 1 0 16 4 4 3 0 1-1 7 0 4-3-4-7 0-2-2-4-1-8-1-1 0-3-2-5 0-5-1-1 0-7-1-1 0-13 1-1 0-26zM402 0l-35 0 0 36 6 3 2 0 3-3 2-9 3-5 7-5 9-2 3-3zM177 0l0 11 4 4 2 0 1 1 5 0 10 4 15 16 0 30 1 1 0 7 1 1 0 9 8 3 4 0 1 1 2 0 1-1 6 0 1-1 3 0 3-2-4-2-4-5-3-8 0-4-1-1 0-7 1-1 1-5 3-5 5-4 11-3 3-3 2-9 5-7 5-3 10-2 6-3 0-12zM32 0l0 67-1 1-1 11-2 5 1 24 3 3 4 2 51 0 1-1 24 0 1 1 4 0 10 4 5 5 0 1 1 0 1-5 5-10 0-15 1-1 0-8-7-4-6-1-6-3-6-7 0-2-2-4 0-6-1-1 0-56-7 0 0 13-4 11-7 6-2 0-4 2-7 0-1-1-3 0-8-5-5-10 0-16z"/>
<path fill="#ff0000" fill-rule="evenodd" d="M374 972l0 3-1 1 0 15 3 0 0-16-1-1 0-2zM0 952l0 39 14 0 0-25 1-1 0-7 1-1 0-2-5-3zM929 955l0 36 62 0 0-38-23 0-1-1-15-1-1 1-8 0-1 1-11 0zM728 931l2 4 1 8 1 1 0 5 1 1 0 7 1 1 0 6 1 1 1 26 30 0 0-11-5-3-6 0-8-3-4-4-2-4-1-9-1-1 0-25-2-2-5 1-1 1zM698 931l-3 0-5-2-25 0-2 2-1 9-2 5-7 6-6 1-1 1-5 0-2 2 0 36 6 0 0-13 4-10 5-5 7-3 3 0 5-5 4-11 5-5 7-3 6-1zM569 929l-4 2 1 1 2 8 4-7 0-2zM207 931l-2-2-26 0-1 1-4 0-3 2-2 5-6 6-7 4-3 6 0 2 3 2 26 0 4-3 0-3 3-7 5-5 7-3 3 0 2-2zM60 929l-2 2 0 9-1 1-1 15 4 4 1-1 5 0 1-1 17-1 2-2-1-3-3-2-3 0-6-3-5-5-3-7 0-3zM834 927l-2 3 0 25 2 2 2-2 0-25zM906 903l-3 4 4 2 2-2-1-1 0-2zM350 903l-4 4 0 24 5 2 4-2 0-13-1-1 0-11zM472 881l-3 2 0 48 2 2 2-2 0-49zM421 881l-1 1-5 1 0 23 5 4 3 1 2-4 0-24-2-2zM56 883l4 2 4-2-3-2-3 0zM277 879l-1 2 0 36-1 1 0 13 2 2 25 0 4-2 0-24-5-5-6-1-5-3-4-4-3-6-1-5-4-4zM104 882l0 3 1 1 0 7 1 1 0 12 3 3 10 0 1 1 8 0 1 1 6 0 1 1 7 0 1 1 4 0 1 1 3 0 5 2 1-7 1-1 0-9 1-1 1-8 2-4 3-3-2-2-7-3-48 0zM732 875l-2 2-2 5 5 1 1 1 4 0 1-1-1-8-1-1zM516 858l0 1 3 2 4-2-1-2-4 0zM88 858l-4-1-2 2 2 4 3-2zM32 858l3 4 1 0 2-3-2-2zM786 856l-2 2 0 25 2 2 8 0 1 1 5 0 1 1 2 0 4 2 3 3 1-6 1-1 0-4-1-1-1-7-2 0-6-4-3-3-3-6-2-2-3 0zM254 850l-3 6-2 2 3 2 3 0 3-2zM907 849l-1 6-1 1 0 3 2 4 4-4-1-5zM832 834l2 2 3 0 1-1 5-1-9-4zM718 835l-5-3-7 0-1-1-9-1-4-2-3-3-1 4-3 4-1 6-3 6-6 6-8 3-4 0-1 1-7 0-1 1-13 0-5 3-1 6-2 4-6 6-8 3-3 0-1 1-6 0-1 1-11 0-1 1-5 0-3 2 0 2 1 1 0 8 1 1 0 12 2 4 9-4 4-7 5-5 6-3 3-3 8-3 4 0 1-1 8 0 4-2 2-3 0-3 3-6 4-4 6-3 7-1 1-1 6 0 1-1 12 0 1-1 3 0 1 1 8 0 1 1 4 0 7 3 2 2 4 0 3-2 2-4 0-5-2-4-1-10-1-1zM979 806l-7 4-2 0-2 5-3 4-5 4-4 2-5 1-4 4-1 4 5 1 1 1 6 0 1 1 4 0 1 1 5 1 5 5 2 4 1 10 2 2 12 0 0-54zM471 806l-2 4 0 24 2 2 3 0 1-1 5-1 0-24zM349 806l-8 4 3 3 2 4 1 8 1 1 0 8 2 3 1 0 4-3 0-24-4-4zM907 784l-2 2-1 17-1 1 0 5-1 1 2 2 3 7 26 0 1-1 2 0 3-3 1-5-4-5 0-2-1-1-1-10-1-1 0-5-2-2zM832 786l2 4 4-1 5-3-5-1-1-1-3 0zM786 784l-25 0-4 2 0 24 5 2 2-2 0-6 1-1 1-6 2-3 5-4 7-1 1-1 5 0 2-2zM520 784l-2 2-1 10-1 1-1 7-4 6 5 1 1 1 12 1 5 2 5 5 0 2 2 4 1 9 2 3 2-4 0-5 1-1 0-3 2-5 5-5 5-2 9-1 2-3-3-4-3 0-7-3-5-5-2-4-1-5-2-3-2-1zM93 786l-5-1-1-1-28 0-4 3 0 3-3 7-5 5-7 3-3 0-4 5 3 2 24 0 1-1 2 0 2-2 0-3 3-7 5-5 6-3 6-1zM688 760l-3 2 4 7 0 2 0-3 1-1 1-5zM472 760l-2 0-3 2 4 4 4-4zM277 760l-2 5 0 5-3 7-3 3-4 2-7 1-1 1-4 0-1 1 0 2 2 3 9 3 6 5 2 3 3 12 2 4 2 1 0-3 2-5 0-48zM231 761l-1-1-26 0-3 2-4 11-4 4-5 3-7 1-4 4-1 6-2 5-2 3-5 4-8 3-26 0-2 3 0 3-1 1 0 12-1 1 0 6-1 2 5 5 24 0 8-4 4-7 6-6 6-3 1-6 1-1 1-11 2-5 7-6 6-1 1-1 5 0 2-2 1-9 2-5 5-5 8-3 6 0zM132 712l-1 1 0 28 1 1 0 2 2 2 2 0 5 3 4 4 4 8 2 2 6 3 4-4 0-3-1-1 0-8-1-1 0-11-3-3-6 0-8-3-4-4-3-8 0-6zM447 711l-2 2 1 5 1 1 0 3 1-6 1-1 0-2zM0 711l0 28 12 0 2-2 0-23-3-3zM955 709l-2 4 0 12-1 1 0 7-1 1 0 3 6 3 5 0 8 3 4 4 2 4 1 10 3 5 11 0 0-30-11 0-1-1-6 0-1-1-6-1-7-8 0-2-1-1 0-5-1-1 0-4zM786 709l-2 4 0 25 1 1 3-1 0-25zM278 709l-24 0-2 3 0 26 1 1 3-2 0-6 1-1 1-6 8-7 12-2 2-2zM867 689l-2-1-4 0-1-1-2 0-4 2 5 9 7-6zM520 687l-2 2 0 25 1 1 25 0 2-2 0-24-2-2zM207 687l-2 0-2 2 0 24 2 2 2-2 1-11 1-1 1-6 4-6-6-1zM350 685l-4 4 0 26-1 1-1 5-5 7-7 4-6 1-2 4 0 25 1 1 1 7 3 0 1-1 7-1 1-1 5 0 1-1 10 0 7 3 6 6 2 4 2 8 3 3 8 2 5 3 3 3 3 6 1 6 5 2 2-2 0-24-2-4-11-4-6-6-3-10-5-10-5-2-7-7-2-4 0-3 2-4 7-7 5-2 2-5 0-3 1-1 0-21-1-1 0-3-2-2-9 0-1-1-9 0-1-1zM929 663l-1 1-6 1 3 3 2 5 1 9 1 1 0 6 3 2 3-2-1-14-1-1 0-9-2-2zM300 663l-1 1-4 0-2 1 0 1 1 1 0 3 2 5 1 13 2 2 4 1 3-2 0-4-1-1 0-8-1-1 0-10-2-2zM808 663l0 2 2 4 24 0 2-3-2-3-15-2-7-3-2-2-1 6zM753 641l9 4 4-4-3-2-5 0zM155 639l-3 2 0 7-1 1 0 5-1 1-2 10 3 0 1 1 5 1 2-2 0-24-2-2zM113 641l-3-2-26 0-2 2 0 5-1 1 0 3-2 5-7 6-12 2-2 2 0 9-1 1-1 14 3 2 3-2 0-4 1-1 1-7 1-2 7-6 6-1 1-1 19 0 1 1 11 0 3-2 4-1 0-3-1-1-1-7-1-1zM963 616l-8-1-2 2 0 23 1 2 2 0 1-1 1-12 1-1 1-6 4-5zM712 616l1 2 4-1 0-1-2-1-2 0zM492 616l3 4 2 0 2-2 0-2-2-1zM355 617l-3-2-5 1-2 3 0 3-3 6-7 6-8 2-2 2 0 2-1 1 3 2 12 0 1 1 7 0 1 1 2 0 5-5zM0 614l0 29 11 0 3-3 0-23-2-3zM782 592l2 25 2 4 17 2 7 3 2-10-3-2-6 0-8-3-5-6-1-7-1-1 0-5-2-2zM568 590l-2 2 2 2 2-2zM473 594l0-2-2-2-1 1-7 1 7 4 2 0zM181 590l-2 2 2 2 11 2 4 2 5 6 1 6 1 1 0 29 3 3 12 0 1 1 7 0 1 1 3 0 4-5-1-1 0-6-1-1 0-11-1-1 0-4-3-2-5 0-1-1-6-1-4-3-3-5 0-2-1-1 0-5-3-8-2 0-1 1-8 0-1 1zM86 589l-4-1-1 1-8 0-1 1-12 0-2 2 0 24 2 2 1 0 1-2 1-9 3-6 3-3 4-2 2 0 1-1 5 0 1-1 5-1 1-2zM326 584l0 2-2 4 0 3 2 3 2-3 0-3-1-1zM641 583l-2 5 0 3-1 1 1 25 3 2 6 0 1 1 5 1 3 2 3 4 2 5 0 4 1 1 0 28 2 2 5 0 1 1 6 1 7 6 2 5 0 3 1 1 0 29 3 2 4-3 1-6 6-8 5-3 6-1 10-5-4-3-2 0-4-2-3 0-7-3-6-7-3-10-5-4-3 0-5-2-7-6-4-10-1-14-1-1 0-35-2-4-6 0-1-1-10-1zM991 542l-36 0-2 2-1 10-2 4-5 5-5 2-3 0-1 1-29 0-3 3 1 1 0 23 2 4 1-1 6 0 1-1 10 0 1-1 5 0 2-2 1-9 2-5 5-5 5-2 5 0 1-1 39 0zM812 544l-2-2-9 2 4 1 4 3 1 0zM108 542l-2 2 1 1 1 7 1 0 0-2 4-6zM0 542l0 29 11 0 3-3 0-24-2-2zM471 540l-4 4 4 2 2-2zM594 518l-3 0-3 2 0 24 4 2 1-1 2 0 2-2 0-23zM542 520l2 2 4-2-3-2zM978 495l1 2 12 0 0-3-12 0zM860 495l-1-1-25 0-2 2 0 23 1 2 2 0 2-2 1-9 2-4 5-5 5-2 3 0 1-1 4 0zM133 491l-2 3 0 27 2 3 2 0 1-1 7 0 1-1 12 0 3-3 0-23-4-3-13 0-1-1-6 0zM955 470l-1 2 2 1 1-2zM787 470l-2 0-1 1-1 9-2 5-3 4-3 2-2 0-4 2-6 0-3 2 0 4-1 1 0 11-1 1-1 11-3 7-6 6-11 4-15 1-1 1-8 0-4 2-1 5-3 6-5 5-6 3-5 1-4 4 3 2 26 0 4-2 0-3 4-9 8-6 6-1 1-1 4 0 1-1 21-1 1-1 6-1-5-10 0-5-1-1 0-15 3-8 4-4 8-3 6 0 3-3 0-23zM616 470l-2 1 0 20 1 1 0 5 1 2 1 0 1-2 0-26zM350 443l-2 4 0 13-1 1 0 7-1 1 0 2 3 2 9 1 1 1 5 1 6 6 0 2 2 4 0 6 1 2 3 2 5 0 1 1 6 1 6 6 1 5 1 1 1 10-1 1 0 5-3 7-3 3-4 2-7 1-1 1-4 0-1 1 1 7 1 1 3 0 1-1 13-1 1-1 8 0 1 1 5 1 7 5 3 5 1 6 1 1 0 25-1 1-1 6-2 4-6 6-10 3-5 5 0 23 5 3 24 0 2-2 0-31 1-1 1-9 3-6 3-3 2-5 5-5 7-4 1-5 1-1 0-4-2-3-11-4-5-5-4-11-5-5-3 0-7-3-5-5-3-6-1-8-1-1 0-7-1-1 0-18 1-1 0-4 2-4 5-5 2 0 4-2 5 0 1-1 2 0 2-2 0-24-2-2-2 2-1 9-2 5-5 5-4 2-3 0-1 1-36 0-1-1-4 0-4-2-4-4-3-7-1-9zM643 423l-2-2-9 2 9 4zM0 421l0 28 12 0 2-2 0-24-2-2zM764 422l-2-3-3 0-6 4 9 2zM690 419l-1 0-2 3 0 50 2 2 2-2 0-4 1-1 0-5 1-1 0-2 6-7 2 0 4-2 10-1 1-1 6-1 0-1-4-4-14-7-5-6-2-4 0-2zM931 414l-2 9 2 2 5-1 1-1 3 0 0-1-8-8zM883 415l-1-1-5 4-6 1-1 1-6 0-1 1-29 0-2 2 0 24 2 2 25 0 2-4 0-5 3-8 6-5 14-3 0-6-1-1zM970 399l0 23 8 3 13 0 0-28-15 0-1 1zM592 397l-2 2 2 4 1 0 3-4zM85 397l-3 2 0 24 2 4 5-5 0-23zM520 390l-5 9 0 3-3 7-6 6-7 3-3 0-2 3 0 29-1 1 0 41 1 1 0 4-1 1 0 12-1 1 0 6-1 1 2 3 3 0 2-3 1-9 2-4 4-4 8-3 5 0 4-3 1-10 2-4 5-5 2 0 4-2 11-1 1 1 7 0 1 1 3 0 7 3 2 2 0-2 2-4 0-35 1-1 1-15-3-2-29 0-1-1-4 0-5-2-5-5-2-4 0-3-1-1 0-7-1-1zM157 397l-2 2 0 48 2 2 52 0 1 1 4 0 5 2 5 5 3 8 0 30 4 3 5 0 8 3 4 4 2 4 0 2 1 1 0 6 3 4 1-1 7-1-4-7-1-7-1-1 0-16 3-8 5-5 2 0 4-2 5 0 1-1 18 0 1 1 7 0 4-3-4-2-10-1-6-3-4-5-1-6-1-1 0-6-2-2-2 2 0 2-1 1 0 5-1 1-1 5-5 5-8 3-12 0-1-1-4 0-4-2-4-4-3-7 0-5-1-1 1-26-3-2-5 0-1-1-10-1-6-3-3-3-6-3-4-4-3-6-3-2-7-8-4 3-5 2zM907 372l-2 2 0 2 2 3 4-4zM423 370l-2 0-1 1-9 0-1 1-28 0-1 1-7 0-2 4 0 12-1 1 0 7-1 1 0 25 4 2 5-2 0-27 4-9 4-4 9-4 12-1 1-1 12 0 1-1 2 0 1-2zM553 373l-1-1 0-2-3-3-5-2-2 4-4 3-2 3 2 0 1 1 8 0 1-1 3 0 2-1zM129 350l0 1 2 1 2 0 1-1-1-2zM689 348l-2 2 0 25 2 4 24 0 2-3 0-2-4-3-4 0-7-3-5-5-2-5 0-3-1-1 0-4zM594 348l-2-5-3 2-2 0-4 2-20 2-1 1-2 0-1 2 1 1 0 2 3 3 2 1 4 0 3-3 5-2 16-2 1-1zM228 348l0 3 1 1 12 2 8 7 0 2 2 4 0 6 2 3 14 3 6 6 1 5 1 1 1 8 2 2 24 0 1-1 3 0 5-2 0-23-1-1-2 0-1-1-30 0-1-1-9-1-4-2-4-4-2-4-1-10-1-1 0-5-2-4-8 3-15 2zM495 325l-1 2 2 1 1-2zM0 322l0 6 15 0 1-1 5-1-8-4zM991 300l-12 0-4 2-3 10-7 7-2 0-3 2-3 0-1 1-25 0-2 4 0 26 3 3 3 0 7 3 6 6 3 8 1 6 3 5 2-5 0-30 1-1 0-5 1-1 0-2 2-4 3-3 4-2 7-1 1-1 15 0zM278 300l-2 2 0 3-1 1 0 7-1 1-1 6-4 6 5 1 1 1 30 0 1 1 4 0 1 1 5 1 6 7 1 6 1 1 0 7 1 1 0 4 1 2 2-3 7-6 0-10-1-1 0-25 1-1 0-11-6-1-1-1zM179 302l0 25 2 3 16-1 1-1 8 0 3-2-2-24-2-2-24 0zM110 302l-2-2-24 0-4 2-1 5-3 6-5 5-6 3-6 1-8 4 1 5 1 1 0 3 1 1 0 5 1 1 0 6 1 2 3 2 3-2 0-4 1-1 1-7 6-7 2 0 4-2 9-1 4-2 0-3 1-1 1-5 2-3 6-5 5-2 3 0 2-2zM447 293l-4 8 0 26 3 3 1 0 2-3 0-27-1-1zM665 276l-2 1 0 26 2 1 2-2 0-24zM883 274l-4 4 0 24 3 4 1 0 2-4 0-9 1-1 0-4 1-1 1-5 2-3 2-1-3-2-2 0zM374 252l-1 1 0 25 1 2 1 0 2-2 0-20-1-1 0-4zM227 277l3 3 1-1 7-1 4-7 5-5 6-3 1-2 7-7 1 0-4-2-29 0-2 2zM713 250l-1 4 2 1 1-2zM616 245l-2 2-7 3-4 0-1 1-8 0-6 3 0 24 4 8 1-5 1-1 1-10 1-1 1-5 5-5 4-2 10-1 2-2 0-5zM328 252l-1-1-1-6-4 3-5 2-19 2-1 1-3 0 0 1 3 0 1 1 29 0 1-1zM445 230l0 24 1 1 1 7 10-5 4 0 1-1 8 0 1-1 1 1 10 1 4 2 4 4 2 4 1 9 3 4 5 0 1 1 6 1 6 5 3 7 0 5 1 1 0 2 2 2 2-2 0-6 1-1 1-6 4-5 6-3 10-1 4-2 0-24-4-3-9 3-2 4-5 6-6 4-4 0-4-2-7-7-2-5-5-1-1-1-11-1-1-1-5-1-6-6-1-5-1-1 0-5-1-1 0-2-2-2-23 0-2 1zM107 229l2 3 25-1 1 1 5 0 1 1 5 1 4 3 3 5 0 2 1 1 0 5 2 5 25 0 2-2 0-24-2-2-73 0zM0 227l0 28 11 0 1 1 6 0 1 1 6 1 7 8 0 2 1 1 0 5 1 1 0 4 2 3 2-4 0-6 1-1 1-6 5-6 4-2 10-1 1-1 25 0 1-1-1-2-2 0-1-1-9-1-4-2-3-3-3-7-1-9-2-2zM834 225l-4 4-2 16-3 8 0 26-3 5-6 6-5 2-3 3-2 4 0 3 4 4 11 4 5 5 3 6 1 8 1 1 0 8 1 1 0 34-1 1 2 2 26 0 1-1-1-4-11-4-6-6-3-7 0-29-1-1 0-50 3-8 6-6 5-2 7-1 3-4 0-5 1-1 1-10 3-6 0-2-8-3zM643 229l-3-4-4 1-4 3 4 2 5 0zM753 205l3 4 2 5 1 12 1 1 0 51 2 2 12 0 1 1 7 0 1 1 5 0 5-2 2-2 0-25-3-8 0-5-1-1-1-10-4-4-8-2-5-3-5-7-2-8-4-2-5 1-1 1zM617 203l-2 2 0 4 2 5 4-9zM229 179l-2 2 0 24 2 2 2 0 1-1 7-1 0-24zM834 177l-26 0-7 4 2 5 1 9 1 1 0 7 1 1 0 2 3 3 2 0 3-3 3-10 6-7 7-3 3 0 2-2 1-4zM542 180l2 3 9 0 1 1 9 0 1 1 4 0 2-3 0-2-2-3-24 0zM376 177l-1 0-2 3 0 5 2 5 7-8-1-2zM713 173l-1 7-1 1 1 1 1 7 2-5 0-6zM181 172l-3 2-3 4-1 3 2 0 4 2 3-2zM133 172l-3 9 3 2 1-1 6-1-2-4zM753 157l3 0 5 2 9-2-5-1-1-1-6 0zM447 155l-2 2-1 13-1 1-1 5-4 5 3 0 5 2 3-2 0-24zM326 155l-2 2 0 49 1 1 1 7 1-2 8-7-2-2-4-10 0-7-1-1 0-28zM592 148l-4 9 4 2 2-2 0-4zM859 131l-3 2 0 13-1 1 0 7-1 1 0 2 4 2 5-3-1-1 0-6-1-1 0-12zM931 131l-2 2 2 4 10 3 8 9 1 6 1 1 0 4 1 1 0 8 1 1 0 22-1 1 0 8-1 1 0 4-1 1 0 3-2 5-7 7-8 3-3 0-8 4 6 4 6 1 9 4 5 6 3 9 2 2 3 0 1-1 0-52 1-1 1-7 2-4 6-5 7-1 1-1 16 0 0-28-14 0-1-1-5 0-7-3-3-3-2-4-2-12-2-2zM665 124l-2 3-7 6 0 48 6 1 1 1 2 0 2-2 0-11 1-1 0-8 1-1-1-16-1-1 0-12-1-1zM448 107l-2 0 0 2 1 1 2-2zM802 108l5 2 28 0 1-1-2-3-24 0-1 1zM592 106l-2 3 1 1 1 7 2-5 0-4zM374 106l-1 1 0 27 2 3 23 0 2-3 0-2-3-2-6 0-1-1-2 0-4-2-4-4-3-8 0-6-1-2zM326 99l-7 8 1 2 6 1 2-2zM278 99l-9 8-3 7-7 7-5 2-1 5-1 1 0 32 1 1 0 3 2 2 5 2 5 5 6 11 6 5 3-7 0-59 1-1 1-9 3-5 0-2zM568 58l-25 0-4 3 0 7-1 1 0 5-1 1-1 7-4 8-6 6-6 3-1 2 0 2-1 1 0 6-1 1 0 5-1 1-1 5-6 6-2 0-4 2-6 0-3 2 2 3 6 0 8 3 5 5 0 2 2 4 0 5 1 1 0 2 2 2 4-2 2-8 5-7 7-4 6-1 4-4 0-4-1-1 0-8-1-1 0-15 1-1 0-4 2-5 5-5 16-4 0-25zM326 27l-9 9 1 2 8 7 4-8 0-3zM905 0l0 12 2 2 31 0 8 3 5 6 1 6 1 1 0 6 2 2 22 0 1 1 13 0 0-39zM832 0l0 36 2 2 6 0 1 1 6 1 3 2 4 5 0 2 2 4 0 6 2 3 25 0 2-2 0-24-2-2-12-2-6-4-2-3 0-2-2-4 0-5-1-1 0-13zM771 0l-35 0 0 36-1 1 0 6-1 1-1 5-4 5-7 3-9 1-2 2-1 14-1 1 0 3-4 10 0 14-1 1 0 5 5 1 1 1 4 0 2-5 0-5 3-7 3-3 4-2 2 0 1-1 5 0 1-1 30 0 1-1 3 0 2-1 2-5 7-7 6-3 0-2 3-6-1-26-1-1-1-7-6-3-6-6-3-5zM631 0l0 11 8 9 2 0 4-3 2 0 4-2 4 0 1-1 8 0 3-3 0-11zM493 0l0 32 1 1 0 7-1 1 0 37 1 1 0 6 1 1 4 0 1-1 5-1-3-7-1-11-1-1 0-6-1-1 0-7-1-1 0-12-1-1 0-4 1-1 0-32zM401 0l-31 0 0 35 2 2 3 0 2-2 1-10 2-4 4-4 8-3 6 0 3-3zM179 0l0 12 2 2 9 0 1 1 4 0 1 1 5 1 4 4 8 4 5 6 2 4 0 29 1 1 0 14 1 1 0 4 5 2 5 0 1-1 5-1-2-2-3-7-1-12-1-1 1-10 3-7 6-5 6-1 1-1 5 0 3-3 1-10 2-4 4-4 8-3 6 0 1-1 2 0 2-2 0-11zM33 0l1 66-1 1 0 10-1 1 0 5-1 1 0 3 1 1 0 20 4 3 59 0 1-1 14 0 1 1 8 0 1 1 3 0 7 3 2 2 4-8 1-25-7-3-5 0-7-3-3-3-4-10 0-16-1-1 0-48-4 0 0 18-3 8-5 5-5 1-1 1-4 0-1 1-6 0-1-1-7-1-4-2-4-4-2-5 0-4-1-1 0-16z"/>
</g>
</svg>
</body></html>
